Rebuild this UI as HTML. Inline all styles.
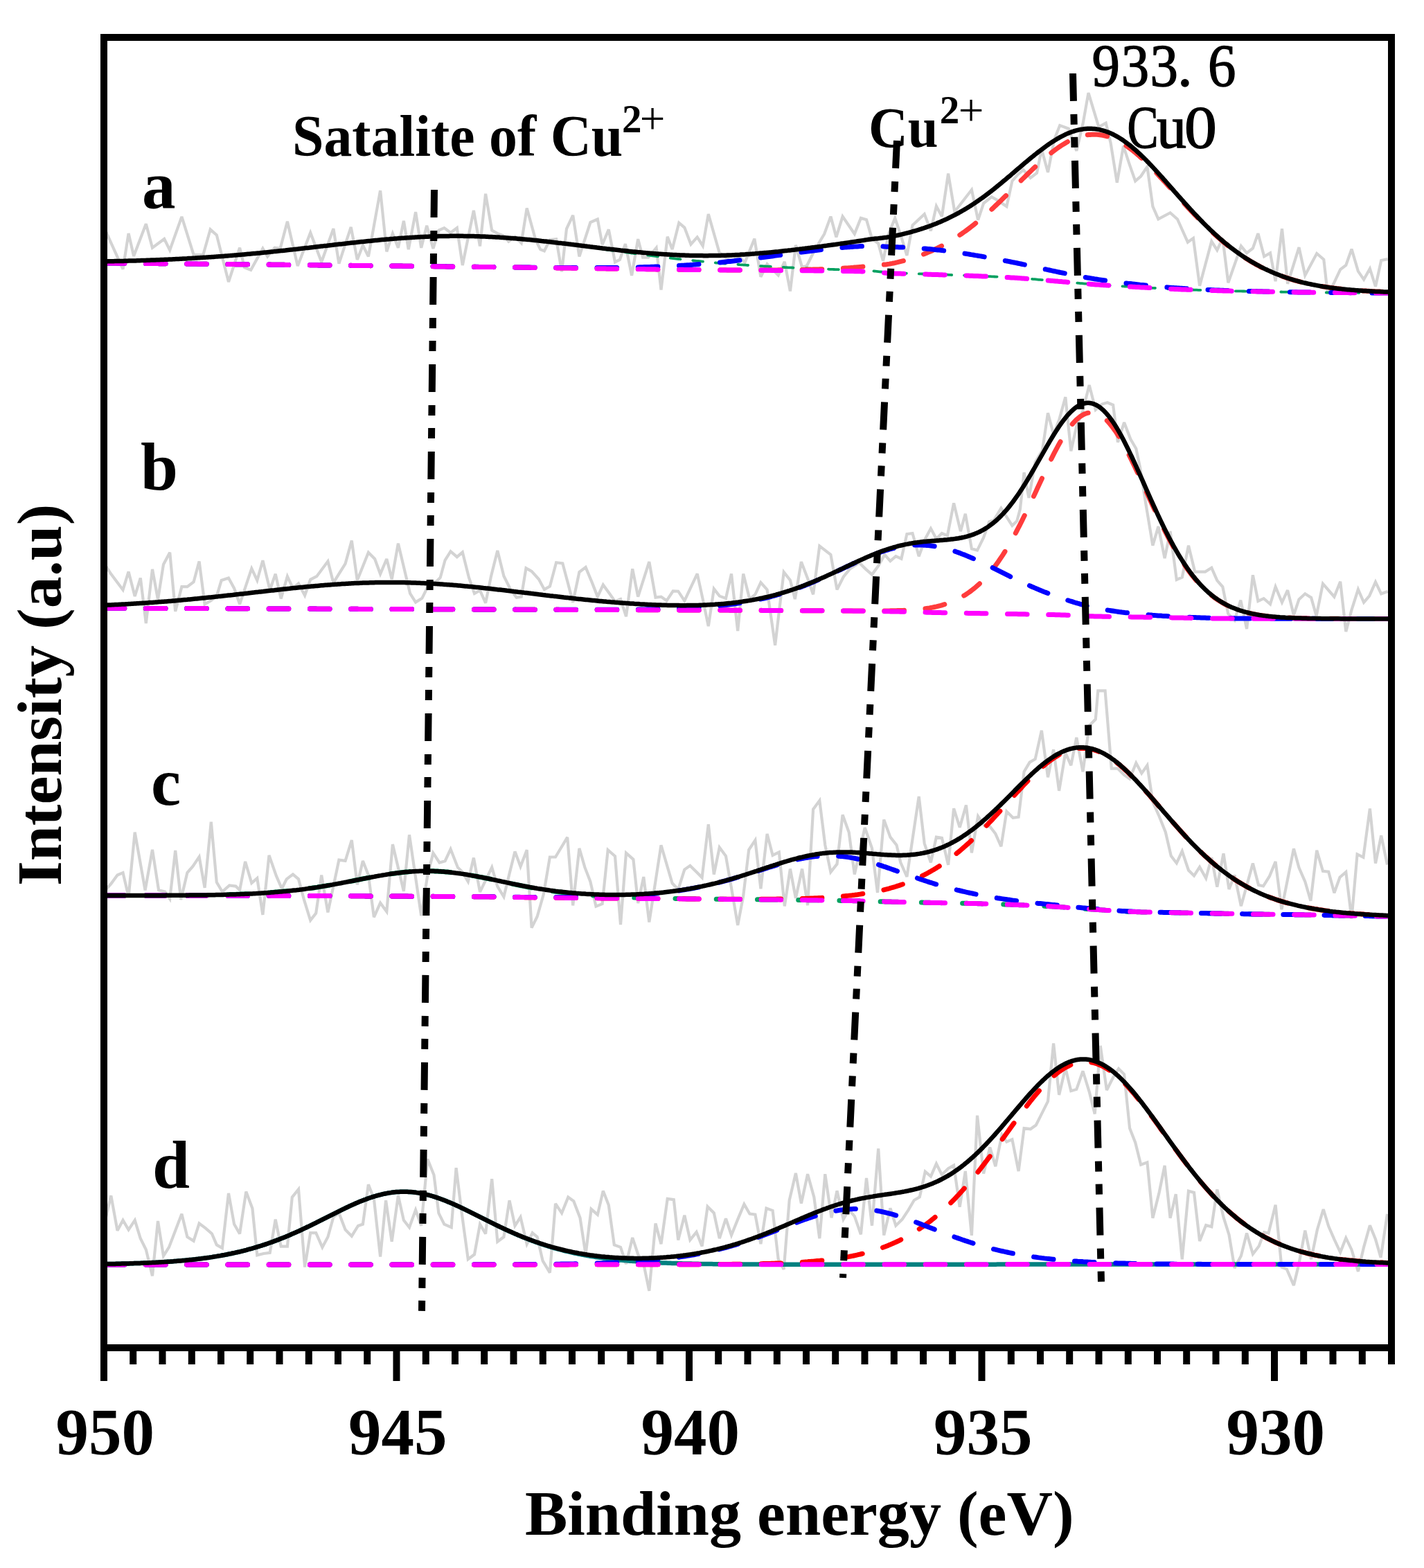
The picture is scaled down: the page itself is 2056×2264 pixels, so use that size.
<!DOCTYPE html>
<html><head><meta charset="utf-8"><style>
html,body{margin:0;padding:0;background:#fff;}
body{width:2056px;height:2264px;overflow:hidden;}
svg{display:block;}
.b{font-family:"Liberation Serif","Times New Roman",serif;font-weight:bold;fill:#000;}
.r{font-family:"Liberation Serif","Times New Roman",serif;font-weight:normal;fill:#000;}
</style></head><body>
<svg width="2056" height="2264" viewBox="0 0 2056 2264">
<rect width="2056" height="2264" fill="#fff"/>
<g clip-path="url(#c)">
<path d="M150.0,327.8 L177.5,388.6 L185.6,337.0 L193.1,369.8 L210.8,323.3 L220.0,357.7 L237.2,345.0 L245.2,361.1 L262.4,312.9 L279.6,368.0 L293.3,368.0 L303.7,331.3 L312.8,339.3 L330.0,407.0 L346.1,357.7 L353.0,386.3 L362.2,389.8 L379.4,358.8 L386.2,370.3 L396.6,357.7 L404.6,358.8 L414.9,319.8 L429.8,384.0 L448.2,335.9 L464.2,378.3 L481.4,330.1 L489.4,380.6 L506.7,327.8 L515.8,374.9 L523.9,354.2 L531.9,370.3 L549.1,275.1 L558.3,363.4 L566.9,337.2 L574.9,357.8 L582.9,318.8 L589.8,360.1 L600.1,306.2 L608.2,357.8 L616.2,325.7 L625.4,358.9 L633.4,332.6 L641.4,329.1 L650.6,336.0 L659.8,329.1 L667.8,383.0 L683.9,303.9 L693.0,355.5 L701.1,279.8 L710.2,332.6 L718.3,337.2 L727.4,340.6 L734.3,348.6 L743.5,341.7 L752.7,350.9 L760.7,300.5 L773.3,346.3 L780.2,360.1 L785.9,362.4 L793.9,346.3 L803.1,345.2 L811.1,392.2 L818.0,330.3 L827.2,310.8 L836.4,370.4 L852.4,321.1 L862.8,316.5 L869.6,353.2 L878.8,331.4 L888.0,378.4 L894.9,375.0 L902.9,352.1 L912.1,397.9 L921.2,345.2 L928.1,371.6 L936.1,371.6 L947.6,357.8 L954.5,418.6 L963.7,341.7 L970.6,360.1 L980.3,321.7 L988.3,328.6 L997.5,352.7 L1006.7,342.4 L1014.7,355.0 L1022.8,309.1 L1038.8,365.3 L1048.0,372.2 L1057.2,376.8 L1066.3,369.9 L1075.5,379.1 L1089.3,344.7 L1098.4,399.7 L1107.6,381.4 L1116.8,390.6 L1123.7,397.4 L1132.8,377.9 L1140.9,420.4 L1148.9,353.9 L1158.1,386.0 L1165.0,383.7 L1174.1,365.3 L1183.3,349.3 L1190.2,337.8 L1199.4,312.6 L1207.4,342.4 L1216.6,312.6 L1233.8,337.8 L1242.9,314.9 L1251.0,317.2 L1259.0,344.7 L1268.2,351.6 L1275.0,376.8 L1283.1,337.8 L1292.2,314.9 L1301.4,342.4 L1309.4,368.8 L1317.5,325.2 L1334.7,309.1 L1343.9,333.2 L1351.9,297.7 L1359.9,312.6 L1369.1,250.6 L1378.3,305.7 L1402.9,274.0 L1412.1,317.6 L1420.1,293.5 L1431.6,284.3 L1439.6,288.9 L1453.4,298.1 L1461.4,261.4 L1469.4,252.2 L1477.5,245.3 L1487.8,256.8 L1497.0,249.9 L1503.9,215.5 L1513.0,248.8 L1522.2,201.7 L1530.2,181.1 L1542.8,185.7 L1554.3,217.8 L1563.5,178.8 L1571.5,134.1 L1586.4,183.4 L1596.7,177.7 L1603.6,206.3 L1612.8,263.7 L1622.0,210.9 L1631.1,238.4 L1639.2,261.4 L1647.2,254.5 L1656.4,240.7 L1664.4,298.1 L1672.4,316.4 L1689.6,307.2 L1700.0,316.4 L1714.9,349.7 L1722.9,343.9 L1732.1,412.8 L1749.3,348.5 L1757.3,361.1 L1765.3,343.9 L1773.3,408.2 L1791.9,355.3 L1800.1,365.3 L1808.9,358.4 L1816.4,337.1 L1825.2,370.4 L1834.0,365.3 L1841.6,406.2 L1851.0,330.2 L1859.1,409.9 L1875.5,357.2 L1884.3,397.4 L1901.2,366.0 L1911.3,374.7 L1916.9,424.4 L1925.7,409.3 L1935.2,389.2 L1943.3,382.9 L1951.5,359.7 L1960.9,391.7 L1969.1,403.6 L1977.9,387.9 L1986.0,413.7 L1994.2,376.0 L2003.6,374.1" stroke="#d3d3d3" stroke-width="4.2" fill="none" stroke-linejoin="miter" stroke-miterlimit="3"/><path d="M150.0,812.8 L160.3,828.8 L177.5,851.7 L185.6,825.4 L194.7,860.9 L202.8,834.5 L210.8,899.9 L220.0,821.9 L228.0,865.5 L236.0,815.0 L245.2,797.8 L253.2,882.7 L262.4,847.2 L270.4,847.2 L279.6,840.3 L287.6,810.5 L295.6,872.4 L303.7,867.8 L312.8,860.9 L319.7,838.0 L330.0,834.5 L338.1,849.4 L346.1,872.4 L363.3,820.8 L371.3,838.0 L379.4,809.3 L389.7,851.7 L397.7,828.8 L405.7,864.4 L414.9,832.2 L422.9,849.4 L431.0,842.6 L440.1,859.8 L448.2,836.8 L457.3,832.2 L473.4,810.5 L481.4,841.4 L498.6,813.9 L507.8,780.6 L515.8,838.0 L531.9,797.8 L541.1,807.0 L549.1,828.8 L558.3,807.0 L565.7,836.3 L574.9,784.7 L592.1,857.0 L600.1,869.6 L609.3,863.9 L617.3,847.8 L626.5,843.2 L635.7,834.0 L642.6,808.8 L650.6,796.2 L659.8,804.2 L667.8,797.3 L677.0,834.0 L685.0,857.0 L693.0,852.4 L701.1,870.7 L709.1,831.7 L718.3,795.0 L727.4,831.7 L737.8,852.4 L745.8,862.7 L752.7,861.6 L759.5,820.3 L767.6,824.9 L777.9,836.3 L785.9,851.2 L793.9,846.7 L803.1,812.2 L812.3,813.4 L820.3,843.2 L827.2,869.6 L836.4,826.0 L845.6,819.1 L854.7,840.9 L862.8,861.6 L870.8,844.4 L880.0,857.0 L888.0,868.4 L896.0,865.0 L904.0,890.2 L913.2,821.4 L921.2,861.6 L937.3,811.1 L946.5,862.7 L954.5,861.6 L962.5,867.3 L971.7,853.5 L979.2,853.7 L988.3,867.4 L1006.7,828.4 L1014.7,865.1 L1022.8,904.1 L1030.8,850.2 L1038.8,860.6 L1048.0,864.0 L1056.0,828.4 L1065.2,911.0 L1073.2,828.4 L1082.4,865.1 L1090.4,858.3 L1098.4,841.1 L1107.6,851.4 L1119.1,931.7 L1131.7,826.1 L1140.9,837.6 L1147.8,865.1 L1156.9,811.2 L1166.1,835.3 L1174.1,858.3 L1183.3,788.3 L1199.4,800.9 L1208.5,851.4 L1217.7,833.0 L1226.9,821.6 L1240.6,812.4 L1249.8,821.6 L1259.0,829.6 L1268.2,817.0 L1277.3,800.9 L1285.4,810.1 L1293.4,803.2 L1301.4,806.7 L1309.4,771.1 L1317.5,770.0 L1326.7,803.2 L1335.8,778.0 L1343.9,763.1 L1351.9,778.0 L1359.9,770.0 L1367.9,773.4 L1377.1,726.4 L1386.9,767.1 L1393.8,741.8 L1402.9,792.3 L1411.0,794.6 L1420.1,776.2 L1428.2,753.3 L1435.0,751.0 L1445.4,733.8 L1453.4,746.4 L1461.4,759.0 L1468.3,752.2 L1472.9,735.0 L1478.6,682.2 L1485.5,718.9 L1494.7,667.3 L1505.0,650.1 L1513.0,596.2 L1521.1,627.2 L1529.1,606.5 L1538.3,573.3 L1546.3,651.2 L1554.3,615.7 L1563.5,592.8 L1572.7,556.1 L1581.8,591.6 L1591.0,583.6 L1599.0,581.3 L1607.1,584.7 L1613.9,638.6 L1623.1,610.0 L1632.3,634.0 L1640.3,647.8 L1646.1,675.3 L1654.1,725.8 L1664.4,787.7 L1672.4,760.2 L1681.6,806.1 L1689.6,767.1 L1698.8,837.0 L1706.8,833.6 L1716.0,787.7 L1725.2,825.6 L1740.1,825.6 L1749.3,819.8 L1757.3,838.2 L1765.3,847.3 L1773.3,886.3 L1782.5,895.5 L1791.3,866.7 L1800.1,908.1 L1808.9,830.3 L1816.4,867.9 L1824.6,864.2 L1834.0,872.3 L1841.6,847.2 L1851.0,869.8 L1859.1,852.2 L1867.9,888.0 L1875.5,865.4 L1884.3,857.3 L1893.1,862.9 L1900.6,889.3 L1910.0,842.8 L1926.4,861.7 L1935.2,839.7 L1943.3,911.9 L1951.5,880.5 L1960.9,851.0 L1969.1,869.8 L1977.2,860.4 L1986.0,840.3 L1994.2,857.3 L2003.6,854.1" stroke="#d3d3d3" stroke-width="4.2" fill="none" stroke-linejoin="miter" stroke-miterlimit="3"/><path d="M150.0,1287.6 L160.3,1276.1 L169.5,1263.5 L177.5,1260.1 L185.6,1294.5 L194.7,1201.6 L209.6,1285.3 L220.0,1226.8 L229.1,1285.3 L238.3,1287.6 L245.2,1297.9 L253.2,1228.0 L261.2,1299.1 L270.4,1260.1 L278.4,1250.9 L287.6,1237.2 L295.6,1281.9 L304.8,1186.7 L312.8,1273.9 L320.9,1287.6 L331.2,1278.4 L340.4,1279.6 L346.1,1285.3 L354.1,1244.0 L363.3,1275.0 L371.3,1268.1 L379.4,1320.9 L388.5,1234.9 L398.9,1264.7 L406.9,1283.0 L413.8,1269.3 L422.9,1262.4 L431.0,1269.3 L439.0,1299.1 L448.2,1328.9 L456.2,1318.6 L464.2,1263.5 L473.4,1317.4 L489.4,1241.7 L498.6,1242.9 L507.8,1213.1 L515.8,1277.3 L523.9,1242.9 L531.9,1263.5 L539.9,1324.3 L549.1,1303.7 L558.3,1316.3 L566.9,1219.1 L582.9,1286.8 L591.0,1205.4 L608.2,1322.3 L617.3,1263.9 L625.4,1231.7 L634.5,1245.5 L642.6,1243.2 L650.6,1226.0 L660.9,1252.4 L667.8,1259.3 L675.8,1273.0 L683.9,1238.6 L693.0,1287.9 L710.2,1252.4 L718.3,1279.9 L727.4,1294.8 L735.5,1261.6 L743.5,1229.4 L751.5,1251.2 L760.7,1227.2 L767.6,1339.5 L775.6,1323.5 L784.8,1291.4 L793.9,1237.5 L802.0,1237.5 L819.2,1208.8 L827.2,1307.4 L836.4,1224.9 L844.4,1252.4 L852.4,1273.0 L860.5,1308.6 L869.6,1305.1 L877.7,1227.2 L888.0,1236.3 L896.0,1335.0 L904.0,1231.7 L914.4,1240.9 L921.2,1304.0 L929.3,1266.1 L937.3,1331.5 L954.5,1220.3 L970.6,1275.3 L979.2,1284.3 L988.3,1255.6 L996.4,1249.9 L1005.6,1259.1 L1013.6,1267.1 L1022.8,1190.3 L1030.8,1262.5 L1038.8,1223.5 L1048.0,1236.1 L1056.0,1282.0 L1065.2,1335.9 L1073.2,1293.5 L1081.2,1227.0 L1090.4,1213.2 L1098.4,1283.2 L1107.6,1204.0 L1115.6,1235.0 L1124.8,1230.4 L1132.8,1308.4 L1140.9,1254.5 L1148.9,1296.9 L1158.1,1254.5 L1166.1,1307.2 L1174.1,1168.5 L1183.3,1155.9 L1191.3,1220.1 L1199.4,1259.1 L1208.5,1247.6 L1216.6,1176.5 L1225.7,1201.7 L1233.8,1262.5 L1248.7,1194.9 L1259.0,1224.7 L1267.0,1288.9 L1276.2,1183.4 L1285.4,1208.6 L1294.5,1220.1 L1300.3,1245.3 L1309.4,1266.0 L1326.7,1150.1 L1334.7,1217.8 L1343.9,1245.3 L1351.9,1208.6 L1359.9,1209.8 L1369.1,1248.8 L1377.1,1167.3 L1385.7,1194.6 L1394.9,1162.5 L1402.9,1231.3 L1412.1,1178.5 L1421.3,1192.3 L1429.3,1193.4 L1437.3,1203.8 L1445.4,1222.1 L1453.4,1171.7 L1462.6,1180.8 L1470.6,1179.7 L1478.6,1114.3 L1486.7,1100.6 L1494.7,1096.0 L1503.9,1054.7 L1513.0,1122.3 L1521.1,1082.2 L1529.1,1141.8 L1538.3,1086.8 L1546.3,1105.1 L1554.3,1065.0 L1563.5,1114.3 L1572.7,1047.8 L1581.8,1038.6 L1585.3,997.3 L1595.6,997.3 L1604.8,1109.7 L1613.9,1109.7 L1623.1,1118.9 L1631.1,1124.6 L1640.3,1101.7 L1648.3,1116.6 L1656.4,1105.1 L1664.4,1157.9 L1673.6,1178.5 L1682.8,1201.5 L1690.8,1235.9 L1698.8,1246.2 L1706.8,1229.0 L1716.0,1256.5 L1724.0,1264.5 L1732.1,1251.9 L1741.2,1268.0 L1749.3,1238.2 L1757.3,1280.6 L1766.5,1232.4 L1774.5,1284.0 L1782.5,1263.4 L1791.9,1308.2 L1808.9,1246.6 L1817.1,1278.0 L1824.0,1279.3 L1832.8,1265.5 L1841.6,1244.1 L1850.4,1313.2 L1867.9,1225.3 L1875.5,1252.9 L1884.3,1273.0 L1892.4,1300.7 L1901.2,1227.8 L1910.0,1257.9 L1918.2,1258.6 L1926.4,1289.3 L1934.5,1266.7 L1943.3,1259.2 L1951.5,1326.4 L1959.6,1233.4 L1968.4,1237.8 L1977.9,1167.5 L1986.0,1246.6 L1994.2,1206.4 L2003.0,1248.5" stroke="#d3d3d3" stroke-width="4.2" fill="none" stroke-linejoin="miter" stroke-miterlimit="3"/><path d="M150.0,1769.9 L160.3,1726.3 L169.5,1776.8 L177.5,1761.9 L185.6,1775.6 L194.7,1761.9 L202.8,1788.3 L210.8,1804.3 L220.0,1842.2 L228.0,1763.0 L236.0,1813.5 L244.0,1800.9 L262.4,1752.7 L270.4,1786.0 L279.6,1791.7 L287.6,1766.5 L296.8,1773.3 L306.0,1781.4 L312.8,1797.4 L320.9,1802.0 L330.0,1722.9 L338.1,1767.6 L346.1,1781.4 L355.3,1720.6 L364.4,1744.7 L371.3,1812.3 L380.5,1810.0 L389.7,1808.9 L397.7,1760.7 L405.7,1799.7 L414.9,1799.7 L421.8,1728.6 L431.0,1717.2 L440.1,1829.5 L448.2,1780.2 L456.2,1780.2 L465.4,1800.9 L473.4,1786.0 L481.4,1757.3 L489.4,1751.6 L498.6,1775.6 L507.8,1784.8 L517.0,1769.9 L523.9,1767.6 L531.9,1710.3 L539.9,1730.9 L549.1,1814.6 L557.1,1733.2 L565.7,1792.8 L574.9,1726.3 L582.9,1761.9 L591.0,1772.2 L600.1,1747.0 L608.2,1769.9 L617.3,1673.6 L626.5,1696.5 L633.4,1751.6 L641.4,1767.6 L651.7,1772.2 L658.6,1686.2 L666.7,1751.6 L675.8,1818.1 L685.0,1811.2 L693.0,1767.6 L701.1,1781.4 L710.2,1702.2 L718.3,1792.8 L727.4,1786.0 L735.5,1733.2 L743.5,1769.9 L751.5,1757.3 L760.7,1796.3 L768.7,1780.2 L775.6,1786.0 L783.6,1820.4 L793.9,1837.6 L802.0,1737.8 L811.1,1751.6 L820.3,1728.6 L828.3,1734.4 L837.5,1758.4 L845.6,1811.2 L853.6,1745.8 L862.8,1753.9 L870.8,1719.4 L878.8,1740.1 L886.8,1797.4 L896.0,1800.9 L904.0,1825.0 L913.2,1787.1 L921.2,1811.2 L929.3,1825.0 L937.3,1863.9 L946.5,1766.5 L954.5,1796.3 L963.7,1730.9 L972.8,1732.1 L979.2,1790.4 L988.3,1754.8 L996.4,1790.4 L1005.6,1778.9 L1013.6,1799.5 L1021.6,1742.2 L1030.8,1751.4 L1038.8,1788.1 L1048.0,1759.4 L1056.0,1783.5 L1065.2,1760.6 L1074.4,1738.8 L1082.4,1752.5 L1090.4,1753.7 L1098.4,1796.1 L1106.5,1744.5 L1115.6,1747.9 L1123.7,1817.9 L1131.7,1832.8 L1139.7,1733.0 L1148.9,1694.0 L1156.9,1737.6 L1166.1,1695.2 L1175.3,1728.4 L1183.3,1788.1 L1191.3,1695.2 L1200.5,1758.3 L1208.5,1719.3 L1217.7,1760.6 L1225.7,1746.8 L1233.8,1756.0 L1242.9,1782.3 L1251.0,1700.9 L1259.0,1769.7 L1268.2,1658.5 L1276.2,1783.5 L1285.4,1744.5 L1293.4,1769.7 L1302.6,1760.6 L1311.7,1746.8 L1319.8,1733.0 L1327.8,1728.4 L1335.8,1691.7 L1343.9,1698.6 L1351.9,1680.3 L1359.9,1696.3 L1369.1,1687.2 L1377.1,1682.6 L1385.7,1742.6 L1393.8,1691.0 L1402.9,1783.9 L1411.0,1610.7 L1420.1,1694.4 L1429.3,1656.6 L1437.3,1684.1 L1446.5,1638.3 L1453.4,1648.6 L1461.4,1645.1 L1470.6,1691.0 L1478.6,1629.1 L1487.8,1630.2 L1495.8,1624.5 L1503.9,1608.4 L1513.0,1590.1 L1521.1,1506.4 L1529.1,1580.9 L1538.3,1541.9 L1546.3,1575.2 L1554.3,1572.9 L1563.5,1546.5 L1572.7,1576.3 L1580.7,1608.4 L1588.7,1509.8 L1597.9,1574.0 L1607.1,1555.7 L1615.1,1543.1 L1623.1,1551.1 L1631.1,1629.1 L1639.2,1649.7 L1647.2,1681.8 L1656.4,1678.4 L1664.4,1758.7 L1673.6,1722.0 L1681.6,1683.0 L1689.6,1758.7 L1697.7,1724.3 L1706.8,1818.3 L1716.0,1719.7 L1724.0,1722.0 L1732.1,1791.9 L1741.2,1769.0 L1749.3,1771.3 L1757.3,1717.4 L1766.5,1757.5 L1774.5,1782.8 L1782.5,1830.9 L1791.9,1813.2 L1800.1,1780.5 L1808.9,1810.7 L1817.7,1799.3 L1825.2,1779.2 L1831.5,1780.5 L1841.6,1739.7 L1850.4,1829.5 L1857.9,1832.6 L1867.9,1855.9 L1875.5,1824.5 L1884.3,1776.7 L1893.1,1818.2 L1901.9,1775.5 L1910.7,1746.0 L1918.2,1770.5 L1926.4,1789.3 L1935.2,1808.1 L1943.3,1787.4 L1951.5,1804.4 L1960.9,1835.8 L1969.1,1800.6 L1977.9,1769.2 L1986.0,1789.3 L1993.6,1815.7 L2003.0,1752.9" stroke="#d3d3d3" stroke-width="4.2" fill="none" stroke-linejoin="miter" stroke-miterlimit="3"/>
<path d="M150.0,377.5 L152.0,377.4 L154.0,377.4 L156.0,377.3 L158.0,377.3 L160.0,377.3 L162.0,377.2 L164.0,377.2 L166.0,377.1 L168.0,377.1 L170.0,377.0 L172.0,377.0 L174.0,377.0 L176.0,376.9 L178.0,376.9 L180.0,376.8 L182.0,376.8 L184.0,376.7 L186.0,376.6 L188.0,376.6 L190.0,376.5 L192.0,376.5 L194.0,376.4 L196.0,376.4 L198.0,376.3 L200.0,376.2 L202.0,376.2 L204.0,376.1 L206.0,376.0 L208.0,376.0 L210.0,375.9 L212.0,375.8 L214.0,375.8 L216.0,375.7 L218.0,375.6 L220.0,375.6 L222.0,375.5 L224.0,375.4 L226.0,375.3 L228.0,375.3 L230.0,375.2 L232.0,375.1 L234.0,375.0 L236.0,374.9 L238.0,374.8 L240.0,374.7 L242.0,374.7 L244.0,374.6 L246.0,374.5 L248.0,374.4 L250.0,374.3 L252.0,374.2 L254.0,374.1 L256.0,374.0 L258.0,373.9 L260.0,373.8 L262.0,373.7 L264.0,373.6 L266.0,373.5 L268.0,373.4 L270.0,373.3 L272.0,373.1 L274.0,373.0 L276.0,372.9 L278.0,372.8 L280.0,372.7 L282.0,372.6 L284.0,372.4 L286.0,372.3 L288.0,372.2 L290.0,372.1 L292.0,372.0 L294.0,371.8 L296.0,371.7 L298.0,371.6 L300.0,371.4 L302.0,371.3 L304.0,371.2 L306.0,371.0 L308.0,370.9 L310.0,370.7 L312.0,370.6 L314.0,370.4 L316.0,370.3 L318.0,370.2 L320.0,370.0 L322.0,369.9 L324.0,369.7 L326.0,369.5 L328.0,369.4 L330.0,369.2 L332.0,369.1 L334.0,368.9 L336.0,368.7 L338.0,368.6 L340.0,368.4 L342.0,368.2 L344.0,368.1 L346.0,367.9 L348.0,367.7 L350.0,367.6 L352.0,367.4 L354.0,367.2 L356.0,367.0 L358.0,366.8 L360.0,366.7 L362.0,366.5 L364.0,366.3 L366.0,366.1 L368.0,365.9 L370.0,365.7 L372.0,365.5 L374.0,365.4 L376.0,365.2 L378.0,365.0 L380.0,364.8 L382.0,364.6 L384.0,364.4 L386.0,364.2 L388.0,364.0 L390.0,363.8 L392.0,363.6 L394.0,363.4 L396.0,363.1 L398.0,362.9 L400.0,362.7 L402.0,362.5 L404.0,362.3 L406.0,362.1 L408.0,361.9 L410.0,361.7 L412.0,361.5 L414.0,361.2 L416.0,361.0 L418.0,360.8 L420.0,360.6 L422.0,360.4 L424.0,360.1 L426.0,359.9 L428.0,359.7 L430.0,359.5 L432.0,359.2 L434.0,359.0 L436.0,358.8 L438.0,358.6 L440.0,358.3 L442.0,358.1 L444.0,357.9 L446.0,357.7 L448.0,357.4 L450.0,357.2 L452.0,357.0 L454.0,356.7 L456.0,356.5 L458.0,356.3 L460.0,356.1 L462.0,355.8 L464.0,355.6 L466.0,355.4 L468.0,355.1 L470.0,354.9 L472.0,354.7 L474.0,354.4 L476.0,354.2 L478.0,354.0 L480.0,353.8 L482.0,353.5 L484.0,353.3 L486.0,353.1 L488.0,352.8 L490.0,352.6 L492.0,352.4 L494.0,352.2 L496.0,351.9 L498.0,351.7 L500.0,351.5 L502.0,351.3 L504.0,351.1 L506.0,350.8 L508.0,350.6 L510.0,350.4 L512.0,350.2 L514.0,350.0 L516.0,349.7 L518.0,349.5 L520.0,349.3 L522.0,349.1 L524.0,348.9 L526.0,348.7 L528.0,348.5 L530.0,348.3 L532.0,348.1 L534.0,347.9 L536.0,347.7 L538.0,347.5 L540.0,347.3 L542.0,347.1 L544.0,346.9 L546.0,346.7 L548.0,346.5 L550.0,346.3 L552.0,346.2 L554.0,346.0 L556.0,345.8 L558.0,345.6 L560.0,345.4 L562.0,345.3 L564.0,345.1 L566.0,344.9 L568.0,344.8 L570.0,344.6 L572.0,344.5 L574.0,344.3 L576.0,344.1 L578.0,344.0 L580.0,343.8 L582.0,343.7 L584.0,343.6 L586.0,343.4 L588.0,343.3 L590.0,343.2 L592.0,343.0 L594.0,342.9 L596.0,342.8 L598.0,342.7 L600.0,342.5 L602.0,342.4 L604.0,342.3 L606.0,342.2 L608.0,342.1 L610.0,342.0 L612.0,341.9 L614.0,341.8 L616.0,341.8 L618.0,341.7 L620.0,341.6 L622.0,341.5 L624.0,341.4 L626.0,341.4 L628.0,341.3 L630.0,341.3 L632.0,341.2 L634.0,341.1 L636.0,341.1 L638.0,341.0 L640.0,341.0 L642.0,341.0 L644.0,340.9 L646.0,340.9 L648.0,340.9 L650.0,340.9 L652.0,340.8 L654.0,340.8 L656.0,340.8 L658.0,340.8 L660.0,340.8 L662.0,340.8 L664.0,340.8 L666.0,340.8 L668.0,340.9 L670.0,340.9 L672.0,340.9 L674.0,340.9 L676.0,341.0 L678.0,341.0 L680.0,341.0 L682.0,341.1 L684.0,341.1 L686.0,341.2 L688.0,341.2 L690.0,341.3 L692.0,341.4 L694.0,341.4 L696.0,341.5 L698.0,341.6 L700.0,341.7 L702.0,341.8 L704.0,341.9 L706.0,341.9 L708.0,342.0 L710.0,342.1 L712.0,342.2 L714.0,342.4 L716.0,342.5 L718.0,342.6 L720.0,342.7 L722.0,342.8 L724.0,343.0 L726.0,343.1 L728.0,343.2 L730.0,343.4 L732.0,343.5 L734.0,343.7 L736.0,343.8 L738.0,344.0 L740.0,344.1 L742.0,344.3 L744.0,344.5 L746.0,344.6 L748.0,344.8 L750.0,345.0 L752.0,345.2 L754.0,345.3 L756.0,345.5 L758.0,345.7 L760.0,345.9 L762.0,346.1 L764.0,346.3 L766.0,346.5 L768.0,346.7 L770.0,346.9 L772.0,347.1 L774.0,347.3 L776.0,347.5 L778.0,347.8 L780.0,348.0 L782.0,348.2 L784.0,348.4 L786.0,348.7 L788.0,348.9 L790.0,349.1 L792.0,349.4 L794.0,349.6 L796.0,349.8 L798.0,350.1 L800.0,350.3 L802.0,350.6 L804.0,350.8 L806.0,351.1 L808.0,351.3 L810.0,351.6 L812.0,351.8 L814.0,352.1 L816.0,352.3 L818.0,352.6 L820.0,352.8 L822.0,353.1 L824.0,353.4 L826.0,353.6 L828.0,353.9 L830.0,354.2 L832.0,354.4 L834.0,354.7 L836.0,355.0 L838.0,355.2 L840.0,355.5 L842.0,355.8 L844.0,356.1 L846.0,356.3 L848.0,356.6 L850.0,356.9 L852.0,357.2 L854.0,357.4 L856.0,357.7 L858.0,358.0 L860.0,358.3 L862.0,358.5 L864.0,358.8 L866.0,359.1 L868.0,359.4 L870.0,359.7 L872.0,359.9 L874.0,360.2 L876.0,360.5 L878.0,360.8 L880.0,361.1 L882.0,361.3 L884.0,361.6 L886.0,361.9 L888.0,362.2 L890.0,362.5 L892.0,362.7 L894.0,363.0 L896.0,363.3 L898.0,363.6 L900.0,363.8 L902.0,364.1 L904.0,364.4 L906.0,364.7 L908.0,364.9 L910.0,365.2 L912.0,365.5 L914.0,365.7 L916.0,366.0 L918.0,366.3 L920.0,366.6 L922.0,366.8 L924.0,367.1 L926.0,367.4 L928.0,367.6 L930.0,367.9 L932.0,368.1 L934.0,368.4 L936.0,368.7 L938.0,368.9 L940.0,369.2 L942.0,369.4 L944.0,369.7 L946.0,369.9 L948.0,370.2 L950.0,370.4 L952.0,370.7 L954.0,370.9 L956.0,371.2 L958.0,371.4 L960.0,371.7 L962.0,371.9 L964.0,372.2 L966.0,372.4 L968.0,372.6 L970.0,372.9 L972.0,373.1 L974.0,373.3 L976.0,373.6 L978.0,373.8 L980.0,374.0 L982.0,374.2 L984.0,374.5 L986.0,374.7 L988.0,374.9 L990.0,375.1 L992.0,375.3 L994.0,375.6 L996.0,375.8 L998.0,376.0 L1000.0,376.2 L1002.0,376.4 L1004.0,376.6 L1006.0,376.8 L1008.0,377.0 L1010.0,377.2 L1012.0,377.4 L1014.0,377.6 L1016.0,377.8 L1018.0,378.0 L1020.0,378.2 L1022.0,378.4 L1024.0,378.6 L1026.0,378.7 L1028.0,378.9 L1030.0,379.1 L1032.0,379.3 L1034.0,379.5 L1036.0,379.6 L1038.0,379.8 L1040.0,380.0 L1042.0,380.1 L1044.0,380.3 L1046.0,380.5 L1048.0,380.6 L1050.0,380.8 L1052.0,381.0 L1054.0,381.1 L1056.0,381.3 L1058.0,381.4 L1060.0,381.6 L1062.0,381.7 L1064.0,381.9 L1066.0,382.0 L1068.0,382.2 L1070.0,382.3 L1072.0,382.4 L1074.0,382.6 L1076.0,382.7 L1078.0,382.9 L1080.0,383.0 L1082.0,383.1 L1084.0,383.2 L1086.0,383.4 L1088.0,383.5 L1090.0,383.6 L1092.0,383.8 L1094.0,383.9 L1096.0,384.0 L1098.0,384.1 L1100.0,384.2 L1102.0,384.4 L1104.0,384.5 L1106.0,384.6 L1108.0,384.7 L1110.0,384.8 L1112.0,384.9 L1114.0,385.0 L1116.0,385.1 L1118.0,385.3 L1120.0,385.4 L1122.0,385.5 L1124.0,385.6 L1126.0,385.7 L1128.0,385.8 L1130.0,385.9 L1132.0,386.0 L1134.0,386.1 L1136.0,386.2 L1138.0,386.3 L1140.0,386.4 L1142.0,386.4 L1144.0,386.5 L1146.0,386.6 L1148.0,386.7 L1150.0,386.8 L1152.0,386.9 L1154.0,387.0 L1156.0,387.1 L1158.0,387.2 L1160.0,387.2 L1162.0,387.3 L1164.0,387.4 L1166.0,387.5 L1168.0,387.6 L1170.0,387.7 L1172.0,387.8 L1174.0,387.8 L1176.0,387.9 L1178.0,388.0 L1180.0,388.1 L1182.0,388.1 L1184.0,388.2 L1186.0,388.3 L1188.0,388.4 L1190.0,388.5 L1192.0,388.5 L1194.0,388.6 L1196.0,388.7 L1198.0,388.8 L1200.0,388.8 L1202.0,388.9 L1204.0,389.0 L1206.0,389.1 L1208.0,389.1 L1210.0,389.2 L1212.0,389.3 L1214.0,389.4 L1216.0,389.4 L1218.0,389.5 L1220.0,389.6 L1222.0,389.6 L1224.0,389.7 L1226.0,389.8 L1228.0,389.9 L1230.0,389.9 L1232.0,390.0 L1234.0,390.1 L1236.0,390.2 L1238.0,390.2 L1240.0,390.3 L1242.0,390.4 L1244.0,390.4 L1246.0,390.5 L1248.0,390.6 L1250.0,390.7 L1252.0,390.7 L1254.0,390.9 L1256.0,391.0 L1258.0,391.1 L1260.0,391.3 L1262.0,391.5 L1264.0,391.7 L1266.0,391.9 L1268.0,392.1 L1270.0,392.3 L1272.0,392.5 L1274.0,392.7 L1276.0,392.9 L1278.0,393.1 L1280.0,393.3 L1282.0,393.4 L1284.0,393.6 L1286.0,393.7 L1288.0,393.8 L1290.0,393.9 L1292.0,394.0 L1294.0,394.1 L1296.0,394.2 L1298.0,394.3 L1300.0,394.4 L1302.0,394.5 L1304.0,394.6 L1306.0,394.6 L1308.0,394.7 L1310.0,394.8 L1312.0,394.8 L1314.0,394.9 L1316.0,395.0 L1318.0,395.0 L1320.0,395.1 L1322.0,395.2 L1324.0,395.2 L1326.0,395.3 L1328.0,395.4 L1330.0,395.4 L1332.0,395.5 L1334.0,395.5 L1336.0,395.6 L1338.0,395.7 L1340.0,395.7 L1342.0,395.8 L1344.0,395.9 L1346.0,395.9 L1348.0,396.0 L1350.0,396.1 L1352.0,396.2 L1354.0,396.2 L1356.0,396.3 L1358.0,396.4 L1360.0,396.5 L1362.0,396.5 L1364.0,396.6 L1366.0,396.7 L1368.0,396.7 L1370.0,396.8 L1372.0,396.9 L1374.0,397.0 L1376.0,397.0 L1378.0,397.1 L1380.0,397.2 L1382.0,397.3 L1384.0,397.3 L1386.0,397.4 L1388.0,397.5 L1390.0,397.6 L1392.0,397.6 L1394.0,397.7 L1396.0,397.8 L1398.0,397.9 L1400.0,398.0 L1402.0,398.0 L1404.0,398.1 L1406.0,398.2 L1408.0,398.3 L1410.0,398.4 L1412.0,398.5 L1414.0,398.5 L1416.0,398.6 L1418.0,398.7 L1420.0,398.8 L1422.0,398.9 L1424.0,399.0 L1426.0,399.1 L1428.0,399.2 L1430.0,399.2 L1432.0,399.3 L1434.0,399.4 L1436.0,399.5 L1438.0,399.6 L1440.0,399.7 L1442.0,399.8 L1444.0,399.9 L1446.0,400.0 L1448.0,400.1 L1450.0,400.2 L1452.0,400.3 L1454.0,400.4 L1456.0,400.5 L1458.0,400.7 L1460.0,400.8 L1462.0,400.9 L1464.0,401.0 L1466.0,401.1 L1468.0,401.2 L1470.0,401.4 L1472.0,401.5 L1474.0,401.6 L1476.0,401.8 L1478.0,401.9 L1480.0,402.1 L1482.0,402.2 L1484.0,402.4 L1486.0,402.6 L1488.0,402.7 L1490.0,402.9 L1492.0,403.1 L1494.0,403.2 L1496.0,403.4 L1498.0,403.6 L1500.0,403.8 L1502.0,403.9 L1504.0,404.1 L1506.0,404.3 L1508.0,404.5 L1510.0,404.7 L1512.0,404.8 L1514.0,405.0 L1516.0,405.2 L1518.0,405.4 L1520.0,405.5 L1522.0,405.7 L1524.0,405.9 L1526.0,406.1 L1528.0,406.2 L1530.0,406.4 L1532.0,406.6 L1534.0,406.7 L1536.0,406.9 L1538.0,407.1 L1540.0,407.3 L1542.0,407.4 L1544.0,407.6 L1546.0,407.8 L1548.0,408.0 L1550.0,408.2 L1552.0,408.3 L1554.0,408.5 L1556.0,408.7 L1558.0,408.9 L1560.0,409.1 L1562.0,409.2 L1564.0,409.4 L1566.0,409.6 L1568.0,409.7 L1570.0,409.9 L1572.0,410.1 L1574.0,410.2 L1576.0,410.4 L1578.0,410.5 L1580.0,410.7 L1582.0,410.8 L1584.0,411.0 L1586.0,411.1 L1588.0,411.3 L1590.0,411.4 L1592.0,411.5 L1594.0,411.7 L1596.0,411.8 L1598.0,411.9 L1600.0,412.1 L1602.0,412.2 L1604.0,412.3 L1606.0,412.4 L1608.0,412.6 L1610.0,412.7 L1612.0,412.8 L1614.0,412.9 L1616.0,413.0 L1618.0,413.1 L1620.0,413.3 L1622.0,413.4 L1624.0,413.5 L1626.0,413.6 L1628.0,413.7 L1630.0,413.8 L1632.0,414.0 L1634.0,414.1 L1636.0,414.2 L1638.0,414.3 L1640.0,414.4 L1642.0,414.5 L1644.0,414.6 L1646.0,414.8 L1648.0,414.9 L1650.0,415.0 L1652.0,415.1 L1654.0,415.2 L1656.0,415.3 L1658.0,415.4 L1660.0,415.6 L1662.0,415.7 L1664.0,415.8 L1666.0,415.9 L1668.0,416.0 L1670.0,416.1 L1672.0,416.2 L1674.0,416.3 L1676.0,416.4 L1678.0,416.5 L1680.0,416.7 L1682.0,416.8 L1684.0,416.9 L1686.0,417.0 L1688.0,417.1 L1690.0,417.1 L1692.0,417.2 L1694.0,417.3 L1696.0,417.4 L1698.0,417.5 L1700.0,417.6 L1702.0,417.7 L1704.0,417.8 L1706.0,417.8 L1708.0,417.9 L1710.0,418.0 L1712.0,418.1 L1714.0,418.2 L1716.0,418.3 L1718.0,418.3 L1720.0,418.4 L1722.0,418.5 L1724.0,418.6 L1726.0,418.6 L1728.0,418.7 L1730.0,418.8 L1732.0,418.8 L1734.0,418.9 L1736.0,419.0 L1738.0,419.1 L1740.0,419.1 L1742.0,419.2 L1744.0,419.3 L1746.0,419.3 L1748.0,419.4 L1750.0,419.4 L1752.0,419.5 L1754.0,419.6 L1756.0,419.6 L1758.0,419.7 L1760.0,419.7 L1762.0,419.8 L1764.0,419.8 L1766.0,419.9 L1768.0,419.9 L1770.0,420.0 L1772.0,420.0 L1774.0,420.1 L1776.0,420.1 L1778.0,420.2 L1780.0,420.2 L1782.0,420.2 L1784.0,420.3 L1786.0,420.3 L1788.0,420.4 L1790.0,420.4 L1792.0,420.4 L1794.0,420.5 L1796.0,420.5 L1798.0,420.6 L1800.0,420.6 L1802.0,420.6 L1804.0,420.7 L1806.0,420.7 L1808.0,420.7 L1810.0,420.8 L1812.0,420.8 L1814.0,420.9 L1816.0,420.9 L1818.0,420.9 L1820.0,421.0 L1822.0,421.0 L1824.0,421.0 L1826.0,421.1 L1828.0,421.1 L1830.0,421.2 L1832.0,421.2 L1834.0,421.2 L1836.0,421.3 L1838.0,421.3 L1840.0,421.3 L1842.0,421.4 L1844.0,421.4 L1846.0,421.5 L1848.0,421.5 L1850.0,421.5 L1852.0,421.6 L1854.0,421.6 L1856.0,421.6 L1858.0,421.7 L1860.0,421.7 L1862.0,421.7 L1864.0,421.8 L1866.0,421.8 L1868.0,421.8 L1870.0,421.9 L1872.0,421.9 L1874.0,421.9 L1876.0,421.9 L1878.0,422.0 L1880.0,422.0 L1882.0,422.0 L1884.0,422.0 L1886.0,422.1 L1888.0,422.1 L1890.0,422.1 L1892.0,422.1 L1894.0,422.2 L1896.0,422.2 L1898.0,422.2 L1900.0,422.2 L1902.0,422.3 L1904.0,422.3 L1906.0,422.3 L1908.0,422.3 L1910.0,422.3 L1912.0,422.4 L1914.0,422.4 L1916.0,422.4 L1918.0,422.4 L1920.0,422.4 L1922.0,422.5 L1924.0,422.5 L1926.0,422.5 L1928.0,422.5 L1930.0,422.5 L1932.0,422.5 L1934.0,422.6 L1936.0,422.6 L1938.0,422.6 L1940.0,422.6 L1942.0,422.6 L1944.0,422.6 L1946.0,422.6 L1948.0,422.7 L1950.0,422.7 L1952.0,422.7 L1954.0,422.7 L1956.0,422.7 L1958.0,422.7 L1960.0,422.7 L1962.0,422.8 L1964.0,422.8 L1966.0,422.8 L1968.0,422.8 L1970.0,422.8 L1972.0,422.8 L1974.0,422.8 L1976.0,422.8 L1978.0,422.9 L1980.0,422.9 L1982.0,422.9 L1984.0,422.9 L1986.0,422.9 L1988.0,422.9 L1990.0,422.9 L1992.0,422.9 L1994.0,422.9 L1996.0,422.9 L1998.0,423.0 L2000.0,423.0 L2002.0,423.0 L2004.0,423.0 L2006.0,423.0 L2008.0,423.0" stroke="#00a060" stroke-width="3.8" fill="none" stroke-dasharray="14.8 17.92" stroke-dashoffset="29.35" stroke-linecap="round"/><path d="M150.0,380.0 L152.0,380.0 L154.0,380.0 L156.0,380.0 L158.0,380.1 L160.0,380.1 L162.0,380.1 L164.0,380.1 L166.0,380.1 L168.0,380.1 L170.0,380.2 L172.0,380.2 L174.0,380.2 L176.0,380.2 L178.0,380.2 L180.0,380.2 L182.0,380.3 L184.0,380.3 L186.0,380.3 L188.0,380.3 L190.0,380.3 L192.0,380.3 L194.0,380.4 L196.0,380.4 L198.0,380.4 L200.0,380.4 L202.0,380.4 L204.0,380.4 L206.0,380.5 L208.0,380.5 L210.0,380.5 L212.0,380.5 L214.0,380.5 L216.0,380.5 L218.0,380.6 L220.0,380.6 L222.0,380.6 L224.0,380.6 L226.0,380.6 L228.0,380.6 L230.0,380.7 L232.0,380.7 L234.0,380.7 L236.0,380.7 L238.0,380.7 L240.0,380.7 L242.0,380.8 L244.0,380.8 L246.0,380.8 L248.0,380.8 L250.0,380.8 L252.0,380.8 L254.0,380.9 L256.0,380.9 L258.0,380.9 L260.0,380.9 L262.0,380.9 L264.0,381.0 L266.0,381.0 L268.0,381.0 L270.0,381.0 L272.0,381.0 L274.0,381.0 L276.0,381.1 L278.0,381.1 L280.0,381.1 L282.0,381.1 L284.0,381.1 L286.0,381.2 L288.0,381.2 L290.0,381.2 L292.0,381.2 L294.0,381.2 L296.0,381.2 L298.0,381.3 L300.0,381.3 L302.0,381.3 L304.0,381.3 L306.0,381.3 L308.0,381.4 L310.0,381.4 L312.0,381.4 L314.0,381.4 L316.0,381.4 L318.0,381.4 L320.0,381.5 L322.0,381.5 L324.0,381.5 L326.0,381.5 L328.0,381.5 L330.0,381.6 L332.0,381.6 L334.0,381.6 L336.0,381.6 L338.0,381.6 L340.0,381.7 L342.0,381.7 L344.0,381.7 L346.0,381.7 L348.0,381.7 L350.0,381.8 L352.0,381.8 L354.0,381.8 L356.0,381.8 L358.0,381.8 L360.0,381.8 L362.0,381.9 L364.0,381.9 L366.0,381.9 L368.0,381.9 L370.0,381.9 L372.0,382.0 L374.0,382.0 L376.0,382.0 L378.0,382.0 L380.0,382.0 L382.0,382.1 L384.0,382.1 L386.0,382.1 L388.0,382.1 L390.0,382.1 L392.0,382.2 L394.0,382.2 L396.0,382.2 L398.0,382.2 L400.0,382.2 L402.0,382.3 L404.0,382.3 L406.0,382.3 L408.0,382.3 L410.0,382.3 L412.0,382.4 L414.0,382.4 L416.0,382.4 L418.0,382.4 L420.0,382.4 L422.0,382.5 L424.0,382.5 L426.0,382.5 L428.0,382.5 L430.0,382.5 L432.0,382.6 L434.0,382.6 L436.0,382.6 L438.0,382.6 L440.0,382.6 L442.0,382.7 L444.0,382.7 L446.0,382.7 L448.0,382.7 L450.0,382.7 L452.0,382.8 L454.0,382.8 L456.0,382.8 L458.0,382.8 L460.0,382.9 L462.0,382.9 L464.0,382.9 L466.0,382.9 L468.0,382.9 L470.0,383.0 L472.0,383.0 L474.0,383.0 L476.0,383.0 L478.0,383.0 L480.0,383.1 L482.0,383.1 L484.0,383.1 L486.0,383.1 L488.0,383.1 L490.0,383.2 L492.0,383.2 L494.0,383.2 L496.0,383.2 L498.0,383.3 L500.0,383.3 L502.0,383.3 L504.0,383.3 L506.0,383.3 L508.0,383.4 L510.0,383.4 L512.0,383.4 L514.0,383.4 L516.0,383.4 L518.0,383.5 L520.0,383.5 L522.0,383.5 L524.0,383.5 L526.0,383.5 L528.0,383.6 L530.0,383.6 L532.0,383.6 L534.0,383.6 L536.0,383.7 L538.0,383.7 L540.0,383.7 L542.0,383.7 L544.0,383.7 L546.0,383.8 L548.0,383.8 L550.0,383.8 L552.0,383.8 L554.0,383.9 L556.0,383.9 L558.0,383.9 L560.0,383.9 L562.0,383.9 L564.0,384.0 L566.0,384.0 L568.0,384.0 L570.0,384.0 L572.0,384.1 L574.0,384.1 L576.0,384.1 L578.0,384.1 L580.0,384.1 L582.0,384.2 L584.0,384.2 L586.0,384.2 L588.0,384.2 L590.0,384.3 L592.0,384.3 L594.0,384.3 L596.0,384.3 L598.0,384.3 L600.0,384.4 L602.0,384.4 L604.0,384.4 L606.0,384.4 L608.0,384.5 L610.0,384.5 L612.0,384.5 L614.0,384.5 L616.0,384.5 L618.0,384.6 L620.0,384.6 L622.0,384.6 L624.0,384.6 L626.0,384.7 L628.0,384.7 L630.0,384.7 L632.0,384.7 L634.0,384.7 L636.0,384.8 L638.0,384.8 L640.0,384.8 L642.0,384.8 L644.0,384.9 L646.0,384.9 L648.0,384.9 L650.0,384.9 L652.0,384.9 L654.0,385.0 L656.0,385.0 L658.0,385.0 L660.0,385.0 L662.0,385.1 L664.0,385.1 L666.0,385.1 L668.0,385.1 L670.0,385.2 L672.0,385.2 L674.0,385.2 L676.0,385.2 L678.0,385.2 L680.0,385.3 L682.0,385.3 L684.0,385.3 L686.0,385.3 L688.0,385.4 L690.0,385.4 L692.0,385.4 L694.0,385.4 L696.0,385.5 L698.0,385.5 L700.0,385.5 L702.0,385.5 L704.0,385.5 L706.0,385.6 L708.0,385.6 L710.0,385.6 L712.0,385.6 L714.0,385.7 L716.0,385.7 L718.0,385.7 L720.0,385.7 L722.0,385.8 L724.0,385.8 L726.0,385.8 L728.0,385.8 L730.0,385.9 L732.0,385.9 L734.0,385.9 L736.0,385.9 L738.0,386.0 L740.0,386.0 L742.0,386.0 L744.0,386.0 L746.0,386.1 L748.0,386.1 L750.0,386.1 L752.0,386.1 L754.0,386.2 L756.0,386.2 L758.0,386.2 L760.0,386.3 L762.0,386.3 L764.0,386.3 L766.0,386.3 L768.0,386.4 L770.0,386.4 L772.0,386.4 L774.0,386.4 L776.0,386.5 L778.0,386.5 L780.0,386.5 L782.0,386.5 L784.0,386.6 L786.0,386.6 L788.0,386.6 L790.0,386.7 L792.0,386.7 L794.0,386.7 L796.0,386.7 L798.0,386.8 L800.0,386.8 L802.0,386.8 L804.0,386.9 L806.0,386.9 L808.0,386.9 L810.0,386.9 L812.0,387.0 L814.0,387.0 L816.0,387.0 L818.0,387.1 L820.0,387.1 L822.0,387.1 L824.0,387.1 L826.0,387.2 L828.0,387.2 L830.0,387.2 L832.0,387.3 L834.0,387.3 L836.0,387.3 L838.0,387.3 L840.0,387.4 L842.0,387.4 L844.0,387.4 L846.0,387.5 L848.0,387.5 L850.0,387.5 L852.0,387.5 L854.0,387.6 L856.0,387.6 L858.0,387.6 L860.0,387.7 L862.0,387.7 L864.0,387.7 L866.0,387.7 L868.0,387.8 L870.0,387.8 L872.0,387.8 L874.0,387.8 L876.0,387.9 L878.0,387.9 L880.0,387.9 L882.0,388.0 L884.0,388.0 L886.0,388.0 L888.0,388.0 L890.0,388.1 L892.0,388.1 L894.0,388.1 L896.0,388.2 L898.0,388.2 L900.0,388.2 L902.0,388.2 L904.0,388.3 L906.0,388.3 L908.0,388.3 L910.0,388.4 L912.0,388.4 L914.0,388.4 L916.0,388.4 L918.0,388.5 L920.0,388.5 L922.0,388.5 L924.0,388.5 L926.0,388.6 L928.0,388.6 L930.0,388.6 L932.0,388.6 L934.0,388.7 L936.0,388.7 L938.0,388.7 L940.0,388.8 L942.0,388.8 L944.0,388.8 L946.0,388.8 L948.0,388.9 L950.0,388.9 L952.0,388.9 L954.0,388.9 L956.0,389.0 L958.0,389.0 L960.0,389.0 L962.0,389.0 L964.0,389.1 L966.0,389.1 L968.0,389.1 L970.0,389.1 L972.0,389.2 L974.0,389.2 L976.0,389.2 L978.0,389.2 L980.0,389.3 L982.0,389.3 L984.0,389.3 L986.0,389.3 L988.0,389.3 L990.0,389.4 L992.0,389.4 L994.0,389.4 L996.0,389.4 L998.0,389.5 L1000.0,389.5 L1002.0,389.5 L1004.0,389.5 L1006.0,389.5 L1008.0,389.6 L1010.0,389.6 L1012.0,389.6 L1014.0,389.6 L1016.0,389.6 L1018.0,389.6 L1020.0,389.7 L1022.0,389.7 L1024.0,389.7 L1026.0,389.7 L1028.0,389.7 L1030.0,389.7 L1032.0,389.8 L1034.0,389.8 L1036.0,389.8 L1038.0,389.8 L1040.0,389.8 L1042.0,389.8 L1044.0,389.8 L1046.0,389.8 L1048.0,389.8 L1050.0,389.9 L1052.0,389.9 L1054.0,389.9 L1056.0,389.9 L1058.0,389.9 L1060.0,389.9 L1062.0,389.9 L1064.0,389.9 L1066.0,389.9 L1068.0,389.9 L1070.0,389.9 L1072.0,389.9 L1074.0,389.9 L1076.0,389.9 L1078.0,389.9 L1080.0,389.9 L1082.0,389.9 L1084.0,389.9 L1086.0,389.9 L1088.0,390.0 L1090.0,390.0 L1092.0,389.9 L1094.0,389.9 L1096.0,389.9 L1098.0,389.9 L1100.0,389.9 L1102.0,389.9 L1104.0,389.9 L1106.0,389.9 L1108.0,389.9 L1110.0,389.9 L1112.0,389.9 L1114.0,389.9 L1116.0,389.9 L1118.0,389.9 L1120.0,389.9 L1122.0,389.9 L1124.0,389.8 L1126.0,389.8 L1128.0,389.8 L1130.0,389.8 L1132.0,389.8 L1134.0,389.8 L1136.0,389.8 L1138.0,389.7 L1140.0,389.7 L1142.0,389.7 L1144.0,389.7 L1146.0,389.6 L1148.0,389.6 L1150.0,389.6 L1152.0,389.6 L1154.0,389.5 L1156.0,389.5 L1158.0,389.5 L1160.0,389.4 L1162.0,389.4 L1164.0,389.3 L1166.0,389.3 L1168.0,389.3 L1170.0,389.2 L1172.0,389.2 L1174.0,389.1 L1176.0,389.1 L1178.0,389.0 L1180.0,389.0 L1182.0,388.9 L1184.0,388.8 L1186.0,388.8 L1188.0,388.7 L1190.0,388.6 L1192.0,388.6 L1194.0,388.5 L1196.0,388.4 L1198.0,388.3 L1200.0,388.2 L1202.0,388.1 L1204.0,388.0 L1206.0,387.9 L1208.0,387.8 L1210.0,387.7 L1212.0,387.6 L1214.0,387.5 L1216.0,387.4 L1218.0,387.3 L1220.0,387.1 L1222.0,387.0 L1224.0,386.9 L1226.0,386.7 L1228.0,386.6 L1230.0,386.4 L1232.0,386.3 L1234.0,386.1 L1236.0,385.9 L1238.0,385.7 L1240.0,385.6 L1242.0,385.4 L1244.0,385.2 L1246.0,385.0 L1248.0,384.7 L1250.0,384.5 L1252.0,384.3 L1254.0,384.1 L1256.0,383.9 L1258.0,383.7 L1260.0,383.6 L1262.0,383.4 L1264.0,383.2 L1266.0,383.1 L1268.0,382.9 L1270.0,382.7 L1272.0,382.6 L1274.0,382.4 L1276.0,382.1 L1278.0,381.9 L1280.0,381.7 L1282.0,381.4 L1284.0,381.1 L1286.0,380.7 L1288.0,380.4 L1290.0,380.0 L1292.0,379.6 L1294.0,379.1 L1296.0,378.7 L1298.0,378.2 L1300.0,377.7 L1302.0,377.2 L1304.0,376.7 L1306.0,376.2 L1308.0,375.7 L1310.0,375.1 L1312.0,374.5 L1314.0,373.9 L1316.0,373.3 L1318.0,372.6 L1320.0,372.0 L1322.0,371.3 L1324.0,370.6 L1326.0,369.9 L1328.0,369.2 L1330.0,368.4 L1332.0,367.6 L1334.0,366.9 L1336.0,366.1 L1338.0,365.2 L1340.0,364.4 L1342.0,363.5 L1344.0,362.7 L1346.0,361.8 L1348.0,360.8 L1350.0,359.9 L1352.0,358.9 L1354.0,358.0 L1356.0,357.0 L1358.0,355.9 L1360.0,354.9 L1362.0,353.8 L1364.0,352.7 L1366.0,351.6 L1368.0,350.5 L1370.0,349.3 L1372.0,348.1 L1374.0,346.9 L1376.0,345.7 L1378.0,344.4 L1380.0,343.1 L1382.0,341.8 L1384.0,340.5 L1386.0,339.2 L1388.0,337.8 L1390.0,336.4 L1392.0,335.0 L1394.0,333.6 L1396.0,332.1 L1398.0,330.6 L1400.0,329.1 L1402.0,327.6 L1404.0,326.0 L1406.0,324.4 L1408.0,322.8 L1410.0,321.2 L1412.0,319.6 L1414.0,317.9 L1416.0,316.2 L1418.0,314.5 L1420.0,312.8 L1422.0,311.1 L1424.0,309.3 L1426.0,307.5 L1428.0,305.7 L1430.0,303.9 L1432.0,302.1 L1434.0,300.2 L1436.0,298.3 L1438.0,296.4 L1440.0,294.5 L1442.0,292.6 L1444.0,290.7 L1446.0,288.8 L1448.0,286.8 L1450.0,284.8 L1452.0,282.9 L1454.0,280.9 L1456.0,278.9 L1458.0,276.9 L1460.0,274.9 L1462.0,272.9 L1464.0,270.9 L1466.0,268.9 L1468.0,266.9 L1470.0,264.9 L1472.0,262.9 L1474.0,260.9 L1476.0,258.9 L1478.0,256.9 L1480.0,255.0 L1482.0,253.0 L1484.0,251.0 L1486.0,249.1 L1488.0,247.2 L1490.0,245.3 L1492.0,243.4 L1494.0,241.5 L1496.0,239.6 L1498.0,237.8 L1500.0,235.9 L1502.0,234.1 L1504.0,232.3 L1506.0,230.6 L1508.0,228.8 L1510.0,227.1 L1512.0,225.4 L1514.0,223.8 L1516.0,222.2 L1518.0,220.6 L1520.0,219.0 L1522.0,217.5 L1524.0,216.0 L1526.0,214.5 L1528.0,213.1 L1530.0,211.7 L1532.0,210.4 L1534.0,209.1 L1536.0,207.9 L1538.0,206.7 L1540.0,205.5 L1542.0,204.4 L1544.0,203.4 L1546.0,202.4 L1548.0,201.5 L1550.0,200.6 L1552.0,199.7 L1554.0,199.0 L1556.0,198.2 L1558.0,197.6 L1560.0,197.0 L1562.0,196.4 L1564.0,195.9 L1566.0,195.5 L1568.0,195.1 L1570.0,194.8 L1572.0,194.6 L1574.0,194.4 L1576.0,194.2 L1578.0,194.2 L1580.0,194.2 L1582.0,194.2 L1584.0,194.3 L1586.0,194.5 L1588.0,194.7 L1590.0,195.0 L1592.0,195.4 L1594.0,195.8 L1596.0,196.2 L1598.0,196.8 L1600.0,197.4 L1602.0,198.0 L1604.0,198.8 L1606.0,199.5 L1608.0,200.4 L1610.0,201.3 L1612.0,202.2 L1614.0,203.2 L1616.0,204.3 L1618.0,205.4 L1620.0,206.6 L1622.0,207.8 L1624.0,209.1 L1626.0,210.4 L1628.0,211.8 L1630.0,213.3 L1632.0,214.7 L1634.0,216.3 L1636.0,217.8 L1638.0,219.4 L1640.0,221.1 L1642.0,222.8 L1644.0,224.5 L1646.0,226.3 L1648.0,228.1 L1650.0,230.0 L1652.0,231.8 L1654.0,233.8 L1656.0,235.7 L1658.0,237.7 L1660.0,239.7 L1662.0,241.7 L1664.0,243.8 L1666.0,245.8 L1668.0,247.9 L1670.0,250.0 L1672.0,252.2 L1674.0,254.3 L1676.0,256.5 L1678.0,258.6 L1680.0,260.8 L1682.0,263.0 L1684.0,265.2 L1686.0,267.4 L1688.0,269.6 L1690.0,271.9 L1692.0,274.1 L1694.0,276.3 L1696.0,278.5 L1698.0,280.7 L1700.0,282.9 L1702.0,285.2 L1704.0,287.4 L1706.0,289.6 L1708.0,291.8 L1710.0,294.0 L1712.0,296.1 L1714.0,298.3 L1716.0,300.5 L1718.0,302.6 L1720.0,304.8 L1722.0,306.9 L1724.0,309.0 L1726.0,311.1 L1728.0,313.2 L1730.0,315.3 L1732.0,317.3 L1734.0,319.3 L1736.0,321.4 L1738.0,323.4 L1740.0,325.3 L1742.0,327.3 L1744.0,329.2 L1746.0,331.1 L1748.0,333.0 L1750.0,334.9 L1752.0,336.7 L1754.0,338.6 L1756.0,340.4 L1758.0,342.2 L1760.0,343.9 L1762.0,345.6 L1764.0,347.3 L1766.0,349.0 L1768.0,350.7 L1770.0,352.3 L1772.0,353.9 L1774.0,355.5 L1776.0,357.1 L1778.0,358.6 L1780.0,360.1 L1782.0,361.6 L1784.0,363.1 L1786.0,364.5 L1788.0,365.9 L1790.0,367.3 L1792.0,368.7 L1794.0,370.0 L1796.0,371.3 L1798.0,372.6 L1800.0,373.9 L1802.0,375.1 L1804.0,376.3 L1806.0,377.5 L1808.0,378.7 L1810.0,379.8 L1812.0,381.0 L1814.0,382.1 L1816.0,383.2 L1818.0,384.2 L1820.0,385.3 L1822.0,386.3 L1824.0,387.3 L1826.0,388.3 L1828.0,389.2 L1830.0,390.1 L1832.0,391.1 L1834.0,392.0 L1836.0,392.8 L1838.0,393.7 L1840.0,394.5 L1842.0,395.3 L1844.0,396.1 L1846.0,396.9 L1848.0,397.7 L1850.0,398.4 L1852.0,399.2 L1854.0,399.9 L1856.0,400.6 L1858.0,401.2 L1860.0,401.9 L1862.0,402.5 L1864.0,403.2 L1866.0,403.8 L1868.0,404.4 L1870.0,405.0 L1872.0,405.5 L1874.0,406.1 L1876.0,406.6 L1878.0,407.1 L1880.0,407.6 L1882.0,408.1 L1884.0,408.6 L1886.0,409.0 L1888.0,409.5 L1890.0,409.9 L1892.0,410.4 L1894.0,410.8 L1896.0,411.2 L1898.0,411.6 L1900.0,412.0 L1902.0,412.3 L1904.0,412.7 L1906.0,413.0 L1908.0,413.4 L1910.0,413.7 L1912.0,414.0 L1914.0,414.3 L1916.0,414.6 L1918.0,414.9 L1920.0,415.2 L1922.0,415.5 L1924.0,415.7 L1926.0,416.0 L1928.0,416.2 L1930.0,416.5 L1932.0,416.7 L1934.0,416.9 L1936.0,417.2 L1938.0,417.4 L1940.0,417.6 L1942.0,417.8 L1944.0,418.0 L1946.0,418.2 L1948.0,418.3 L1950.0,418.5 L1952.0,418.7 L1954.0,418.9 L1956.0,419.0 L1958.0,419.2 L1960.0,419.3 L1962.0,419.5 L1964.0,419.6 L1966.0,419.7 L1968.0,419.9 L1970.0,420.0 L1972.0,420.1 L1974.0,420.2 L1976.0,420.3 L1978.0,420.5 L1980.0,420.6 L1982.0,420.7 L1984.0,420.8 L1986.0,420.9 L1988.0,421.0 L1990.0,421.0 L1992.0,421.1 L1994.0,421.2 L1996.0,421.3 L1998.0,421.4 L2000.0,421.4 L2002.0,421.5 L2004.0,421.6 L2006.0,421.6 L2008.0,421.7" stroke="#ff3c3c" stroke-width="7" fill="none" stroke-dasharray="28.6 30.65" stroke-dashoffset="58.05" stroke-linecap="round"/><path d="M150.0,380.0 L152.0,380.0 L154.0,380.0 L156.0,380.0 L158.0,380.1 L160.0,380.1 L162.0,380.1 L164.0,380.1 L166.0,380.1 L168.0,380.1 L170.0,380.2 L172.0,380.2 L174.0,380.2 L176.0,380.2 L178.0,380.2 L180.0,380.2 L182.0,380.3 L184.0,380.3 L186.0,380.3 L188.0,380.3 L190.0,380.3 L192.0,380.3 L194.0,380.4 L196.0,380.4 L198.0,380.4 L200.0,380.4 L202.0,380.4 L204.0,380.4 L206.0,380.5 L208.0,380.5 L210.0,380.5 L212.0,380.5 L214.0,380.5 L216.0,380.5 L218.0,380.6 L220.0,380.6 L222.0,380.6 L224.0,380.6 L226.0,380.6 L228.0,380.6 L230.0,380.7 L232.0,380.7 L234.0,380.7 L236.0,380.7 L238.0,380.7 L240.0,380.7 L242.0,380.8 L244.0,380.8 L246.0,380.8 L248.0,380.8 L250.0,380.8 L252.0,380.8 L254.0,380.9 L256.0,380.9 L258.0,380.9 L260.0,380.9 L262.0,380.9 L264.0,381.0 L266.0,381.0 L268.0,381.0 L270.0,381.0 L272.0,381.0 L274.0,381.0 L276.0,381.1 L278.0,381.1 L280.0,381.1 L282.0,381.1 L284.0,381.1 L286.0,381.2 L288.0,381.2 L290.0,381.2 L292.0,381.2 L294.0,381.2 L296.0,381.2 L298.0,381.3 L300.0,381.3 L302.0,381.3 L304.0,381.3 L306.0,381.3 L308.0,381.4 L310.0,381.4 L312.0,381.4 L314.0,381.4 L316.0,381.4 L318.0,381.4 L320.0,381.5 L322.0,381.5 L324.0,381.5 L326.0,381.5 L328.0,381.5 L330.0,381.6 L332.0,381.6 L334.0,381.6 L336.0,381.6 L338.0,381.6 L340.0,381.7 L342.0,381.7 L344.0,381.7 L346.0,381.7 L348.0,381.7 L350.0,381.8 L352.0,381.8 L354.0,381.8 L356.0,381.8 L358.0,381.8 L360.0,381.8 L362.0,381.9 L364.0,381.9 L366.0,381.9 L368.0,381.9 L370.0,381.9 L372.0,382.0 L374.0,382.0 L376.0,382.0 L378.0,382.0 L380.0,382.0 L382.0,382.1 L384.0,382.1 L386.0,382.1 L388.0,382.1 L390.0,382.1 L392.0,382.2 L394.0,382.2 L396.0,382.2 L398.0,382.2 L400.0,382.2 L402.0,382.3 L404.0,382.3 L406.0,382.3 L408.0,382.3 L410.0,382.3 L412.0,382.4 L414.0,382.4 L416.0,382.4 L418.0,382.4 L420.0,382.4 L422.0,382.5 L424.0,382.5 L426.0,382.5 L428.0,382.5 L430.0,382.5 L432.0,382.6 L434.0,382.6 L436.0,382.6 L438.0,382.6 L440.0,382.6 L442.0,382.7 L444.0,382.7 L446.0,382.7 L448.0,382.7 L450.0,382.7 L452.0,382.8 L454.0,382.8 L456.0,382.8 L458.0,382.8 L460.0,382.9 L462.0,382.9 L464.0,382.9 L466.0,382.9 L468.0,382.9 L470.0,383.0 L472.0,383.0 L474.0,383.0 L476.0,383.0 L478.0,383.0 L480.0,383.1 L482.0,383.1 L484.0,383.1 L486.0,383.1 L488.0,383.1 L490.0,383.2 L492.0,383.2 L494.0,383.2 L496.0,383.2 L498.0,383.2 L500.0,383.3 L502.0,383.3 L504.0,383.3 L506.0,383.3 L508.0,383.4 L510.0,383.4 L512.0,383.4 L514.0,383.4 L516.0,383.4 L518.0,383.5 L520.0,383.5 L522.0,383.5 L524.0,383.5 L526.0,383.5 L528.0,383.6 L530.0,383.6 L532.0,383.6 L534.0,383.6 L536.0,383.7 L538.0,383.7 L540.0,383.7 L542.0,383.7 L544.0,383.7 L546.0,383.8 L548.0,383.8 L550.0,383.8 L552.0,383.8 L554.0,383.9 L556.0,383.9 L558.0,383.9 L560.0,383.9 L562.0,383.9 L564.0,384.0 L566.0,384.0 L568.0,384.0 L570.0,384.0 L572.0,384.0 L574.0,384.1 L576.0,384.1 L578.0,384.1 L580.0,384.1 L582.0,384.2 L584.0,384.2 L586.0,384.2 L588.0,384.2 L590.0,384.2 L592.0,384.3 L594.0,384.3 L596.0,384.3 L598.0,384.3 L600.0,384.4 L602.0,384.4 L604.0,384.4 L606.0,384.4 L608.0,384.4 L610.0,384.5 L612.0,384.5 L614.0,384.5 L616.0,384.5 L618.0,384.6 L620.0,384.6 L622.0,384.6 L624.0,384.6 L626.0,384.6 L628.0,384.7 L630.0,384.7 L632.0,384.7 L634.0,384.7 L636.0,384.8 L638.0,384.8 L640.0,384.8 L642.0,384.8 L644.0,384.8 L646.0,384.9 L648.0,384.9 L650.0,384.9 L652.0,384.9 L654.0,385.0 L656.0,385.0 L658.0,385.0 L660.0,385.0 L662.0,385.0 L664.0,385.1 L666.0,385.1 L668.0,385.1 L670.0,385.1 L672.0,385.2 L674.0,385.2 L676.0,385.2 L678.0,385.2 L680.0,385.2 L682.0,385.3 L684.0,385.3 L686.0,385.3 L688.0,385.3 L690.0,385.3 L692.0,385.4 L694.0,385.4 L696.0,385.4 L698.0,385.4 L700.0,385.5 L702.0,385.5 L704.0,385.5 L706.0,385.5 L708.0,385.5 L710.0,385.6 L712.0,385.6 L714.0,385.6 L716.0,385.6 L718.0,385.6 L720.0,385.7 L722.0,385.7 L724.0,385.7 L726.0,385.7 L728.0,385.8 L730.0,385.8 L732.0,385.8 L734.0,385.8 L736.0,385.8 L738.0,385.9 L740.0,385.9 L742.0,385.9 L744.0,385.9 L746.0,385.9 L748.0,386.0 L750.0,386.0 L752.0,386.0 L754.0,386.0 L756.0,386.1 L758.0,386.1 L760.0,386.1 L762.0,386.1 L764.0,386.1 L766.0,386.2 L768.0,386.2 L770.0,386.2 L772.0,386.2 L774.0,386.2 L776.0,386.2 L778.0,386.3 L780.0,386.3 L782.0,386.3 L784.0,386.3 L786.0,386.3 L788.0,386.4 L790.0,386.4 L792.0,386.4 L794.0,386.4 L796.0,386.4 L798.0,386.4 L800.0,386.4 L802.0,386.5 L804.0,386.5 L806.0,386.5 L808.0,386.5 L810.0,386.5 L812.0,386.5 L814.0,386.5 L816.0,386.6 L818.0,386.6 L820.0,386.6 L822.0,386.6 L824.0,386.6 L826.0,386.6 L828.0,386.6 L830.0,386.6 L832.0,386.6 L834.0,386.6 L836.0,386.6 L838.0,386.6 L840.0,386.6 L842.0,386.6 L844.0,386.6 L846.0,386.6 L848.0,386.6 L850.0,386.6 L852.0,386.6 L854.0,386.6 L856.0,386.6 L858.0,386.6 L860.0,386.6 L862.0,386.6 L864.0,386.6 L866.0,386.6 L868.0,386.6 L870.0,386.6 L872.0,386.6 L874.0,386.6 L876.0,386.6 L878.0,386.5 L880.0,386.5 L882.0,386.5 L884.0,386.5 L886.0,386.5 L888.0,386.4 L890.0,386.4 L892.0,386.4 L894.0,386.4 L896.0,386.3 L898.0,386.3 L900.0,386.3 L902.0,386.3 L904.0,386.2 L906.0,386.2 L908.0,386.2 L910.0,386.1 L912.0,386.1 L914.0,386.0 L916.0,386.0 L918.0,385.9 L920.0,385.9 L922.0,385.9 L924.0,385.8 L926.0,385.8 L928.0,385.7 L930.0,385.6 L932.0,385.6 L934.0,385.5 L936.0,385.5 L938.0,385.4 L940.0,385.3 L942.0,385.3 L944.0,385.2 L946.0,385.1 L948.0,385.1 L950.0,385.0 L952.0,384.9 L954.0,384.8 L956.0,384.7 L958.0,384.6 L960.0,384.6 L962.0,384.5 L964.0,384.4 L966.0,384.3 L968.0,384.2 L970.0,384.1 L972.0,384.0 L974.0,383.9 L976.0,383.8 L978.0,383.7 L980.0,383.6 L982.0,383.4 L984.0,383.3 L986.0,383.2 L988.0,383.1 L990.0,382.9 L992.0,382.8 L994.0,382.7 L996.0,382.6 L998.0,382.4 L1000.0,382.3 L1002.0,382.1 L1004.0,382.0 L1006.0,381.8 L1008.0,381.7 L1010.0,381.5 L1012.0,381.4 L1014.0,381.2 L1016.0,381.1 L1018.0,380.9 L1020.0,380.7 L1022.0,380.6 L1024.0,380.4 L1026.0,380.2 L1028.0,380.0 L1030.0,379.8 L1032.0,379.7 L1034.0,379.5 L1036.0,379.3 L1038.0,379.1 L1040.0,378.9 L1042.0,378.7 L1044.0,378.5 L1046.0,378.3 L1048.0,378.1 L1050.0,377.8 L1052.0,377.6 L1054.0,377.4 L1056.0,377.2 L1058.0,377.0 L1060.0,376.8 L1062.0,376.5 L1064.0,376.3 L1066.0,376.1 L1068.0,375.8 L1070.0,375.6 L1072.0,375.4 L1074.0,375.1 L1076.0,374.9 L1078.0,374.6 L1080.0,374.4 L1082.0,374.1 L1084.0,373.9 L1086.0,373.6 L1088.0,373.4 L1090.0,373.1 L1092.0,372.9 L1094.0,372.6 L1096.0,372.3 L1098.0,372.1 L1100.0,371.8 L1102.0,371.6 L1104.0,371.3 L1106.0,371.0 L1108.0,370.8 L1110.0,370.5 L1112.0,370.2 L1114.0,370.0 L1116.0,369.7 L1118.0,369.4 L1120.0,369.1 L1122.0,368.9 L1124.0,368.6 L1126.0,368.3 L1128.0,368.1 L1130.0,367.8 L1132.0,367.5 L1134.0,367.2 L1136.0,367.0 L1138.0,366.7 L1140.0,366.4 L1142.0,366.2 L1144.0,365.9 L1146.0,365.6 L1148.0,365.3 L1150.0,365.1 L1152.0,364.8 L1154.0,364.5 L1156.0,364.3 L1158.0,364.0 L1160.0,363.8 L1162.0,363.5 L1164.0,363.2 L1166.0,363.0 L1168.0,362.7 L1170.0,362.5 L1172.0,362.2 L1174.0,362.0 L1176.0,361.7 L1178.0,361.5 L1180.0,361.2 L1182.0,361.0 L1184.0,360.8 L1186.0,360.5 L1188.0,360.3 L1190.0,360.1 L1192.0,359.9 L1194.0,359.6 L1196.0,359.4 L1198.0,359.2 L1200.0,359.0 L1202.0,358.8 L1204.0,358.6 L1206.0,358.4 L1208.0,358.2 L1210.0,358.0 L1212.0,357.8 L1214.0,357.7 L1216.0,357.5 L1218.0,357.3 L1220.0,357.1 L1222.0,357.0 L1224.0,356.8 L1226.0,356.7 L1228.0,356.5 L1230.0,356.4 L1232.0,356.2 L1234.0,356.1 L1236.0,356.0 L1238.0,355.9 L1240.0,355.7 L1242.0,355.6 L1244.0,355.5 L1246.0,355.4 L1248.0,355.3 L1250.0,355.3 L1252.0,355.2 L1254.0,355.1 L1256.0,355.1 L1258.0,355.1 L1260.0,355.2 L1262.0,355.2 L1264.0,355.3 L1266.0,355.4 L1268.0,355.5 L1270.0,355.6 L1272.0,355.7 L1274.0,355.8 L1276.0,355.9 L1278.0,356.1 L1280.0,356.2 L1282.0,356.3 L1284.0,356.4 L1286.0,356.5 L1288.0,356.5 L1290.0,356.6 L1292.0,356.7 L1294.0,356.7 L1296.0,356.8 L1298.0,356.9 L1300.0,357.0 L1302.0,357.0 L1304.0,357.1 L1306.0,357.2 L1308.0,357.3 L1310.0,357.4 L1312.0,357.5 L1314.0,357.6 L1316.0,357.7 L1318.0,357.8 L1320.0,358.0 L1322.0,358.1 L1324.0,358.2 L1326.0,358.3 L1328.0,358.5 L1330.0,358.6 L1332.0,358.8 L1334.0,358.9 L1336.0,359.1 L1338.0,359.3 L1340.0,359.5 L1342.0,359.6 L1344.0,359.8 L1346.0,360.0 L1348.0,360.2 L1350.0,360.5 L1352.0,360.7 L1354.0,360.9 L1356.0,361.1 L1358.0,361.3 L1360.0,361.6 L1362.0,361.8 L1364.0,362.1 L1366.0,362.3 L1368.0,362.6 L1370.0,362.8 L1372.0,363.1 L1374.0,363.4 L1376.0,363.6 L1378.0,363.9 L1380.0,364.2 L1382.0,364.5 L1384.0,364.8 L1386.0,365.1 L1388.0,365.4 L1390.0,365.7 L1392.0,366.0 L1394.0,366.3 L1396.0,366.6 L1398.0,366.9 L1400.0,367.2 L1402.0,367.6 L1404.0,367.9 L1406.0,368.2 L1408.0,368.6 L1410.0,368.9 L1412.0,369.3 L1414.0,369.6 L1416.0,369.9 L1418.0,370.3 L1420.0,370.6 L1422.0,371.0 L1424.0,371.4 L1426.0,371.7 L1428.0,372.1 L1430.0,372.4 L1432.0,372.8 L1434.0,373.2 L1436.0,373.6 L1438.0,373.9 L1440.0,374.3 L1442.0,374.7 L1444.0,375.1 L1446.0,375.4 L1448.0,375.8 L1450.0,376.2 L1452.0,376.6 L1454.0,377.0 L1456.0,377.4 L1458.0,377.8 L1460.0,378.2 L1462.0,378.6 L1464.0,379.0 L1466.0,379.4 L1468.0,379.8 L1470.0,380.2 L1472.0,380.6 L1474.0,381.0 L1476.0,381.5 L1478.0,381.9 L1480.0,382.3 L1482.0,382.8 L1484.0,383.2 L1486.0,383.6 L1488.0,384.1 L1490.0,384.5 L1492.0,385.0 L1494.0,385.4 L1496.0,385.9 L1498.0,386.3 L1500.0,386.7 L1502.0,387.2 L1504.0,387.6 L1506.0,388.1 L1508.0,388.5 L1510.0,388.9 L1512.0,389.4 L1514.0,389.8 L1516.0,390.2 L1518.0,390.7 L1520.0,391.1 L1522.0,391.5 L1524.0,391.9 L1526.0,392.3 L1528.0,392.8 L1530.0,393.2 L1532.0,393.6 L1534.0,394.0 L1536.0,394.4 L1538.0,394.8 L1540.0,395.2 L1542.0,395.6 L1544.0,396.0 L1546.0,396.4 L1548.0,396.8 L1550.0,397.2 L1552.0,397.6 L1554.0,398.0 L1556.0,398.4 L1558.0,398.7 L1560.0,399.1 L1562.0,399.5 L1564.0,399.9 L1566.0,400.2 L1568.0,400.6 L1570.0,401.0 L1572.0,401.3 L1574.0,401.6 L1576.0,402.0 L1578.0,402.3 L1580.0,402.7 L1582.0,403.0 L1584.0,403.3 L1586.0,403.6 L1588.0,403.9 L1590.0,404.2 L1592.0,404.5 L1594.0,404.8 L1596.0,405.1 L1598.0,405.4 L1600.0,405.6 L1602.0,405.9 L1604.0,406.2 L1606.0,406.5 L1608.0,406.7 L1610.0,407.0 L1612.0,407.2 L1614.0,407.5 L1616.0,407.7 L1618.0,408.0 L1620.0,408.2 L1622.0,408.5 L1624.0,408.7 L1626.0,408.9 L1628.0,409.2 L1630.0,409.4 L1632.0,409.6 L1634.0,409.8 L1636.0,410.1 L1638.0,410.3 L1640.0,410.5 L1642.0,410.7 L1644.0,410.9 L1646.0,411.2 L1648.0,411.4 L1650.0,411.6 L1652.0,411.8 L1654.0,412.0 L1656.0,412.2 L1658.0,412.4 L1660.0,412.6 L1662.0,412.8 L1664.0,413.0 L1666.0,413.2 L1668.0,413.4 L1670.0,413.5 L1672.0,413.7 L1674.0,413.9 L1676.0,414.1 L1678.0,414.2 L1680.0,414.4 L1682.0,414.6 L1684.0,414.8 L1686.0,414.9 L1688.0,415.1 L1690.0,415.2 L1692.0,415.4 L1694.0,415.5 L1696.0,415.7 L1698.0,415.8 L1700.0,416.0 L1702.0,416.1 L1704.0,416.2 L1706.0,416.3 L1708.0,416.5 L1710.0,416.6 L1712.0,416.7 L1714.0,416.9 L1716.0,417.0 L1718.0,417.1 L1720.0,417.2 L1722.0,417.3 L1724.0,417.4 L1726.0,417.5 L1728.0,417.7 L1730.0,417.8 L1732.0,417.9 L1734.0,418.0 L1736.0,418.1 L1738.0,418.2 L1740.0,418.3 L1742.0,418.4 L1744.0,418.4 L1746.0,418.5 L1748.0,418.6 L1750.0,418.7 L1752.0,418.8 L1754.0,418.9 L1756.0,419.0 L1758.0,419.0 L1760.0,419.1 L1762.0,419.2 L1764.0,419.3 L1766.0,419.3 L1768.0,419.4 L1770.0,419.5 L1772.0,419.5 L1774.0,419.6 L1776.0,419.7 L1778.0,419.7 L1780.0,419.8 L1782.0,419.8 L1784.0,419.9 L1786.0,419.9 L1788.0,420.0 L1790.0,420.1 L1792.0,420.1 L1794.0,420.2 L1796.0,420.2 L1798.0,420.3 L1800.0,420.3 L1802.0,420.4 L1804.0,420.4 L1806.0,420.4 L1808.0,420.5 L1810.0,420.5 L1812.0,420.6 L1814.0,420.6 L1816.0,420.7 L1818.0,420.7 L1820.0,420.8 L1822.0,420.8 L1824.0,420.9 L1826.0,420.9 L1828.0,420.9 L1830.0,421.0 L1832.0,421.0 L1834.0,421.1 L1836.0,421.1 L1838.0,421.2 L1840.0,421.2 L1842.0,421.3 L1844.0,421.3 L1846.0,421.3 L1848.0,421.4 L1850.0,421.4 L1852.0,421.5 L1854.0,421.5 L1856.0,421.5 L1858.0,421.6 L1860.0,421.6 L1862.0,421.7 L1864.0,421.7 L1866.0,421.7 L1868.0,421.8 L1870.0,421.8 L1872.0,421.8 L1874.0,421.9 L1876.0,421.9 L1878.0,421.9 L1880.0,421.9 L1882.0,422.0 L1884.0,422.0 L1886.0,422.0 L1888.0,422.1 L1890.0,422.1 L1892.0,422.1 L1894.0,422.1 L1896.0,422.2 L1898.0,422.2 L1900.0,422.2 L1902.0,422.2 L1904.0,422.2 L1906.0,422.3 L1908.0,422.3 L1910.0,422.3 L1912.0,422.3 L1914.0,422.4 L1916.0,422.4 L1918.0,422.4 L1920.0,422.4 L1922.0,422.4 L1924.0,422.5 L1926.0,422.5 L1928.0,422.5 L1930.0,422.5 L1932.0,422.5 L1934.0,422.5 L1936.0,422.6 L1938.0,422.6 L1940.0,422.6 L1942.0,422.6 L1944.0,422.6 L1946.0,422.6 L1948.0,422.6 L1950.0,422.7 L1952.0,422.7 L1954.0,422.7 L1956.0,422.7 L1958.0,422.7 L1960.0,422.7 L1962.0,422.7 L1964.0,422.8 L1966.0,422.8 L1968.0,422.8 L1970.0,422.8 L1972.0,422.8 L1974.0,422.8 L1976.0,422.8 L1978.0,422.8 L1980.0,422.9 L1982.0,422.9 L1984.0,422.9 L1986.0,422.9 L1988.0,422.9 L1990.0,422.9 L1992.0,422.9 L1994.0,422.9 L1996.0,422.9 L1998.0,423.0 L2000.0,423.0 L2002.0,423.0 L2004.0,423.0 L2006.0,423.0 L2008.0,423.0" stroke="#0000ff" stroke-width="7" fill="none" stroke-dasharray="28.6 30.65" stroke-dashoffset="58.05" stroke-linecap="round"/><path d="M150.0,380.0 L152.0,380.0 L154.0,380.0 L156.0,380.0 L158.0,380.1 L160.0,380.1 L162.0,380.1 L164.0,380.1 L166.0,380.1 L168.0,380.1 L170.0,380.2 L172.0,380.2 L174.0,380.2 L176.0,380.2 L178.0,380.2 L180.0,380.2 L182.0,380.3 L184.0,380.3 L186.0,380.3 L188.0,380.3 L190.0,380.3 L192.0,380.3 L194.0,380.4 L196.0,380.4 L198.0,380.4 L200.0,380.4 L202.0,380.4 L204.0,380.4 L206.0,380.5 L208.0,380.5 L210.0,380.5 L212.0,380.5 L214.0,380.5 L216.0,380.5 L218.0,380.6 L220.0,380.6 L222.0,380.6 L224.0,380.6 L226.0,380.6 L228.0,380.6 L230.0,380.7 L232.0,380.7 L234.0,380.7 L236.0,380.7 L238.0,380.7 L240.0,380.7 L242.0,380.8 L244.0,380.8 L246.0,380.8 L248.0,380.8 L250.0,380.8 L252.0,380.8 L254.0,380.9 L256.0,380.9 L258.0,380.9 L260.0,380.9 L262.0,380.9 L264.0,381.0 L266.0,381.0 L268.0,381.0 L270.0,381.0 L272.0,381.0 L274.0,381.0 L276.0,381.1 L278.0,381.1 L280.0,381.1 L282.0,381.1 L284.0,381.1 L286.0,381.2 L288.0,381.2 L290.0,381.2 L292.0,381.2 L294.0,381.2 L296.0,381.2 L298.0,381.3 L300.0,381.3 L302.0,381.3 L304.0,381.3 L306.0,381.3 L308.0,381.4 L310.0,381.4 L312.0,381.4 L314.0,381.4 L316.0,381.4 L318.0,381.4 L320.0,381.5 L322.0,381.5 L324.0,381.5 L326.0,381.5 L328.0,381.5 L330.0,381.6 L332.0,381.6 L334.0,381.6 L336.0,381.6 L338.0,381.6 L340.0,381.7 L342.0,381.7 L344.0,381.7 L346.0,381.7 L348.0,381.7 L350.0,381.8 L352.0,381.8 L354.0,381.8 L356.0,381.8 L358.0,381.8 L360.0,381.8 L362.0,381.9 L364.0,381.9 L366.0,381.9 L368.0,381.9 L370.0,381.9 L372.0,382.0 L374.0,382.0 L376.0,382.0 L378.0,382.0 L380.0,382.0 L382.0,382.1 L384.0,382.1 L386.0,382.1 L388.0,382.1 L390.0,382.1 L392.0,382.2 L394.0,382.2 L396.0,382.2 L398.0,382.2 L400.0,382.2 L402.0,382.3 L404.0,382.3 L406.0,382.3 L408.0,382.3 L410.0,382.3 L412.0,382.4 L414.0,382.4 L416.0,382.4 L418.0,382.4 L420.0,382.4 L422.0,382.5 L424.0,382.5 L426.0,382.5 L428.0,382.5 L430.0,382.5 L432.0,382.6 L434.0,382.6 L436.0,382.6 L438.0,382.6 L440.0,382.6 L442.0,382.7 L444.0,382.7 L446.0,382.7 L448.0,382.7 L450.0,382.7 L452.0,382.8 L454.0,382.8 L456.0,382.8 L458.0,382.8 L460.0,382.9 L462.0,382.9 L464.0,382.9 L466.0,382.9 L468.0,382.9 L470.0,383.0 L472.0,383.0 L474.0,383.0 L476.0,383.0 L478.0,383.0 L480.0,383.1 L482.0,383.1 L484.0,383.1 L486.0,383.1 L488.0,383.1 L490.0,383.2 L492.0,383.2 L494.0,383.2 L496.0,383.2 L498.0,383.3 L500.0,383.3 L502.0,383.3 L504.0,383.3 L506.0,383.3 L508.0,383.4 L510.0,383.4 L512.0,383.4 L514.0,383.4 L516.0,383.4 L518.0,383.5 L520.0,383.5 L522.0,383.5 L524.0,383.5 L526.0,383.5 L528.0,383.6 L530.0,383.6 L532.0,383.6 L534.0,383.6 L536.0,383.7 L538.0,383.7 L540.0,383.7 L542.0,383.7 L544.0,383.7 L546.0,383.8 L548.0,383.8 L550.0,383.8 L552.0,383.8 L554.0,383.9 L556.0,383.9 L558.0,383.9 L560.0,383.9 L562.0,383.9 L564.0,384.0 L566.0,384.0 L568.0,384.0 L570.0,384.0 L572.0,384.1 L574.0,384.1 L576.0,384.1 L578.0,384.1 L580.0,384.1 L582.0,384.2 L584.0,384.2 L586.0,384.2 L588.0,384.2 L590.0,384.3 L592.0,384.3 L594.0,384.3 L596.0,384.3 L598.0,384.3 L600.0,384.4 L602.0,384.4 L604.0,384.4 L606.0,384.4 L608.0,384.5 L610.0,384.5 L612.0,384.5 L614.0,384.5 L616.0,384.5 L618.0,384.6 L620.0,384.6 L622.0,384.6 L624.0,384.6 L626.0,384.7 L628.0,384.7 L630.0,384.7 L632.0,384.7 L634.0,384.7 L636.0,384.8 L638.0,384.8 L640.0,384.8 L642.0,384.8 L644.0,384.9 L646.0,384.9 L648.0,384.9 L650.0,384.9 L652.0,384.9 L654.0,385.0 L656.0,385.0 L658.0,385.0 L660.0,385.0 L662.0,385.1 L664.0,385.1 L666.0,385.1 L668.0,385.1 L670.0,385.2 L672.0,385.2 L674.0,385.2 L676.0,385.2 L678.0,385.2 L680.0,385.3 L682.0,385.3 L684.0,385.3 L686.0,385.3 L688.0,385.4 L690.0,385.4 L692.0,385.4 L694.0,385.4 L696.0,385.5 L698.0,385.5 L700.0,385.5 L702.0,385.5 L704.0,385.5 L706.0,385.6 L708.0,385.6 L710.0,385.6 L712.0,385.6 L714.0,385.7 L716.0,385.7 L718.0,385.7 L720.0,385.7 L722.0,385.8 L724.0,385.8 L726.0,385.8 L728.0,385.8 L730.0,385.9 L732.0,385.9 L734.0,385.9 L736.0,385.9 L738.0,386.0 L740.0,386.0 L742.0,386.0 L744.0,386.0 L746.0,386.1 L748.0,386.1 L750.0,386.1 L752.0,386.1 L754.0,386.2 L756.0,386.2 L758.0,386.2 L760.0,386.3 L762.0,386.3 L764.0,386.3 L766.0,386.3 L768.0,386.4 L770.0,386.4 L772.0,386.4 L774.0,386.4 L776.0,386.5 L778.0,386.5 L780.0,386.5 L782.0,386.5 L784.0,386.6 L786.0,386.6 L788.0,386.6 L790.0,386.7 L792.0,386.7 L794.0,386.7 L796.0,386.7 L798.0,386.8 L800.0,386.8 L802.0,386.8 L804.0,386.9 L806.0,386.9 L808.0,386.9 L810.0,386.9 L812.0,387.0 L814.0,387.0 L816.0,387.0 L818.0,387.1 L820.0,387.1 L822.0,387.1 L824.0,387.1 L826.0,387.2 L828.0,387.2 L830.0,387.2 L832.0,387.3 L834.0,387.3 L836.0,387.3 L838.0,387.3 L840.0,387.4 L842.0,387.4 L844.0,387.4 L846.0,387.5 L848.0,387.5 L850.0,387.5 L852.0,387.5 L854.0,387.6 L856.0,387.6 L858.0,387.6 L860.0,387.7 L862.0,387.7 L864.0,387.7 L866.0,387.7 L868.0,387.8 L870.0,387.8 L872.0,387.8 L874.0,387.8 L876.0,387.9 L878.0,387.9 L880.0,387.9 L882.0,388.0 L884.0,388.0 L886.0,388.0 L888.0,388.0 L890.0,388.1 L892.0,388.1 L894.0,388.1 L896.0,388.2 L898.0,388.2 L900.0,388.2 L902.0,388.2 L904.0,388.3 L906.0,388.3 L908.0,388.3 L910.0,388.4 L912.0,388.4 L914.0,388.4 L916.0,388.4 L918.0,388.5 L920.0,388.5 L922.0,388.5 L924.0,388.5 L926.0,388.6 L928.0,388.6 L930.0,388.6 L932.0,388.7 L934.0,388.7 L936.0,388.7 L938.0,388.7 L940.0,388.8 L942.0,388.8 L944.0,388.8 L946.0,388.8 L948.0,388.9 L950.0,388.9 L952.0,388.9 L954.0,388.9 L956.0,389.0 L958.0,389.0 L960.0,389.0 L962.0,389.0 L964.0,389.1 L966.0,389.1 L968.0,389.1 L970.0,389.1 L972.0,389.2 L974.0,389.2 L976.0,389.2 L978.0,389.2 L980.0,389.3 L982.0,389.3 L984.0,389.3 L986.0,389.3 L988.0,389.4 L990.0,389.4 L992.0,389.4 L994.0,389.4 L996.0,389.5 L998.0,389.5 L1000.0,389.5 L1002.0,389.5 L1004.0,389.5 L1006.0,389.6 L1008.0,389.6 L1010.0,389.6 L1012.0,389.6 L1014.0,389.6 L1016.0,389.7 L1018.0,389.7 L1020.0,389.7 L1022.0,389.7 L1024.0,389.7 L1026.0,389.8 L1028.0,389.8 L1030.0,389.8 L1032.0,389.8 L1034.0,389.8 L1036.0,389.8 L1038.0,389.9 L1040.0,389.9 L1042.0,389.9 L1044.0,389.9 L1046.0,389.9 L1048.0,389.9 L1050.0,390.0 L1052.0,390.0 L1054.0,390.0 L1056.0,390.0 L1058.0,390.0 L1060.0,390.0 L1062.0,390.0 L1064.0,390.0 L1066.0,390.1 L1068.0,390.1 L1070.0,390.1 L1072.0,390.1 L1074.0,390.1 L1076.0,390.1 L1078.0,390.1 L1080.0,390.2 L1082.0,390.2 L1084.0,390.2 L1086.0,390.2 L1088.0,390.2 L1090.0,390.2 L1092.0,390.2 L1094.0,390.2 L1096.0,390.2 L1098.0,390.3 L1100.0,390.3 L1102.0,390.3 L1104.0,390.3 L1106.0,390.3 L1108.0,390.3 L1110.0,390.3 L1112.0,390.3 L1114.0,390.4 L1116.0,390.4 L1118.0,390.4 L1120.0,390.4 L1122.0,390.4 L1124.0,390.4 L1126.0,390.4 L1128.0,390.5 L1130.0,390.5 L1132.0,390.5 L1134.0,390.5 L1136.0,390.5 L1138.0,390.5 L1140.0,390.5 L1142.0,390.6 L1144.0,390.6 L1146.0,390.6 L1148.0,390.6 L1150.0,390.6 L1152.0,390.6 L1154.0,390.7 L1156.0,390.7 L1158.0,390.7 L1160.0,390.7 L1162.0,390.7 L1164.0,390.7 L1166.0,390.8 L1168.0,390.8 L1170.0,390.8 L1172.0,390.8 L1174.0,390.8 L1176.0,390.9 L1178.0,390.9 L1180.0,390.9 L1182.0,390.9 L1184.0,390.9 L1186.0,391.0 L1188.0,391.0 L1190.0,391.0 L1192.0,391.0 L1194.0,391.1 L1196.0,391.1 L1198.0,391.1 L1200.0,391.1 L1202.0,391.2 L1204.0,391.2 L1206.0,391.2 L1208.0,391.3 L1210.0,391.3 L1212.0,391.3 L1214.0,391.3 L1216.0,391.4 L1218.0,391.4 L1220.0,391.4 L1222.0,391.5 L1224.0,391.5 L1226.0,391.5 L1228.0,391.6 L1230.0,391.6 L1232.0,391.6 L1234.0,391.7 L1236.0,391.7 L1238.0,391.8 L1240.0,391.8 L1242.0,391.8 L1244.0,391.9 L1246.0,391.9 L1248.0,392.0 L1250.0,392.0 L1252.0,392.1 L1254.0,392.1 L1256.0,392.2 L1258.0,392.4 L1260.0,392.5 L1262.0,392.6 L1264.0,392.8 L1266.0,393.0 L1268.0,393.2 L1270.0,393.3 L1272.0,393.5 L1274.0,393.7 L1276.0,393.9 L1278.0,394.0 L1280.0,394.2 L1282.0,394.4 L1284.0,394.5 L1286.0,394.6 L1288.0,394.7 L1290.0,394.8 L1292.0,394.9 L1294.0,394.9 L1296.0,395.0 L1298.0,395.1 L1300.0,395.1 L1302.0,395.2 L1304.0,395.3 L1306.0,395.3 L1308.0,395.4 L1310.0,395.4 L1312.0,395.5 L1314.0,395.5 L1316.0,395.6 L1318.0,395.6 L1320.0,395.7 L1322.0,395.7 L1324.0,395.8 L1326.0,395.8 L1328.0,395.9 L1330.0,395.9 L1332.0,396.0 L1334.0,396.0 L1336.0,396.1 L1338.0,396.1 L1340.0,396.2 L1342.0,396.3 L1344.0,396.3 L1346.0,396.4 L1348.0,396.4 L1350.0,396.5 L1352.0,396.6 L1354.0,396.6 L1356.0,396.7 L1358.0,396.7 L1360.0,396.8 L1362.0,396.9 L1364.0,396.9 L1366.0,397.0 L1368.0,397.1 L1370.0,397.1 L1372.0,397.2 L1374.0,397.3 L1376.0,397.3 L1378.0,397.4 L1380.0,397.5 L1382.0,397.5 L1384.0,397.6 L1386.0,397.7 L1388.0,397.7 L1390.0,397.8 L1392.0,397.9 L1394.0,397.9 L1396.0,398.0 L1398.0,398.1 L1400.0,398.2 L1402.0,398.2 L1404.0,398.3 L1406.0,398.4 L1408.0,398.5 L1410.0,398.6 L1412.0,398.6 L1414.0,398.7 L1416.0,398.8 L1418.0,398.9 L1420.0,399.0 L1422.0,399.0 L1424.0,399.1 L1426.0,399.2 L1428.0,399.3 L1430.0,399.4 L1432.0,399.5 L1434.0,399.6 L1436.0,399.6 L1438.0,399.7 L1440.0,399.8 L1442.0,399.9 L1444.0,400.0 L1446.0,400.1 L1448.0,400.2 L1450.0,400.3 L1452.0,400.4 L1454.0,400.5 L1456.0,400.6 L1458.0,400.7 L1460.0,400.9 L1462.0,401.0 L1464.0,401.1 L1466.0,401.2 L1468.0,401.3 L1470.0,401.4 L1472.0,401.6 L1474.0,401.7 L1476.0,401.9 L1478.0,402.0 L1480.0,402.2 L1482.0,402.3 L1484.0,402.5 L1486.0,402.6 L1488.0,402.8 L1490.0,403.0 L1492.0,403.1 L1494.0,403.3 L1496.0,403.5 L1498.0,403.6 L1500.0,403.8 L1502.0,404.0 L1504.0,404.2 L1506.0,404.3 L1508.0,404.5 L1510.0,404.7 L1512.0,404.9 L1514.0,405.1 L1516.0,405.2 L1518.0,405.4 L1520.0,405.6 L1522.0,405.7 L1524.0,405.9 L1526.0,406.1 L1528.0,406.3 L1530.0,406.4 L1532.0,406.6 L1534.0,406.8 L1536.0,406.9 L1538.0,407.1 L1540.0,407.3 L1542.0,407.5 L1544.0,407.7 L1546.0,407.8 L1548.0,408.0 L1550.0,408.2 L1552.0,408.4 L1554.0,408.5 L1556.0,408.7 L1558.0,408.9 L1560.0,409.1 L1562.0,409.2 L1564.0,409.4 L1566.0,409.6 L1568.0,409.8 L1570.0,409.9 L1572.0,410.1 L1574.0,410.2 L1576.0,410.4 L1578.0,410.6 L1580.0,410.7 L1582.0,410.9 L1584.0,411.0 L1586.0,411.1 L1588.0,411.3 L1590.0,411.4 L1592.0,411.5 L1594.0,411.7 L1596.0,411.8 L1598.0,411.9 L1600.0,412.1 L1602.0,412.2 L1604.0,412.3 L1606.0,412.4 L1608.0,412.6 L1610.0,412.7 L1612.0,412.8 L1614.0,412.9 L1616.0,413.0 L1618.0,413.2 L1620.0,413.3 L1622.0,413.4 L1624.0,413.5 L1626.0,413.6 L1628.0,413.7 L1630.0,413.8 L1632.0,414.0 L1634.0,414.1 L1636.0,414.2 L1638.0,414.3 L1640.0,414.4 L1642.0,414.5 L1644.0,414.6 L1646.0,414.8 L1648.0,414.9 L1650.0,415.0 L1652.0,415.1 L1654.0,415.2 L1656.0,415.3 L1658.0,415.4 L1660.0,415.6 L1662.0,415.7 L1664.0,415.8 L1666.0,415.9 L1668.0,416.0 L1670.0,416.1 L1672.0,416.2 L1674.0,416.3 L1676.0,416.4 L1678.0,416.5 L1680.0,416.7 L1682.0,416.8 L1684.0,416.9 L1686.0,417.0 L1688.0,417.1 L1690.0,417.2 L1692.0,417.2 L1694.0,417.3 L1696.0,417.4 L1698.0,417.5 L1700.0,417.6 L1702.0,417.7 L1704.0,417.8 L1706.0,417.9 L1708.0,417.9 L1710.0,418.0 L1712.0,418.1 L1714.0,418.2 L1716.0,418.3 L1718.0,418.3 L1720.0,418.4 L1722.0,418.5 L1724.0,418.6 L1726.0,418.6 L1728.0,418.7 L1730.0,418.8 L1732.0,418.8 L1734.0,418.9 L1736.0,419.0 L1738.0,419.1 L1740.0,419.1 L1742.0,419.2 L1744.0,419.3 L1746.0,419.3 L1748.0,419.4 L1750.0,419.4 L1752.0,419.5 L1754.0,419.6 L1756.0,419.6 L1758.0,419.7 L1760.0,419.7 L1762.0,419.8 L1764.0,419.8 L1766.0,419.9 L1768.0,419.9 L1770.0,420.0 L1772.0,420.0 L1774.0,420.1 L1776.0,420.1 L1778.0,420.2 L1780.0,420.2 L1782.0,420.2 L1784.0,420.3 L1786.0,420.3 L1788.0,420.4 L1790.0,420.4 L1792.0,420.4 L1794.0,420.5 L1796.0,420.5 L1798.0,420.6 L1800.0,420.6 L1802.0,420.6 L1804.0,420.7 L1806.0,420.7 L1808.0,420.7 L1810.0,420.8 L1812.0,420.8 L1814.0,420.9 L1816.0,420.9 L1818.0,420.9 L1820.0,421.0 L1822.0,421.0 L1824.0,421.0 L1826.0,421.1 L1828.0,421.1 L1830.0,421.2 L1832.0,421.2 L1834.0,421.2 L1836.0,421.3 L1838.0,421.3 L1840.0,421.3 L1842.0,421.4 L1844.0,421.4 L1846.0,421.5 L1848.0,421.5 L1850.0,421.5 L1852.0,421.6 L1854.0,421.6 L1856.0,421.6 L1858.0,421.7 L1860.0,421.7 L1862.0,421.7 L1864.0,421.8 L1866.0,421.8 L1868.0,421.8 L1870.0,421.9 L1872.0,421.9 L1874.0,421.9 L1876.0,421.9 L1878.0,422.0 L1880.0,422.0 L1882.0,422.0 L1884.0,422.0 L1886.0,422.1 L1888.0,422.1 L1890.0,422.1 L1892.0,422.1 L1894.0,422.2 L1896.0,422.2 L1898.0,422.2 L1900.0,422.2 L1902.0,422.3 L1904.0,422.3 L1906.0,422.3 L1908.0,422.3 L1910.0,422.3 L1912.0,422.4 L1914.0,422.4 L1916.0,422.4 L1918.0,422.4 L1920.0,422.4 L1922.0,422.5 L1924.0,422.5 L1926.0,422.5 L1928.0,422.5 L1930.0,422.5 L1932.0,422.5 L1934.0,422.6 L1936.0,422.6 L1938.0,422.6 L1940.0,422.6 L1942.0,422.6 L1944.0,422.6 L1946.0,422.6 L1948.0,422.7 L1950.0,422.7 L1952.0,422.7 L1954.0,422.7 L1956.0,422.7 L1958.0,422.7 L1960.0,422.7 L1962.0,422.8 L1964.0,422.8 L1966.0,422.8 L1968.0,422.8 L1970.0,422.8 L1972.0,422.8 L1974.0,422.8 L1976.0,422.8 L1978.0,422.9 L1980.0,422.9 L1982.0,422.9 L1984.0,422.9 L1986.0,422.9 L1988.0,422.9 L1990.0,422.9 L1992.0,422.9 L1994.0,422.9 L1996.0,422.9 L1998.0,423.0 L2000.0,423.0 L2002.0,423.0 L2004.0,423.0 L2006.0,423.0 L2008.0,423.0" stroke="#ff00ff" stroke-width="7" fill="none" stroke-dasharray="28.6 30.65" stroke-dashoffset="58.05" stroke-linecap="round"/><path d="M150.0,878.2 L152.0,878.2 L154.0,878.2 L156.0,878.2 L158.0,878.2 L160.0,878.2 L162.0,878.2 L164.0,878.2 L166.0,878.2 L168.0,878.3 L170.0,878.3 L172.0,878.3 L174.0,878.3 L176.0,878.3 L178.0,878.3 L180.0,878.3 L182.0,878.3 L184.0,878.3 L186.0,878.3 L188.0,878.3 L190.0,878.3 L192.0,878.3 L194.0,878.3 L196.0,878.3 L198.0,878.3 L200.0,878.3 L202.0,878.3 L204.0,878.4 L206.0,878.4 L208.0,878.4 L210.0,878.4 L212.0,878.4 L214.0,878.4 L216.0,878.4 L218.0,878.4 L220.0,878.4 L222.0,878.4 L224.0,878.4 L226.0,878.4 L228.0,878.4 L230.0,878.4 L232.0,878.4 L234.0,878.4 L236.0,878.4 L238.0,878.5 L240.0,878.5 L242.0,878.5 L244.0,878.5 L246.0,878.5 L248.0,878.5 L250.0,878.5 L252.0,878.5 L254.0,878.5 L256.0,878.5 L258.0,878.5 L260.0,878.5 L262.0,878.5 L264.0,878.5 L266.0,878.5 L268.0,878.5 L270.0,878.6 L272.0,878.6 L274.0,878.6 L276.0,878.6 L278.0,878.6 L280.0,878.6 L282.0,878.6 L284.0,878.6 L286.0,878.6 L288.0,878.6 L290.0,878.6 L292.0,878.6 L294.0,878.6 L296.0,878.6 L298.0,878.6 L300.0,878.6 L302.0,878.6 L304.0,878.7 L306.0,878.7 L308.0,878.7 L310.0,878.7 L312.0,878.7 L314.0,878.7 L316.0,878.7 L318.0,878.7 L320.0,878.7 L322.0,878.7 L324.0,878.7 L326.0,878.7 L328.0,878.7 L330.0,878.7 L332.0,878.7 L334.0,878.7 L336.0,878.8 L338.0,878.8 L340.0,878.8 L342.0,878.8 L344.0,878.8 L346.0,878.8 L348.0,878.8 L350.0,878.8 L352.0,878.8 L354.0,878.8 L356.0,878.8 L358.0,878.8 L360.0,878.8 L362.0,878.8 L364.0,878.8 L366.0,878.9 L368.0,878.9 L370.0,878.9 L372.0,878.9 L374.0,878.9 L376.0,878.9 L378.0,878.9 L380.0,878.9 L382.0,878.9 L384.0,878.9 L386.0,878.9 L388.0,878.9 L390.0,878.9 L392.0,878.9 L394.0,878.9 L396.0,878.9 L398.0,879.0 L400.0,879.0 L402.0,879.0 L404.0,879.0 L406.0,879.0 L408.0,879.0 L410.0,879.0 L412.0,879.0 L414.0,879.0 L416.0,879.0 L418.0,879.0 L420.0,879.0 L422.0,879.0 L424.0,879.0 L426.0,879.0 L428.0,879.1 L430.0,879.1 L432.0,879.1 L434.0,879.1 L436.0,879.1 L438.0,879.1 L440.0,879.1 L442.0,879.1 L444.0,879.1 L446.0,879.1 L448.0,879.1 L450.0,879.1 L452.0,879.1 L454.0,879.1 L456.0,879.1 L458.0,879.2 L460.0,879.2 L462.0,879.2 L464.0,879.2 L466.0,879.2 L468.0,879.2 L470.0,879.2 L472.0,879.2 L474.0,879.2 L476.0,879.2 L478.0,879.2 L480.0,879.2 L482.0,879.2 L484.0,879.2 L486.0,879.2 L488.0,879.3 L490.0,879.3 L492.0,879.3 L494.0,879.3 L496.0,879.3 L498.0,879.3 L500.0,879.3 L502.0,879.3 L504.0,879.3 L506.0,879.3 L508.0,879.3 L510.0,879.3 L512.0,879.3 L514.0,879.3 L516.0,879.3 L518.0,879.4 L520.0,879.4 L522.0,879.4 L524.0,879.4 L526.0,879.4 L528.0,879.4 L530.0,879.4 L532.0,879.4 L534.0,879.4 L536.0,879.4 L538.0,879.4 L540.0,879.4 L542.0,879.4 L544.0,879.4 L546.0,879.5 L548.0,879.5 L550.0,879.5 L552.0,879.5 L554.0,879.5 L556.0,879.5 L558.0,879.5 L560.0,879.5 L562.0,879.5 L564.0,879.5 L566.0,879.5 L568.0,879.5 L570.0,879.5 L572.0,879.5 L574.0,879.5 L576.0,879.6 L578.0,879.6 L580.0,879.6 L582.0,879.6 L584.0,879.6 L586.0,879.6 L588.0,879.6 L590.0,879.6 L592.0,879.6 L594.0,879.6 L596.0,879.6 L598.0,879.6 L600.0,879.6 L602.0,879.6 L604.0,879.7 L606.0,879.7 L608.0,879.7 L610.0,879.7 L612.0,879.7 L614.0,879.7 L616.0,879.7 L618.0,879.7 L620.0,879.7 L622.0,879.7 L624.0,879.7 L626.0,879.7 L628.0,879.7 L630.0,879.7 L632.0,879.8 L634.0,879.8 L636.0,879.8 L638.0,879.8 L640.0,879.8 L642.0,879.8 L644.0,879.8 L646.0,879.8 L648.0,879.8 L650.0,879.8 L652.0,879.8 L654.0,879.8 L656.0,879.8 L658.0,879.8 L660.0,879.9 L662.0,879.9 L664.0,879.9 L666.0,879.9 L668.0,879.9 L670.0,879.9 L672.0,879.9 L674.0,879.9 L676.0,879.9 L678.0,879.9 L680.0,879.9 L682.0,879.9 L684.0,879.9 L686.0,879.9 L688.0,880.0 L690.0,880.0 L692.0,880.0 L694.0,880.0 L696.0,880.0 L698.0,880.0 L700.0,880.0 L702.0,880.0 L704.0,880.0 L706.0,880.0 L708.0,880.0 L710.0,880.0 L712.0,880.0 L714.0,880.1 L716.0,880.1 L718.0,880.1 L720.0,880.1 L722.0,880.1 L724.0,880.1 L726.0,880.1 L728.0,880.1 L730.0,880.1 L732.0,880.1 L734.0,880.1 L736.0,880.1 L738.0,880.1 L740.0,880.1 L742.0,880.1 L744.0,880.2 L746.0,880.2 L748.0,880.2 L750.0,880.2 L752.0,880.2 L754.0,880.2 L756.0,880.2 L758.0,880.2 L760.0,880.2 L762.0,880.2 L764.0,880.2 L766.0,880.2 L768.0,880.2 L770.0,880.2 L772.0,880.2 L774.0,880.2 L776.0,880.3 L778.0,880.3 L780.0,880.3 L782.0,880.3 L784.0,880.3 L786.0,880.3 L788.0,880.3 L790.0,880.3 L792.0,880.3 L794.0,880.3 L796.0,880.3 L798.0,880.3 L800.0,880.3 L802.0,880.3 L804.0,880.3 L806.0,880.3 L808.0,880.4 L810.0,880.4 L812.0,880.4 L814.0,880.4 L816.0,880.4 L818.0,880.4 L820.0,880.4 L822.0,880.4 L824.0,880.4 L826.0,880.4 L828.0,880.4 L830.0,880.4 L832.0,880.4 L834.0,880.4 L836.0,880.4 L838.0,880.4 L840.0,880.4 L842.0,880.5 L844.0,880.5 L846.0,880.5 L848.0,880.5 L850.0,880.5 L852.0,880.5 L854.0,880.5 L856.0,880.5 L858.0,880.5 L860.0,880.5 L862.0,880.5 L864.0,880.5 L866.0,880.5 L868.0,880.5 L870.0,880.5 L872.0,880.5 L874.0,880.5 L876.0,880.6 L878.0,880.6 L880.0,880.6 L882.0,880.6 L884.0,880.6 L886.0,880.6 L888.0,880.6 L890.0,880.6 L892.0,880.6 L894.0,880.6 L896.0,880.6 L898.0,880.6 L900.0,880.6 L902.0,880.6 L904.0,880.6 L906.0,880.6 L908.0,880.6 L910.0,880.7 L912.0,880.7 L914.0,880.7 L916.0,880.7 L918.0,880.7 L920.0,880.7 L922.0,880.7 L924.0,880.7 L926.0,880.7 L928.0,880.7 L930.0,880.7 L932.0,880.7 L934.0,880.7 L936.0,880.7 L938.0,880.7 L940.0,880.7 L942.0,880.7 L944.0,880.8 L946.0,880.8 L948.0,880.8 L950.0,880.8 L952.0,880.8 L954.0,880.8 L956.0,880.8 L958.0,880.8 L960.0,880.8 L962.0,880.8 L964.0,880.8 L966.0,880.8 L968.0,880.8 L970.0,880.8 L972.0,880.8 L974.0,880.9 L976.0,880.9 L978.0,880.9 L980.0,880.9 L982.0,880.9 L984.0,880.9 L986.0,880.9 L988.0,880.9 L990.0,880.9 L992.0,880.9 L994.0,880.9 L996.0,880.9 L998.0,880.9 L1000.0,880.9 L1002.0,880.9 L1004.0,881.0 L1006.0,881.0 L1008.0,881.0 L1010.0,881.0 L1012.0,881.0 L1014.0,881.0 L1016.0,881.0 L1018.0,881.0 L1020.0,881.0 L1022.0,881.0 L1024.0,881.0 L1026.0,881.0 L1028.0,881.0 L1030.0,881.1 L1032.0,881.1 L1034.0,881.1 L1036.0,881.1 L1038.0,881.1 L1040.0,881.1 L1042.0,881.1 L1044.0,881.1 L1046.0,881.1 L1048.0,881.1 L1050.0,881.1 L1052.0,881.1 L1054.0,881.2 L1056.0,881.2 L1058.0,881.2 L1060.0,881.2 L1062.0,881.2 L1064.0,881.2 L1066.0,881.2 L1068.0,881.2 L1070.0,881.2 L1072.0,881.2 L1074.0,881.2 L1076.0,881.2 L1078.0,881.3 L1080.0,881.3 L1082.0,881.3 L1084.0,881.3 L1086.0,881.3 L1088.0,881.3 L1090.0,881.3 L1092.0,881.3 L1094.0,881.3 L1096.0,881.3 L1098.0,881.3 L1100.0,881.4 L1102.0,881.4 L1104.0,881.4 L1106.0,881.4 L1108.0,881.4 L1110.0,881.4 L1112.0,881.4 L1114.0,881.4 L1116.0,881.4 L1118.0,881.4 L1120.0,881.5 L1122.0,881.5 L1124.0,881.5 L1126.0,881.5 L1128.0,881.5 L1130.0,881.5 L1132.0,881.5 L1134.0,881.5 L1136.0,881.5 L1138.0,881.6 L1140.0,881.6 L1142.0,881.6 L1144.0,881.6 L1146.0,881.6 L1148.0,881.6 L1150.0,881.6 L1152.0,881.6 L1154.0,881.6 L1156.0,881.7 L1158.0,881.7 L1160.0,881.7 L1162.0,881.7 L1164.0,881.7 L1166.0,881.7 L1168.0,881.7 L1170.0,881.7 L1172.0,881.7 L1174.0,881.8 L1176.0,881.8 L1178.0,881.8 L1180.0,881.8 L1182.0,881.8 L1184.0,881.8 L1186.0,881.8 L1188.0,881.8 L1190.0,881.8 L1192.0,881.9 L1194.0,881.9 L1196.0,881.9 L1198.0,881.9 L1200.0,881.9 L1202.0,881.9 L1204.0,881.9 L1206.0,881.9 L1208.0,881.9 L1210.0,882.0 L1212.0,882.0 L1214.0,882.0 L1216.0,882.0 L1218.0,882.0 L1220.0,882.0 L1222.0,882.0 L1224.0,882.0 L1226.0,882.0 L1228.0,882.0 L1230.0,882.0 L1232.0,882.0 L1234.0,882.0 L1236.0,882.0 L1238.0,882.0 L1240.0,882.0 L1242.0,882.0 L1244.0,882.0 L1246.0,882.0 L1248.0,882.0 L1250.0,882.0 L1252.0,882.0 L1254.0,882.0 L1256.0,882.0 L1258.0,882.0 L1260.0,882.0 L1262.0,882.0 L1264.0,882.0 L1266.0,882.0 L1268.0,882.0 L1270.0,882.0 L1272.0,882.0 L1274.0,882.0 L1276.0,882.0 L1278.0,881.9 L1280.0,881.9 L1282.0,881.9 L1284.0,881.9 L1286.0,881.8 L1288.0,881.8 L1290.0,881.8 L1292.0,881.7 L1294.0,881.7 L1296.0,881.6 L1298.0,881.6 L1300.0,881.5 L1302.0,881.4 L1304.0,881.4 L1306.0,881.3 L1308.0,881.2 L1310.0,881.1 L1312.0,881.0 L1314.0,880.9 L1316.0,880.7 L1318.0,880.6 L1320.0,880.5 L1322.0,880.3 L1324.0,880.1 L1326.0,879.9 L1328.0,879.7 L1330.0,879.5 L1332.0,879.3 L1334.0,879.0 L1336.0,878.8 L1338.0,878.5 L1340.0,878.2 L1342.0,877.9 L1344.0,877.5 L1346.0,877.1 L1348.0,876.7 L1350.0,876.3 L1352.0,875.9 L1354.0,875.4 L1356.0,874.9 L1358.0,874.4 L1360.0,873.8 L1362.0,873.2 L1364.0,872.6 L1366.0,871.9 L1368.0,871.3 L1370.0,870.5 L1372.0,869.8 L1374.0,869.0 L1376.0,868.2 L1378.0,867.3 L1380.0,866.4 L1382.0,865.4 L1384.0,864.4 L1386.0,863.3 L1388.0,862.2 L1390.0,861.1 L1392.0,859.9 L1394.0,858.7 L1396.0,857.4 L1398.0,856.0 L1400.0,854.6 L1402.0,853.1 L1404.0,851.6 L1406.0,850.0 L1408.0,848.4 L1410.0,846.7 L1412.0,844.9 L1414.0,843.1 L1416.0,841.2 L1418.0,839.2 L1420.0,837.2 L1422.0,835.1 L1424.0,832.9 L1426.0,830.6 L1428.0,828.3 L1430.0,825.9 L1432.0,823.5 L1434.0,820.9 L1436.0,818.3 L1438.0,815.6 L1440.0,812.9 L1442.0,810.0 L1444.0,807.1 L1446.0,804.1 L1448.0,801.1 L1450.0,797.9 L1452.0,794.7 L1454.0,791.4 L1456.0,788.1 L1458.0,784.6 L1460.0,781.1 L1462.0,777.6 L1464.0,774.0 L1466.0,770.3 L1468.0,766.5 L1470.0,762.7 L1472.0,758.8 L1474.0,754.9 L1476.0,750.9 L1478.0,746.8 L1480.0,742.8 L1482.0,738.6 L1484.0,734.5 L1486.0,730.3 L1488.0,726.0 L1490.0,721.8 L1492.0,717.5 L1494.0,713.2 L1496.0,708.9 L1498.0,704.6 L1500.0,700.3 L1502.0,696.0 L1504.0,691.7 L1506.0,687.4 L1508.0,683.1 L1510.0,678.9 L1512.0,674.7 L1514.0,670.5 L1516.0,666.4 L1518.0,662.4 L1520.0,658.4 L1522.0,654.4 L1524.0,650.6 L1526.0,646.8 L1528.0,643.1 L1530.0,639.5 L1532.0,636.1 L1534.0,632.7 L1536.0,629.4 L1538.0,626.3 L1540.0,623.3 L1542.0,620.4 L1544.0,617.6 L1546.0,615.0 L1548.0,612.6 L1550.0,610.3 L1552.0,608.1 L1554.0,606.1 L1556.0,604.3 L1558.0,602.7 L1560.0,601.2 L1562.0,599.9 L1564.0,598.7 L1566.0,597.8 L1568.0,597.0 L1570.0,596.4 L1572.0,596.0 L1574.0,595.8 L1576.0,595.7 L1578.0,595.9 L1580.0,596.2 L1582.0,596.7 L1584.0,597.4 L1586.0,598.2 L1588.0,599.3 L1590.0,600.5 L1592.0,601.9 L1594.0,603.5 L1596.0,605.2 L1598.0,607.1 L1600.0,609.2 L1602.0,611.5 L1604.0,613.9 L1606.0,616.4 L1608.0,619.1 L1610.0,621.9 L1612.0,624.9 L1614.0,628.0 L1616.0,631.2 L1618.0,634.5 L1620.0,638.0 L1622.0,641.6 L1624.0,645.2 L1626.0,649.0 L1628.0,652.8 L1630.0,656.7 L1632.0,660.7 L1634.0,664.8 L1636.0,668.9 L1638.0,673.1 L1640.0,677.3 L1642.0,681.5 L1644.0,685.8 L1646.0,690.2 L1648.0,694.5 L1650.0,698.9 L1652.0,703.3 L1654.0,707.7 L1656.0,712.0 L1658.0,716.4 L1660.0,720.8 L1662.0,725.1 L1664.0,729.5 L1666.0,733.8 L1668.0,738.1 L1670.0,742.3 L1672.0,746.5 L1674.0,750.7 L1676.0,754.8 L1678.0,758.8 L1680.0,762.9 L1682.0,766.8 L1684.0,770.7 L1686.0,774.6 L1688.0,778.3 L1690.0,782.1 L1692.0,785.7 L1694.0,789.3 L1696.0,792.8 L1698.0,796.3 L1700.0,799.6 L1702.0,802.9 L1704.0,806.2 L1706.0,809.3 L1708.0,812.4 L1710.0,815.4 L1712.0,818.3 L1714.0,821.2 L1716.0,824.0 L1718.0,826.7 L1720.0,829.3 L1722.0,831.9 L1724.0,834.3 L1726.0,836.8 L1728.0,839.1 L1730.0,841.4 L1732.0,843.6 L1734.0,845.7 L1736.0,847.7 L1738.0,849.7 L1740.0,851.7 L1742.0,853.5 L1744.0,855.3 L1746.0,857.0 L1748.0,858.7 L1750.0,860.3 L1752.0,861.8 L1754.0,863.3 L1756.0,864.7 L1758.0,866.1 L1760.0,867.4 L1762.0,868.6 L1764.0,869.8 L1766.0,871.0 L1768.0,872.1 L1770.0,873.1 L1772.0,874.2 L1774.0,875.1 L1776.0,876.1 L1778.0,876.9 L1780.0,877.8 L1782.0,878.6 L1784.0,879.4 L1786.0,880.1 L1788.0,880.8 L1790.0,881.5 L1792.0,882.1 L1794.0,882.7 L1796.0,883.3 L1798.0,883.9 L1800.0,884.4 L1802.0,884.9 L1804.0,885.4 L1806.0,885.8 L1808.0,886.2 L1810.0,886.7 L1812.0,887.0 L1814.0,887.4 L1816.0,887.8 L1818.0,888.1 L1820.0,888.4 L1822.0,888.7 L1824.0,889.0 L1826.0,889.2 L1828.0,889.5 L1830.0,889.7 L1832.0,889.9 L1834.0,890.1 L1836.0,890.3 L1838.0,890.5 L1840.0,890.7 L1842.0,890.9 L1844.0,891.0 L1846.0,891.2 L1848.0,891.3 L1850.0,891.5 L1852.0,891.6 L1854.0,891.7 L1856.0,891.8 L1858.0,891.9 L1860.0,892.0 L1862.0,892.1 L1864.0,892.2 L1866.0,892.3 L1868.0,892.3 L1870.0,892.4 L1872.0,892.5 L1874.0,892.5 L1876.0,892.6 L1878.0,892.7 L1880.0,892.7 L1882.0,892.8 L1884.0,892.8 L1886.0,892.8 L1888.0,892.9 L1890.0,892.9 L1892.0,893.0 L1894.0,893.0 L1896.0,893.0 L1898.0,893.0 L1900.0,893.1 L1902.0,893.1 L1904.0,893.1 L1906.0,893.1 L1908.0,893.2 L1910.0,893.2 L1912.0,893.2 L1914.0,893.2 L1916.0,893.2 L1918.0,893.3 L1920.0,893.3 L1922.0,893.3 L1924.0,893.3 L1926.0,893.3 L1928.0,893.3 L1930.0,893.3 L1932.0,893.3 L1934.0,893.4 L1936.0,893.4 L1938.0,893.4 L1940.0,893.4 L1942.0,893.4 L1944.0,893.4 L1946.0,893.4 L1948.0,893.4 L1950.0,893.4 L1952.0,893.4 L1954.0,893.4 L1956.0,893.4 L1958.0,893.4 L1960.0,893.4 L1962.0,893.4 L1964.0,893.4 L1966.0,893.4 L1968.0,893.5 L1970.0,893.5 L1972.0,893.5 L1974.0,893.5 L1976.0,893.5 L1978.0,893.5 L1980.0,893.5 L1982.0,893.5 L1984.0,893.5 L1986.0,893.5 L1988.0,893.5 L1990.0,893.5 L1992.0,893.5 L1994.0,893.5 L1996.0,893.5 L1998.0,893.5 L2000.0,893.5 L2002.0,893.5 L2004.0,893.5 L2006.0,893.5 L2008.0,893.5" stroke="#ff3c3c" stroke-width="7" fill="none" stroke-dasharray="28.6 30.65" stroke-dashoffset="58.05" stroke-linecap="round"/><path d="M150.0,878.2 L152.0,878.2 L154.0,878.2 L156.0,878.2 L158.0,878.2 L160.0,878.2 L162.0,878.2 L164.0,878.2 L166.0,878.2 L168.0,878.3 L170.0,878.3 L172.0,878.3 L174.0,878.3 L176.0,878.3 L178.0,878.3 L180.0,878.3 L182.0,878.3 L184.0,878.3 L186.0,878.3 L188.0,878.3 L190.0,878.3 L192.0,878.3 L194.0,878.3 L196.0,878.3 L198.0,878.3 L200.0,878.3 L202.0,878.3 L204.0,878.4 L206.0,878.4 L208.0,878.4 L210.0,878.4 L212.0,878.4 L214.0,878.4 L216.0,878.4 L218.0,878.4 L220.0,878.4 L222.0,878.4 L224.0,878.4 L226.0,878.4 L228.0,878.4 L230.0,878.4 L232.0,878.4 L234.0,878.4 L236.0,878.4 L238.0,878.5 L240.0,878.5 L242.0,878.5 L244.0,878.5 L246.0,878.5 L248.0,878.5 L250.0,878.5 L252.0,878.5 L254.0,878.5 L256.0,878.5 L258.0,878.5 L260.0,878.5 L262.0,878.5 L264.0,878.5 L266.0,878.5 L268.0,878.5 L270.0,878.6 L272.0,878.6 L274.0,878.6 L276.0,878.6 L278.0,878.6 L280.0,878.6 L282.0,878.6 L284.0,878.6 L286.0,878.6 L288.0,878.6 L290.0,878.6 L292.0,878.6 L294.0,878.6 L296.0,878.6 L298.0,878.6 L300.0,878.6 L302.0,878.6 L304.0,878.7 L306.0,878.7 L308.0,878.7 L310.0,878.7 L312.0,878.7 L314.0,878.7 L316.0,878.7 L318.0,878.7 L320.0,878.7 L322.0,878.7 L324.0,878.7 L326.0,878.7 L328.0,878.7 L330.0,878.7 L332.0,878.7 L334.0,878.7 L336.0,878.8 L338.0,878.8 L340.0,878.8 L342.0,878.8 L344.0,878.8 L346.0,878.8 L348.0,878.8 L350.0,878.8 L352.0,878.8 L354.0,878.8 L356.0,878.8 L358.0,878.8 L360.0,878.8 L362.0,878.8 L364.0,878.8 L366.0,878.9 L368.0,878.9 L370.0,878.9 L372.0,878.9 L374.0,878.9 L376.0,878.9 L378.0,878.9 L380.0,878.9 L382.0,878.9 L384.0,878.9 L386.0,878.9 L388.0,878.9 L390.0,878.9 L392.0,878.9 L394.0,878.9 L396.0,878.9 L398.0,879.0 L400.0,879.0 L402.0,879.0 L404.0,879.0 L406.0,879.0 L408.0,879.0 L410.0,879.0 L412.0,879.0 L414.0,879.0 L416.0,879.0 L418.0,879.0 L420.0,879.0 L422.0,879.0 L424.0,879.0 L426.0,879.0 L428.0,879.1 L430.0,879.1 L432.0,879.1 L434.0,879.1 L436.0,879.1 L438.0,879.1 L440.0,879.1 L442.0,879.1 L444.0,879.1 L446.0,879.1 L448.0,879.1 L450.0,879.1 L452.0,879.1 L454.0,879.1 L456.0,879.1 L458.0,879.2 L460.0,879.2 L462.0,879.2 L464.0,879.2 L466.0,879.2 L468.0,879.2 L470.0,879.2 L472.0,879.2 L474.0,879.2 L476.0,879.2 L478.0,879.2 L480.0,879.2 L482.0,879.2 L484.0,879.2 L486.0,879.2 L488.0,879.3 L490.0,879.3 L492.0,879.3 L494.0,879.3 L496.0,879.3 L498.0,879.3 L500.0,879.3 L502.0,879.3 L504.0,879.3 L506.0,879.3 L508.0,879.3 L510.0,879.3 L512.0,879.3 L514.0,879.3 L516.0,879.3 L518.0,879.4 L520.0,879.4 L522.0,879.4 L524.0,879.4 L526.0,879.4 L528.0,879.4 L530.0,879.4 L532.0,879.4 L534.0,879.4 L536.0,879.4 L538.0,879.4 L540.0,879.4 L542.0,879.4 L544.0,879.4 L546.0,879.5 L548.0,879.5 L550.0,879.5 L552.0,879.5 L554.0,879.5 L556.0,879.5 L558.0,879.5 L560.0,879.5 L562.0,879.5 L564.0,879.5 L566.0,879.5 L568.0,879.5 L570.0,879.5 L572.0,879.5 L574.0,879.5 L576.0,879.6 L578.0,879.6 L580.0,879.6 L582.0,879.6 L584.0,879.6 L586.0,879.6 L588.0,879.6 L590.0,879.6 L592.0,879.6 L594.0,879.6 L596.0,879.6 L598.0,879.6 L600.0,879.6 L602.0,879.6 L604.0,879.7 L606.0,879.7 L608.0,879.7 L610.0,879.7 L612.0,879.7 L614.0,879.7 L616.0,879.7 L618.0,879.7 L620.0,879.7 L622.0,879.7 L624.0,879.7 L626.0,879.7 L628.0,879.7 L630.0,879.7 L632.0,879.8 L634.0,879.8 L636.0,879.8 L638.0,879.8 L640.0,879.8 L642.0,879.8 L644.0,879.8 L646.0,879.8 L648.0,879.8 L650.0,879.8 L652.0,879.8 L654.0,879.8 L656.0,879.8 L658.0,879.8 L660.0,879.9 L662.0,879.9 L664.0,879.9 L666.0,879.9 L668.0,879.9 L670.0,879.9 L672.0,879.9 L674.0,879.9 L676.0,879.9 L678.0,879.9 L680.0,879.9 L682.0,879.9 L684.0,879.9 L686.0,879.9 L688.0,880.0 L690.0,880.0 L692.0,880.0 L694.0,880.0 L696.0,880.0 L698.0,880.0 L700.0,880.0 L702.0,880.0 L704.0,880.0 L706.0,880.0 L708.0,880.0 L710.0,880.0 L712.0,880.0 L714.0,880.0 L716.0,880.1 L718.0,880.1 L720.0,880.1 L722.0,880.1 L724.0,880.1 L726.0,880.1 L728.0,880.1 L730.0,880.1 L732.0,880.1 L734.0,880.1 L736.0,880.1 L738.0,880.1 L740.0,880.1 L742.0,880.1 L744.0,880.1 L746.0,880.2 L748.0,880.2 L750.0,880.2 L752.0,880.2 L754.0,880.2 L756.0,880.2 L758.0,880.2 L760.0,880.2 L762.0,880.2 L764.0,880.2 L766.0,880.2 L768.0,880.2 L770.0,880.2 L772.0,880.2 L774.0,880.2 L776.0,880.2 L778.0,880.2 L780.0,880.2 L782.0,880.3 L784.0,880.3 L786.0,880.3 L788.0,880.3 L790.0,880.3 L792.0,880.3 L794.0,880.3 L796.0,880.3 L798.0,880.3 L800.0,880.3 L802.0,880.3 L804.0,880.3 L806.0,880.3 L808.0,880.3 L810.0,880.3 L812.0,880.3 L814.0,880.3 L816.0,880.3 L818.0,880.3 L820.0,880.3 L822.0,880.3 L824.0,880.3 L826.0,880.3 L828.0,880.3 L830.0,880.3 L832.0,880.3 L834.0,880.3 L836.0,880.3 L838.0,880.3 L840.0,880.3 L842.0,880.3 L844.0,880.3 L846.0,880.3 L848.0,880.3 L850.0,880.3 L852.0,880.3 L854.0,880.3 L856.0,880.3 L858.0,880.3 L860.0,880.3 L862.0,880.3 L864.0,880.3 L866.0,880.3 L868.0,880.3 L870.0,880.3 L872.0,880.3 L874.0,880.3 L876.0,880.3 L878.0,880.3 L880.0,880.3 L882.0,880.3 L884.0,880.3 L886.0,880.3 L888.0,880.3 L890.0,880.3 L892.0,880.2 L894.0,880.2 L896.0,880.2 L898.0,880.2 L900.0,880.2 L902.0,880.2 L904.0,880.2 L906.0,880.2 L908.0,880.1 L910.0,880.1 L912.0,880.1 L914.0,880.1 L916.0,880.1 L918.0,880.0 L920.0,880.0 L922.0,880.0 L924.0,880.0 L926.0,879.9 L928.0,879.9 L930.0,879.9 L932.0,879.9 L934.0,879.8 L936.0,879.8 L938.0,879.8 L940.0,879.7 L942.0,879.7 L944.0,879.7 L946.0,879.6 L948.0,879.6 L950.0,879.5 L952.0,879.5 L954.0,879.4 L956.0,879.4 L958.0,879.3 L960.0,879.3 L962.0,879.2 L964.0,879.2 L966.0,879.1 L968.0,879.1 L970.0,879.0 L972.0,878.9 L974.0,878.9 L976.0,878.8 L978.0,878.7 L980.0,878.6 L982.0,878.5 L984.0,878.5 L986.0,878.4 L988.0,878.3 L990.0,878.2 L992.0,878.1 L994.0,878.0 L996.0,877.9 L998.0,877.8 L1000.0,877.7 L1002.0,877.6 L1004.0,877.4 L1006.0,877.3 L1008.0,877.2 L1010.0,877.0 L1012.0,876.9 L1014.0,876.8 L1016.0,876.6 L1018.0,876.5 L1020.0,876.3 L1022.0,876.2 L1024.0,876.0 L1026.0,875.8 L1028.0,875.7 L1030.0,875.5 L1032.0,875.3 L1034.0,875.1 L1036.0,874.9 L1038.0,874.7 L1040.0,874.5 L1042.0,874.3 L1044.0,874.0 L1046.0,873.8 L1048.0,873.6 L1050.0,873.3 L1052.0,873.1 L1054.0,872.8 L1056.0,872.6 L1058.0,872.3 L1060.0,872.0 L1062.0,871.7 L1064.0,871.4 L1066.0,871.1 L1068.0,870.8 L1070.0,870.5 L1072.0,870.2 L1074.0,869.8 L1076.0,869.5 L1078.0,869.2 L1080.0,868.8 L1082.0,868.4 L1084.0,868.1 L1086.0,867.7 L1088.0,867.3 L1090.0,866.9 L1092.0,866.4 L1094.0,866.0 L1096.0,865.6 L1098.0,865.1 L1100.0,864.7 L1102.0,864.2 L1104.0,863.8 L1106.0,863.3 L1108.0,862.8 L1110.0,862.3 L1112.0,861.8 L1114.0,861.2 L1116.0,860.7 L1118.0,860.1 L1120.0,859.6 L1122.0,859.0 L1124.0,858.4 L1126.0,857.8 L1128.0,857.2 L1130.0,856.6 L1132.0,856.0 L1134.0,855.4 L1136.0,854.7 L1138.0,854.1 L1140.0,853.4 L1142.0,852.7 L1144.0,852.0 L1146.0,851.3 L1148.0,850.6 L1150.0,849.9 L1152.0,849.2 L1154.0,848.4 L1156.0,847.7 L1158.0,846.9 L1160.0,846.1 L1162.0,845.4 L1164.0,844.6 L1166.0,843.8 L1168.0,843.0 L1170.0,842.1 L1172.0,841.3 L1174.0,840.5 L1176.0,839.6 L1178.0,838.8 L1180.0,837.9 L1182.0,837.0 L1184.0,836.1 L1186.0,835.3 L1188.0,834.4 L1190.0,833.5 L1192.0,832.6 L1194.0,831.6 L1196.0,830.7 L1198.0,829.8 L1200.0,828.9 L1202.0,827.9 L1204.0,827.0 L1206.0,826.1 L1208.0,825.1 L1210.0,824.2 L1212.0,823.2 L1214.0,822.3 L1216.0,821.3 L1218.0,820.4 L1220.0,819.4 L1222.0,818.5 L1224.0,817.5 L1226.0,816.6 L1228.0,815.7 L1230.0,814.7 L1232.0,813.8 L1234.0,812.9 L1236.0,811.9 L1238.0,811.0 L1240.0,810.1 L1242.0,809.2 L1244.0,808.3 L1246.0,807.4 L1248.0,806.5 L1250.0,805.6 L1252.0,804.8 L1254.0,803.9 L1256.0,803.1 L1258.0,802.3 L1260.0,801.5 L1262.0,800.7 L1264.0,799.9 L1266.0,799.2 L1268.0,798.4 L1270.0,797.7 L1272.0,797.0 L1274.0,796.3 L1276.0,795.7 L1278.0,795.0 L1280.0,794.4 L1282.0,793.8 L1284.0,793.2 L1286.0,792.7 L1288.0,792.1 L1290.0,791.6 L1292.0,791.1 L1294.0,790.7 L1296.0,790.2 L1298.0,789.8 L1300.0,789.4 L1302.0,789.1 L1304.0,788.7 L1306.0,788.4 L1308.0,788.2 L1310.0,787.9 L1312.0,787.7 L1314.0,787.5 L1316.0,787.4 L1318.0,787.2 L1320.0,787.1 L1322.0,787.0 L1324.0,787.0 L1326.0,787.0 L1328.0,787.0 L1330.0,787.0 L1332.0,787.1 L1334.0,787.2 L1336.0,787.3 L1338.0,787.4 L1340.0,787.6 L1342.0,787.8 L1344.0,788.0 L1346.0,788.3 L1348.0,788.6 L1350.0,788.9 L1352.0,789.2 L1354.0,789.6 L1356.0,790.0 L1358.0,790.4 L1360.0,790.8 L1362.0,791.3 L1364.0,791.8 L1366.0,792.3 L1368.0,792.8 L1370.0,793.4 L1372.0,794.0 L1374.0,794.6 L1376.0,795.2 L1378.0,795.8 L1380.0,796.5 L1382.0,797.2 L1384.0,797.9 L1386.0,798.6 L1388.0,799.4 L1390.0,800.2 L1392.0,800.9 L1394.0,801.7 L1396.0,802.6 L1398.0,803.4 L1400.0,804.2 L1402.0,805.1 L1404.0,806.0 L1406.0,806.9 L1408.0,807.8 L1410.0,808.7 L1412.0,809.6 L1414.0,810.5 L1416.0,811.5 L1418.0,812.4 L1420.0,813.4 L1422.0,814.3 L1424.0,815.3 L1426.0,816.3 L1428.0,817.3 L1430.0,818.3 L1432.0,819.2 L1434.0,820.2 L1436.0,821.2 L1438.0,822.2 L1440.0,823.2 L1442.0,824.2 L1444.0,825.2 L1446.0,826.2 L1448.0,827.2 L1450.0,828.2 L1452.0,829.2 L1454.0,830.2 L1456.0,831.2 L1458.0,832.2 L1460.0,833.2 L1462.0,834.1 L1464.0,835.1 L1466.0,836.1 L1468.0,837.1 L1470.0,838.0 L1472.0,839.0 L1474.0,839.9 L1476.0,840.8 L1478.0,841.8 L1480.0,842.7 L1482.0,843.6 L1484.0,844.5 L1486.0,845.4 L1488.0,846.3 L1490.0,847.2 L1492.0,848.0 L1494.0,848.9 L1496.0,849.7 L1498.0,850.6 L1500.0,851.4 L1502.0,852.2 L1504.0,853.1 L1506.0,853.9 L1508.0,854.7 L1510.0,855.4 L1512.0,856.2 L1514.0,857.0 L1516.0,857.7 L1518.0,858.5 L1520.0,859.2 L1522.0,860.0 L1524.0,860.7 L1526.0,861.4 L1528.0,862.1 L1530.0,862.8 L1532.0,863.5 L1534.0,864.2 L1536.0,864.8 L1538.0,865.5 L1540.0,866.2 L1542.0,866.8 L1544.0,867.5 L1546.0,868.1 L1548.0,868.7 L1550.0,869.4 L1552.0,870.0 L1554.0,870.6 L1556.0,871.2 L1558.0,871.7 L1560.0,872.3 L1562.0,872.9 L1564.0,873.4 L1566.0,873.9 L1568.0,874.5 L1570.0,875.0 L1572.0,875.5 L1574.0,876.0 L1576.0,876.4 L1578.0,876.9 L1580.0,877.3 L1582.0,877.7 L1584.0,878.2 L1586.0,878.6 L1588.0,879.0 L1590.0,879.3 L1592.0,879.7 L1594.0,880.1 L1596.0,880.4 L1598.0,880.8 L1600.0,881.1 L1602.0,881.4 L1604.0,881.7 L1606.0,882.0 L1608.0,882.3 L1610.0,882.6 L1612.0,882.9 L1614.0,883.2 L1616.0,883.5 L1618.0,883.7 L1620.0,884.0 L1622.0,884.2 L1624.0,884.5 L1626.0,884.7 L1628.0,884.9 L1630.0,885.2 L1632.0,885.4 L1634.0,885.6 L1636.0,885.8 L1638.0,886.0 L1640.0,886.2 L1642.0,886.4 L1644.0,886.6 L1646.0,886.8 L1648.0,887.0 L1650.0,887.2 L1652.0,887.3 L1654.0,887.5 L1656.0,887.7 L1658.0,887.8 L1660.0,888.0 L1662.0,888.1 L1664.0,888.3 L1666.0,888.4 L1668.0,888.6 L1670.0,888.7 L1672.0,888.9 L1674.0,889.0 L1676.0,889.1 L1678.0,889.3 L1680.0,889.4 L1682.0,889.5 L1684.0,889.6 L1686.0,889.7 L1688.0,889.8 L1690.0,890.0 L1692.0,890.1 L1694.0,890.2 L1696.0,890.3 L1698.0,890.4 L1700.0,890.5 L1702.0,890.6 L1704.0,890.7 L1706.0,890.7 L1708.0,890.8 L1710.0,890.9 L1712.0,891.0 L1714.0,891.1 L1716.0,891.2 L1718.0,891.3 L1720.0,891.4 L1722.0,891.5 L1724.0,891.5 L1726.0,891.6 L1728.0,891.7 L1730.0,891.8 L1732.0,891.8 L1734.0,891.9 L1736.0,892.0 L1738.0,892.0 L1740.0,892.1 L1742.0,892.2 L1744.0,892.2 L1746.0,892.3 L1748.0,892.3 L1750.0,892.4 L1752.0,892.4 L1754.0,892.5 L1756.0,892.5 L1758.0,892.5 L1760.0,892.6 L1762.0,892.6 L1764.0,892.6 L1766.0,892.7 L1768.0,892.7 L1770.0,892.7 L1772.0,892.7 L1774.0,892.8 L1776.0,892.8 L1778.0,892.8 L1780.0,892.8 L1782.0,892.8 L1784.0,892.9 L1786.0,892.9 L1788.0,892.9 L1790.0,892.9 L1792.0,892.9 L1794.0,892.9 L1796.0,893.0 L1798.0,893.0 L1800.0,893.0 L1802.0,893.0 L1804.0,893.0 L1806.0,893.0 L1808.0,893.0 L1810.0,893.0 L1812.0,893.1 L1814.0,893.1 L1816.0,893.1 L1818.0,893.1 L1820.0,893.1 L1822.0,893.1 L1824.0,893.1 L1826.0,893.1 L1828.0,893.1 L1830.0,893.1 L1832.0,893.1 L1834.0,893.2 L1836.0,893.2 L1838.0,893.2 L1840.0,893.2 L1842.0,893.2 L1844.0,893.2 L1846.0,893.2 L1848.0,893.2 L1850.0,893.2 L1852.0,893.2 L1854.0,893.2 L1856.0,893.2 L1858.0,893.2 L1860.0,893.2 L1862.0,893.3 L1864.0,893.3 L1866.0,893.3 L1868.0,893.3 L1870.0,893.3 L1872.0,893.3 L1874.0,893.3 L1876.0,893.3 L1878.0,893.3 L1880.0,893.3 L1882.0,893.3 L1884.0,893.3 L1886.0,893.3 L1888.0,893.3 L1890.0,893.3 L1892.0,893.3 L1894.0,893.3 L1896.0,893.3 L1898.0,893.3 L1900.0,893.4 L1902.0,893.4 L1904.0,893.4 L1906.0,893.4 L1908.0,893.4 L1910.0,893.4 L1912.0,893.4 L1914.0,893.4 L1916.0,893.4 L1918.0,893.4 L1920.0,893.4 L1922.0,893.4 L1924.0,893.4 L1926.0,893.4 L1928.0,893.4 L1930.0,893.4 L1932.0,893.4 L1934.0,893.4 L1936.0,893.4 L1938.0,893.4 L1940.0,893.4 L1942.0,893.4 L1944.0,893.4 L1946.0,893.4 L1948.0,893.4 L1950.0,893.4 L1952.0,893.4 L1954.0,893.5 L1956.0,893.5 L1958.0,893.5 L1960.0,893.5 L1962.0,893.5 L1964.0,893.5 L1966.0,893.5 L1968.0,893.5 L1970.0,893.5 L1972.0,893.5 L1974.0,893.5 L1976.0,893.5 L1978.0,893.5 L1980.0,893.5 L1982.0,893.5 L1984.0,893.5 L1986.0,893.5 L1988.0,893.5 L1990.0,893.5 L1992.0,893.5 L1994.0,893.5 L1996.0,893.5 L1998.0,893.5 L2000.0,893.5 L2002.0,893.5 L2004.0,893.5 L2006.0,893.5 L2008.0,893.5" stroke="#0000ff" stroke-width="7" fill="none" stroke-dasharray="28.6 30.65" stroke-dashoffset="58.05" stroke-linecap="round"/><path d="M150.0,878.2 L152.0,878.2 L154.0,878.2 L156.0,878.2 L158.0,878.2 L160.0,878.2 L162.0,878.2 L164.0,878.2 L166.0,878.2 L168.0,878.3 L170.0,878.3 L172.0,878.3 L174.0,878.3 L176.0,878.3 L178.0,878.3 L180.0,878.3 L182.0,878.3 L184.0,878.3 L186.0,878.3 L188.0,878.3 L190.0,878.3 L192.0,878.3 L194.0,878.3 L196.0,878.3 L198.0,878.3 L200.0,878.3 L202.0,878.3 L204.0,878.4 L206.0,878.4 L208.0,878.4 L210.0,878.4 L212.0,878.4 L214.0,878.4 L216.0,878.4 L218.0,878.4 L220.0,878.4 L222.0,878.4 L224.0,878.4 L226.0,878.4 L228.0,878.4 L230.0,878.4 L232.0,878.4 L234.0,878.4 L236.0,878.4 L238.0,878.5 L240.0,878.5 L242.0,878.5 L244.0,878.5 L246.0,878.5 L248.0,878.5 L250.0,878.5 L252.0,878.5 L254.0,878.5 L256.0,878.5 L258.0,878.5 L260.0,878.5 L262.0,878.5 L264.0,878.5 L266.0,878.5 L268.0,878.5 L270.0,878.6 L272.0,878.6 L274.0,878.6 L276.0,878.6 L278.0,878.6 L280.0,878.6 L282.0,878.6 L284.0,878.6 L286.0,878.6 L288.0,878.6 L290.0,878.6 L292.0,878.6 L294.0,878.6 L296.0,878.6 L298.0,878.6 L300.0,878.6 L302.0,878.6 L304.0,878.7 L306.0,878.7 L308.0,878.7 L310.0,878.7 L312.0,878.7 L314.0,878.7 L316.0,878.7 L318.0,878.7 L320.0,878.7 L322.0,878.7 L324.0,878.7 L326.0,878.7 L328.0,878.7 L330.0,878.7 L332.0,878.7 L334.0,878.7 L336.0,878.8 L338.0,878.8 L340.0,878.8 L342.0,878.8 L344.0,878.8 L346.0,878.8 L348.0,878.8 L350.0,878.8 L352.0,878.8 L354.0,878.8 L356.0,878.8 L358.0,878.8 L360.0,878.8 L362.0,878.8 L364.0,878.8 L366.0,878.9 L368.0,878.9 L370.0,878.9 L372.0,878.9 L374.0,878.9 L376.0,878.9 L378.0,878.9 L380.0,878.9 L382.0,878.9 L384.0,878.9 L386.0,878.9 L388.0,878.9 L390.0,878.9 L392.0,878.9 L394.0,878.9 L396.0,878.9 L398.0,879.0 L400.0,879.0 L402.0,879.0 L404.0,879.0 L406.0,879.0 L408.0,879.0 L410.0,879.0 L412.0,879.0 L414.0,879.0 L416.0,879.0 L418.0,879.0 L420.0,879.0 L422.0,879.0 L424.0,879.0 L426.0,879.0 L428.0,879.1 L430.0,879.1 L432.0,879.1 L434.0,879.1 L436.0,879.1 L438.0,879.1 L440.0,879.1 L442.0,879.1 L444.0,879.1 L446.0,879.1 L448.0,879.1 L450.0,879.1 L452.0,879.1 L454.0,879.1 L456.0,879.1 L458.0,879.2 L460.0,879.2 L462.0,879.2 L464.0,879.2 L466.0,879.2 L468.0,879.2 L470.0,879.2 L472.0,879.2 L474.0,879.2 L476.0,879.2 L478.0,879.2 L480.0,879.2 L482.0,879.2 L484.0,879.2 L486.0,879.2 L488.0,879.3 L490.0,879.3 L492.0,879.3 L494.0,879.3 L496.0,879.3 L498.0,879.3 L500.0,879.3 L502.0,879.3 L504.0,879.3 L506.0,879.3 L508.0,879.3 L510.0,879.3 L512.0,879.3 L514.0,879.3 L516.0,879.3 L518.0,879.4 L520.0,879.4 L522.0,879.4 L524.0,879.4 L526.0,879.4 L528.0,879.4 L530.0,879.4 L532.0,879.4 L534.0,879.4 L536.0,879.4 L538.0,879.4 L540.0,879.4 L542.0,879.4 L544.0,879.4 L546.0,879.5 L548.0,879.5 L550.0,879.5 L552.0,879.5 L554.0,879.5 L556.0,879.5 L558.0,879.5 L560.0,879.5 L562.0,879.5 L564.0,879.5 L566.0,879.5 L568.0,879.5 L570.0,879.5 L572.0,879.5 L574.0,879.5 L576.0,879.6 L578.0,879.6 L580.0,879.6 L582.0,879.6 L584.0,879.6 L586.0,879.6 L588.0,879.6 L590.0,879.6 L592.0,879.6 L594.0,879.6 L596.0,879.6 L598.0,879.6 L600.0,879.6 L602.0,879.6 L604.0,879.7 L606.0,879.7 L608.0,879.7 L610.0,879.7 L612.0,879.7 L614.0,879.7 L616.0,879.7 L618.0,879.7 L620.0,879.7 L622.0,879.7 L624.0,879.7 L626.0,879.7 L628.0,879.7 L630.0,879.7 L632.0,879.8 L634.0,879.8 L636.0,879.8 L638.0,879.8 L640.0,879.8 L642.0,879.8 L644.0,879.8 L646.0,879.8 L648.0,879.8 L650.0,879.8 L652.0,879.8 L654.0,879.8 L656.0,879.8 L658.0,879.8 L660.0,879.9 L662.0,879.9 L664.0,879.9 L666.0,879.9 L668.0,879.9 L670.0,879.9 L672.0,879.9 L674.0,879.9 L676.0,879.9 L678.0,879.9 L680.0,879.9 L682.0,879.9 L684.0,879.9 L686.0,879.9 L688.0,880.0 L690.0,880.0 L692.0,880.0 L694.0,880.0 L696.0,880.0 L698.0,880.0 L700.0,880.0 L702.0,880.0 L704.0,880.0 L706.0,880.0 L708.0,880.0 L710.0,880.0 L712.0,880.0 L714.0,880.1 L716.0,880.1 L718.0,880.1 L720.0,880.1 L722.0,880.1 L724.0,880.1 L726.0,880.1 L728.0,880.1 L730.0,880.1 L732.0,880.1 L734.0,880.1 L736.0,880.1 L738.0,880.1 L740.0,880.1 L742.0,880.1 L744.0,880.2 L746.0,880.2 L748.0,880.2 L750.0,880.2 L752.0,880.2 L754.0,880.2 L756.0,880.2 L758.0,880.2 L760.0,880.2 L762.0,880.2 L764.0,880.2 L766.0,880.2 L768.0,880.2 L770.0,880.2 L772.0,880.2 L774.0,880.2 L776.0,880.3 L778.0,880.3 L780.0,880.3 L782.0,880.3 L784.0,880.3 L786.0,880.3 L788.0,880.3 L790.0,880.3 L792.0,880.3 L794.0,880.3 L796.0,880.3 L798.0,880.3 L800.0,880.3 L802.0,880.3 L804.0,880.3 L806.0,880.3 L808.0,880.4 L810.0,880.4 L812.0,880.4 L814.0,880.4 L816.0,880.4 L818.0,880.4 L820.0,880.4 L822.0,880.4 L824.0,880.4 L826.0,880.4 L828.0,880.4 L830.0,880.4 L832.0,880.4 L834.0,880.4 L836.0,880.4 L838.0,880.4 L840.0,880.4 L842.0,880.5 L844.0,880.5 L846.0,880.5 L848.0,880.5 L850.0,880.5 L852.0,880.5 L854.0,880.5 L856.0,880.5 L858.0,880.5 L860.0,880.5 L862.0,880.5 L864.0,880.5 L866.0,880.5 L868.0,880.5 L870.0,880.5 L872.0,880.5 L874.0,880.5 L876.0,880.6 L878.0,880.6 L880.0,880.6 L882.0,880.6 L884.0,880.6 L886.0,880.6 L888.0,880.6 L890.0,880.6 L892.0,880.6 L894.0,880.6 L896.0,880.6 L898.0,880.6 L900.0,880.6 L902.0,880.6 L904.0,880.6 L906.0,880.6 L908.0,880.6 L910.0,880.7 L912.0,880.7 L914.0,880.7 L916.0,880.7 L918.0,880.7 L920.0,880.7 L922.0,880.7 L924.0,880.7 L926.0,880.7 L928.0,880.7 L930.0,880.7 L932.0,880.7 L934.0,880.7 L936.0,880.7 L938.0,880.7 L940.0,880.7 L942.0,880.7 L944.0,880.8 L946.0,880.8 L948.0,880.8 L950.0,880.8 L952.0,880.8 L954.0,880.8 L956.0,880.8 L958.0,880.8 L960.0,880.8 L962.0,880.8 L964.0,880.8 L966.0,880.8 L968.0,880.8 L970.0,880.8 L972.0,880.8 L974.0,880.9 L976.0,880.9 L978.0,880.9 L980.0,880.9 L982.0,880.9 L984.0,880.9 L986.0,880.9 L988.0,880.9 L990.0,880.9 L992.0,880.9 L994.0,880.9 L996.0,880.9 L998.0,880.9 L1000.0,880.9 L1002.0,880.9 L1004.0,881.0 L1006.0,881.0 L1008.0,881.0 L1010.0,881.0 L1012.0,881.0 L1014.0,881.0 L1016.0,881.0 L1018.0,881.0 L1020.0,881.0 L1022.0,881.0 L1024.0,881.0 L1026.0,881.0 L1028.0,881.0 L1030.0,881.1 L1032.0,881.1 L1034.0,881.1 L1036.0,881.1 L1038.0,881.1 L1040.0,881.1 L1042.0,881.1 L1044.0,881.1 L1046.0,881.1 L1048.0,881.1 L1050.0,881.1 L1052.0,881.1 L1054.0,881.2 L1056.0,881.2 L1058.0,881.2 L1060.0,881.2 L1062.0,881.2 L1064.0,881.2 L1066.0,881.2 L1068.0,881.2 L1070.0,881.2 L1072.0,881.2 L1074.0,881.2 L1076.0,881.2 L1078.0,881.3 L1080.0,881.3 L1082.0,881.3 L1084.0,881.3 L1086.0,881.3 L1088.0,881.3 L1090.0,881.3 L1092.0,881.3 L1094.0,881.3 L1096.0,881.3 L1098.0,881.3 L1100.0,881.4 L1102.0,881.4 L1104.0,881.4 L1106.0,881.4 L1108.0,881.4 L1110.0,881.4 L1112.0,881.4 L1114.0,881.4 L1116.0,881.4 L1118.0,881.4 L1120.0,881.5 L1122.0,881.5 L1124.0,881.5 L1126.0,881.5 L1128.0,881.5 L1130.0,881.5 L1132.0,881.5 L1134.0,881.5 L1136.0,881.5 L1138.0,881.6 L1140.0,881.6 L1142.0,881.6 L1144.0,881.6 L1146.0,881.6 L1148.0,881.6 L1150.0,881.6 L1152.0,881.6 L1154.0,881.6 L1156.0,881.7 L1158.0,881.7 L1160.0,881.7 L1162.0,881.7 L1164.0,881.7 L1166.0,881.7 L1168.0,881.7 L1170.0,881.7 L1172.0,881.8 L1174.0,881.8 L1176.0,881.8 L1178.0,881.8 L1180.0,881.8 L1182.0,881.8 L1184.0,881.8 L1186.0,881.8 L1188.0,881.9 L1190.0,881.9 L1192.0,881.9 L1194.0,881.9 L1196.0,881.9 L1198.0,881.9 L1200.0,881.9 L1202.0,881.9 L1204.0,882.0 L1206.0,882.0 L1208.0,882.0 L1210.0,882.0 L1212.0,882.0 L1214.0,882.0 L1216.0,882.0 L1218.0,882.1 L1220.0,882.1 L1222.0,882.1 L1224.0,882.1 L1226.0,882.1 L1228.0,882.1 L1230.0,882.1 L1232.0,882.2 L1234.0,882.2 L1236.0,882.2 L1238.0,882.2 L1240.0,882.2 L1242.0,882.2 L1244.0,882.3 L1246.0,882.3 L1248.0,882.3 L1250.0,882.3 L1252.0,882.3 L1254.0,882.3 L1256.0,882.4 L1258.0,882.4 L1260.0,882.4 L1262.0,882.4 L1264.0,882.5 L1266.0,882.5 L1268.0,882.5 L1270.0,882.6 L1272.0,882.6 L1274.0,882.6 L1276.0,882.7 L1278.0,882.7 L1280.0,882.7 L1282.0,882.8 L1284.0,882.8 L1286.0,882.9 L1288.0,882.9 L1290.0,882.9 L1292.0,883.0 L1294.0,883.0 L1296.0,883.1 L1298.0,883.1 L1300.0,883.2 L1302.0,883.2 L1304.0,883.3 L1306.0,883.3 L1308.0,883.4 L1310.0,883.4 L1312.0,883.5 L1314.0,883.5 L1316.0,883.6 L1318.0,883.6 L1320.0,883.7 L1322.0,883.8 L1324.0,883.8 L1326.0,883.9 L1328.0,883.9 L1330.0,884.0 L1332.0,884.0 L1334.0,884.1 L1336.0,884.1 L1338.0,884.2 L1340.0,884.2 L1342.0,884.3 L1344.0,884.3 L1346.0,884.4 L1348.0,884.4 L1350.0,884.5 L1352.0,884.5 L1354.0,884.5 L1356.0,884.6 L1358.0,884.6 L1360.0,884.7 L1362.0,884.7 L1364.0,884.7 L1366.0,884.8 L1368.0,884.8 L1370.0,884.9 L1372.0,884.9 L1374.0,884.9 L1376.0,885.0 L1378.0,885.0 L1380.0,885.0 L1382.0,885.1 L1384.0,885.1 L1386.0,885.1 L1388.0,885.2 L1390.0,885.2 L1392.0,885.2 L1394.0,885.3 L1396.0,885.3 L1398.0,885.4 L1400.0,885.4 L1402.0,885.4 L1404.0,885.5 L1406.0,885.5 L1408.0,885.5 L1410.0,885.6 L1412.0,885.6 L1414.0,885.6 L1416.0,885.7 L1418.0,885.7 L1420.0,885.8 L1422.0,885.8 L1424.0,885.8 L1426.0,885.9 L1428.0,885.9 L1430.0,885.9 L1432.0,886.0 L1434.0,886.0 L1436.0,886.0 L1438.0,886.1 L1440.0,886.1 L1442.0,886.2 L1444.0,886.2 L1446.0,886.2 L1448.0,886.3 L1450.0,886.3 L1452.0,886.3 L1454.0,886.4 L1456.0,886.4 L1458.0,886.5 L1460.0,886.5 L1462.0,886.5 L1464.0,886.6 L1466.0,886.6 L1468.0,886.6 L1470.0,886.7 L1472.0,886.7 L1474.0,886.7 L1476.0,886.8 L1478.0,886.8 L1480.0,886.8 L1482.0,886.9 L1484.0,886.9 L1486.0,886.9 L1488.0,887.0 L1490.0,887.0 L1492.0,887.0 L1494.0,887.1 L1496.0,887.1 L1498.0,887.1 L1500.0,887.2 L1502.0,887.2 L1504.0,887.3 L1506.0,887.3 L1508.0,887.3 L1510.0,887.4 L1512.0,887.4 L1514.0,887.4 L1516.0,887.5 L1518.0,887.5 L1520.0,887.6 L1522.0,887.6 L1524.0,887.7 L1526.0,887.7 L1528.0,887.8 L1530.0,887.8 L1532.0,887.9 L1534.0,888.0 L1536.0,888.1 L1538.0,888.1 L1540.0,888.2 L1542.0,888.3 L1544.0,888.4 L1546.0,888.5 L1548.0,888.6 L1550.0,888.7 L1552.0,888.7 L1554.0,888.8 L1556.0,888.9 L1558.0,889.0 L1560.0,889.1 L1562.0,889.2 L1564.0,889.3 L1566.0,889.4 L1568.0,889.5 L1570.0,889.5 L1572.0,889.6 L1574.0,889.7 L1576.0,889.8 L1578.0,889.8 L1580.0,889.9 L1582.0,889.9 L1584.0,890.0 L1586.0,890.0 L1588.0,890.1 L1590.0,890.1 L1592.0,890.2 L1594.0,890.2 L1596.0,890.3 L1598.0,890.3 L1600.0,890.3 L1602.0,890.4 L1604.0,890.4 L1606.0,890.4 L1608.0,890.5 L1610.0,890.5 L1612.0,890.5 L1614.0,890.6 L1616.0,890.6 L1618.0,890.6 L1620.0,890.6 L1622.0,890.7 L1624.0,890.7 L1626.0,890.7 L1628.0,890.8 L1630.0,890.8 L1632.0,890.8 L1634.0,890.9 L1636.0,890.9 L1638.0,890.9 L1640.0,890.9 L1642.0,891.0 L1644.0,891.0 L1646.0,891.1 L1648.0,891.1 L1650.0,891.1 L1652.0,891.2 L1654.0,891.2 L1656.0,891.2 L1658.0,891.3 L1660.0,891.3 L1662.0,891.3 L1664.0,891.4 L1666.0,891.4 L1668.0,891.4 L1670.0,891.5 L1672.0,891.5 L1674.0,891.5 L1676.0,891.6 L1678.0,891.6 L1680.0,891.7 L1682.0,891.7 L1684.0,891.7 L1686.0,891.8 L1688.0,891.8 L1690.0,891.8 L1692.0,891.9 L1694.0,891.9 L1696.0,891.9 L1698.0,892.0 L1700.0,892.0 L1702.0,892.0 L1704.0,892.1 L1706.0,892.1 L1708.0,892.1 L1710.0,892.2 L1712.0,892.2 L1714.0,892.3 L1716.0,892.3 L1718.0,892.3 L1720.0,892.4 L1722.0,892.4 L1724.0,892.5 L1726.0,892.5 L1728.0,892.5 L1730.0,892.6 L1732.0,892.6 L1734.0,892.7 L1736.0,892.7 L1738.0,892.7 L1740.0,892.8 L1742.0,892.8 L1744.0,892.8 L1746.0,892.9 L1748.0,892.9 L1750.0,892.9 L1752.0,892.9 L1754.0,893.0 L1756.0,893.0 L1758.0,893.0 L1760.0,893.0 L1762.0,893.0 L1764.0,893.0 L1766.0,893.0 L1768.0,893.0 L1770.0,893.0 L1772.0,893.1 L1774.0,893.1 L1776.0,893.1 L1778.0,893.1 L1780.0,893.1 L1782.0,893.1 L1784.0,893.1 L1786.0,893.1 L1788.0,893.1 L1790.0,893.1 L1792.0,893.1 L1794.0,893.1 L1796.0,893.1 L1798.0,893.1 L1800.0,893.1 L1802.0,893.2 L1804.0,893.2 L1806.0,893.2 L1808.0,893.2 L1810.0,893.2 L1812.0,893.2 L1814.0,893.2 L1816.0,893.2 L1818.0,893.2 L1820.0,893.2 L1822.0,893.2 L1824.0,893.2 L1826.0,893.2 L1828.0,893.2 L1830.0,893.2 L1832.0,893.2 L1834.0,893.2 L1836.0,893.2 L1838.0,893.2 L1840.0,893.2 L1842.0,893.2 L1844.0,893.2 L1846.0,893.3 L1848.0,893.3 L1850.0,893.3 L1852.0,893.3 L1854.0,893.3 L1856.0,893.3 L1858.0,893.3 L1860.0,893.3 L1862.0,893.3 L1864.0,893.3 L1866.0,893.3 L1868.0,893.3 L1870.0,893.3 L1872.0,893.3 L1874.0,893.3 L1876.0,893.3 L1878.0,893.3 L1880.0,893.3 L1882.0,893.3 L1884.0,893.3 L1886.0,893.3 L1888.0,893.3 L1890.0,893.3 L1892.0,893.4 L1894.0,893.4 L1896.0,893.4 L1898.0,893.4 L1900.0,893.4 L1902.0,893.4 L1904.0,893.4 L1906.0,893.4 L1908.0,893.4 L1910.0,893.4 L1912.0,893.4 L1914.0,893.4 L1916.0,893.4 L1918.0,893.4 L1920.0,893.4 L1922.0,893.4 L1924.0,893.4 L1926.0,893.4 L1928.0,893.4 L1930.0,893.4 L1932.0,893.4 L1934.0,893.4 L1936.0,893.4 L1938.0,893.4 L1940.0,893.4 L1942.0,893.4 L1944.0,893.4 L1946.0,893.4 L1948.0,893.4 L1950.0,893.4 L1952.0,893.5 L1954.0,893.5 L1956.0,893.5 L1958.0,893.5 L1960.0,893.5 L1962.0,893.5 L1964.0,893.5 L1966.0,893.5 L1968.0,893.5 L1970.0,893.5 L1972.0,893.5 L1974.0,893.5 L1976.0,893.5 L1978.0,893.5 L1980.0,893.5 L1982.0,893.5 L1984.0,893.5 L1986.0,893.5 L1988.0,893.5 L1990.0,893.5 L1992.0,893.5 L1994.0,893.5 L1996.0,893.5 L1998.0,893.5 L2000.0,893.5 L2002.0,893.5 L2004.0,893.5 L2006.0,893.5 L2008.0,893.5" stroke="#ff00ff" stroke-width="7" fill="none" stroke-dasharray="28.6 30.65" stroke-dashoffset="58.05" stroke-linecap="round"/><path d="M150.0,1293.0 L152.0,1293.0 L154.0,1293.0 L156.0,1293.0 L158.0,1293.0 L160.0,1293.0 L162.0,1293.0 L164.0,1293.0 L166.0,1293.0 L168.0,1293.0 L170.0,1293.0 L172.0,1293.0 L174.0,1293.0 L176.0,1293.0 L178.0,1293.0 L180.0,1293.0 L182.0,1293.0 L184.0,1293.0 L186.0,1293.0 L188.0,1293.0 L190.0,1293.0 L192.0,1293.0 L194.0,1293.0 L196.0,1292.9 L198.0,1292.9 L200.0,1292.9 L202.0,1292.9 L204.0,1292.9 L206.0,1292.9 L208.0,1292.9 L210.0,1292.9 L212.0,1292.9 L214.0,1292.9 L216.0,1292.9 L218.0,1292.9 L220.0,1292.9 L222.0,1292.9 L224.0,1292.9 L226.0,1292.9 L228.0,1292.9 L230.0,1292.9 L232.0,1292.9 L234.0,1292.9 L236.0,1292.9 L238.0,1292.9 L240.0,1292.8 L242.0,1292.8 L244.0,1292.8 L246.0,1292.8 L248.0,1292.8 L250.0,1292.8 L252.0,1292.8 L254.0,1292.8 L256.0,1292.8 L258.0,1292.8 L260.0,1292.7 L262.0,1292.7 L264.0,1292.7 L266.0,1292.7 L268.0,1292.7 L270.0,1292.7 L272.0,1292.7 L274.0,1292.6 L276.0,1292.6 L278.0,1292.6 L280.0,1292.6 L282.0,1292.6 L284.0,1292.5 L286.0,1292.5 L288.0,1292.5 L290.0,1292.5 L292.0,1292.4 L294.0,1292.4 L296.0,1292.4 L298.0,1292.4 L300.0,1292.3 L302.0,1292.3 L304.0,1292.3 L306.0,1292.2 L308.0,1292.2 L310.0,1292.2 L312.0,1292.1 L314.0,1292.1 L316.0,1292.0 L318.0,1292.0 L320.0,1291.9 L322.0,1291.9 L324.0,1291.8 L326.0,1291.8 L328.0,1291.7 L330.0,1291.7 L332.0,1291.6 L334.0,1291.6 L336.0,1291.5 L338.0,1291.4 L340.0,1291.4 L342.0,1291.3 L344.0,1291.2 L346.0,1291.2 L348.0,1291.1 L350.0,1291.0 L352.0,1290.9 L354.0,1290.8 L356.0,1290.8 L358.0,1290.7 L360.0,1290.6 L362.0,1290.5 L364.0,1290.4 L366.0,1290.3 L368.0,1290.2 L370.0,1290.1 L372.0,1289.9 L374.0,1289.8 L376.0,1289.7 L378.0,1289.6 L380.0,1289.5 L382.0,1289.3 L384.0,1289.2 L386.0,1289.1 L388.0,1288.9 L390.0,1288.8 L392.0,1288.6 L394.0,1288.5 L396.0,1288.3 L398.0,1288.1 L400.0,1288.0 L402.0,1287.8 L404.0,1287.6 L406.0,1287.5 L408.0,1287.3 L410.0,1287.1 L412.0,1286.9 L414.0,1286.7 L416.0,1286.5 L418.0,1286.3 L420.0,1286.1 L422.0,1285.8 L424.0,1285.6 L426.0,1285.4 L428.0,1285.2 L430.0,1284.9 L432.0,1284.7 L434.0,1284.4 L436.0,1284.2 L438.0,1283.9 L440.0,1283.7 L442.0,1283.4 L444.0,1283.1 L446.0,1282.8 L448.0,1282.5 L450.0,1282.3 L452.0,1282.0 L454.0,1281.7 L456.0,1281.4 L458.0,1281.1 L460.0,1280.7 L462.0,1280.4 L464.0,1280.1 L466.0,1279.8 L468.0,1279.4 L470.0,1279.1 L472.0,1278.8 L474.0,1278.4 L476.0,1278.1 L478.0,1277.7 L480.0,1277.4 L482.0,1277.0 L484.0,1276.6 L486.0,1276.3 L488.0,1275.9 L490.0,1275.5 L492.0,1275.2 L494.0,1274.8 L496.0,1274.4 L498.0,1274.0 L500.0,1273.6 L502.0,1273.2 L504.0,1272.8 L506.0,1272.5 L508.0,1272.1 L510.0,1271.7 L512.0,1271.3 L514.0,1270.9 L516.0,1270.5 L518.0,1270.1 L520.0,1269.7 L522.0,1269.3 L524.0,1268.9 L526.0,1268.5 L528.0,1268.1 L530.0,1267.7 L532.0,1267.4 L534.0,1267.0 L536.0,1266.6 L538.0,1266.2 L540.0,1265.9 L542.0,1265.5 L544.0,1265.1 L546.0,1264.8 L548.0,1264.4 L550.0,1264.1 L552.0,1263.7 L554.0,1263.4 L556.0,1263.1 L558.0,1262.7 L560.0,1262.4 L562.0,1262.1 L564.0,1261.8 L566.0,1261.5 L568.0,1261.2 L570.0,1261.0 L572.0,1260.7 L574.0,1260.4 L576.0,1260.2 L578.0,1260.0 L580.0,1259.7 L582.0,1259.5 L584.0,1259.3 L586.0,1259.1 L588.0,1258.9 L590.0,1258.8 L592.0,1258.6 L594.0,1258.5 L596.0,1258.3 L598.0,1258.2 L600.0,1258.1 L602.0,1258.0 L604.0,1257.9 L606.0,1257.8 L608.0,1257.8 L610.0,1257.7 L612.0,1257.7 L614.0,1257.7 L616.0,1257.7 L618.0,1257.7 L620.0,1257.7 L622.0,1257.7 L624.0,1257.8 L626.0,1257.8 L628.0,1257.9 L630.0,1258.0 L632.0,1258.1 L634.0,1258.2 L636.0,1258.3 L638.0,1258.5 L640.0,1258.6 L642.0,1258.8 L644.0,1259.0 L646.0,1259.1 L648.0,1259.3 L650.0,1259.6 L652.0,1259.8 L654.0,1260.0 L656.0,1260.3 L658.0,1260.5 L660.0,1260.8 L662.0,1261.0 L664.0,1261.3 L666.0,1261.6 L668.0,1261.9 L670.0,1262.2 L672.0,1262.5 L674.0,1262.9 L676.0,1263.2 L678.0,1263.5 L680.0,1263.9 L682.0,1264.2 L684.0,1264.6 L686.0,1265.0 L688.0,1265.3 L690.0,1265.7 L692.0,1266.1 L694.0,1266.5 L696.0,1266.9 L698.0,1267.3 L700.0,1267.7 L702.0,1268.1 L704.0,1268.5 L706.0,1268.9 L708.0,1269.3 L710.0,1269.7 L712.0,1270.2 L714.0,1270.6 L716.0,1271.0 L718.0,1271.5 L720.0,1271.9 L722.0,1272.3 L724.0,1272.8 L726.0,1273.2 L728.0,1273.6 L730.0,1274.1 L732.0,1274.5 L734.0,1274.9 L736.0,1275.4 L738.0,1275.8 L740.0,1276.2 L742.0,1276.7 L744.0,1277.1 L746.0,1277.5 L748.0,1277.9 L750.0,1278.3 L752.0,1278.7 L754.0,1279.1 L756.0,1279.5 L758.0,1279.9 L760.0,1280.3 L762.0,1280.7 L764.0,1281.1 L766.0,1281.4 L768.0,1281.8 L770.0,1282.2 L772.0,1282.5 L774.0,1282.9 L776.0,1283.2 L778.0,1283.6 L780.0,1283.9 L782.0,1284.2 L784.0,1284.5 L786.0,1284.9 L788.0,1285.2 L790.0,1285.5 L792.0,1285.8 L794.0,1286.1 L796.0,1286.4 L798.0,1286.7 L800.0,1287.0 L802.0,1287.3 L804.0,1287.5 L806.0,1287.8 L808.0,1288.1 L810.0,1288.3 L812.0,1288.6 L814.0,1288.8 L816.0,1289.1 L818.0,1289.3 L820.0,1289.5 L822.0,1289.8 L824.0,1290.0 L826.0,1290.2 L828.0,1290.4 L830.0,1290.6 L832.0,1290.8 L834.0,1291.0 L836.0,1291.2 L838.0,1291.4 L840.0,1291.6 L842.0,1291.8 L844.0,1292.0 L846.0,1292.2 L848.0,1292.3 L850.0,1292.5 L852.0,1292.6 L854.0,1292.8 L856.0,1293.0 L858.0,1293.1 L860.0,1293.3 L862.0,1293.4 L864.0,1293.5 L866.0,1293.7 L868.0,1293.8 L870.0,1293.9 L872.0,1294.0 L874.0,1294.2 L876.0,1294.3 L878.0,1294.4 L880.0,1294.5 L882.0,1294.6 L884.0,1294.7 L886.0,1294.8 L888.0,1294.9 L890.0,1295.0 L892.0,1295.1 L894.0,1295.2 L896.0,1295.3 L898.0,1295.4 L900.0,1295.5 L902.0,1295.6 L904.0,1295.6 L906.0,1295.7 L908.0,1295.8 L910.0,1295.9 L912.0,1295.9 L914.0,1296.0 L916.0,1296.1 L918.0,1296.1 L920.0,1296.2 L922.0,1296.3 L924.0,1296.3 L926.0,1296.4 L928.0,1296.4 L930.0,1296.5 L932.0,1296.5 L934.0,1296.6 L936.0,1296.7 L938.0,1296.7 L940.0,1296.8 L942.0,1296.8 L944.0,1296.8 L946.0,1296.9 L948.0,1296.9 L950.0,1297.0 L952.0,1297.0 L954.0,1297.1 L956.0,1297.1 L958.0,1297.1 L960.0,1297.2 L962.0,1297.2 L964.0,1297.2 L966.0,1297.3 L968.0,1297.3 L970.0,1297.4 L972.0,1297.4 L974.0,1297.4 L976.0,1297.5 L978.0,1297.5 L980.0,1297.5 L982.0,1297.5 L984.0,1297.6 L986.0,1297.6 L988.0,1297.6 L990.0,1297.7 L992.0,1297.7 L994.0,1297.7 L996.0,1297.7 L998.0,1297.8 L1000.0,1297.8 L1002.0,1297.8 L1004.0,1297.8 L1006.0,1297.9 L1008.0,1297.9 L1010.0,1297.9 L1012.0,1297.9 L1014.0,1298.0 L1016.0,1298.0 L1018.0,1298.0 L1020.0,1298.0 L1022.0,1298.1 L1024.0,1298.1 L1026.0,1298.1 L1028.0,1298.1 L1030.0,1298.1 L1032.0,1298.2 L1034.0,1298.2 L1036.0,1298.2 L1038.0,1298.2 L1040.0,1298.2 L1042.0,1298.3 L1044.0,1298.3 L1046.0,1298.3 L1048.0,1298.3 L1050.0,1298.4 L1052.0,1298.4 L1054.0,1298.4 L1056.0,1298.4 L1058.0,1298.4 L1060.0,1298.5 L1062.0,1298.5 L1064.0,1298.5 L1066.0,1298.5 L1068.0,1298.5 L1070.0,1298.6 L1072.0,1298.6 L1074.0,1298.6 L1076.0,1298.6 L1078.0,1298.6 L1080.0,1298.7 L1082.0,1298.7 L1084.0,1298.7 L1086.0,1298.7 L1088.0,1298.7 L1090.0,1298.8 L1092.0,1298.8 L1094.0,1298.8 L1096.0,1298.8 L1098.0,1298.9 L1100.0,1298.9 L1102.0,1298.9 L1104.0,1298.9 L1106.0,1298.9 L1108.0,1299.0 L1110.0,1299.0 L1112.0,1299.0 L1114.0,1299.0 L1116.0,1299.0 L1118.0,1299.1 L1120.0,1299.1 L1122.0,1299.1 L1124.0,1299.1 L1126.0,1299.2 L1128.0,1299.2 L1130.0,1299.2 L1132.0,1299.2 L1134.0,1299.3 L1136.0,1299.3 L1138.0,1299.3 L1140.0,1299.3 L1142.0,1299.4 L1144.0,1299.4 L1146.0,1299.4 L1148.0,1299.4 L1150.0,1299.5 L1152.0,1299.5 L1154.0,1299.5 L1156.0,1299.5 L1158.0,1299.6 L1160.0,1299.6 L1162.0,1299.6 L1164.0,1299.6 L1166.0,1299.7 L1168.0,1299.7 L1170.0,1299.7 L1172.0,1299.7 L1174.0,1299.8 L1176.0,1299.8 L1178.0,1299.8 L1180.0,1299.8 L1182.0,1299.9 L1184.0,1299.9 L1186.0,1299.9 L1188.0,1300.0 L1190.0,1300.0 L1192.0,1300.0 L1194.0,1300.0 L1196.0,1300.1 L1198.0,1300.1 L1200.0,1300.1 L1202.0,1300.2 L1204.0,1300.2 L1206.0,1300.2 L1208.0,1300.3 L1210.0,1300.3 L1212.0,1300.3 L1214.0,1300.4 L1216.0,1300.4 L1218.0,1300.4 L1220.0,1300.5 L1222.0,1300.5 L1224.0,1300.5 L1226.0,1300.5 L1228.0,1300.6 L1230.0,1300.6 L1232.0,1300.7 L1234.0,1300.7 L1236.0,1300.7 L1238.0,1300.8 L1240.0,1300.8 L1242.0,1300.9 L1244.0,1300.9 L1246.0,1301.0 L1248.0,1301.0 L1250.0,1301.1 L1252.0,1301.1 L1254.0,1301.2 L1256.0,1301.2 L1258.0,1301.3 L1260.0,1301.4 L1262.0,1301.4 L1264.0,1301.5 L1266.0,1301.5 L1268.0,1301.6 L1270.0,1301.7 L1272.0,1301.7 L1274.0,1301.8 L1276.0,1301.8 L1278.0,1301.9 L1280.0,1301.9 L1282.0,1302.0 L1284.0,1302.0 L1286.0,1302.1 L1288.0,1302.2 L1290.0,1302.2 L1292.0,1302.2 L1294.0,1302.3 L1296.0,1302.3 L1298.0,1302.4 L1300.0,1302.4 L1302.0,1302.5 L1304.0,1302.5 L1306.0,1302.6 L1308.0,1302.6 L1310.0,1302.7 L1312.0,1302.7 L1314.0,1302.7 L1316.0,1302.8 L1318.0,1302.8 L1320.0,1302.9 L1322.0,1302.9 L1324.0,1303.0 L1326.0,1303.0 L1328.0,1303.0 L1330.0,1303.1 L1332.0,1303.1 L1334.0,1303.2 L1336.0,1303.2 L1338.0,1303.3 L1340.0,1303.3 L1342.0,1303.3 L1344.0,1303.4 L1346.0,1303.4 L1348.0,1303.5 L1350.0,1303.5 L1352.0,1303.5 L1354.0,1303.6 L1356.0,1303.6 L1358.0,1303.6 L1360.0,1303.7 L1362.0,1303.7 L1364.0,1303.7 L1366.0,1303.8 L1368.0,1303.8 L1370.0,1303.9 L1372.0,1303.9 L1374.0,1303.9 L1376.0,1304.0 L1378.0,1304.0 L1380.0,1304.0 L1382.0,1304.1 L1384.0,1304.1 L1386.0,1304.1 L1388.0,1304.2 L1390.0,1304.2 L1392.0,1304.2 L1394.0,1304.3 L1396.0,1304.3 L1398.0,1304.4 L1400.0,1304.4 L1402.0,1304.5 L1404.0,1304.5 L1406.0,1304.5 L1408.0,1304.6 L1410.0,1304.6 L1412.0,1304.7 L1414.0,1304.7 L1416.0,1304.8 L1418.0,1304.9 L1420.0,1304.9 L1422.0,1305.0 L1424.0,1305.0 L1426.0,1305.1 L1428.0,1305.1 L1430.0,1305.2 L1432.0,1305.3 L1434.0,1305.3 L1436.0,1305.4 L1438.0,1305.5 L1440.0,1305.5 L1442.0,1305.6 L1444.0,1305.7 L1446.0,1305.7 L1448.0,1305.8 L1450.0,1305.9 L1452.0,1305.9 L1454.0,1306.0 L1456.0,1306.1 L1458.0,1306.1 L1460.0,1306.2 L1462.0,1306.3 L1464.0,1306.4 L1466.0,1306.4 L1468.0,1306.5 L1470.0,1306.6 L1472.0,1306.7 L1474.0,1306.7 L1476.0,1306.8 L1478.0,1306.9 L1480.0,1307.0 L1482.0,1307.1 L1484.0,1307.2 L1486.0,1307.3 L1488.0,1307.3 L1490.0,1307.4 L1492.0,1307.5 L1494.0,1307.6 L1496.0,1307.7 L1498.0,1307.8 L1500.0,1307.9 L1502.0,1308.0 L1504.0,1308.1 L1506.0,1308.2 L1508.0,1308.3 L1510.0,1308.4 L1512.0,1308.5 L1514.0,1308.6 L1516.0,1308.7 L1518.0,1308.8 L1520.0,1308.9 L1522.0,1309.0 L1524.0,1309.2 L1526.0,1309.3 L1528.0,1309.4 L1530.0,1309.5 L1532.0,1309.7 L1534.0,1309.8 L1536.0,1309.9 L1538.0,1310.1 L1540.0,1310.2 L1542.0,1310.4 L1544.0,1310.5 L1546.0,1310.7 L1548.0,1310.8 L1550.0,1311.0 L1552.0,1311.1 L1554.0,1311.3 L1556.0,1311.4 L1558.0,1311.6 L1560.0,1311.7 L1562.0,1311.9 L1564.0,1312.0 L1566.0,1312.2 L1568.0,1312.3 L1570.0,1312.5 L1572.0,1312.6 L1574.0,1312.8 L1576.0,1312.9 L1578.0,1313.0 L1580.0,1313.2 L1582.0,1313.3 L1584.0,1313.4 L1586.0,1313.6 L1588.0,1313.7 L1590.0,1313.8 L1592.0,1314.0 L1594.0,1314.1 L1596.0,1314.2 L1598.0,1314.4 L1600.0,1314.5 L1602.0,1314.6 L1604.0,1314.7 L1606.0,1314.9 L1608.0,1315.0 L1610.0,1315.1 L1612.0,1315.3 L1614.0,1315.4 L1616.0,1315.5 L1618.0,1315.6 L1620.0,1315.7 L1622.0,1315.8 L1624.0,1316.0 L1626.0,1316.1 L1628.0,1316.2 L1630.0,1316.2 L1632.0,1316.3 L1634.0,1316.4 L1636.0,1316.5 L1638.0,1316.6 L1640.0,1316.6 L1642.0,1316.7 L1644.0,1316.8 L1646.0,1316.8 L1648.0,1316.9 L1650.0,1316.9 L1652.0,1317.0 L1654.0,1317.0 L1656.0,1317.0 L1658.0,1317.1 L1660.0,1317.1 L1662.0,1317.2 L1664.0,1317.2 L1666.0,1317.2 L1668.0,1317.3 L1670.0,1317.3 L1672.0,1317.3 L1674.0,1317.4 L1676.0,1317.4 L1678.0,1317.4 L1680.0,1317.5 L1682.0,1317.5 L1684.0,1317.5 L1686.0,1317.6 L1688.0,1317.6 L1690.0,1317.6 L1692.0,1317.7 L1694.0,1317.7 L1696.0,1317.7 L1698.0,1317.8 L1700.0,1317.8 L1702.0,1317.8 L1704.0,1317.9 L1706.0,1317.9 L1708.0,1318.0 L1710.0,1318.0 L1712.0,1318.0 L1714.0,1318.1 L1716.0,1318.1 L1718.0,1318.2 L1720.0,1318.2 L1722.0,1318.2 L1724.0,1318.3 L1726.0,1318.3 L1728.0,1318.4 L1730.0,1318.4 L1732.0,1318.4 L1734.0,1318.5 L1736.0,1318.5 L1738.0,1318.6 L1740.0,1318.6 L1742.0,1318.6 L1744.0,1318.7 L1746.0,1318.7 L1748.0,1318.8 L1750.0,1318.8 L1752.0,1318.8 L1754.0,1318.9 L1756.0,1318.9 L1758.0,1319.0 L1760.0,1319.0 L1762.0,1319.0 L1764.0,1319.1 L1766.0,1319.1 L1768.0,1319.2 L1770.0,1319.2 L1772.0,1319.2 L1774.0,1319.3 L1776.0,1319.3 L1778.0,1319.3 L1780.0,1319.4 L1782.0,1319.4 L1784.0,1319.5 L1786.0,1319.5 L1788.0,1319.5 L1790.0,1319.6 L1792.0,1319.6 L1794.0,1319.6 L1796.0,1319.7 L1798.0,1319.7 L1800.0,1319.7 L1802.0,1319.8 L1804.0,1319.8 L1806.0,1319.8 L1808.0,1319.9 L1810.0,1319.9 L1812.0,1319.9 L1814.0,1320.0 L1816.0,1320.0 L1818.0,1320.0 L1820.0,1320.1 L1822.0,1320.1 L1824.0,1320.1 L1826.0,1320.2 L1828.0,1320.2 L1830.0,1320.2 L1832.0,1320.2 L1834.0,1320.3 L1836.0,1320.3 L1838.0,1320.3 L1840.0,1320.3 L1842.0,1320.3 L1844.0,1320.4 L1846.0,1320.4 L1848.0,1320.4 L1850.0,1320.4 L1852.0,1320.5 L1854.0,1320.5 L1856.0,1320.5 L1858.0,1320.5 L1860.0,1320.5 L1862.0,1320.6 L1864.0,1320.6 L1866.0,1320.6 L1868.0,1320.6 L1870.0,1320.7 L1872.0,1320.7 L1874.0,1320.7 L1876.0,1320.7 L1878.0,1320.8 L1880.0,1320.8 L1882.0,1320.8 L1884.0,1320.9 L1886.0,1320.9 L1888.0,1320.9 L1890.0,1321.0 L1892.0,1321.0 L1894.0,1321.0 L1896.0,1321.1 L1898.0,1321.1 L1900.0,1321.2 L1902.0,1321.2 L1904.0,1321.2 L1906.0,1321.3 L1908.0,1321.3 L1910.0,1321.4 L1912.0,1321.4 L1914.0,1321.5 L1916.0,1321.5 L1918.0,1321.5 L1920.0,1321.6 L1922.0,1321.6 L1924.0,1321.7 L1926.0,1321.7 L1928.0,1321.8 L1930.0,1321.8 L1932.0,1321.8 L1934.0,1321.9 L1936.0,1321.9 L1938.0,1322.0 L1940.0,1322.0 L1942.0,1322.0 L1944.0,1322.1 L1946.0,1322.1 L1948.0,1322.1 L1950.0,1322.2 L1952.0,1322.2 L1954.0,1322.3 L1956.0,1322.3 L1958.0,1322.3 L1960.0,1322.4 L1962.0,1322.4 L1964.0,1322.4 L1966.0,1322.5 L1968.0,1322.5 L1970.0,1322.5 L1972.0,1322.6 L1974.0,1322.6 L1976.0,1322.6 L1978.0,1322.7 L1980.0,1322.7 L1982.0,1322.8 L1984.0,1322.8 L1986.0,1322.8 L1988.0,1322.9 L1990.0,1322.9 L1992.0,1322.9 L1994.0,1323.0 L1996.0,1323.0 L1998.0,1323.0 L2000.0,1323.1 L2002.0,1323.1 L2004.0,1323.1 L2006.0,1323.2 L2008.0,1323.2" stroke="#00a060" stroke-width="7" fill="none" stroke-dasharray="28.6 30.65" stroke-dashoffset="58.05" stroke-linecap="round"/><path d="M150.0,1293.0 L152.0,1293.0 L154.0,1293.0 L156.0,1293.0 L158.0,1293.0 L160.0,1293.0 L162.0,1293.0 L164.0,1293.0 L166.0,1293.0 L168.0,1293.0 L170.0,1293.0 L172.0,1293.0 L174.0,1293.0 L176.0,1293.0 L178.0,1293.0 L180.0,1293.0 L182.0,1293.0 L184.0,1293.0 L186.0,1293.0 L188.0,1293.0 L190.0,1293.0 L192.0,1293.0 L194.0,1293.0 L196.0,1293.0 L198.0,1293.0 L200.0,1293.0 L202.0,1293.0 L204.0,1293.0 L206.0,1293.0 L208.0,1293.0 L210.0,1293.0 L212.0,1293.0 L214.0,1293.0 L216.0,1293.0 L218.0,1293.0 L220.0,1293.0 L222.0,1293.0 L224.0,1293.0 L226.0,1293.0 L228.0,1293.0 L230.0,1293.0 L232.0,1293.0 L234.0,1293.0 L236.0,1293.0 L238.0,1293.0 L240.0,1293.0 L242.0,1293.1 L244.0,1293.1 L246.0,1293.1 L248.0,1293.1 L250.0,1293.1 L252.0,1293.1 L254.0,1293.1 L256.0,1293.1 L258.0,1293.1 L260.0,1293.1 L262.0,1293.1 L264.0,1293.1 L266.0,1293.1 L268.0,1293.1 L270.0,1293.1 L272.0,1293.1 L274.0,1293.1 L276.0,1293.1 L278.0,1293.1 L280.0,1293.1 L282.0,1293.1 L284.0,1293.1 L286.0,1293.1 L288.0,1293.1 L290.0,1293.1 L292.0,1293.1 L294.0,1293.1 L296.0,1293.1 L298.0,1293.1 L300.0,1293.1 L302.0,1293.1 L304.0,1293.1 L306.0,1293.1 L308.0,1293.2 L310.0,1293.2 L312.0,1293.2 L314.0,1293.2 L316.0,1293.2 L318.0,1293.2 L320.0,1293.2 L322.0,1293.2 L324.0,1293.2 L326.0,1293.2 L328.0,1293.2 L330.0,1293.2 L332.0,1293.2 L334.0,1293.2 L336.0,1293.2 L338.0,1293.2 L340.0,1293.2 L342.0,1293.2 L344.0,1293.2 L346.0,1293.2 L348.0,1293.2 L350.0,1293.2 L352.0,1293.2 L354.0,1293.3 L356.0,1293.3 L358.0,1293.3 L360.0,1293.3 L362.0,1293.3 L364.0,1293.3 L366.0,1293.3 L368.0,1293.3 L370.0,1293.3 L372.0,1293.3 L374.0,1293.3 L376.0,1293.3 L378.0,1293.3 L380.0,1293.3 L382.0,1293.3 L384.0,1293.3 L386.0,1293.3 L388.0,1293.3 L390.0,1293.3 L392.0,1293.4 L394.0,1293.4 L396.0,1293.4 L398.0,1293.4 L400.0,1293.4 L402.0,1293.4 L404.0,1293.4 L406.0,1293.4 L408.0,1293.4 L410.0,1293.4 L412.0,1293.4 L414.0,1293.4 L416.0,1293.4 L418.0,1293.4 L420.0,1293.4 L422.0,1293.4 L424.0,1293.5 L426.0,1293.5 L428.0,1293.5 L430.0,1293.5 L432.0,1293.5 L434.0,1293.5 L436.0,1293.5 L438.0,1293.5 L440.0,1293.5 L442.0,1293.5 L444.0,1293.5 L446.0,1293.5 L448.0,1293.5 L450.0,1293.5 L452.0,1293.5 L454.0,1293.6 L456.0,1293.6 L458.0,1293.6 L460.0,1293.6 L462.0,1293.6 L464.0,1293.6 L466.0,1293.6 L468.0,1293.6 L470.0,1293.6 L472.0,1293.6 L474.0,1293.6 L476.0,1293.6 L478.0,1293.6 L480.0,1293.7 L482.0,1293.7 L484.0,1293.7 L486.0,1293.7 L488.0,1293.7 L490.0,1293.7 L492.0,1293.7 L494.0,1293.7 L496.0,1293.7 L498.0,1293.7 L500.0,1293.7 L502.0,1293.7 L504.0,1293.8 L506.0,1293.8 L508.0,1293.8 L510.0,1293.8 L512.0,1293.8 L514.0,1293.8 L516.0,1293.8 L518.0,1293.8 L520.0,1293.8 L522.0,1293.8 L524.0,1293.8 L526.0,1293.8 L528.0,1293.9 L530.0,1293.9 L532.0,1293.9 L534.0,1293.9 L536.0,1293.9 L538.0,1293.9 L540.0,1293.9 L542.0,1293.9 L544.0,1293.9 L546.0,1293.9 L548.0,1293.9 L550.0,1294.0 L552.0,1294.0 L554.0,1294.0 L556.0,1294.0 L558.0,1294.0 L560.0,1294.0 L562.0,1294.0 L564.0,1294.0 L566.0,1294.0 L568.0,1294.0 L570.0,1294.1 L572.0,1294.1 L574.0,1294.1 L576.0,1294.1 L578.0,1294.1 L580.0,1294.1 L582.0,1294.1 L584.0,1294.1 L586.0,1294.1 L588.0,1294.1 L590.0,1294.2 L592.0,1294.2 L594.0,1294.2 L596.0,1294.2 L598.0,1294.2 L600.0,1294.2 L602.0,1294.2 L604.0,1294.2 L606.0,1294.2 L608.0,1294.3 L610.0,1294.3 L612.0,1294.3 L614.0,1294.3 L616.0,1294.3 L618.0,1294.3 L620.0,1294.3 L622.0,1294.3 L624.0,1294.3 L626.0,1294.4 L628.0,1294.4 L630.0,1294.4 L632.0,1294.4 L634.0,1294.4 L636.0,1294.4 L638.0,1294.4 L640.0,1294.4 L642.0,1294.4 L644.0,1294.5 L646.0,1294.5 L648.0,1294.5 L650.0,1294.5 L652.0,1294.5 L654.0,1294.5 L656.0,1294.5 L658.0,1294.5 L660.0,1294.5 L662.0,1294.6 L664.0,1294.6 L666.0,1294.6 L668.0,1294.6 L670.0,1294.6 L672.0,1294.6 L674.0,1294.6 L676.0,1294.6 L678.0,1294.7 L680.0,1294.7 L682.0,1294.7 L684.0,1294.7 L686.0,1294.7 L688.0,1294.7 L690.0,1294.7 L692.0,1294.7 L694.0,1294.8 L696.0,1294.8 L698.0,1294.8 L700.0,1294.8 L702.0,1294.8 L704.0,1294.8 L706.0,1294.8 L708.0,1294.9 L710.0,1294.9 L712.0,1294.9 L714.0,1294.9 L716.0,1295.0 L718.0,1295.0 L720.0,1295.0 L722.0,1295.1 L724.0,1295.1 L726.0,1295.1 L728.0,1295.2 L730.0,1295.2 L732.0,1295.2 L734.0,1295.3 L736.0,1295.3 L738.0,1295.3 L740.0,1295.4 L742.0,1295.4 L744.0,1295.5 L746.0,1295.5 L748.0,1295.5 L750.0,1295.6 L752.0,1295.6 L754.0,1295.6 L756.0,1295.6 L758.0,1295.7 L760.0,1295.7 L762.0,1295.7 L764.0,1295.8 L766.0,1295.8 L768.0,1295.8 L770.0,1295.8 L772.0,1295.9 L774.0,1295.9 L776.0,1295.9 L778.0,1295.9 L780.0,1295.9 L782.0,1296.0 L784.0,1296.0 L786.0,1296.0 L788.0,1296.0 L790.0,1296.1 L792.0,1296.1 L794.0,1296.1 L796.0,1296.1 L798.0,1296.2 L800.0,1296.2 L802.0,1296.2 L804.0,1296.2 L806.0,1296.2 L808.0,1296.3 L810.0,1296.3 L812.0,1296.3 L814.0,1296.3 L816.0,1296.4 L818.0,1296.4 L820.0,1296.4 L822.0,1296.4 L824.0,1296.4 L826.0,1296.5 L828.0,1296.5 L830.0,1296.5 L832.0,1296.5 L834.0,1296.5 L836.0,1296.6 L838.0,1296.6 L840.0,1296.6 L842.0,1296.6 L844.0,1296.6 L846.0,1296.7 L848.0,1296.7 L850.0,1296.7 L852.0,1296.7 L854.0,1296.7 L856.0,1296.8 L858.0,1296.8 L860.0,1296.8 L862.0,1296.8 L864.0,1296.8 L866.0,1296.8 L868.0,1296.9 L870.0,1296.9 L872.0,1296.9 L874.0,1296.9 L876.0,1296.9 L878.0,1297.0 L880.0,1297.0 L882.0,1297.0 L884.0,1297.0 L886.0,1297.0 L888.0,1297.0 L890.0,1297.1 L892.0,1297.1 L894.0,1297.1 L896.0,1297.1 L898.0,1297.1 L900.0,1297.1 L902.0,1297.2 L904.0,1297.2 L906.0,1297.2 L908.0,1297.2 L910.0,1297.2 L912.0,1297.2 L914.0,1297.3 L916.0,1297.3 L918.0,1297.3 L920.0,1297.3 L922.0,1297.3 L924.0,1297.3 L926.0,1297.4 L928.0,1297.4 L930.0,1297.4 L932.0,1297.4 L934.0,1297.4 L936.0,1297.4 L938.0,1297.5 L940.0,1297.5 L942.0,1297.5 L944.0,1297.5 L946.0,1297.5 L948.0,1297.5 L950.0,1297.5 L952.0,1297.6 L954.0,1297.6 L956.0,1297.6 L958.0,1297.6 L960.0,1297.6 L962.0,1297.6 L964.0,1297.7 L966.0,1297.7 L968.0,1297.7 L970.0,1297.7 L972.0,1297.7 L974.0,1297.7 L976.0,1297.7 L978.0,1297.8 L980.0,1297.8 L982.0,1297.8 L984.0,1297.8 L986.0,1297.8 L988.0,1297.8 L990.0,1297.8 L992.0,1297.9 L994.0,1297.9 L996.0,1297.9 L998.0,1297.9 L1000.0,1297.9 L1002.0,1297.9 L1004.0,1297.9 L1006.0,1298.0 L1008.0,1298.0 L1010.0,1298.0 L1012.0,1298.0 L1014.0,1298.0 L1016.0,1298.0 L1018.0,1298.0 L1020.0,1298.0 L1022.0,1298.1 L1024.0,1298.1 L1026.0,1298.1 L1028.0,1298.1 L1030.0,1298.1 L1032.0,1298.1 L1034.0,1298.1 L1036.0,1298.1 L1038.0,1298.1 L1040.0,1298.2 L1042.0,1298.2 L1044.0,1298.2 L1046.0,1298.2 L1048.0,1298.2 L1050.0,1298.2 L1052.0,1298.2 L1054.0,1298.2 L1056.0,1298.2 L1058.0,1298.2 L1060.0,1298.2 L1062.0,1298.2 L1064.0,1298.3 L1066.0,1298.3 L1068.0,1298.3 L1070.0,1298.3 L1072.0,1298.3 L1074.0,1298.3 L1076.0,1298.3 L1078.0,1298.3 L1080.0,1298.3 L1082.0,1298.3 L1084.0,1298.3 L1086.0,1298.3 L1088.0,1298.3 L1090.0,1298.3 L1092.0,1298.3 L1094.0,1298.3 L1096.0,1298.3 L1098.0,1298.3 L1100.0,1298.3 L1102.0,1298.3 L1104.0,1298.3 L1106.0,1298.2 L1108.0,1298.2 L1110.0,1298.2 L1112.0,1298.2 L1114.0,1298.2 L1116.0,1298.2 L1118.0,1298.2 L1120.0,1298.2 L1122.0,1298.1 L1124.0,1298.1 L1126.0,1298.1 L1128.0,1298.1 L1130.0,1298.0 L1132.0,1298.0 L1134.0,1298.0 L1136.0,1298.0 L1138.0,1297.9 L1140.0,1297.9 L1142.0,1297.9 L1144.0,1297.8 L1146.0,1297.8 L1148.0,1297.7 L1150.0,1297.7 L1152.0,1297.6 L1154.0,1297.6 L1156.0,1297.5 L1158.0,1297.5 L1160.0,1297.4 L1162.0,1297.4 L1164.0,1297.3 L1166.0,1297.2 L1168.0,1297.2 L1170.0,1297.1 L1172.0,1297.0 L1174.0,1296.9 L1176.0,1296.8 L1178.0,1296.8 L1180.0,1296.7 L1182.0,1296.6 L1184.0,1296.5 L1186.0,1296.4 L1188.0,1296.3 L1190.0,1296.1 L1192.0,1296.0 L1194.0,1295.9 L1196.0,1295.8 L1198.0,1295.6 L1200.0,1295.5 L1202.0,1295.4 L1204.0,1295.2 L1206.0,1295.1 L1208.0,1294.9 L1210.0,1294.7 L1212.0,1294.6 L1214.0,1294.4 L1216.0,1294.2 L1218.0,1294.0 L1220.0,1293.8 L1222.0,1293.6 L1224.0,1293.4 L1226.0,1293.1 L1228.0,1292.9 L1230.0,1292.7 L1232.0,1292.4 L1234.0,1292.2 L1236.0,1291.9 L1238.0,1291.7 L1240.0,1291.4 L1242.0,1291.1 L1244.0,1290.8 L1246.0,1290.5 L1248.0,1290.2 L1250.0,1289.9 L1252.0,1289.6 L1254.0,1289.3 L1256.0,1288.9 L1258.0,1288.6 L1260.0,1288.2 L1262.0,1287.8 L1264.0,1287.4 L1266.0,1287.0 L1268.0,1286.6 L1270.0,1286.2 L1272.0,1285.8 L1274.0,1285.3 L1276.0,1284.8 L1278.0,1284.3 L1280.0,1283.8 L1282.0,1283.3 L1284.0,1282.8 L1286.0,1282.2 L1288.0,1281.7 L1290.0,1281.1 L1292.0,1280.5 L1294.0,1279.9 L1296.0,1279.2 L1298.0,1278.6 L1300.0,1277.9 L1302.0,1277.2 L1304.0,1276.5 L1306.0,1275.8 L1308.0,1275.0 L1310.0,1274.3 L1312.0,1273.5 L1314.0,1272.7 L1316.0,1271.9 L1318.0,1271.0 L1320.0,1270.1 L1322.0,1269.3 L1324.0,1268.3 L1326.0,1267.4 L1328.0,1266.5 L1330.0,1265.5 L1332.0,1264.5 L1334.0,1263.5 L1336.0,1262.4 L1338.0,1261.4 L1340.0,1260.3 L1342.0,1259.1 L1344.0,1258.0 L1346.0,1256.8 L1348.0,1255.7 L1350.0,1254.4 L1352.0,1253.2 L1354.0,1251.9 L1356.0,1250.7 L1358.0,1249.3 L1360.0,1248.0 L1362.0,1246.6 L1364.0,1245.3 L1366.0,1243.8 L1368.0,1242.4 L1370.0,1240.9 L1372.0,1239.4 L1374.0,1237.9 L1376.0,1236.4 L1378.0,1234.8 L1380.0,1233.2 L1382.0,1231.6 L1384.0,1230.0 L1386.0,1228.3 L1388.0,1226.6 L1390.0,1224.9 L1392.0,1223.1 L1394.0,1221.4 L1396.0,1219.6 L1398.0,1217.8 L1400.0,1216.0 L1402.0,1214.1 L1404.0,1212.2 L1406.0,1210.3 L1408.0,1208.4 L1410.0,1206.5 L1412.0,1204.5 L1414.0,1202.5 L1416.0,1200.5 L1418.0,1198.5 L1420.0,1196.5 L1422.0,1194.4 L1424.0,1192.4 L1426.0,1190.3 L1428.0,1188.2 L1430.0,1186.1 L1432.0,1184.0 L1434.0,1181.8 L1436.0,1179.7 L1438.0,1177.5 L1440.0,1175.3 L1442.0,1173.2 L1444.0,1171.0 L1446.0,1168.8 L1448.0,1166.6 L1450.0,1164.4 L1452.0,1162.1 L1454.0,1159.9 L1456.0,1157.7 L1458.0,1155.5 L1460.0,1153.3 L1462.0,1151.1 L1464.0,1148.9 L1466.0,1146.7 L1468.0,1144.5 L1470.0,1142.3 L1472.0,1140.1 L1474.0,1138.0 L1476.0,1135.8 L1478.0,1133.7 L1480.0,1131.6 L1482.0,1129.5 L1484.0,1127.4 L1486.0,1125.4 L1488.0,1123.3 L1490.0,1121.3 L1492.0,1119.4 L1494.0,1117.4 L1496.0,1115.5 L1498.0,1113.6 L1500.0,1111.8 L1502.0,1110.0 L1504.0,1108.2 L1506.0,1106.5 L1508.0,1104.8 L1510.0,1103.1 L1512.0,1101.5 L1514.0,1100.0 L1516.0,1098.5 L1518.0,1097.0 L1520.0,1095.6 L1522.0,1094.2 L1524.0,1092.9 L1526.0,1091.7 L1528.0,1090.5 L1530.0,1089.4 L1532.0,1088.3 L1534.0,1087.3 L1536.0,1086.4 L1538.0,1085.5 L1540.0,1084.7 L1542.0,1084.0 L1544.0,1083.3 L1546.0,1082.7 L1548.0,1082.2 L1550.0,1081.7 L1552.0,1081.3 L1554.0,1081.0 L1556.0,1080.7 L1558.0,1080.5 L1560.0,1080.4 L1562.0,1080.4 L1564.0,1080.4 L1566.0,1080.5 L1568.0,1080.6 L1570.0,1080.9 L1572.0,1081.1 L1574.0,1081.5 L1576.0,1081.9 L1578.0,1082.4 L1580.0,1083.0 L1582.0,1083.6 L1584.0,1084.3 L1586.0,1085.1 L1588.0,1085.9 L1590.0,1086.8 L1592.0,1087.8 L1594.0,1088.8 L1596.0,1089.9 L1598.0,1091.0 L1600.0,1092.3 L1602.0,1093.5 L1604.0,1094.9 L1606.0,1096.3 L1608.0,1097.7 L1610.0,1099.2 L1612.0,1100.8 L1614.0,1102.4 L1616.0,1104.0 L1618.0,1105.7 L1620.0,1107.5 L1622.0,1109.2 L1624.0,1111.1 L1626.0,1112.9 L1628.0,1114.8 L1630.0,1116.8 L1632.0,1118.7 L1634.0,1120.7 L1636.0,1122.8 L1638.0,1124.8 L1640.0,1126.9 L1642.0,1129.0 L1644.0,1131.1 L1646.0,1133.3 L1648.0,1135.4 L1650.0,1137.6 L1652.0,1139.8 L1654.0,1142.1 L1656.0,1144.3 L1658.0,1146.5 L1660.0,1148.8 L1662.0,1151.1 L1664.0,1153.4 L1666.0,1155.7 L1668.0,1158.0 L1670.0,1160.3 L1672.0,1162.6 L1674.0,1164.9 L1676.0,1167.2 L1678.0,1169.6 L1680.0,1171.9 L1682.0,1174.2 L1684.0,1176.5 L1686.0,1178.8 L1688.0,1181.1 L1690.0,1183.4 L1692.0,1185.7 L1694.0,1188.0 L1696.0,1190.2 L1698.0,1192.5 L1700.0,1194.8 L1702.0,1197.0 L1704.0,1199.2 L1706.0,1201.4 L1708.0,1203.6 L1710.0,1205.8 L1712.0,1208.0 L1714.0,1210.1 L1716.0,1212.2 L1718.0,1214.3 L1720.0,1216.4 L1722.0,1218.5 L1724.0,1220.5 L1726.0,1222.6 L1728.0,1224.6 L1730.0,1226.5 L1732.0,1228.5 L1734.0,1230.4 L1736.0,1232.3 L1738.0,1234.2 L1740.0,1236.1 L1742.0,1237.9 L1744.0,1239.7 L1746.0,1241.5 L1748.0,1243.3 L1750.0,1245.0 L1752.0,1246.7 L1754.0,1248.4 L1756.0,1250.1 L1758.0,1251.7 L1760.0,1253.3 L1762.0,1254.9 L1764.0,1256.5 L1766.0,1258.0 L1768.0,1259.5 L1770.0,1261.0 L1772.0,1262.5 L1774.0,1263.9 L1776.0,1265.3 L1778.0,1266.7 L1780.0,1268.0 L1782.0,1269.4 L1784.0,1270.7 L1786.0,1272.0 L1788.0,1273.2 L1790.0,1274.4 L1792.0,1275.7 L1794.0,1276.8 L1796.0,1278.0 L1798.0,1279.1 L1800.0,1280.3 L1802.0,1281.4 L1804.0,1282.4 L1806.0,1283.5 L1808.0,1284.5 L1810.0,1285.5 L1812.0,1286.5 L1814.0,1287.4 L1816.0,1288.4 L1818.0,1289.3 L1820.0,1290.2 L1822.0,1291.1 L1824.0,1291.9 L1826.0,1292.7 L1828.0,1293.6 L1830.0,1294.4 L1832.0,1295.1 L1834.0,1295.9 L1836.0,1296.6 L1838.0,1297.3 L1840.0,1298.0 L1842.0,1298.7 L1844.0,1299.4 L1846.0,1300.1 L1848.0,1300.7 L1850.0,1301.3 L1852.0,1301.9 L1854.0,1302.5 L1856.0,1303.1 L1858.0,1303.6 L1860.0,1304.2 L1862.0,1304.7 L1864.0,1305.2 L1866.0,1305.7 L1868.0,1306.2 L1870.0,1306.7 L1872.0,1307.2 L1874.0,1307.7 L1876.0,1308.1 L1878.0,1308.5 L1880.0,1309.0 L1882.0,1309.4 L1884.0,1309.8 L1886.0,1310.2 L1888.0,1310.6 L1890.0,1311.0 L1892.0,1311.3 L1894.0,1311.7 L1896.0,1312.0 L1898.0,1312.4 L1900.0,1312.7 L1902.0,1313.0 L1904.0,1313.4 L1906.0,1313.7 L1908.0,1314.0 L1910.0,1314.3 L1912.0,1314.6 L1914.0,1314.9 L1916.0,1315.1 L1918.0,1315.4 L1920.0,1315.7 L1922.0,1315.9 L1924.0,1316.2 L1926.0,1316.4 L1928.0,1316.6 L1930.0,1316.9 L1932.0,1317.1 L1934.0,1317.3 L1936.0,1317.5 L1938.0,1317.7 L1940.0,1317.9 L1942.0,1318.1 L1944.0,1318.3 L1946.0,1318.4 L1948.0,1318.6 L1950.0,1318.8 L1952.0,1318.9 L1954.0,1319.1 L1956.0,1319.3 L1958.0,1319.4 L1960.0,1319.6 L1962.0,1319.7 L1964.0,1319.8 L1966.0,1320.0 L1968.0,1320.1 L1970.0,1320.2 L1972.0,1320.4 L1974.0,1320.5 L1976.0,1320.6 L1978.0,1320.7 L1980.0,1320.8 L1982.0,1320.9 L1984.0,1321.0 L1986.0,1321.1 L1988.0,1321.2 L1990.0,1321.3 L1992.0,1321.4 L1994.0,1321.5 L1996.0,1321.6 L1998.0,1321.7 L2000.0,1321.8 L2002.0,1321.9 L2004.0,1322.0 L2006.0,1322.0 L2008.0,1322.1" stroke="#ff0000" stroke-width="7" fill="none" stroke-dasharray="28.6 30.65" stroke-dashoffset="58.05" stroke-linecap="round"/><path d="M150.0,1293.0 L152.0,1293.0 L154.0,1293.0 L156.0,1293.0 L158.0,1293.0 L160.0,1293.0 L162.0,1293.0 L164.0,1293.0 L166.0,1293.0 L168.0,1293.0 L170.0,1293.0 L172.0,1293.0 L174.0,1293.0 L176.0,1293.0 L178.0,1293.0 L180.0,1293.0 L182.0,1293.0 L184.0,1293.0 L186.0,1293.0 L188.0,1293.0 L190.0,1293.0 L192.0,1293.0 L194.0,1293.0 L196.0,1293.0 L198.0,1293.0 L200.0,1293.0 L202.0,1293.0 L204.0,1293.0 L206.0,1293.0 L208.0,1293.0 L210.0,1293.0 L212.0,1293.0 L214.0,1293.0 L216.0,1293.0 L218.0,1293.0 L220.0,1293.0 L222.0,1293.0 L224.0,1293.0 L226.0,1293.0 L228.0,1293.0 L230.0,1293.0 L232.0,1293.0 L234.0,1293.0 L236.0,1293.0 L238.0,1293.0 L240.0,1293.0 L242.0,1293.1 L244.0,1293.1 L246.0,1293.1 L248.0,1293.1 L250.0,1293.1 L252.0,1293.1 L254.0,1293.1 L256.0,1293.1 L258.0,1293.1 L260.0,1293.1 L262.0,1293.1 L264.0,1293.1 L266.0,1293.1 L268.0,1293.1 L270.0,1293.1 L272.0,1293.1 L274.0,1293.1 L276.0,1293.1 L278.0,1293.1 L280.0,1293.1 L282.0,1293.1 L284.0,1293.1 L286.0,1293.1 L288.0,1293.1 L290.0,1293.1 L292.0,1293.1 L294.0,1293.1 L296.0,1293.1 L298.0,1293.1 L300.0,1293.1 L302.0,1293.1 L304.0,1293.1 L306.0,1293.1 L308.0,1293.2 L310.0,1293.2 L312.0,1293.2 L314.0,1293.2 L316.0,1293.2 L318.0,1293.2 L320.0,1293.2 L322.0,1293.2 L324.0,1293.2 L326.0,1293.2 L328.0,1293.2 L330.0,1293.2 L332.0,1293.2 L334.0,1293.2 L336.0,1293.2 L338.0,1293.2 L340.0,1293.2 L342.0,1293.2 L344.0,1293.2 L346.0,1293.2 L348.0,1293.2 L350.0,1293.2 L352.0,1293.2 L354.0,1293.3 L356.0,1293.3 L358.0,1293.3 L360.0,1293.3 L362.0,1293.3 L364.0,1293.3 L366.0,1293.3 L368.0,1293.3 L370.0,1293.3 L372.0,1293.3 L374.0,1293.3 L376.0,1293.3 L378.0,1293.3 L380.0,1293.3 L382.0,1293.3 L384.0,1293.3 L386.0,1293.3 L388.0,1293.3 L390.0,1293.3 L392.0,1293.4 L394.0,1293.4 L396.0,1293.4 L398.0,1293.4 L400.0,1293.4 L402.0,1293.4 L404.0,1293.4 L406.0,1293.4 L408.0,1293.4 L410.0,1293.4 L412.0,1293.4 L414.0,1293.4 L416.0,1293.4 L418.0,1293.4 L420.0,1293.4 L422.0,1293.4 L424.0,1293.5 L426.0,1293.5 L428.0,1293.5 L430.0,1293.5 L432.0,1293.5 L434.0,1293.5 L436.0,1293.5 L438.0,1293.5 L440.0,1293.5 L442.0,1293.5 L444.0,1293.5 L446.0,1293.5 L448.0,1293.5 L450.0,1293.5 L452.0,1293.5 L454.0,1293.6 L456.0,1293.6 L458.0,1293.6 L460.0,1293.6 L462.0,1293.6 L464.0,1293.6 L466.0,1293.6 L468.0,1293.6 L470.0,1293.6 L472.0,1293.6 L474.0,1293.6 L476.0,1293.6 L478.0,1293.6 L480.0,1293.7 L482.0,1293.7 L484.0,1293.7 L486.0,1293.7 L488.0,1293.7 L490.0,1293.7 L492.0,1293.7 L494.0,1293.7 L496.0,1293.7 L498.0,1293.7 L500.0,1293.7 L502.0,1293.7 L504.0,1293.7 L506.0,1293.8 L508.0,1293.8 L510.0,1293.8 L512.0,1293.8 L514.0,1293.8 L516.0,1293.8 L518.0,1293.8 L520.0,1293.8 L522.0,1293.8 L524.0,1293.8 L526.0,1293.8 L528.0,1293.9 L530.0,1293.9 L532.0,1293.9 L534.0,1293.9 L536.0,1293.9 L538.0,1293.9 L540.0,1293.9 L542.0,1293.9 L544.0,1293.9 L546.0,1293.9 L548.0,1293.9 L550.0,1294.0 L552.0,1294.0 L554.0,1294.0 L556.0,1294.0 L558.0,1294.0 L560.0,1294.0 L562.0,1294.0 L564.0,1294.0 L566.0,1294.0 L568.0,1294.0 L570.0,1294.1 L572.0,1294.1 L574.0,1294.1 L576.0,1294.1 L578.0,1294.1 L580.0,1294.1 L582.0,1294.1 L584.0,1294.1 L586.0,1294.1 L588.0,1294.1 L590.0,1294.2 L592.0,1294.2 L594.0,1294.2 L596.0,1294.2 L598.0,1294.2 L600.0,1294.2 L602.0,1294.2 L604.0,1294.2 L606.0,1294.2 L608.0,1294.2 L610.0,1294.3 L612.0,1294.3 L614.0,1294.3 L616.0,1294.3 L618.0,1294.3 L620.0,1294.3 L622.0,1294.3 L624.0,1294.3 L626.0,1294.3 L628.0,1294.4 L630.0,1294.4 L632.0,1294.4 L634.0,1294.4 L636.0,1294.4 L638.0,1294.4 L640.0,1294.4 L642.0,1294.4 L644.0,1294.4 L646.0,1294.4 L648.0,1294.5 L650.0,1294.5 L652.0,1294.5 L654.0,1294.5 L656.0,1294.5 L658.0,1294.5 L660.0,1294.5 L662.0,1294.5 L664.0,1294.5 L666.0,1294.6 L668.0,1294.6 L670.0,1294.6 L672.0,1294.6 L674.0,1294.6 L676.0,1294.6 L678.0,1294.6 L680.0,1294.6 L682.0,1294.6 L684.0,1294.7 L686.0,1294.7 L688.0,1294.7 L690.0,1294.7 L692.0,1294.7 L694.0,1294.7 L696.0,1294.7 L698.0,1294.7 L700.0,1294.7 L702.0,1294.7 L704.0,1294.8 L706.0,1294.8 L708.0,1294.8 L710.0,1294.8 L712.0,1294.8 L714.0,1294.9 L716.0,1294.9 L718.0,1294.9 L720.0,1294.9 L722.0,1295.0 L724.0,1295.0 L726.0,1295.0 L728.0,1295.0 L730.0,1295.1 L732.0,1295.1 L734.0,1295.1 L736.0,1295.2 L738.0,1295.2 L740.0,1295.2 L742.0,1295.2 L744.0,1295.3 L746.0,1295.3 L748.0,1295.3 L750.0,1295.3 L752.0,1295.4 L754.0,1295.4 L756.0,1295.4 L758.0,1295.4 L760.0,1295.4 L762.0,1295.5 L764.0,1295.5 L766.0,1295.5 L768.0,1295.5 L770.0,1295.5 L772.0,1295.5 L774.0,1295.5 L776.0,1295.5 L778.0,1295.6 L780.0,1295.6 L782.0,1295.6 L784.0,1295.6 L786.0,1295.6 L788.0,1295.6 L790.0,1295.6 L792.0,1295.6 L794.0,1295.6 L796.0,1295.6 L798.0,1295.6 L800.0,1295.6 L802.0,1295.6 L804.0,1295.6 L806.0,1295.6 L808.0,1295.6 L810.0,1295.6 L812.0,1295.6 L814.0,1295.6 L816.0,1295.6 L818.0,1295.6 L820.0,1295.5 L822.0,1295.5 L824.0,1295.5 L826.0,1295.5 L828.0,1295.5 L830.0,1295.5 L832.0,1295.4 L834.0,1295.4 L836.0,1295.4 L838.0,1295.4 L840.0,1295.4 L842.0,1295.3 L844.0,1295.3 L846.0,1295.3 L848.0,1295.2 L850.0,1295.2 L852.0,1295.2 L854.0,1295.1 L856.0,1295.1 L858.0,1295.0 L860.0,1295.0 L862.0,1295.0 L864.0,1294.9 L866.0,1294.9 L868.0,1294.8 L870.0,1294.7 L872.0,1294.7 L874.0,1294.6 L876.0,1294.6 L878.0,1294.5 L880.0,1294.4 L882.0,1294.4 L884.0,1294.3 L886.0,1294.2 L888.0,1294.1 L890.0,1294.1 L892.0,1294.0 L894.0,1293.9 L896.0,1293.8 L898.0,1293.7 L900.0,1293.6 L902.0,1293.5 L904.0,1293.4 L906.0,1293.3 L908.0,1293.2 L910.0,1293.1 L912.0,1292.9 L914.0,1292.8 L916.0,1292.7 L918.0,1292.6 L920.0,1292.4 L922.0,1292.3 L924.0,1292.1 L926.0,1292.0 L928.0,1291.8 L930.0,1291.7 L932.0,1291.5 L934.0,1291.4 L936.0,1291.2 L938.0,1291.0 L940.0,1290.8 L942.0,1290.6 L944.0,1290.4 L946.0,1290.3 L948.0,1290.1 L950.0,1289.8 L952.0,1289.6 L954.0,1289.4 L956.0,1289.2 L958.0,1289.0 L960.0,1288.7 L962.0,1288.5 L964.0,1288.2 L966.0,1288.0 L968.0,1287.7 L970.0,1287.5 L972.0,1287.2 L974.0,1286.9 L976.0,1286.6 L978.0,1286.3 L980.0,1286.0 L982.0,1285.7 L984.0,1285.4 L986.0,1285.1 L988.0,1284.8 L990.0,1284.4 L992.0,1284.1 L994.0,1283.8 L996.0,1283.4 L998.0,1283.0 L1000.0,1282.7 L1002.0,1282.3 L1004.0,1281.9 L1006.0,1281.5 L1008.0,1281.1 L1010.0,1280.7 L1012.0,1280.3 L1014.0,1279.9 L1016.0,1279.5 L1018.0,1279.0 L1020.0,1278.6 L1022.0,1278.1 L1024.0,1277.7 L1026.0,1277.2 L1028.0,1276.7 L1030.0,1276.2 L1032.0,1275.8 L1034.0,1275.3 L1036.0,1274.8 L1038.0,1274.3 L1040.0,1273.7 L1042.0,1273.2 L1044.0,1272.7 L1046.0,1272.1 L1048.0,1271.6 L1050.0,1271.0 L1052.0,1270.5 L1054.0,1269.9 L1056.0,1269.4 L1058.0,1268.8 L1060.0,1268.2 L1062.0,1267.6 L1064.0,1267.0 L1066.0,1266.4 L1068.0,1265.8 L1070.0,1265.2 L1072.0,1264.6 L1074.0,1264.0 L1076.0,1263.4 L1078.0,1262.7 L1080.0,1262.1 L1082.0,1261.5 L1084.0,1260.8 L1086.0,1260.2 L1088.0,1259.6 L1090.0,1258.9 L1092.0,1258.3 L1094.0,1257.6 L1096.0,1257.0 L1098.0,1256.4 L1100.0,1255.7 L1102.0,1255.1 L1104.0,1254.4 L1106.0,1253.8 L1108.0,1253.2 L1110.0,1252.5 L1112.0,1251.9 L1114.0,1251.3 L1116.0,1250.7 L1118.0,1250.1 L1120.0,1249.4 L1122.0,1248.8 L1124.0,1248.2 L1126.0,1247.7 L1128.0,1247.1 L1130.0,1246.5 L1132.0,1245.9 L1134.0,1245.4 L1136.0,1244.8 L1138.0,1244.3 L1140.0,1243.8 L1142.0,1243.2 L1144.0,1242.7 L1146.0,1242.3 L1148.0,1241.8 L1150.0,1241.3 L1152.0,1240.9 L1154.0,1240.4 L1156.0,1240.0 L1158.0,1239.6 L1160.0,1239.2 L1162.0,1238.9 L1164.0,1238.5 L1166.0,1238.2 L1168.0,1237.9 L1170.0,1237.6 L1172.0,1237.3 L1174.0,1237.1 L1176.0,1236.8 L1178.0,1236.6 L1180.0,1236.4 L1182.0,1236.2 L1184.0,1236.1 L1186.0,1235.9 L1188.0,1235.8 L1190.0,1235.7 L1192.0,1235.7 L1194.0,1235.6 L1196.0,1235.6 L1198.0,1235.6 L1200.0,1235.6 L1202.0,1235.7 L1204.0,1235.7 L1206.0,1235.8 L1208.0,1235.9 L1210.0,1236.1 L1212.0,1236.2 L1214.0,1236.4 L1216.0,1236.6 L1218.0,1236.8 L1220.0,1237.1 L1222.0,1237.3 L1224.0,1237.6 L1226.0,1237.9 L1228.0,1238.2 L1230.0,1238.6 L1232.0,1238.9 L1234.0,1239.3 L1236.0,1239.7 L1238.0,1240.1 L1240.0,1240.6 L1242.0,1241.0 L1244.0,1241.5 L1246.0,1242.0 L1248.0,1242.5 L1250.0,1243.1 L1252.0,1243.6 L1254.0,1244.2 L1256.0,1244.7 L1258.0,1245.3 L1260.0,1245.9 L1262.0,1246.5 L1264.0,1247.1 L1266.0,1247.8 L1268.0,1248.4 L1270.0,1249.1 L1272.0,1249.7 L1274.0,1250.4 L1276.0,1251.1 L1278.0,1251.7 L1280.0,1252.4 L1282.0,1253.1 L1284.0,1253.8 L1286.0,1254.5 L1288.0,1255.2 L1290.0,1255.9 L1292.0,1256.6 L1294.0,1257.3 L1296.0,1258.0 L1298.0,1258.7 L1300.0,1259.4 L1302.0,1260.1 L1304.0,1260.8 L1306.0,1261.5 L1308.0,1262.3 L1310.0,1263.0 L1312.0,1263.7 L1314.0,1264.4 L1316.0,1265.1 L1318.0,1265.8 L1320.0,1266.4 L1322.0,1267.1 L1324.0,1267.8 L1326.0,1268.5 L1328.0,1269.2 L1330.0,1269.9 L1332.0,1270.5 L1334.0,1271.2 L1336.0,1271.8 L1338.0,1272.5 L1340.0,1273.1 L1342.0,1273.8 L1344.0,1274.4 L1346.0,1275.0 L1348.0,1275.7 L1350.0,1276.3 L1352.0,1276.9 L1354.0,1277.5 L1356.0,1278.1 L1358.0,1278.6 L1360.0,1279.2 L1362.0,1279.8 L1364.0,1280.4 L1366.0,1280.9 L1368.0,1281.5 L1370.0,1282.0 L1372.0,1282.5 L1374.0,1283.0 L1376.0,1283.6 L1378.0,1284.1 L1380.0,1284.6 L1382.0,1285.1 L1384.0,1285.5 L1386.0,1286.0 L1388.0,1286.5 L1390.0,1287.0 L1392.0,1287.4 L1394.0,1287.9 L1396.0,1288.3 L1398.0,1288.8 L1400.0,1289.2 L1402.0,1289.6 L1404.0,1290.0 L1406.0,1290.5 L1408.0,1290.9 L1410.0,1291.3 L1412.0,1291.7 L1414.0,1292.1 L1416.0,1292.5 L1418.0,1292.8 L1420.0,1293.2 L1422.0,1293.6 L1424.0,1293.9 L1426.0,1294.3 L1428.0,1294.7 L1430.0,1295.0 L1432.0,1295.3 L1434.0,1295.7 L1436.0,1296.0 L1438.0,1296.3 L1440.0,1296.7 L1442.0,1297.0 L1444.0,1297.3 L1446.0,1297.6 L1448.0,1297.9 L1450.0,1298.2 L1452.0,1298.5 L1454.0,1298.8 L1456.0,1299.1 L1458.0,1299.3 L1460.0,1299.6 L1462.0,1299.9 L1464.0,1300.1 L1466.0,1300.4 L1468.0,1300.7 L1470.0,1300.9 L1472.0,1301.2 L1474.0,1301.4 L1476.0,1301.7 L1478.0,1301.9 L1480.0,1302.1 L1482.0,1302.4 L1484.0,1302.6 L1486.0,1302.8 L1488.0,1303.1 L1490.0,1303.3 L1492.0,1303.5 L1494.0,1303.7 L1496.0,1303.9 L1498.0,1304.2 L1500.0,1304.4 L1502.0,1304.6 L1504.0,1304.8 L1506.0,1305.0 L1508.0,1305.2 L1510.0,1305.4 L1512.0,1305.6 L1514.0,1305.8 L1516.0,1306.0 L1518.0,1306.2 L1520.0,1306.4 L1522.0,1306.6 L1524.0,1306.8 L1526.0,1307.0 L1528.0,1307.2 L1530.0,1307.4 L1532.0,1307.6 L1534.0,1307.8 L1536.0,1308.0 L1538.0,1308.2 L1540.0,1308.4 L1542.0,1308.6 L1544.0,1308.8 L1546.0,1309.1 L1548.0,1309.3 L1550.0,1309.5 L1552.0,1309.7 L1554.0,1309.9 L1556.0,1310.1 L1558.0,1310.3 L1560.0,1310.5 L1562.0,1310.7 L1564.0,1310.9 L1566.0,1311.1 L1568.0,1311.3 L1570.0,1311.5 L1572.0,1311.6 L1574.0,1311.8 L1576.0,1312.0 L1578.0,1312.2 L1580.0,1312.3 L1582.0,1312.5 L1584.0,1312.6 L1586.0,1312.8 L1588.0,1313.0 L1590.0,1313.1 L1592.0,1313.3 L1594.0,1313.4 L1596.0,1313.6 L1598.0,1313.8 L1600.0,1313.9 L1602.0,1314.1 L1604.0,1314.2 L1606.0,1314.4 L1608.0,1314.5 L1610.0,1314.7 L1612.0,1314.8 L1614.0,1314.9 L1616.0,1315.1 L1618.0,1315.2 L1620.0,1315.4 L1622.0,1315.5 L1624.0,1315.6 L1626.0,1315.7 L1628.0,1315.8 L1630.0,1315.9 L1632.0,1316.0 L1634.0,1316.1 L1636.0,1316.2 L1638.0,1316.3 L1640.0,1316.4 L1642.0,1316.5 L1644.0,1316.5 L1646.0,1316.6 L1648.0,1316.6 L1650.0,1316.7 L1652.0,1316.8 L1654.0,1316.8 L1656.0,1316.9 L1658.0,1316.9 L1660.0,1317.0 L1662.0,1317.0 L1664.0,1317.0 L1666.0,1317.1 L1668.0,1317.1 L1670.0,1317.2 L1672.0,1317.2 L1674.0,1317.2 L1676.0,1317.3 L1678.0,1317.3 L1680.0,1317.4 L1682.0,1317.4 L1684.0,1317.4 L1686.0,1317.5 L1688.0,1317.5 L1690.0,1317.5 L1692.0,1317.6 L1694.0,1317.6 L1696.0,1317.7 L1698.0,1317.7 L1700.0,1317.7 L1702.0,1317.8 L1704.0,1317.8 L1706.0,1317.9 L1708.0,1317.9 L1710.0,1317.9 L1712.0,1318.0 L1714.0,1318.0 L1716.0,1318.1 L1718.0,1318.1 L1720.0,1318.2 L1722.0,1318.2 L1724.0,1318.2 L1726.0,1318.3 L1728.0,1318.3 L1730.0,1318.4 L1732.0,1318.4 L1734.0,1318.5 L1736.0,1318.5 L1738.0,1318.5 L1740.0,1318.6 L1742.0,1318.6 L1744.0,1318.7 L1746.0,1318.7 L1748.0,1318.7 L1750.0,1318.8 L1752.0,1318.8 L1754.0,1318.9 L1756.0,1318.9 L1758.0,1318.9 L1760.0,1319.0 L1762.0,1319.0 L1764.0,1319.1 L1766.0,1319.1 L1768.0,1319.1 L1770.0,1319.2 L1772.0,1319.2 L1774.0,1319.3 L1776.0,1319.3 L1778.0,1319.3 L1780.0,1319.4 L1782.0,1319.4 L1784.0,1319.4 L1786.0,1319.5 L1788.0,1319.5 L1790.0,1319.6 L1792.0,1319.6 L1794.0,1319.6 L1796.0,1319.7 L1798.0,1319.7 L1800.0,1319.7 L1802.0,1319.8 L1804.0,1319.8 L1806.0,1319.8 L1808.0,1319.9 L1810.0,1319.9 L1812.0,1319.9 L1814.0,1320.0 L1816.0,1320.0 L1818.0,1320.0 L1820.0,1320.1 L1822.0,1320.1 L1824.0,1320.1 L1826.0,1320.2 L1828.0,1320.2 L1830.0,1320.2 L1832.0,1320.2 L1834.0,1320.3 L1836.0,1320.3 L1838.0,1320.3 L1840.0,1320.3 L1842.0,1320.3 L1844.0,1320.4 L1846.0,1320.4 L1848.0,1320.4 L1850.0,1320.4 L1852.0,1320.5 L1854.0,1320.5 L1856.0,1320.5 L1858.0,1320.5 L1860.0,1320.5 L1862.0,1320.6 L1864.0,1320.6 L1866.0,1320.6 L1868.0,1320.6 L1870.0,1320.7 L1872.0,1320.7 L1874.0,1320.7 L1876.0,1320.7 L1878.0,1320.8 L1880.0,1320.8 L1882.0,1320.8 L1884.0,1320.9 L1886.0,1320.9 L1888.0,1320.9 L1890.0,1321.0 L1892.0,1321.0 L1894.0,1321.0 L1896.0,1321.1 L1898.0,1321.1 L1900.0,1321.2 L1902.0,1321.2 L1904.0,1321.2 L1906.0,1321.3 L1908.0,1321.3 L1910.0,1321.4 L1912.0,1321.4 L1914.0,1321.5 L1916.0,1321.5 L1918.0,1321.5 L1920.0,1321.6 L1922.0,1321.6 L1924.0,1321.7 L1926.0,1321.7 L1928.0,1321.8 L1930.0,1321.8 L1932.0,1321.8 L1934.0,1321.9 L1936.0,1321.9 L1938.0,1322.0 L1940.0,1322.0 L1942.0,1322.0 L1944.0,1322.1 L1946.0,1322.1 L1948.0,1322.1 L1950.0,1322.2 L1952.0,1322.2 L1954.0,1322.3 L1956.0,1322.3 L1958.0,1322.3 L1960.0,1322.4 L1962.0,1322.4 L1964.0,1322.4 L1966.0,1322.5 L1968.0,1322.5 L1970.0,1322.5 L1972.0,1322.6 L1974.0,1322.6 L1976.0,1322.6 L1978.0,1322.7 L1980.0,1322.7 L1982.0,1322.8 L1984.0,1322.8 L1986.0,1322.8 L1988.0,1322.9 L1990.0,1322.9 L1992.0,1322.9 L1994.0,1323.0 L1996.0,1323.0 L1998.0,1323.0 L2000.0,1323.1 L2002.0,1323.1 L2004.0,1323.1 L2006.0,1323.2 L2008.0,1323.2" stroke="#0000ff" stroke-width="7" fill="none" stroke-dasharray="28.6 30.65" stroke-dashoffset="58.05" stroke-linecap="round"/><path d="M150.0,1293.0 L152.0,1293.0 L154.0,1293.0 L156.0,1293.0 L158.0,1293.0 L160.0,1293.0 L162.0,1293.0 L164.0,1293.0 L166.0,1293.0 L168.0,1293.0 L170.0,1293.0 L172.0,1293.0 L174.0,1293.0 L176.0,1293.0 L178.0,1293.0 L180.0,1293.0 L182.0,1293.0 L184.0,1293.0 L186.0,1293.0 L188.0,1293.0 L190.0,1293.0 L192.0,1293.0 L194.0,1293.0 L196.0,1293.0 L198.0,1293.0 L200.0,1293.0 L202.0,1293.0 L204.0,1293.0 L206.0,1293.0 L208.0,1293.0 L210.0,1293.0 L212.0,1293.0 L214.0,1293.0 L216.0,1293.0 L218.0,1293.0 L220.0,1293.0 L222.0,1293.0 L224.0,1293.0 L226.0,1293.0 L228.0,1293.0 L230.0,1293.0 L232.0,1293.0 L234.0,1293.0 L236.0,1293.0 L238.0,1293.0 L240.0,1293.0 L242.0,1293.1 L244.0,1293.1 L246.0,1293.1 L248.0,1293.1 L250.0,1293.1 L252.0,1293.1 L254.0,1293.1 L256.0,1293.1 L258.0,1293.1 L260.0,1293.1 L262.0,1293.1 L264.0,1293.1 L266.0,1293.1 L268.0,1293.1 L270.0,1293.1 L272.0,1293.1 L274.0,1293.1 L276.0,1293.1 L278.0,1293.1 L280.0,1293.1 L282.0,1293.1 L284.0,1293.1 L286.0,1293.1 L288.0,1293.1 L290.0,1293.1 L292.0,1293.1 L294.0,1293.1 L296.0,1293.1 L298.0,1293.1 L300.0,1293.1 L302.0,1293.1 L304.0,1293.1 L306.0,1293.1 L308.0,1293.2 L310.0,1293.2 L312.0,1293.2 L314.0,1293.2 L316.0,1293.2 L318.0,1293.2 L320.0,1293.2 L322.0,1293.2 L324.0,1293.2 L326.0,1293.2 L328.0,1293.2 L330.0,1293.2 L332.0,1293.2 L334.0,1293.2 L336.0,1293.2 L338.0,1293.2 L340.0,1293.2 L342.0,1293.2 L344.0,1293.2 L346.0,1293.2 L348.0,1293.2 L350.0,1293.2 L352.0,1293.2 L354.0,1293.3 L356.0,1293.3 L358.0,1293.3 L360.0,1293.3 L362.0,1293.3 L364.0,1293.3 L366.0,1293.3 L368.0,1293.3 L370.0,1293.3 L372.0,1293.3 L374.0,1293.3 L376.0,1293.3 L378.0,1293.3 L380.0,1293.3 L382.0,1293.3 L384.0,1293.3 L386.0,1293.3 L388.0,1293.3 L390.0,1293.3 L392.0,1293.4 L394.0,1293.4 L396.0,1293.4 L398.0,1293.4 L400.0,1293.4 L402.0,1293.4 L404.0,1293.4 L406.0,1293.4 L408.0,1293.4 L410.0,1293.4 L412.0,1293.4 L414.0,1293.4 L416.0,1293.4 L418.0,1293.4 L420.0,1293.4 L422.0,1293.4 L424.0,1293.5 L426.0,1293.5 L428.0,1293.5 L430.0,1293.5 L432.0,1293.5 L434.0,1293.5 L436.0,1293.5 L438.0,1293.5 L440.0,1293.5 L442.0,1293.5 L444.0,1293.5 L446.0,1293.5 L448.0,1293.5 L450.0,1293.5 L452.0,1293.5 L454.0,1293.6 L456.0,1293.6 L458.0,1293.6 L460.0,1293.6 L462.0,1293.6 L464.0,1293.6 L466.0,1293.6 L468.0,1293.6 L470.0,1293.6 L472.0,1293.6 L474.0,1293.6 L476.0,1293.6 L478.0,1293.6 L480.0,1293.7 L482.0,1293.7 L484.0,1293.7 L486.0,1293.7 L488.0,1293.7 L490.0,1293.7 L492.0,1293.7 L494.0,1293.7 L496.0,1293.7 L498.0,1293.7 L500.0,1293.7 L502.0,1293.7 L504.0,1293.8 L506.0,1293.8 L508.0,1293.8 L510.0,1293.8 L512.0,1293.8 L514.0,1293.8 L516.0,1293.8 L518.0,1293.8 L520.0,1293.8 L522.0,1293.8 L524.0,1293.8 L526.0,1293.8 L528.0,1293.9 L530.0,1293.9 L532.0,1293.9 L534.0,1293.9 L536.0,1293.9 L538.0,1293.9 L540.0,1293.9 L542.0,1293.9 L544.0,1293.9 L546.0,1293.9 L548.0,1293.9 L550.0,1294.0 L552.0,1294.0 L554.0,1294.0 L556.0,1294.0 L558.0,1294.0 L560.0,1294.0 L562.0,1294.0 L564.0,1294.0 L566.0,1294.0 L568.0,1294.0 L570.0,1294.1 L572.0,1294.1 L574.0,1294.1 L576.0,1294.1 L578.0,1294.1 L580.0,1294.1 L582.0,1294.1 L584.0,1294.1 L586.0,1294.1 L588.0,1294.1 L590.0,1294.2 L592.0,1294.2 L594.0,1294.2 L596.0,1294.2 L598.0,1294.2 L600.0,1294.2 L602.0,1294.2 L604.0,1294.2 L606.0,1294.2 L608.0,1294.3 L610.0,1294.3 L612.0,1294.3 L614.0,1294.3 L616.0,1294.3 L618.0,1294.3 L620.0,1294.3 L622.0,1294.3 L624.0,1294.3 L626.0,1294.4 L628.0,1294.4 L630.0,1294.4 L632.0,1294.4 L634.0,1294.4 L636.0,1294.4 L638.0,1294.4 L640.0,1294.4 L642.0,1294.4 L644.0,1294.5 L646.0,1294.5 L648.0,1294.5 L650.0,1294.5 L652.0,1294.5 L654.0,1294.5 L656.0,1294.5 L658.0,1294.5 L660.0,1294.5 L662.0,1294.6 L664.0,1294.6 L666.0,1294.6 L668.0,1294.6 L670.0,1294.6 L672.0,1294.6 L674.0,1294.6 L676.0,1294.6 L678.0,1294.7 L680.0,1294.7 L682.0,1294.7 L684.0,1294.7 L686.0,1294.7 L688.0,1294.7 L690.0,1294.7 L692.0,1294.7 L694.0,1294.8 L696.0,1294.8 L698.0,1294.8 L700.0,1294.8 L702.0,1294.8 L704.0,1294.8 L706.0,1294.8 L708.0,1294.9 L710.0,1294.9 L712.0,1294.9 L714.0,1294.9 L716.0,1295.0 L718.0,1295.0 L720.0,1295.0 L722.0,1295.1 L724.0,1295.1 L726.0,1295.1 L728.0,1295.2 L730.0,1295.2 L732.0,1295.2 L734.0,1295.3 L736.0,1295.3 L738.0,1295.3 L740.0,1295.4 L742.0,1295.4 L744.0,1295.5 L746.0,1295.5 L748.0,1295.5 L750.0,1295.6 L752.0,1295.6 L754.0,1295.6 L756.0,1295.6 L758.0,1295.7 L760.0,1295.7 L762.0,1295.7 L764.0,1295.8 L766.0,1295.8 L768.0,1295.8 L770.0,1295.8 L772.0,1295.9 L774.0,1295.9 L776.0,1295.9 L778.0,1295.9 L780.0,1295.9 L782.0,1296.0 L784.0,1296.0 L786.0,1296.0 L788.0,1296.0 L790.0,1296.1 L792.0,1296.1 L794.0,1296.1 L796.0,1296.1 L798.0,1296.2 L800.0,1296.2 L802.0,1296.2 L804.0,1296.2 L806.0,1296.2 L808.0,1296.3 L810.0,1296.3 L812.0,1296.3 L814.0,1296.3 L816.0,1296.4 L818.0,1296.4 L820.0,1296.4 L822.0,1296.4 L824.0,1296.4 L826.0,1296.5 L828.0,1296.5 L830.0,1296.5 L832.0,1296.5 L834.0,1296.5 L836.0,1296.6 L838.0,1296.6 L840.0,1296.6 L842.0,1296.6 L844.0,1296.6 L846.0,1296.7 L848.0,1296.7 L850.0,1296.7 L852.0,1296.7 L854.0,1296.7 L856.0,1296.8 L858.0,1296.8 L860.0,1296.8 L862.0,1296.8 L864.0,1296.8 L866.0,1296.8 L868.0,1296.9 L870.0,1296.9 L872.0,1296.9 L874.0,1296.9 L876.0,1296.9 L878.0,1297.0 L880.0,1297.0 L882.0,1297.0 L884.0,1297.0 L886.0,1297.0 L888.0,1297.0 L890.0,1297.1 L892.0,1297.1 L894.0,1297.1 L896.0,1297.1 L898.0,1297.1 L900.0,1297.1 L902.0,1297.2 L904.0,1297.2 L906.0,1297.2 L908.0,1297.2 L910.0,1297.2 L912.0,1297.2 L914.0,1297.3 L916.0,1297.3 L918.0,1297.3 L920.0,1297.3 L922.0,1297.3 L924.0,1297.3 L926.0,1297.4 L928.0,1297.4 L930.0,1297.4 L932.0,1297.4 L934.0,1297.4 L936.0,1297.4 L938.0,1297.5 L940.0,1297.5 L942.0,1297.5 L944.0,1297.5 L946.0,1297.5 L948.0,1297.5 L950.0,1297.6 L952.0,1297.6 L954.0,1297.6 L956.0,1297.6 L958.0,1297.6 L960.0,1297.6 L962.0,1297.7 L964.0,1297.7 L966.0,1297.7 L968.0,1297.7 L970.0,1297.7 L972.0,1297.7 L974.0,1297.8 L976.0,1297.8 L978.0,1297.8 L980.0,1297.8 L982.0,1297.8 L984.0,1297.8 L986.0,1297.9 L988.0,1297.9 L990.0,1297.9 L992.0,1297.9 L994.0,1297.9 L996.0,1297.9 L998.0,1298.0 L1000.0,1298.0 L1002.0,1298.0 L1004.0,1298.0 L1006.0,1298.0 L1008.0,1298.0 L1010.0,1298.1 L1012.0,1298.1 L1014.0,1298.1 L1016.0,1298.1 L1018.0,1298.1 L1020.0,1298.1 L1022.0,1298.2 L1024.0,1298.2 L1026.0,1298.2 L1028.0,1298.2 L1030.0,1298.2 L1032.0,1298.2 L1034.0,1298.3 L1036.0,1298.3 L1038.0,1298.3 L1040.0,1298.3 L1042.0,1298.3 L1044.0,1298.3 L1046.0,1298.4 L1048.0,1298.4 L1050.0,1298.4 L1052.0,1298.4 L1054.0,1298.4 L1056.0,1298.5 L1058.0,1298.5 L1060.0,1298.5 L1062.0,1298.5 L1064.0,1298.5 L1066.0,1298.5 L1068.0,1298.6 L1070.0,1298.6 L1072.0,1298.6 L1074.0,1298.6 L1076.0,1298.6 L1078.0,1298.7 L1080.0,1298.7 L1082.0,1298.7 L1084.0,1298.7 L1086.0,1298.7 L1088.0,1298.8 L1090.0,1298.8 L1092.0,1298.8 L1094.0,1298.8 L1096.0,1298.8 L1098.0,1298.9 L1100.0,1298.9 L1102.0,1298.9 L1104.0,1298.9 L1106.0,1298.9 L1108.0,1299.0 L1110.0,1299.0 L1112.0,1299.0 L1114.0,1299.0 L1116.0,1299.1 L1118.0,1299.1 L1120.0,1299.1 L1122.0,1299.1 L1124.0,1299.1 L1126.0,1299.2 L1128.0,1299.2 L1130.0,1299.2 L1132.0,1299.2 L1134.0,1299.3 L1136.0,1299.3 L1138.0,1299.3 L1140.0,1299.3 L1142.0,1299.4 L1144.0,1299.4 L1146.0,1299.4 L1148.0,1299.4 L1150.0,1299.5 L1152.0,1299.5 L1154.0,1299.5 L1156.0,1299.5 L1158.0,1299.6 L1160.0,1299.6 L1162.0,1299.6 L1164.0,1299.6 L1166.0,1299.7 L1168.0,1299.7 L1170.0,1299.7 L1172.0,1299.7 L1174.0,1299.8 L1176.0,1299.8 L1178.0,1299.8 L1180.0,1299.8 L1182.0,1299.9 L1184.0,1299.9 L1186.0,1299.9 L1188.0,1300.0 L1190.0,1300.0 L1192.0,1300.0 L1194.0,1300.0 L1196.0,1300.1 L1198.0,1300.1 L1200.0,1300.1 L1202.0,1300.2 L1204.0,1300.2 L1206.0,1300.2 L1208.0,1300.3 L1210.0,1300.3 L1212.0,1300.3 L1214.0,1300.4 L1216.0,1300.4 L1218.0,1300.4 L1220.0,1300.5 L1222.0,1300.5 L1224.0,1300.5 L1226.0,1300.5 L1228.0,1300.6 L1230.0,1300.6 L1232.0,1300.7 L1234.0,1300.7 L1236.0,1300.7 L1238.0,1300.8 L1240.0,1300.8 L1242.0,1300.9 L1244.0,1300.9 L1246.0,1301.0 L1248.0,1301.0 L1250.0,1301.1 L1252.0,1301.1 L1254.0,1301.2 L1256.0,1301.2 L1258.0,1301.3 L1260.0,1301.4 L1262.0,1301.4 L1264.0,1301.5 L1266.0,1301.5 L1268.0,1301.6 L1270.0,1301.7 L1272.0,1301.7 L1274.0,1301.8 L1276.0,1301.8 L1278.0,1301.9 L1280.0,1301.9 L1282.0,1302.0 L1284.0,1302.0 L1286.0,1302.1 L1288.0,1302.2 L1290.0,1302.2 L1292.0,1302.2 L1294.0,1302.3 L1296.0,1302.3 L1298.0,1302.4 L1300.0,1302.4 L1302.0,1302.5 L1304.0,1302.5 L1306.0,1302.6 L1308.0,1302.6 L1310.0,1302.7 L1312.0,1302.7 L1314.0,1302.7 L1316.0,1302.8 L1318.0,1302.8 L1320.0,1302.9 L1322.0,1302.9 L1324.0,1303.0 L1326.0,1303.0 L1328.0,1303.0 L1330.0,1303.1 L1332.0,1303.1 L1334.0,1303.2 L1336.0,1303.2 L1338.0,1303.3 L1340.0,1303.3 L1342.0,1303.3 L1344.0,1303.4 L1346.0,1303.4 L1348.0,1303.5 L1350.0,1303.5 L1352.0,1303.5 L1354.0,1303.6 L1356.0,1303.6 L1358.0,1303.6 L1360.0,1303.7 L1362.0,1303.7 L1364.0,1303.7 L1366.0,1303.8 L1368.0,1303.8 L1370.0,1303.9 L1372.0,1303.9 L1374.0,1303.9 L1376.0,1304.0 L1378.0,1304.0 L1380.0,1304.0 L1382.0,1304.1 L1384.0,1304.1 L1386.0,1304.1 L1388.0,1304.2 L1390.0,1304.2 L1392.0,1304.2 L1394.0,1304.3 L1396.0,1304.3 L1398.0,1304.4 L1400.0,1304.4 L1402.0,1304.5 L1404.0,1304.5 L1406.0,1304.5 L1408.0,1304.6 L1410.0,1304.6 L1412.0,1304.7 L1414.0,1304.7 L1416.0,1304.8 L1418.0,1304.9 L1420.0,1304.9 L1422.0,1305.0 L1424.0,1305.0 L1426.0,1305.1 L1428.0,1305.1 L1430.0,1305.2 L1432.0,1305.3 L1434.0,1305.3 L1436.0,1305.4 L1438.0,1305.5 L1440.0,1305.5 L1442.0,1305.6 L1444.0,1305.7 L1446.0,1305.7 L1448.0,1305.8 L1450.0,1305.9 L1452.0,1305.9 L1454.0,1306.0 L1456.0,1306.1 L1458.0,1306.1 L1460.0,1306.2 L1462.0,1306.3 L1464.0,1306.4 L1466.0,1306.4 L1468.0,1306.5 L1470.0,1306.6 L1472.0,1306.7 L1474.0,1306.7 L1476.0,1306.8 L1478.0,1306.9 L1480.0,1307.0 L1482.0,1307.1 L1484.0,1307.2 L1486.0,1307.3 L1488.0,1307.3 L1490.0,1307.4 L1492.0,1307.5 L1494.0,1307.6 L1496.0,1307.7 L1498.0,1307.8 L1500.0,1307.9 L1502.0,1308.0 L1504.0,1308.1 L1506.0,1308.2 L1508.0,1308.3 L1510.0,1308.4 L1512.0,1308.5 L1514.0,1308.6 L1516.0,1308.7 L1518.0,1308.8 L1520.0,1308.9 L1522.0,1309.0 L1524.0,1309.2 L1526.0,1309.3 L1528.0,1309.4 L1530.0,1309.5 L1532.0,1309.7 L1534.0,1309.8 L1536.0,1309.9 L1538.0,1310.1 L1540.0,1310.2 L1542.0,1310.4 L1544.0,1310.5 L1546.0,1310.7 L1548.0,1310.8 L1550.0,1311.0 L1552.0,1311.1 L1554.0,1311.3 L1556.0,1311.4 L1558.0,1311.6 L1560.0,1311.7 L1562.0,1311.9 L1564.0,1312.0 L1566.0,1312.2 L1568.0,1312.3 L1570.0,1312.5 L1572.0,1312.6 L1574.0,1312.8 L1576.0,1312.9 L1578.0,1313.0 L1580.0,1313.2 L1582.0,1313.3 L1584.0,1313.4 L1586.0,1313.6 L1588.0,1313.7 L1590.0,1313.8 L1592.0,1314.0 L1594.0,1314.1 L1596.0,1314.2 L1598.0,1314.4 L1600.0,1314.5 L1602.0,1314.6 L1604.0,1314.7 L1606.0,1314.9 L1608.0,1315.0 L1610.0,1315.1 L1612.0,1315.3 L1614.0,1315.4 L1616.0,1315.5 L1618.0,1315.6 L1620.0,1315.7 L1622.0,1315.8 L1624.0,1316.0 L1626.0,1316.1 L1628.0,1316.2 L1630.0,1316.2 L1632.0,1316.3 L1634.0,1316.4 L1636.0,1316.5 L1638.0,1316.6 L1640.0,1316.6 L1642.0,1316.7 L1644.0,1316.8 L1646.0,1316.8 L1648.0,1316.9 L1650.0,1316.9 L1652.0,1317.0 L1654.0,1317.0 L1656.0,1317.0 L1658.0,1317.1 L1660.0,1317.1 L1662.0,1317.2 L1664.0,1317.2 L1666.0,1317.2 L1668.0,1317.3 L1670.0,1317.3 L1672.0,1317.3 L1674.0,1317.4 L1676.0,1317.4 L1678.0,1317.4 L1680.0,1317.5 L1682.0,1317.5 L1684.0,1317.5 L1686.0,1317.6 L1688.0,1317.6 L1690.0,1317.6 L1692.0,1317.7 L1694.0,1317.7 L1696.0,1317.7 L1698.0,1317.8 L1700.0,1317.8 L1702.0,1317.8 L1704.0,1317.9 L1706.0,1317.9 L1708.0,1318.0 L1710.0,1318.0 L1712.0,1318.0 L1714.0,1318.1 L1716.0,1318.1 L1718.0,1318.2 L1720.0,1318.2 L1722.0,1318.2 L1724.0,1318.3 L1726.0,1318.3 L1728.0,1318.4 L1730.0,1318.4 L1732.0,1318.4 L1734.0,1318.5 L1736.0,1318.5 L1738.0,1318.6 L1740.0,1318.6 L1742.0,1318.6 L1744.0,1318.7 L1746.0,1318.7 L1748.0,1318.8 L1750.0,1318.8 L1752.0,1318.8 L1754.0,1318.9 L1756.0,1318.9 L1758.0,1319.0 L1760.0,1319.0 L1762.0,1319.0 L1764.0,1319.1 L1766.0,1319.1 L1768.0,1319.2 L1770.0,1319.2 L1772.0,1319.2 L1774.0,1319.3 L1776.0,1319.3 L1778.0,1319.3 L1780.0,1319.4 L1782.0,1319.4 L1784.0,1319.5 L1786.0,1319.5 L1788.0,1319.5 L1790.0,1319.6 L1792.0,1319.6 L1794.0,1319.6 L1796.0,1319.7 L1798.0,1319.7 L1800.0,1319.7 L1802.0,1319.8 L1804.0,1319.8 L1806.0,1319.8 L1808.0,1319.9 L1810.0,1319.9 L1812.0,1319.9 L1814.0,1320.0 L1816.0,1320.0 L1818.0,1320.0 L1820.0,1320.1 L1822.0,1320.1 L1824.0,1320.1 L1826.0,1320.2 L1828.0,1320.2 L1830.0,1320.2 L1832.0,1320.2 L1834.0,1320.3 L1836.0,1320.3 L1838.0,1320.3 L1840.0,1320.3 L1842.0,1320.3 L1844.0,1320.4 L1846.0,1320.4 L1848.0,1320.4 L1850.0,1320.4 L1852.0,1320.5 L1854.0,1320.5 L1856.0,1320.5 L1858.0,1320.5 L1860.0,1320.5 L1862.0,1320.6 L1864.0,1320.6 L1866.0,1320.6 L1868.0,1320.6 L1870.0,1320.7 L1872.0,1320.7 L1874.0,1320.7 L1876.0,1320.7 L1878.0,1320.8 L1880.0,1320.8 L1882.0,1320.8 L1884.0,1320.9 L1886.0,1320.9 L1888.0,1320.9 L1890.0,1321.0 L1892.0,1321.0 L1894.0,1321.0 L1896.0,1321.1 L1898.0,1321.1 L1900.0,1321.2 L1902.0,1321.2 L1904.0,1321.2 L1906.0,1321.3 L1908.0,1321.3 L1910.0,1321.4 L1912.0,1321.4 L1914.0,1321.5 L1916.0,1321.5 L1918.0,1321.5 L1920.0,1321.6 L1922.0,1321.6 L1924.0,1321.7 L1926.0,1321.7 L1928.0,1321.8 L1930.0,1321.8 L1932.0,1321.8 L1934.0,1321.9 L1936.0,1321.9 L1938.0,1322.0 L1940.0,1322.0 L1942.0,1322.0 L1944.0,1322.1 L1946.0,1322.1 L1948.0,1322.1 L1950.0,1322.2 L1952.0,1322.2 L1954.0,1322.3 L1956.0,1322.3 L1958.0,1322.3 L1960.0,1322.4 L1962.0,1322.4 L1964.0,1322.4 L1966.0,1322.5 L1968.0,1322.5 L1970.0,1322.5 L1972.0,1322.6 L1974.0,1322.6 L1976.0,1322.6 L1978.0,1322.7 L1980.0,1322.7 L1982.0,1322.8 L1984.0,1322.8 L1986.0,1322.8 L1988.0,1322.9 L1990.0,1322.9 L1992.0,1322.9 L1994.0,1323.0 L1996.0,1323.0 L1998.0,1323.0 L2000.0,1323.1 L2002.0,1323.1 L2004.0,1323.1 L2006.0,1323.2 L2008.0,1323.2" stroke="#ff00ff" stroke-width="7" fill="none" stroke-dasharray="28.6 30.65" stroke-dashoffset="58.05" stroke-linecap="round"/><path d="M150.0,1825.2 L152.0,1825.1 L154.0,1825.1 L156.0,1825.1 L158.0,1825.0 L160.0,1825.0 L162.0,1825.0 L164.0,1824.9 L166.0,1824.9 L168.0,1824.8 L170.0,1824.8 L172.0,1824.7 L174.0,1824.7 L176.0,1824.6 L178.0,1824.6 L180.0,1824.5 L182.0,1824.5 L184.0,1824.4 L186.0,1824.4 L188.0,1824.3 L190.0,1824.3 L192.0,1824.2 L194.0,1824.1 L196.0,1824.1 L198.0,1824.0 L200.0,1823.9 L202.0,1823.9 L204.0,1823.8 L206.0,1823.7 L208.0,1823.6 L210.0,1823.5 L212.0,1823.5 L214.0,1823.4 L216.0,1823.3 L218.0,1823.2 L220.0,1823.1 L222.0,1823.0 L224.0,1822.9 L226.0,1822.8 L228.0,1822.7 L230.0,1822.6 L232.0,1822.5 L234.0,1822.3 L236.0,1822.2 L238.0,1822.1 L240.0,1822.0 L242.0,1821.8 L244.0,1821.7 L246.0,1821.6 L248.0,1821.4 L250.0,1821.3 L252.0,1821.1 L254.0,1821.0 L256.0,1820.8 L258.0,1820.6 L260.0,1820.5 L262.0,1820.3 L264.0,1820.1 L266.0,1819.9 L268.0,1819.7 L270.0,1819.5 L272.0,1819.3 L274.0,1819.1 L276.0,1818.9 L278.0,1818.7 L280.0,1818.5 L282.0,1818.3 L284.0,1818.0 L286.0,1817.8 L288.0,1817.5 L290.0,1817.3 L292.0,1817.0 L294.0,1816.8 L296.0,1816.5 L298.0,1816.2 L300.0,1815.9 L302.0,1815.7 L304.0,1815.4 L306.0,1815.1 L308.0,1814.7 L310.0,1814.4 L312.0,1814.1 L314.0,1813.8 L316.0,1813.4 L318.0,1813.1 L320.0,1812.7 L322.0,1812.3 L324.0,1812.0 L326.0,1811.6 L328.0,1811.2 L330.0,1810.8 L332.0,1810.4 L334.0,1810.0 L336.0,1809.5 L338.0,1809.1 L340.0,1808.7 L342.0,1808.2 L344.0,1807.8 L346.0,1807.3 L348.0,1806.8 L350.0,1806.3 L352.0,1805.8 L354.0,1805.3 L356.0,1804.8 L358.0,1804.2 L360.0,1803.7 L362.0,1803.1 L364.0,1802.6 L366.0,1802.0 L368.0,1801.4 L370.0,1800.8 L372.0,1800.2 L374.0,1799.6 L376.0,1799.0 L378.0,1798.4 L380.0,1797.7 L382.0,1797.1 L384.0,1796.4 L386.0,1795.7 L388.0,1795.0 L390.0,1794.3 L392.0,1793.6 L394.0,1792.9 L396.0,1792.1 L398.0,1791.4 L400.0,1790.6 L402.0,1789.9 L404.0,1789.1 L406.0,1788.3 L408.0,1787.5 L410.0,1786.7 L412.0,1785.9 L414.0,1785.1 L416.0,1784.2 L418.0,1783.4 L420.0,1782.5 L422.0,1781.6 L424.0,1780.8 L426.0,1779.9 L428.0,1779.0 L430.0,1778.1 L432.0,1777.2 L434.0,1776.3 L436.0,1775.3 L438.0,1774.4 L440.0,1773.4 L442.0,1772.5 L444.0,1771.5 L446.0,1770.6 L448.0,1769.6 L450.0,1768.6 L452.0,1767.6 L454.0,1766.6 L456.0,1765.7 L458.0,1764.7 L460.0,1763.7 L462.0,1762.7 L464.0,1761.7 L466.0,1760.6 L468.0,1759.6 L470.0,1758.6 L472.0,1757.6 L474.0,1756.6 L476.0,1755.6 L478.0,1754.6 L480.0,1753.6 L482.0,1752.6 L484.0,1751.6 L486.0,1750.6 L488.0,1749.6 L490.0,1748.6 L492.0,1747.6 L494.0,1746.6 L496.0,1745.6 L498.0,1744.7 L500.0,1743.7 L502.0,1742.8 L504.0,1741.8 L506.0,1740.9 L508.0,1740.0 L510.0,1739.1 L512.0,1738.2 L514.0,1737.3 L516.0,1736.5 L518.0,1735.6 L520.0,1734.8 L522.0,1734.0 L524.0,1733.2 L526.0,1732.4 L528.0,1731.7 L530.0,1730.9 L532.0,1730.2 L534.0,1729.5 L536.0,1728.9 L538.0,1728.2 L540.0,1727.6 L542.0,1727.0 L544.0,1726.4 L546.0,1725.8 L548.0,1725.3 L550.0,1724.8 L552.0,1724.3 L554.0,1723.9 L556.0,1723.5 L558.0,1723.1 L560.0,1722.7 L562.0,1722.4 L564.0,1722.1 L566.0,1721.8 L568.0,1721.5 L570.0,1721.3 L572.0,1721.1 L574.0,1721.0 L576.0,1720.9 L578.0,1720.8 L580.0,1720.7 L582.0,1720.7 L584.0,1720.7 L586.0,1720.7 L588.0,1720.8 L590.0,1720.9 L592.0,1721.0 L594.0,1721.2 L596.0,1721.3 L598.0,1721.6 L600.0,1721.8 L602.0,1722.1 L604.0,1722.4 L606.0,1722.7 L608.0,1723.1 L610.0,1723.5 L612.0,1723.9 L614.0,1724.4 L616.0,1724.8 L618.0,1725.4 L620.0,1725.9 L622.0,1726.4 L624.0,1727.0 L626.0,1727.6 L628.0,1728.3 L630.0,1728.9 L632.0,1729.6 L634.0,1730.3 L636.0,1731.0 L638.0,1731.7 L640.0,1732.5 L642.0,1733.3 L644.0,1734.1 L646.0,1734.9 L648.0,1735.7 L650.0,1736.6 L652.0,1737.4 L654.0,1738.3 L656.0,1739.2 L658.0,1740.1 L660.0,1741.0 L662.0,1741.9 L664.0,1742.9 L666.0,1743.8 L668.0,1744.8 L670.0,1745.7 L672.0,1746.7 L674.0,1747.7 L676.0,1748.6 L678.0,1749.6 L680.0,1750.6 L682.0,1751.6 L684.0,1752.6 L686.0,1753.6 L688.0,1754.6 L690.0,1755.7 L692.0,1756.7 L694.0,1757.7 L696.0,1758.7 L698.0,1759.7 L700.0,1760.7 L702.0,1761.7 L704.0,1762.7 L706.0,1763.7 L708.0,1764.7 L710.0,1765.7 L712.0,1766.7 L714.0,1767.7 L716.0,1768.7 L718.0,1769.6 L720.0,1770.6 L722.0,1771.6 L724.0,1772.5 L726.0,1773.5 L728.0,1774.4 L730.0,1775.4 L732.0,1776.3 L734.0,1777.2 L736.0,1778.1 L738.0,1779.0 L740.0,1779.9 L742.0,1780.8 L744.0,1781.7 L746.0,1782.5 L748.0,1783.4 L750.0,1784.2 L752.0,1785.1 L754.0,1785.9 L756.0,1786.7 L758.0,1787.5 L760.0,1788.3 L762.0,1789.1 L764.0,1789.9 L766.0,1790.6 L768.0,1791.4 L770.0,1792.1 L772.0,1792.9 L774.0,1793.6 L776.0,1794.3 L778.0,1795.0 L780.0,1795.7 L782.0,1796.4 L784.0,1797.0 L786.0,1797.7 L788.0,1798.3 L790.0,1799.0 L792.0,1799.6 L794.0,1800.2 L796.0,1800.8 L798.0,1801.4 L800.0,1802.0 L802.0,1802.5 L804.0,1803.1 L806.0,1803.7 L808.0,1804.2 L810.0,1804.7 L812.0,1805.2 L814.0,1805.8 L816.0,1806.3 L818.0,1806.7 L820.0,1807.2 L822.0,1807.7 L824.0,1808.2 L826.0,1808.6 L828.0,1809.0 L830.0,1809.5 L832.0,1809.9 L834.0,1810.3 L836.0,1810.7 L838.0,1811.1 L840.0,1811.5 L842.0,1811.9 L844.0,1812.3 L846.0,1812.6 L848.0,1813.0 L850.0,1813.3 L852.0,1813.7 L854.0,1814.0 L856.0,1814.3 L858.0,1814.6 L860.0,1815.0 L862.0,1815.3 L864.0,1815.6 L866.0,1815.8 L868.0,1816.1 L870.0,1816.4 L872.0,1816.7 L874.0,1816.9 L876.0,1817.2 L878.0,1817.4 L880.0,1817.7 L882.0,1817.9 L884.0,1818.1 L886.0,1818.4 L888.0,1818.6 L890.0,1818.8 L892.0,1819.0 L894.0,1819.2 L896.0,1819.4 L898.0,1819.6 L900.0,1819.8 L902.0,1820.0 L904.0,1820.1 L906.0,1820.3 L908.0,1820.5 L910.0,1820.7 L912.0,1820.8 L914.0,1821.0 L916.0,1821.1 L918.0,1821.3 L920.0,1821.4 L922.0,1821.5 L924.0,1821.7 L926.0,1821.8 L928.0,1821.9 L930.0,1822.1 L932.0,1822.2 L934.0,1822.3 L936.0,1822.4 L938.0,1822.5 L940.0,1822.6 L942.0,1822.7 L944.0,1822.8 L946.0,1822.9 L948.0,1823.0 L950.0,1823.1 L952.0,1823.2 L954.0,1823.3 L956.0,1823.4 L958.0,1823.5 L960.0,1823.5 L962.0,1823.6 L964.0,1823.7 L966.0,1823.8 L968.0,1823.8 L970.0,1823.9 L972.0,1824.0 L974.0,1824.0 L976.0,1824.1 L978.0,1824.1 L980.0,1824.2 L982.0,1824.3 L984.0,1824.3 L986.0,1824.4 L988.0,1824.4 L990.0,1824.5 L992.0,1824.5 L994.0,1824.6 L996.0,1824.6 L998.0,1824.6 L1000.0,1824.7 L1002.0,1824.7 L1004.0,1824.8 L1006.0,1824.8 L1008.0,1824.8 L1010.0,1824.9 L1012.0,1824.9 L1014.0,1824.9 L1016.0,1825.0 L1018.0,1825.0 L1020.0,1825.0 L1022.0,1825.1 L1024.0,1825.1 L1026.0,1825.1 L1028.0,1825.1 L1030.0,1825.2 L1032.0,1825.2 L1034.0,1825.2 L1036.0,1825.2 L1038.0,1825.2 L1040.0,1825.3 L1042.0,1825.3 L1044.0,1825.3 L1046.0,1825.3 L1048.0,1825.3 L1050.0,1825.4 L1052.0,1825.4 L1054.0,1825.4 L1056.0,1825.4 L1058.0,1825.4 L1060.0,1825.4 L1062.0,1825.4 L1064.0,1825.5 L1066.0,1825.5 L1068.0,1825.5 L1070.0,1825.5 L1072.0,1825.5 L1074.0,1825.5 L1076.0,1825.5 L1078.0,1825.5 L1080.0,1825.5 L1082.0,1825.6 L1084.0,1825.6 L1086.0,1825.6 L1088.0,1825.6 L1090.0,1825.6 L1092.0,1825.6 L1094.0,1825.6 L1096.0,1825.6 L1098.0,1825.6 L1100.0,1825.6 L1102.0,1825.6 L1104.0,1825.6 L1106.0,1825.6 L1108.0,1825.6 L1110.0,1825.6 L1112.0,1825.6 L1114.0,1825.7 L1116.0,1825.7 L1118.0,1825.7 L1120.0,1825.7 L1122.0,1825.7 L1124.0,1825.7 L1126.0,1825.7 L1128.0,1825.7 L1130.0,1825.7 L1132.0,1825.7 L1134.0,1825.7 L1136.0,1825.7 L1138.0,1825.7 L1140.0,1825.7 L1142.0,1825.7 L1144.0,1825.7 L1146.0,1825.7 L1148.0,1825.7 L1150.0,1825.7 L1152.0,1825.7 L1154.0,1825.7 L1156.0,1825.7 L1158.0,1825.7 L1160.0,1825.7 L1162.0,1825.7 L1164.0,1825.7 L1166.0,1825.7 L1168.0,1825.7 L1170.0,1825.7 L1172.0,1825.7 L1174.0,1825.7 L1176.0,1825.7 L1178.0,1825.7 L1180.0,1825.7 L1182.0,1825.7 L1184.0,1825.7 L1186.0,1825.7 L1188.0,1825.7 L1190.0,1825.7 L1192.0,1825.7 L1194.0,1825.7 L1196.0,1825.7 L1198.0,1825.7 L1200.0,1825.7 L1202.0,1825.7 L1204.0,1825.7 L1206.0,1825.7 L1208.0,1825.7 L1210.0,1825.7 L1212.0,1825.7 L1214.0,1825.7 L1216.0,1825.7 L1218.0,1825.7 L1220.0,1825.7 L1222.0,1825.7 L1224.0,1825.7 L1226.0,1825.7 L1228.0,1825.7 L1230.0,1825.7 L1232.0,1825.7 L1234.0,1825.7 L1236.0,1825.7 L1238.0,1825.7 L1240.0,1825.7 L1242.0,1825.7 L1244.0,1825.7 L1246.0,1825.7 L1248.0,1825.7 L1250.0,1825.7 L1252.0,1825.7 L1254.0,1825.7 L1256.0,1825.7 L1258.0,1825.7 L1260.0,1825.7 L1262.0,1825.7 L1264.0,1825.7 L1266.0,1825.7 L1268.0,1825.7 L1270.0,1825.7 L1272.0,1825.7 L1274.0,1825.7 L1276.0,1825.7 L1278.0,1825.7 L1280.0,1825.7 L1282.0,1825.7 L1284.0,1825.7 L1286.0,1825.7 L1288.0,1825.7 L1290.0,1825.7 L1292.0,1825.7 L1294.0,1825.7 L1296.0,1825.7 L1298.0,1825.7 L1300.0,1825.7 L1302.0,1825.7 L1304.0,1825.7 L1306.0,1825.7 L1308.0,1825.7 L1310.0,1825.7 L1312.0,1825.7 L1314.0,1825.7 L1316.0,1825.7 L1318.0,1825.7 L1320.0,1825.7 L1322.0,1825.7 L1324.0,1825.7 L1326.0,1825.7 L1328.0,1825.7 L1330.0,1825.7 L1332.0,1825.7 L1334.0,1825.7 L1336.0,1825.7 L1338.0,1825.7 L1340.0,1825.7 L1342.0,1825.7 L1344.0,1825.7 L1346.0,1825.7 L1348.0,1825.7 L1350.0,1825.7 L1352.0,1825.7 L1354.0,1825.7 L1356.0,1825.7 L1358.0,1825.7 L1360.0,1825.7 L1362.0,1825.7 L1364.0,1825.7 L1366.0,1825.7 L1368.0,1825.7 L1370.0,1825.7 L1372.0,1825.7 L1374.0,1825.7 L1376.0,1825.7 L1378.0,1825.7 L1380.0,1825.7 L1382.0,1825.7 L1384.0,1825.7 L1386.0,1825.7 L1388.0,1825.7 L1390.0,1825.7 L1392.0,1825.7 L1394.0,1825.7 L1396.0,1825.7 L1398.0,1825.7 L1400.0,1825.7 L1402.0,1825.7 L1404.0,1825.7 L1406.0,1825.7 L1408.0,1825.7 L1410.0,1825.7 L1412.0,1825.7 L1414.0,1825.7 L1416.0,1825.7 L1418.0,1825.7 L1420.0,1825.7 L1422.0,1825.7 L1424.0,1825.7 L1426.0,1825.7 L1428.0,1825.7 L1430.0,1825.7 L1432.0,1825.7 L1434.0,1825.7 L1436.0,1825.7 L1438.0,1825.7 L1440.0,1825.6 L1442.0,1825.6 L1444.0,1825.6 L1446.0,1825.6 L1448.0,1825.6 L1450.0,1825.6 L1452.0,1825.6 L1454.0,1825.6 L1456.0,1825.6 L1458.0,1825.6 L1460.0,1825.6 L1462.0,1825.6 L1464.0,1825.6 L1466.0,1825.6 L1468.0,1825.6 L1470.0,1825.6 L1472.0,1825.6 L1474.0,1825.6 L1476.0,1825.6 L1478.0,1825.6 L1480.0,1825.6 L1482.0,1825.6 L1484.0,1825.6 L1486.0,1825.6 L1488.0,1825.6 L1490.0,1825.6 L1492.0,1825.6 L1494.0,1825.6 L1496.0,1825.6 L1498.0,1825.6 L1500.0,1825.6 L1502.0,1825.6 L1504.0,1825.6 L1506.0,1825.6 L1508.0,1825.6 L1510.0,1825.6 L1512.0,1825.6 L1514.0,1825.6 L1516.0,1825.6 L1518.0,1825.6 L1520.0,1825.6 L1522.0,1825.6 L1524.0,1825.6 L1526.0,1825.6 L1528.0,1825.6 L1530.0,1825.6 L1532.0,1825.6 L1534.0,1825.6 L1536.0,1825.6 L1538.0,1825.6 L1540.0,1825.6 L1542.0,1825.6 L1544.0,1825.6 L1546.0,1825.6 L1548.0,1825.6 L1550.0,1825.6 L1552.0,1825.6 L1554.0,1825.6 L1556.0,1825.6 L1558.0,1825.6 L1560.0,1825.6 L1562.0,1825.6 L1564.0,1825.6 L1566.0,1825.6 L1568.0,1825.6 L1570.0,1825.6 L1572.0,1825.6 L1574.0,1825.6 L1576.0,1825.6 L1578.0,1825.6 L1580.0,1825.6 L1582.0,1825.6 L1584.0,1825.6 L1586.0,1825.6 L1588.0,1825.6 L1590.0,1825.6 L1592.0,1825.6 L1594.0,1825.6 L1596.0,1825.6 L1598.0,1825.6 L1600.0,1825.6 L1602.0,1825.6 L1604.0,1825.6 L1606.0,1825.6 L1608.0,1825.6 L1610.0,1825.6 L1612.0,1825.6 L1614.0,1825.6 L1616.0,1825.6 L1618.0,1825.6 L1620.0,1825.6 L1622.0,1825.6 L1624.0,1825.6 L1626.0,1825.6 L1628.0,1825.6 L1630.0,1825.6 L1632.0,1825.6 L1634.0,1825.6 L1636.0,1825.6 L1638.0,1825.6 L1640.0,1825.6 L1642.0,1825.6 L1644.0,1825.6 L1646.0,1825.6 L1648.0,1825.6 L1650.0,1825.6 L1652.0,1825.6 L1654.0,1825.6 L1656.0,1825.6 L1658.0,1825.6 L1660.0,1825.6 L1662.0,1825.6 L1664.0,1825.6 L1666.0,1825.6 L1668.0,1825.6 L1670.0,1825.6 L1672.0,1825.6 L1674.0,1825.6 L1676.0,1825.6 L1678.0,1825.6 L1680.0,1825.6 L1682.0,1825.6 L1684.0,1825.5 L1686.0,1825.5 L1688.0,1825.5 L1690.0,1825.5 L1692.0,1825.5 L1694.0,1825.5 L1696.0,1825.5 L1698.0,1825.5 L1700.0,1825.5 L1702.0,1825.5 L1704.0,1825.5 L1706.0,1825.5 L1708.0,1825.5 L1710.0,1825.5 L1712.0,1825.5 L1714.0,1825.5 L1716.0,1825.5 L1718.0,1825.5 L1720.0,1825.5 L1722.0,1825.5 L1724.0,1825.5 L1726.0,1825.5 L1728.0,1825.5 L1730.0,1825.5 L1732.0,1825.5 L1734.0,1825.5 L1736.0,1825.5 L1738.0,1825.5 L1740.0,1825.5 L1742.0,1825.5 L1744.0,1825.5 L1746.0,1825.5 L1748.0,1825.5 L1750.0,1825.5 L1752.0,1825.5 L1754.0,1825.5 L1756.0,1825.5 L1758.0,1825.5 L1760.0,1825.5 L1762.0,1825.5 L1764.0,1825.5 L1766.0,1825.5 L1768.0,1825.5 L1770.0,1825.5 L1772.0,1825.5 L1774.0,1825.5 L1776.0,1825.5 L1778.0,1825.5 L1780.0,1825.5 L1782.0,1825.5 L1784.0,1825.5 L1786.0,1825.5 L1788.0,1825.5 L1790.0,1825.5 L1792.0,1825.5 L1794.0,1825.5 L1796.0,1825.5 L1798.0,1825.5 L1800.0,1825.5 L1802.0,1825.5 L1804.0,1825.5 L1806.0,1825.5 L1808.0,1825.5 L1810.0,1825.5 L1812.0,1825.5 L1814.0,1825.5 L1816.0,1825.5 L1818.0,1825.5 L1820.0,1825.5 L1822.0,1825.5 L1824.0,1825.5 L1826.0,1825.5 L1828.0,1825.5 L1830.0,1825.5 L1832.0,1825.5 L1834.0,1825.5 L1836.0,1825.5 L1838.0,1825.5 L1840.0,1825.5 L1842.0,1825.5 L1844.0,1825.5 L1846.0,1825.5 L1848.0,1825.5 L1850.0,1825.5 L1852.0,1825.5 L1854.0,1825.5 L1856.0,1825.5 L1858.0,1825.5 L1860.0,1825.5 L1862.0,1825.5 L1864.0,1825.5 L1866.0,1825.5 L1868.0,1825.5 L1870.0,1825.5 L1872.0,1825.5 L1874.0,1825.5 L1876.0,1825.5 L1878.0,1825.5 L1880.0,1825.5 L1882.0,1825.5 L1884.0,1825.5 L1886.0,1825.5 L1888.0,1825.5 L1890.0,1825.5 L1892.0,1825.5 L1894.0,1825.5 L1896.0,1825.5 L1898.0,1825.5 L1900.0,1825.5 L1902.0,1825.5 L1904.0,1825.5 L1906.0,1825.4 L1908.0,1825.4 L1910.0,1825.4 L1912.0,1825.4 L1914.0,1825.4 L1916.0,1825.4 L1918.0,1825.4 L1920.0,1825.4 L1922.0,1825.4 L1924.0,1825.4 L1926.0,1825.4 L1928.0,1825.4 L1930.0,1825.4 L1932.0,1825.4 L1934.0,1825.4 L1936.0,1825.4 L1938.0,1825.4 L1940.0,1825.4 L1942.0,1825.4 L1944.0,1825.4 L1946.0,1825.4 L1948.0,1825.4 L1950.0,1825.4 L1952.0,1825.4 L1954.0,1825.4 L1956.0,1825.4 L1958.0,1825.4 L1960.0,1825.4 L1962.0,1825.4 L1964.0,1825.4 L1966.0,1825.4 L1968.0,1825.4 L1970.0,1825.4 L1972.0,1825.4 L1974.0,1825.4 L1976.0,1825.4 L1978.0,1825.4 L1980.0,1825.4 L1982.0,1825.4 L1984.0,1825.4 L1986.0,1825.4 L1988.0,1825.4 L1990.0,1825.4 L1992.0,1825.4 L1994.0,1825.4 L1996.0,1825.4 L1998.0,1825.4 L2000.0,1825.4 L2002.0,1825.4 L2004.0,1825.4 L2006.0,1825.4 L2008.0,1825.4" stroke="#008080" stroke-width="6.5" fill="none"/><path d="M150.0,1826.0 L152.0,1826.0 L154.0,1826.0 L156.0,1826.0 L158.0,1826.0 L160.0,1826.0 L162.0,1826.0 L164.0,1826.0 L166.0,1826.0 L168.0,1826.0 L170.0,1826.0 L172.0,1826.0 L174.0,1826.0 L176.0,1826.0 L178.0,1826.0 L180.0,1826.0 L182.0,1826.0 L184.0,1826.0 L186.0,1826.0 L188.0,1826.0 L190.0,1826.0 L192.0,1826.0 L194.0,1826.0 L196.0,1826.0 L198.0,1826.0 L200.0,1826.0 L202.0,1826.0 L204.0,1826.0 L206.0,1826.0 L208.0,1826.0 L210.0,1826.0 L212.0,1826.0 L214.0,1826.0 L216.0,1826.0 L218.0,1826.0 L220.0,1826.0 L222.0,1826.0 L224.0,1826.0 L226.0,1826.0 L228.0,1826.0 L230.0,1826.0 L232.0,1826.0 L234.0,1826.0 L236.0,1826.0 L238.0,1826.0 L240.0,1826.0 L242.0,1826.0 L244.0,1826.0 L246.0,1826.0 L248.0,1826.0 L250.0,1826.0 L252.0,1826.0 L254.0,1826.0 L256.0,1826.0 L258.0,1826.0 L260.0,1826.0 L262.0,1826.0 L264.0,1826.0 L266.0,1826.0 L268.0,1826.0 L270.0,1826.0 L272.0,1826.0 L274.0,1826.0 L276.0,1826.0 L278.0,1826.0 L280.0,1826.0 L282.0,1826.0 L284.0,1826.0 L286.0,1826.0 L288.0,1826.0 L290.0,1826.0 L292.0,1826.0 L294.0,1826.0 L296.0,1826.0 L298.0,1826.0 L300.0,1826.0 L302.0,1826.0 L304.0,1826.0 L306.0,1826.0 L308.0,1826.0 L310.0,1826.0 L312.0,1826.0 L314.0,1826.0 L316.0,1826.0 L318.0,1826.0 L320.0,1826.0 L322.0,1826.0 L324.0,1826.0 L326.0,1826.0 L328.0,1826.0 L330.0,1826.0 L332.0,1826.0 L334.0,1826.0 L336.0,1826.0 L338.0,1826.0 L340.0,1826.0 L342.0,1826.0 L344.0,1826.0 L346.0,1826.0 L348.0,1826.0 L350.0,1826.0 L352.0,1826.0 L354.0,1826.0 L356.0,1826.0 L358.0,1826.0 L360.0,1826.0 L362.0,1826.0 L364.0,1826.0 L366.0,1826.0 L368.0,1826.0 L370.0,1826.0 L372.0,1826.0 L374.0,1826.0 L376.0,1826.0 L378.0,1826.0 L380.0,1826.0 L382.0,1826.0 L384.0,1826.0 L386.0,1826.0 L388.0,1826.0 L390.0,1826.0 L392.0,1826.0 L394.0,1826.0 L396.0,1826.0 L398.0,1826.0 L400.0,1826.0 L402.0,1826.0 L404.0,1826.0 L406.0,1826.0 L408.0,1826.0 L410.0,1826.0 L412.0,1826.0 L414.0,1826.0 L416.0,1825.9 L418.0,1825.9 L420.0,1825.9 L422.0,1825.9 L424.0,1825.9 L426.0,1825.9 L428.0,1825.9 L430.0,1825.9 L432.0,1825.9 L434.0,1825.9 L436.0,1825.9 L438.0,1825.9 L440.0,1825.9 L442.0,1825.9 L444.0,1825.9 L446.0,1825.9 L448.0,1825.9 L450.0,1825.9 L452.0,1825.9 L454.0,1825.9 L456.0,1825.9 L458.0,1825.9 L460.0,1825.9 L462.0,1825.9 L464.0,1825.9 L466.0,1825.9 L468.0,1825.9 L470.0,1825.9 L472.0,1825.9 L474.0,1825.9 L476.0,1825.9 L478.0,1825.9 L480.0,1825.9 L482.0,1825.9 L484.0,1825.9 L486.0,1825.9 L488.0,1825.9 L490.0,1825.9 L492.0,1825.9 L494.0,1825.9 L496.0,1825.9 L498.0,1825.9 L500.0,1825.9 L502.0,1825.9 L504.0,1825.9 L506.0,1825.9 L508.0,1825.9 L510.0,1825.9 L512.0,1825.9 L514.0,1825.9 L516.0,1825.9 L518.0,1825.9 L520.0,1825.9 L522.0,1825.9 L524.0,1825.9 L526.0,1825.9 L528.0,1825.9 L530.0,1825.9 L532.0,1825.9 L534.0,1825.9 L536.0,1825.9 L538.0,1825.9 L540.0,1825.9 L542.0,1825.9 L544.0,1825.9 L546.0,1825.9 L548.0,1825.9 L550.0,1825.9 L552.0,1825.9 L554.0,1825.9 L556.0,1825.9 L558.0,1825.9 L560.0,1825.9 L562.0,1825.9 L564.0,1825.9 L566.0,1825.9 L568.0,1825.9 L570.0,1825.9 L572.0,1825.9 L574.0,1825.9 L576.0,1825.9 L578.0,1825.9 L580.0,1825.9 L582.0,1825.9 L584.0,1825.9 L586.0,1825.9 L588.0,1825.9 L590.0,1825.9 L592.0,1825.9 L594.0,1825.9 L596.0,1825.9 L598.0,1825.9 L600.0,1825.9 L602.0,1825.9 L604.0,1825.9 L606.0,1825.9 L608.0,1825.9 L610.0,1825.9 L612.0,1825.9 L614.0,1825.9 L616.0,1825.9 L618.0,1825.9 L620.0,1825.9 L622.0,1825.9 L624.0,1825.9 L626.0,1825.9 L628.0,1825.9 L630.0,1825.9 L632.0,1825.9 L634.0,1825.9 L636.0,1825.9 L638.0,1825.9 L640.0,1825.9 L642.0,1825.9 L644.0,1825.9 L646.0,1825.9 L648.0,1825.9 L650.0,1825.9 L652.0,1825.9 L654.0,1825.9 L656.0,1825.9 L658.0,1825.9 L660.0,1825.9 L662.0,1825.9 L664.0,1825.9 L666.0,1825.9 L668.0,1825.9 L670.0,1825.9 L672.0,1825.9 L674.0,1825.9 L676.0,1825.9 L678.0,1825.9 L680.0,1825.9 L682.0,1825.9 L684.0,1825.9 L686.0,1825.9 L688.0,1825.9 L690.0,1825.9 L692.0,1825.9 L694.0,1825.9 L696.0,1825.9 L698.0,1825.9 L700.0,1825.9 L702.0,1825.9 L704.0,1825.9 L706.0,1825.9 L708.0,1825.9 L710.0,1825.9 L712.0,1825.9 L714.0,1825.9 L716.0,1825.9 L718.0,1825.9 L720.0,1825.9 L722.0,1825.9 L724.0,1825.9 L726.0,1825.9 L728.0,1825.9 L730.0,1825.9 L732.0,1825.9 L734.0,1825.9 L736.0,1825.9 L738.0,1825.9 L740.0,1825.9 L742.0,1825.9 L744.0,1825.9 L746.0,1825.9 L748.0,1825.9 L750.0,1825.9 L752.0,1825.9 L754.0,1825.9 L756.0,1825.9 L758.0,1825.9 L760.0,1825.9 L762.0,1825.9 L764.0,1825.9 L766.0,1825.9 L768.0,1825.9 L770.0,1825.9 L772.0,1825.9 L774.0,1825.9 L776.0,1825.9 L778.0,1825.9 L780.0,1825.9 L782.0,1825.9 L784.0,1825.9 L786.0,1825.9 L788.0,1825.9 L790.0,1825.9 L792.0,1825.9 L794.0,1825.9 L796.0,1825.9 L798.0,1825.9 L800.0,1825.9 L802.0,1825.9 L804.0,1825.9 L806.0,1825.9 L808.0,1825.9 L810.0,1825.9 L812.0,1825.9 L814.0,1825.9 L816.0,1825.9 L818.0,1825.9 L820.0,1825.9 L822.0,1825.8 L824.0,1825.8 L826.0,1825.8 L828.0,1825.8 L830.0,1825.8 L832.0,1825.8 L834.0,1825.8 L836.0,1825.8 L838.0,1825.8 L840.0,1825.8 L842.0,1825.8 L844.0,1825.8 L846.0,1825.8 L848.0,1825.8 L850.0,1825.8 L852.0,1825.8 L854.0,1825.8 L856.0,1825.8 L858.0,1825.8 L860.0,1825.8 L862.0,1825.8 L864.0,1825.8 L866.0,1825.8 L868.0,1825.8 L870.0,1825.8 L872.0,1825.8 L874.0,1825.8 L876.0,1825.8 L878.0,1825.8 L880.0,1825.8 L882.0,1825.8 L884.0,1825.8 L886.0,1825.8 L888.0,1825.8 L890.0,1825.8 L892.0,1825.8 L894.0,1825.8 L896.0,1825.8 L898.0,1825.8 L900.0,1825.8 L902.0,1825.8 L904.0,1825.8 L906.0,1825.8 L908.0,1825.8 L910.0,1825.8 L912.0,1825.8 L914.0,1825.8 L916.0,1825.8 L918.0,1825.8 L920.0,1825.8 L922.0,1825.8 L924.0,1825.8 L926.0,1825.8 L928.0,1825.8 L930.0,1825.8 L932.0,1825.8 L934.0,1825.8 L936.0,1825.8 L938.0,1825.8 L940.0,1825.8 L942.0,1825.8 L944.0,1825.8 L946.0,1825.8 L948.0,1825.8 L950.0,1825.8 L952.0,1825.8 L954.0,1825.8 L956.0,1825.8 L958.0,1825.8 L960.0,1825.8 L962.0,1825.8 L964.0,1825.8 L966.0,1825.8 L968.0,1825.8 L970.0,1825.8 L972.0,1825.8 L974.0,1825.7 L976.0,1825.7 L978.0,1825.7 L980.0,1825.7 L982.0,1825.7 L984.0,1825.7 L986.0,1825.7 L988.0,1825.7 L990.0,1825.7 L992.0,1825.7 L994.0,1825.7 L996.0,1825.7 L998.0,1825.7 L1000.0,1825.7 L1002.0,1825.7 L1004.0,1825.7 L1006.0,1825.7 L1008.0,1825.7 L1010.0,1825.7 L1012.0,1825.6 L1014.0,1825.6 L1016.0,1825.6 L1018.0,1825.6 L1020.0,1825.6 L1022.0,1825.6 L1024.0,1825.6 L1026.0,1825.6 L1028.0,1825.6 L1030.0,1825.6 L1032.0,1825.5 L1034.0,1825.5 L1036.0,1825.5 L1038.0,1825.5 L1040.0,1825.5 L1042.0,1825.5 L1044.0,1825.5 L1046.0,1825.5 L1048.0,1825.4 L1050.0,1825.4 L1052.0,1825.4 L1054.0,1825.4 L1056.0,1825.4 L1058.0,1825.3 L1060.0,1825.3 L1062.0,1825.3 L1064.0,1825.3 L1066.0,1825.3 L1068.0,1825.2 L1070.0,1825.2 L1072.0,1825.2 L1074.0,1825.2 L1076.0,1825.1 L1078.0,1825.1 L1080.0,1825.1 L1082.0,1825.0 L1084.0,1825.0 L1086.0,1825.0 L1088.0,1824.9 L1090.0,1824.9 L1092.0,1824.9 L1094.0,1824.8 L1096.0,1824.8 L1098.0,1824.7 L1100.0,1824.7 L1102.0,1824.6 L1104.0,1824.6 L1106.0,1824.6 L1108.0,1824.5 L1110.0,1824.4 L1112.0,1824.4 L1114.0,1824.3 L1116.0,1824.3 L1118.0,1824.2 L1120.0,1824.1 L1122.0,1824.1 L1124.0,1824.0 L1126.0,1823.9 L1128.0,1823.9 L1130.0,1823.8 L1132.0,1823.7 L1134.0,1823.6 L1136.0,1823.5 L1138.0,1823.4 L1140.0,1823.3 L1142.0,1823.3 L1144.0,1823.2 L1146.0,1823.1 L1148.0,1822.9 L1150.0,1822.8 L1152.0,1822.7 L1154.0,1822.6 L1156.0,1822.5 L1158.0,1822.4 L1160.0,1822.2 L1162.0,1822.1 L1164.0,1821.9 L1166.0,1821.8 L1168.0,1821.6 L1170.0,1821.5 L1172.0,1821.3 L1174.0,1821.2 L1176.0,1821.0 L1178.0,1820.8 L1180.0,1820.6 L1182.0,1820.4 L1184.0,1820.3 L1186.0,1820.0 L1188.0,1819.8 L1190.0,1819.6 L1192.0,1819.4 L1194.0,1819.2 L1196.0,1818.9 L1198.0,1818.7 L1200.0,1818.4 L1202.0,1818.2 L1204.0,1817.9 L1206.0,1817.6 L1208.0,1817.4 L1210.0,1817.1 L1212.0,1816.8 L1214.0,1816.4 L1216.0,1816.1 L1218.0,1815.8 L1220.0,1815.4 L1222.0,1815.1 L1224.0,1814.7 L1226.0,1814.4 L1228.0,1814.0 L1230.0,1813.6 L1232.0,1813.2 L1234.0,1812.8 L1236.0,1812.3 L1238.0,1811.9 L1240.0,1811.4 L1242.0,1811.0 L1244.0,1810.5 L1246.0,1810.0 L1248.0,1809.5 L1250.0,1809.0 L1252.0,1808.4 L1254.0,1807.9 L1256.0,1807.3 L1258.0,1806.7 L1260.0,1806.1 L1262.0,1805.5 L1264.0,1804.9 L1266.0,1804.2 L1268.0,1803.6 L1270.0,1802.9 L1272.0,1802.2 L1274.0,1801.5 L1276.0,1800.7 L1278.0,1800.0 L1280.0,1799.2 L1282.0,1798.4 L1284.0,1797.6 L1286.0,1796.8 L1288.0,1795.9 L1290.0,1795.0 L1292.0,1794.1 L1294.0,1793.2 L1296.0,1792.3 L1298.0,1791.3 L1300.0,1790.3 L1302.0,1789.3 L1304.0,1788.3 L1306.0,1787.3 L1308.0,1786.2 L1310.0,1785.1 L1312.0,1784.0 L1314.0,1782.8 L1316.0,1781.6 L1318.0,1780.4 L1320.0,1779.2 L1322.0,1778.0 L1324.0,1776.7 L1326.0,1775.4 L1328.0,1774.0 L1330.0,1772.7 L1332.0,1771.3 L1334.0,1769.9 L1336.0,1768.5 L1338.0,1767.0 L1340.0,1765.5 L1342.0,1764.0 L1344.0,1762.4 L1346.0,1760.8 L1348.0,1759.2 L1350.0,1757.6 L1352.0,1755.9 L1354.0,1754.2 L1356.0,1752.5 L1358.0,1750.7 L1360.0,1748.9 L1362.0,1747.1 L1364.0,1745.2 L1366.0,1743.4 L1368.0,1741.5 L1370.0,1739.5 L1372.0,1737.5 L1374.0,1735.5 L1376.0,1733.5 L1378.0,1731.5 L1380.0,1729.4 L1382.0,1727.2 L1384.0,1725.1 L1386.0,1722.9 L1388.0,1720.7 L1390.0,1718.5 L1392.0,1716.2 L1394.0,1713.9 L1396.0,1711.6 L1398.0,1709.3 L1400.0,1706.9 L1402.0,1704.5 L1404.0,1702.1 L1406.0,1699.6 L1408.0,1697.2 L1410.0,1694.7 L1412.0,1692.2 L1414.0,1689.6 L1416.0,1687.1 L1418.0,1684.5 L1420.0,1681.9 L1422.0,1679.2 L1424.0,1676.6 L1426.0,1673.9 L1428.0,1671.3 L1430.0,1668.6 L1432.0,1665.9 L1434.0,1663.2 L1436.0,1660.4 L1438.0,1657.7 L1440.0,1654.9 L1442.0,1652.2 L1444.0,1649.4 L1446.0,1646.6 L1448.0,1643.8 L1450.0,1641.1 L1452.0,1638.3 L1454.0,1635.5 L1456.0,1632.7 L1458.0,1629.9 L1460.0,1627.2 L1462.0,1624.4 L1464.0,1621.6 L1466.0,1618.9 L1468.0,1616.1 L1470.0,1613.4 L1472.0,1610.7 L1474.0,1608.0 L1476.0,1605.3 L1478.0,1602.7 L1480.0,1600.0 L1482.0,1597.4 L1484.0,1594.8 L1486.0,1592.3 L1488.0,1589.7 L1490.0,1587.2 L1492.0,1584.8 L1494.0,1582.3 L1496.0,1579.9 L1498.0,1577.6 L1500.0,1575.3 L1502.0,1573.0 L1504.0,1570.8 L1506.0,1568.6 L1508.0,1566.5 L1510.0,1564.4 L1512.0,1562.4 L1514.0,1560.4 L1516.0,1558.5 L1518.0,1556.7 L1520.0,1554.9 L1522.0,1553.1 L1524.0,1551.5 L1526.0,1549.8 L1528.0,1548.3 L1530.0,1546.8 L1532.0,1545.4 L1534.0,1544.1 L1536.0,1542.8 L1538.0,1541.6 L1540.0,1540.5 L1542.0,1539.5 L1544.0,1538.5 L1546.0,1537.6 L1548.0,1536.8 L1550.0,1536.1 L1552.0,1535.4 L1554.0,1534.9 L1556.0,1534.4 L1558.0,1534.0 L1560.0,1533.6 L1562.0,1533.4 L1564.0,1533.2 L1566.0,1533.2 L1568.0,1533.2 L1570.0,1533.2 L1572.0,1533.4 L1574.0,1533.7 L1576.0,1534.0 L1578.0,1534.4 L1580.0,1534.9 L1582.0,1535.5 L1584.0,1536.1 L1586.0,1536.9 L1588.0,1537.7 L1590.0,1538.6 L1592.0,1539.5 L1594.0,1540.6 L1596.0,1541.7 L1598.0,1542.9 L1600.0,1544.2 L1602.0,1545.5 L1604.0,1546.9 L1606.0,1548.4 L1608.0,1549.9 L1610.0,1551.5 L1612.0,1553.2 L1614.0,1555.0 L1616.0,1556.8 L1618.0,1558.6 L1620.0,1560.5 L1622.0,1562.5 L1624.0,1564.5 L1626.0,1566.6 L1628.0,1568.7 L1630.0,1570.9 L1632.0,1573.1 L1634.0,1575.4 L1636.0,1577.7 L1638.0,1580.1 L1640.0,1582.5 L1642.0,1584.9 L1644.0,1587.4 L1646.0,1589.9 L1648.0,1592.4 L1650.0,1594.9 L1652.0,1597.5 L1654.0,1600.1 L1656.0,1602.8 L1658.0,1605.4 L1660.0,1608.1 L1662.0,1610.8 L1664.0,1613.5 L1666.0,1616.3 L1668.0,1619.0 L1670.0,1621.8 L1672.0,1624.5 L1674.0,1627.3 L1676.0,1630.1 L1678.0,1632.8 L1680.0,1635.6 L1682.0,1638.4 L1684.0,1641.2 L1686.0,1644.0 L1688.0,1646.7 L1690.0,1649.5 L1692.0,1652.3 L1694.0,1655.0 L1696.0,1657.8 L1698.0,1660.5 L1700.0,1663.2 L1702.0,1666.0 L1704.0,1668.7 L1706.0,1671.4 L1708.0,1674.0 L1710.0,1676.7 L1712.0,1679.3 L1714.0,1681.9 L1716.0,1684.5 L1718.0,1687.1 L1720.0,1689.7 L1722.0,1692.2 L1724.0,1694.7 L1726.0,1697.2 L1728.0,1699.7 L1730.0,1702.1 L1732.0,1704.6 L1734.0,1707.0 L1736.0,1709.3 L1738.0,1711.7 L1740.0,1714.0 L1742.0,1716.3 L1744.0,1718.5 L1746.0,1720.7 L1748.0,1722.9 L1750.0,1725.1 L1752.0,1727.3 L1754.0,1729.4 L1756.0,1731.5 L1758.0,1733.5 L1760.0,1735.5 L1762.0,1737.5 L1764.0,1739.5 L1766.0,1741.4 L1768.0,1743.3 L1770.0,1745.2 L1772.0,1747.1 L1774.0,1748.9 L1776.0,1750.7 L1778.0,1752.4 L1780.0,1754.2 L1782.0,1755.8 L1784.0,1757.5 L1786.0,1759.2 L1788.0,1760.8 L1790.0,1762.3 L1792.0,1763.9 L1794.0,1765.4 L1796.0,1766.9 L1798.0,1768.4 L1800.0,1769.8 L1802.0,1771.2 L1804.0,1772.6 L1806.0,1774.0 L1808.0,1775.3 L1810.0,1776.6 L1812.0,1777.9 L1814.0,1779.1 L1816.0,1780.3 L1818.0,1781.5 L1820.0,1782.7 L1822.0,1783.8 L1824.0,1785.0 L1826.0,1786.1 L1828.0,1787.1 L1830.0,1788.2 L1832.0,1789.2 L1834.0,1790.2 L1836.0,1791.2 L1838.0,1792.1 L1840.0,1793.1 L1842.0,1794.0 L1844.0,1794.9 L1846.0,1795.7 L1848.0,1796.6 L1850.0,1797.4 L1852.0,1798.2 L1854.0,1799.0 L1856.0,1799.8 L1858.0,1800.5 L1860.0,1801.3 L1862.0,1802.0 L1864.0,1802.7 L1866.0,1803.4 L1868.0,1804.0 L1870.0,1804.7 L1872.0,1805.3 L1874.0,1805.9 L1876.0,1806.5 L1878.0,1807.1 L1880.0,1807.6 L1882.0,1808.2 L1884.0,1808.7 L1886.0,1809.3 L1888.0,1809.8 L1890.0,1810.3 L1892.0,1810.7 L1894.0,1811.2 L1896.0,1811.6 L1898.0,1812.1 L1900.0,1812.5 L1902.0,1812.9 L1904.0,1813.3 L1906.0,1813.7 L1908.0,1814.1 L1910.0,1814.5 L1912.0,1814.8 L1914.0,1815.2 L1916.0,1815.5 L1918.0,1815.9 L1920.0,1816.2 L1922.0,1816.5 L1924.0,1816.8 L1926.0,1817.1 L1928.0,1817.4 L1930.0,1817.6 L1932.0,1817.9 L1934.0,1818.2 L1936.0,1818.4 L1938.0,1818.7 L1940.0,1818.9 L1942.0,1819.1 L1944.0,1819.3 L1946.0,1819.5 L1948.0,1819.8 L1950.0,1820.0 L1952.0,1820.1 L1954.0,1820.3 L1956.0,1820.5 L1958.0,1820.7 L1960.0,1820.9 L1962.0,1821.0 L1964.0,1821.2 L1966.0,1821.3 L1968.0,1821.5 L1970.0,1821.6 L1972.0,1821.8 L1974.0,1821.9 L1976.0,1822.0 L1978.0,1822.2 L1980.0,1822.3 L1982.0,1822.4 L1984.0,1822.5 L1986.0,1822.6 L1988.0,1822.7 L1990.0,1822.8 L1992.0,1822.9 L1994.0,1823.0 L1996.0,1823.1 L1998.0,1823.2 L2000.0,1823.3 L2002.0,1823.4 L2004.0,1823.4 L2006.0,1823.5 L2008.0,1823.6" stroke="#ff0000" stroke-width="7" fill="none" stroke-dasharray="28.6 30.65" stroke-dashoffset="58.05" stroke-linecap="round"/><path d="M150.0,1826.0 L152.0,1826.0 L154.0,1826.0 L156.0,1826.0 L158.0,1826.0 L160.0,1826.0 L162.0,1826.0 L164.0,1826.0 L166.0,1826.0 L168.0,1826.0 L170.0,1826.0 L172.0,1826.0 L174.0,1826.0 L176.0,1826.0 L178.0,1826.0 L180.0,1826.0 L182.0,1826.0 L184.0,1826.0 L186.0,1826.0 L188.0,1826.0 L190.0,1826.0 L192.0,1826.0 L194.0,1826.0 L196.0,1826.0 L198.0,1826.0 L200.0,1826.0 L202.0,1826.0 L204.0,1826.0 L206.0,1826.0 L208.0,1826.0 L210.0,1826.0 L212.0,1826.0 L214.0,1826.0 L216.0,1826.0 L218.0,1826.0 L220.0,1826.0 L222.0,1826.0 L224.0,1826.0 L226.0,1826.0 L228.0,1826.0 L230.0,1826.0 L232.0,1826.0 L234.0,1826.0 L236.0,1826.0 L238.0,1826.0 L240.0,1826.0 L242.0,1826.0 L244.0,1826.0 L246.0,1826.0 L248.0,1826.0 L250.0,1826.0 L252.0,1826.0 L254.0,1826.0 L256.0,1826.0 L258.0,1826.0 L260.0,1826.0 L262.0,1826.0 L264.0,1826.0 L266.0,1826.0 L268.0,1826.0 L270.0,1826.0 L272.0,1826.0 L274.0,1826.0 L276.0,1826.0 L278.0,1826.0 L280.0,1826.0 L282.0,1826.0 L284.0,1826.0 L286.0,1826.0 L288.0,1826.0 L290.0,1826.0 L292.0,1826.0 L294.0,1826.0 L296.0,1826.0 L298.0,1826.0 L300.0,1826.0 L302.0,1826.0 L304.0,1826.0 L306.0,1826.0 L308.0,1826.0 L310.0,1826.0 L312.0,1826.0 L314.0,1826.0 L316.0,1826.0 L318.0,1826.0 L320.0,1826.0 L322.0,1826.0 L324.0,1826.0 L326.0,1826.0 L328.0,1826.0 L330.0,1826.0 L332.0,1826.0 L334.0,1826.0 L336.0,1826.0 L338.0,1826.0 L340.0,1826.0 L342.0,1826.0 L344.0,1826.0 L346.0,1826.0 L348.0,1826.0 L350.0,1826.0 L352.0,1826.0 L354.0,1826.0 L356.0,1826.0 L358.0,1826.0 L360.0,1826.0 L362.0,1826.0 L364.0,1826.0 L366.0,1826.0 L368.0,1826.0 L370.0,1826.0 L372.0,1826.0 L374.0,1826.0 L376.0,1826.0 L378.0,1826.0 L380.0,1826.0 L382.0,1826.0 L384.0,1826.0 L386.0,1826.0 L388.0,1826.0 L390.0,1826.0 L392.0,1826.0 L394.0,1826.0 L396.0,1826.0 L398.0,1826.0 L400.0,1826.0 L402.0,1826.0 L404.0,1826.0 L406.0,1826.0 L408.0,1826.0 L410.0,1826.0 L412.0,1826.0 L414.0,1826.0 L416.0,1825.9 L418.0,1825.9 L420.0,1825.9 L422.0,1825.9 L424.0,1825.9 L426.0,1825.9 L428.0,1825.9 L430.0,1825.9 L432.0,1825.9 L434.0,1825.9 L436.0,1825.9 L438.0,1825.9 L440.0,1825.9 L442.0,1825.9 L444.0,1825.9 L446.0,1825.9 L448.0,1825.9 L450.0,1825.9 L452.0,1825.9 L454.0,1825.9 L456.0,1825.9 L458.0,1825.9 L460.0,1825.9 L462.0,1825.9 L464.0,1825.9 L466.0,1825.9 L468.0,1825.9 L470.0,1825.9 L472.0,1825.9 L474.0,1825.9 L476.0,1825.9 L478.0,1825.9 L480.0,1825.9 L482.0,1825.9 L484.0,1825.9 L486.0,1825.9 L488.0,1825.9 L490.0,1825.9 L492.0,1825.9 L494.0,1825.9 L496.0,1825.9 L498.0,1825.9 L500.0,1825.9 L502.0,1825.9 L504.0,1825.9 L506.0,1825.9 L508.0,1825.9 L510.0,1825.9 L512.0,1825.9 L514.0,1825.9 L516.0,1825.9 L518.0,1825.9 L520.0,1825.9 L522.0,1825.9 L524.0,1825.9 L526.0,1825.9 L528.0,1825.9 L530.0,1825.9 L532.0,1825.9 L534.0,1825.9 L536.0,1825.9 L538.0,1825.9 L540.0,1825.9 L542.0,1825.9 L544.0,1825.9 L546.0,1825.9 L548.0,1825.9 L550.0,1825.9 L552.0,1825.9 L554.0,1825.9 L556.0,1825.9 L558.0,1825.9 L560.0,1825.9 L562.0,1825.9 L564.0,1825.9 L566.0,1825.9 L568.0,1825.9 L570.0,1825.9 L572.0,1825.9 L574.0,1825.9 L576.0,1825.9 L578.0,1825.9 L580.0,1825.9 L582.0,1825.9 L584.0,1825.9 L586.0,1825.9 L588.0,1825.9 L590.0,1825.9 L592.0,1825.9 L594.0,1825.9 L596.0,1825.9 L598.0,1825.9 L600.0,1825.9 L602.0,1825.9 L604.0,1825.9 L606.0,1825.9 L608.0,1825.9 L610.0,1825.9 L612.0,1825.9 L614.0,1825.9 L616.0,1825.9 L618.0,1825.9 L620.0,1825.9 L622.0,1825.9 L624.0,1825.9 L626.0,1825.9 L628.0,1825.9 L630.0,1825.9 L632.0,1825.9 L634.0,1825.9 L636.0,1825.9 L638.0,1825.9 L640.0,1825.9 L642.0,1825.9 L644.0,1825.9 L646.0,1825.9 L648.0,1825.9 L650.0,1825.9 L652.0,1825.9 L654.0,1825.9 L656.0,1825.9 L658.0,1825.9 L660.0,1825.9 L662.0,1825.9 L664.0,1825.9 L666.0,1825.9 L668.0,1825.9 L670.0,1825.8 L672.0,1825.8 L674.0,1825.8 L676.0,1825.8 L678.0,1825.8 L680.0,1825.8 L682.0,1825.8 L684.0,1825.8 L686.0,1825.8 L688.0,1825.8 L690.0,1825.8 L692.0,1825.8 L694.0,1825.8 L696.0,1825.8 L698.0,1825.8 L700.0,1825.8 L702.0,1825.8 L704.0,1825.8 L706.0,1825.8 L708.0,1825.8 L710.0,1825.8 L712.0,1825.8 L714.0,1825.8 L716.0,1825.8 L718.0,1825.8 L720.0,1825.8 L722.0,1825.8 L724.0,1825.7 L726.0,1825.7 L728.0,1825.7 L730.0,1825.7 L732.0,1825.7 L734.0,1825.7 L736.0,1825.7 L738.0,1825.7 L740.0,1825.7 L742.0,1825.7 L744.0,1825.7 L746.0,1825.7 L748.0,1825.7 L750.0,1825.6 L752.0,1825.6 L754.0,1825.6 L756.0,1825.6 L758.0,1825.6 L760.0,1825.6 L762.0,1825.6 L764.0,1825.6 L766.0,1825.6 L768.0,1825.5 L770.0,1825.5 L772.0,1825.5 L774.0,1825.5 L776.0,1825.5 L778.0,1825.5 L780.0,1825.5 L782.0,1825.4 L784.0,1825.4 L786.0,1825.4 L788.0,1825.4 L790.0,1825.4 L792.0,1825.3 L794.0,1825.3 L796.0,1825.3 L798.0,1825.3 L800.0,1825.3 L802.0,1825.2 L804.0,1825.2 L806.0,1825.2 L808.0,1825.2 L810.0,1825.1 L812.0,1825.1 L814.0,1825.1 L816.0,1825.1 L818.0,1825.0 L820.0,1825.0 L822.0,1825.0 L824.0,1824.9 L826.0,1824.9 L828.0,1824.9 L830.0,1824.8 L832.0,1824.8 L834.0,1824.7 L836.0,1824.7 L838.0,1824.7 L840.0,1824.6 L842.0,1824.6 L844.0,1824.5 L846.0,1824.5 L848.0,1824.4 L850.0,1824.4 L852.0,1824.3 L854.0,1824.3 L856.0,1824.2 L858.0,1824.2 L860.0,1824.1 L862.0,1824.1 L864.0,1824.0 L866.0,1823.9 L868.0,1823.9 L870.0,1823.8 L872.0,1823.7 L874.0,1823.7 L876.0,1823.6 L878.0,1823.5 L880.0,1823.4 L882.0,1823.4 L884.0,1823.3 L886.0,1823.2 L888.0,1823.1 L890.0,1823.0 L892.0,1822.9 L894.0,1822.8 L896.0,1822.7 L898.0,1822.6 L900.0,1822.5 L902.0,1822.4 L904.0,1822.3 L906.0,1822.2 L908.0,1822.1 L910.0,1822.0 L912.0,1821.8 L914.0,1821.7 L916.0,1821.6 L918.0,1821.5 L920.0,1821.3 L922.0,1821.2 L924.0,1821.0 L926.0,1820.9 L928.0,1820.7 L930.0,1820.6 L932.0,1820.4 L934.0,1820.3 L936.0,1820.1 L938.0,1819.9 L940.0,1819.8 L942.0,1819.6 L944.0,1819.4 L946.0,1819.2 L948.0,1819.0 L950.0,1818.8 L952.0,1818.6 L954.0,1818.4 L956.0,1818.2 L958.0,1818.0 L960.0,1817.7 L962.0,1817.5 L964.0,1817.3 L966.0,1817.0 L968.0,1816.8 L970.0,1816.5 L972.0,1816.3 L974.0,1816.0 L976.0,1815.7 L978.0,1815.5 L980.0,1815.2 L982.0,1814.9 L984.0,1814.6 L986.0,1814.3 L988.0,1814.0 L990.0,1813.7 L992.0,1813.4 L994.0,1813.0 L996.0,1812.7 L998.0,1812.4 L1000.0,1812.0 L1002.0,1811.7 L1004.0,1811.3 L1006.0,1810.9 L1008.0,1810.5 L1010.0,1810.2 L1012.0,1809.8 L1014.0,1809.4 L1016.0,1809.0 L1018.0,1808.5 L1020.0,1808.1 L1022.0,1807.7 L1024.0,1807.2 L1026.0,1806.8 L1028.0,1806.3 L1030.0,1805.9 L1032.0,1805.4 L1034.0,1804.9 L1036.0,1804.4 L1038.0,1803.9 L1040.0,1803.4 L1042.0,1802.9 L1044.0,1802.4 L1046.0,1801.9 L1048.0,1801.3 L1050.0,1800.8 L1052.0,1800.2 L1054.0,1799.6 L1056.0,1799.1 L1058.0,1798.5 L1060.0,1797.9 L1062.0,1797.3 L1064.0,1796.7 L1066.0,1796.1 L1068.0,1795.5 L1070.0,1794.8 L1072.0,1794.2 L1074.0,1793.5 L1076.0,1792.9 L1078.0,1792.2 L1080.0,1791.6 L1082.0,1790.9 L1084.0,1790.2 L1086.0,1789.5 L1088.0,1788.8 L1090.0,1788.1 L1092.0,1787.4 L1094.0,1786.7 L1096.0,1785.9 L1098.0,1785.2 L1100.0,1784.5 L1102.0,1783.7 L1104.0,1783.0 L1106.0,1782.2 L1108.0,1781.5 L1110.0,1780.7 L1112.0,1780.0 L1114.0,1779.2 L1116.0,1778.4 L1118.0,1777.7 L1120.0,1776.9 L1122.0,1776.1 L1124.0,1775.3 L1126.0,1774.5 L1128.0,1773.8 L1130.0,1773.0 L1132.0,1772.2 L1134.0,1771.4 L1136.0,1770.6 L1138.0,1769.9 L1140.0,1769.1 L1142.0,1768.3 L1144.0,1767.5 L1146.0,1766.8 L1148.0,1766.0 L1150.0,1765.2 L1152.0,1764.5 L1154.0,1763.7 L1156.0,1763.0 L1158.0,1762.3 L1160.0,1761.5 L1162.0,1760.8 L1164.0,1760.1 L1166.0,1759.4 L1168.0,1758.7 L1170.0,1758.1 L1172.0,1757.4 L1174.0,1756.7 L1176.0,1756.1 L1178.0,1755.5 L1180.0,1754.9 L1182.0,1754.3 L1184.0,1753.7 L1186.0,1753.1 L1188.0,1752.6 L1190.0,1752.0 L1192.0,1751.5 L1194.0,1751.0 L1196.0,1750.5 L1198.0,1750.1 L1200.0,1749.6 L1202.0,1749.2 L1204.0,1748.8 L1206.0,1748.4 L1208.0,1748.1 L1210.0,1747.7 L1212.0,1747.4 L1214.0,1747.1 L1216.0,1746.9 L1218.0,1746.6 L1220.0,1746.4 L1222.0,1746.2 L1224.0,1746.0 L1226.0,1745.9 L1228.0,1745.8 L1230.0,1745.7 L1232.0,1745.6 L1234.0,1745.5 L1236.0,1745.5 L1238.0,1745.5 L1240.0,1745.5 L1242.0,1745.6 L1244.0,1745.7 L1246.0,1745.8 L1248.0,1745.9 L1250.0,1746.1 L1252.0,1746.2 L1254.0,1746.4 L1256.0,1746.6 L1258.0,1746.9 L1260.0,1747.2 L1262.0,1747.5 L1264.0,1747.8 L1266.0,1748.1 L1268.0,1748.5 L1270.0,1748.9 L1272.0,1749.3 L1274.0,1749.7 L1276.0,1750.1 L1278.0,1750.6 L1280.0,1751.1 L1282.0,1751.6 L1284.0,1752.1 L1286.0,1752.6 L1288.0,1753.2 L1290.0,1753.7 L1292.0,1754.3 L1294.0,1754.9 L1296.0,1755.5 L1298.0,1756.2 L1300.0,1756.8 L1302.0,1757.5 L1304.0,1758.1 L1306.0,1758.8 L1308.0,1759.5 L1310.0,1760.2 L1312.0,1760.9 L1314.0,1761.6 L1316.0,1762.3 L1318.0,1763.1 L1320.0,1763.8 L1322.0,1764.6 L1324.0,1765.3 L1326.0,1766.1 L1328.0,1766.8 L1330.0,1767.6 L1332.0,1768.4 L1334.0,1769.2 L1336.0,1769.9 L1338.0,1770.7 L1340.0,1771.5 L1342.0,1772.3 L1344.0,1773.0 L1346.0,1773.8 L1348.0,1774.6 L1350.0,1775.4 L1352.0,1776.2 L1354.0,1776.9 L1356.0,1777.7 L1358.0,1778.5 L1360.0,1779.2 L1362.0,1780.0 L1364.0,1780.8 L1366.0,1781.5 L1368.0,1782.3 L1370.0,1783.0 L1372.0,1783.8 L1374.0,1784.5 L1376.0,1785.3 L1378.0,1786.0 L1380.0,1786.7 L1382.0,1787.4 L1384.0,1788.1 L1386.0,1788.8 L1388.0,1789.5 L1390.0,1790.2 L1392.0,1790.9 L1394.0,1791.6 L1396.0,1792.2 L1398.0,1792.9 L1400.0,1793.5 L1402.0,1794.2 L1404.0,1794.8 L1406.0,1795.5 L1408.0,1796.1 L1410.0,1796.7 L1412.0,1797.3 L1414.0,1797.9 L1416.0,1798.5 L1418.0,1799.1 L1420.0,1799.6 L1422.0,1800.2 L1424.0,1800.7 L1426.0,1801.3 L1428.0,1801.8 L1430.0,1802.4 L1432.0,1802.9 L1434.0,1803.4 L1436.0,1803.9 L1438.0,1804.4 L1440.0,1804.9 L1442.0,1805.3 L1444.0,1805.8 L1446.0,1806.3 L1448.0,1806.7 L1450.0,1807.2 L1452.0,1807.6 L1454.0,1808.0 L1456.0,1808.5 L1458.0,1808.9 L1460.0,1809.3 L1462.0,1809.7 L1464.0,1810.1 L1466.0,1810.5 L1468.0,1810.8 L1470.0,1811.2 L1472.0,1811.6 L1474.0,1811.9 L1476.0,1812.3 L1478.0,1812.6 L1480.0,1812.9 L1482.0,1813.3 L1484.0,1813.6 L1486.0,1813.9 L1488.0,1814.2 L1490.0,1814.5 L1492.0,1814.8 L1494.0,1815.1 L1496.0,1815.3 L1498.0,1815.6 L1500.0,1815.9 L1502.0,1816.1 L1504.0,1816.4 L1506.0,1816.6 L1508.0,1816.9 L1510.0,1817.1 L1512.0,1817.4 L1514.0,1817.6 L1516.0,1817.8 L1518.0,1818.0 L1520.0,1818.2 L1522.0,1818.4 L1524.0,1818.6 L1526.0,1818.8 L1528.0,1819.0 L1530.0,1819.2 L1532.0,1819.4 L1534.0,1819.6 L1536.0,1819.8 L1538.0,1819.9 L1540.0,1820.1 L1542.0,1820.2 L1544.0,1820.4 L1546.0,1820.6 L1548.0,1820.7 L1550.0,1820.8 L1552.0,1821.0 L1554.0,1821.1 L1556.0,1821.3 L1558.0,1821.4 L1560.0,1821.5 L1562.0,1821.6 L1564.0,1821.8 L1566.0,1821.9 L1568.0,1822.0 L1570.0,1822.1 L1572.0,1822.2 L1574.0,1822.3 L1576.0,1822.4 L1578.0,1822.5 L1580.0,1822.6 L1582.0,1822.7 L1584.0,1822.8 L1586.0,1822.9 L1588.0,1823.0 L1590.0,1823.0 L1592.0,1823.1 L1594.0,1823.2 L1596.0,1823.3 L1598.0,1823.4 L1600.0,1823.4 L1602.0,1823.5 L1604.0,1823.6 L1606.0,1823.6 L1608.0,1823.7 L1610.0,1823.8 L1612.0,1823.8 L1614.0,1823.9 L1616.0,1823.9 L1618.0,1824.0 L1620.0,1824.0 L1622.0,1824.1 L1624.0,1824.1 L1626.0,1824.2 L1628.0,1824.2 L1630.0,1824.3 L1632.0,1824.3 L1634.0,1824.4 L1636.0,1824.4 L1638.0,1824.4 L1640.0,1824.5 L1642.0,1824.5 L1644.0,1824.6 L1646.0,1824.6 L1648.0,1824.6 L1650.0,1824.7 L1652.0,1824.7 L1654.0,1824.7 L1656.0,1824.7 L1658.0,1824.8 L1660.0,1824.8 L1662.0,1824.8 L1664.0,1824.8 L1666.0,1824.9 L1668.0,1824.9 L1670.0,1824.9 L1672.0,1824.9 L1674.0,1825.0 L1676.0,1825.0 L1678.0,1825.0 L1680.0,1825.0 L1682.0,1825.0 L1684.0,1825.1 L1686.0,1825.1 L1688.0,1825.1 L1690.0,1825.1 L1692.0,1825.1 L1694.0,1825.1 L1696.0,1825.2 L1698.0,1825.2 L1700.0,1825.2 L1702.0,1825.2 L1704.0,1825.2 L1706.0,1825.2 L1708.0,1825.2 L1710.0,1825.2 L1712.0,1825.3 L1714.0,1825.3 L1716.0,1825.3 L1718.0,1825.3 L1720.0,1825.3 L1722.0,1825.3 L1724.0,1825.3 L1726.0,1825.3 L1728.0,1825.3 L1730.0,1825.3 L1732.0,1825.3 L1734.0,1825.3 L1736.0,1825.4 L1738.0,1825.4 L1740.0,1825.4 L1742.0,1825.4 L1744.0,1825.4 L1746.0,1825.4 L1748.0,1825.4 L1750.0,1825.4 L1752.0,1825.4 L1754.0,1825.4 L1756.0,1825.4 L1758.0,1825.4 L1760.0,1825.4 L1762.0,1825.4 L1764.0,1825.4 L1766.0,1825.4 L1768.0,1825.4 L1770.0,1825.4 L1772.0,1825.4 L1774.0,1825.4 L1776.0,1825.4 L1778.0,1825.4 L1780.0,1825.4 L1782.0,1825.4 L1784.0,1825.4 L1786.0,1825.4 L1788.0,1825.4 L1790.0,1825.4 L1792.0,1825.4 L1794.0,1825.4 L1796.0,1825.5 L1798.0,1825.5 L1800.0,1825.5 L1802.0,1825.5 L1804.0,1825.5 L1806.0,1825.5 L1808.0,1825.5 L1810.0,1825.5 L1812.0,1825.5 L1814.0,1825.5 L1816.0,1825.5 L1818.0,1825.5 L1820.0,1825.5 L1822.0,1825.5 L1824.0,1825.5 L1826.0,1825.5 L1828.0,1825.5 L1830.0,1825.5 L1832.0,1825.5 L1834.0,1825.5 L1836.0,1825.5 L1838.0,1825.5 L1840.0,1825.5 L1842.0,1825.5 L1844.0,1825.5 L1846.0,1825.5 L1848.0,1825.5 L1850.0,1825.5 L1852.0,1825.5 L1854.0,1825.5 L1856.0,1825.5 L1858.0,1825.5 L1860.0,1825.5 L1862.0,1825.5 L1864.0,1825.5 L1866.0,1825.5 L1868.0,1825.5 L1870.0,1825.5 L1872.0,1825.5 L1874.0,1825.5 L1876.0,1825.5 L1878.0,1825.5 L1880.0,1825.5 L1882.0,1825.5 L1884.0,1825.5 L1886.0,1825.5 L1888.0,1825.5 L1890.0,1825.5 L1892.0,1825.5 L1894.0,1825.4 L1896.0,1825.4 L1898.0,1825.4 L1900.0,1825.4 L1902.0,1825.4 L1904.0,1825.4 L1906.0,1825.4 L1908.0,1825.4 L1910.0,1825.4 L1912.0,1825.4 L1914.0,1825.4 L1916.0,1825.4 L1918.0,1825.4 L1920.0,1825.4 L1922.0,1825.4 L1924.0,1825.4 L1926.0,1825.4 L1928.0,1825.4 L1930.0,1825.4 L1932.0,1825.4 L1934.0,1825.4 L1936.0,1825.4 L1938.0,1825.4 L1940.0,1825.4 L1942.0,1825.4 L1944.0,1825.4 L1946.0,1825.4 L1948.0,1825.4 L1950.0,1825.4 L1952.0,1825.4 L1954.0,1825.4 L1956.0,1825.4 L1958.0,1825.4 L1960.0,1825.4 L1962.0,1825.4 L1964.0,1825.4 L1966.0,1825.4 L1968.0,1825.4 L1970.0,1825.4 L1972.0,1825.4 L1974.0,1825.4 L1976.0,1825.4 L1978.0,1825.4 L1980.0,1825.4 L1982.0,1825.4 L1984.0,1825.4 L1986.0,1825.4 L1988.0,1825.4 L1990.0,1825.4 L1992.0,1825.4 L1994.0,1825.4 L1996.0,1825.4 L1998.0,1825.4 L2000.0,1825.4 L2002.0,1825.4 L2004.0,1825.4 L2006.0,1825.4 L2008.0,1825.4" stroke="#0000ff" stroke-width="7" fill="none" stroke-dasharray="28.6 30.65" stroke-dashoffset="58.05" stroke-linecap="round"/><path d="M150.0,1826.0 L152.0,1826.0 L154.0,1826.0 L156.0,1826.0 L158.0,1826.0 L160.0,1826.0 L162.0,1826.0 L164.0,1826.0 L166.0,1826.0 L168.0,1826.0 L170.0,1826.0 L172.0,1826.0 L174.0,1826.0 L176.0,1826.0 L178.0,1826.0 L180.0,1826.0 L182.0,1826.0 L184.0,1826.0 L186.0,1826.0 L188.0,1826.0 L190.0,1826.0 L192.0,1826.0 L194.0,1826.0 L196.0,1826.0 L198.0,1826.0 L200.0,1826.0 L202.0,1826.0 L204.0,1826.0 L206.0,1826.0 L208.0,1826.0 L210.0,1826.0 L212.0,1826.0 L214.0,1826.0 L216.0,1826.0 L218.0,1826.0 L220.0,1826.0 L222.0,1826.0 L224.0,1826.0 L226.0,1826.0 L228.0,1826.0 L230.0,1826.0 L232.0,1826.0 L234.0,1826.0 L236.0,1826.0 L238.0,1826.0 L240.0,1826.0 L242.0,1826.0 L244.0,1826.0 L246.0,1826.0 L248.0,1826.0 L250.0,1826.0 L252.0,1826.0 L254.0,1826.0 L256.0,1826.0 L258.0,1826.0 L260.0,1826.0 L262.0,1826.0 L264.0,1826.0 L266.0,1826.0 L268.0,1826.0 L270.0,1826.0 L272.0,1826.0 L274.0,1826.0 L276.0,1826.0 L278.0,1826.0 L280.0,1826.0 L282.0,1826.0 L284.0,1826.0 L286.0,1826.0 L288.0,1826.0 L290.0,1826.0 L292.0,1826.0 L294.0,1826.0 L296.0,1826.0 L298.0,1826.0 L300.0,1826.0 L302.0,1826.0 L304.0,1826.0 L306.0,1826.0 L308.0,1826.0 L310.0,1826.0 L312.0,1826.0 L314.0,1826.0 L316.0,1826.0 L318.0,1826.0 L320.0,1826.0 L322.0,1826.0 L324.0,1826.0 L326.0,1826.0 L328.0,1826.0 L330.0,1826.0 L332.0,1826.0 L334.0,1826.0 L336.0,1826.0 L338.0,1826.0 L340.0,1826.0 L342.0,1826.0 L344.0,1826.0 L346.0,1826.0 L348.0,1826.0 L350.0,1826.0 L352.0,1826.0 L354.0,1826.0 L356.0,1826.0 L358.0,1826.0 L360.0,1826.0 L362.0,1826.0 L364.0,1826.0 L366.0,1826.0 L368.0,1826.0 L370.0,1826.0 L372.0,1826.0 L374.0,1826.0 L376.0,1826.0 L378.0,1826.0 L380.0,1826.0 L382.0,1826.0 L384.0,1826.0 L386.0,1826.0 L388.0,1826.0 L390.0,1826.0 L392.0,1826.0 L394.0,1826.0 L396.0,1826.0 L398.0,1826.0 L400.0,1826.0 L402.0,1826.0 L404.0,1826.0 L406.0,1826.0 L408.0,1826.0 L410.0,1826.0 L412.0,1826.0 L414.0,1826.0 L416.0,1825.9 L418.0,1825.9 L420.0,1825.9 L422.0,1825.9 L424.0,1825.9 L426.0,1825.9 L428.0,1825.9 L430.0,1825.9 L432.0,1825.9 L434.0,1825.9 L436.0,1825.9 L438.0,1825.9 L440.0,1825.9 L442.0,1825.9 L444.0,1825.9 L446.0,1825.9 L448.0,1825.9 L450.0,1825.9 L452.0,1825.9 L454.0,1825.9 L456.0,1825.9 L458.0,1825.9 L460.0,1825.9 L462.0,1825.9 L464.0,1825.9 L466.0,1825.9 L468.0,1825.9 L470.0,1825.9 L472.0,1825.9 L474.0,1825.9 L476.0,1825.9 L478.0,1825.9 L480.0,1825.9 L482.0,1825.9 L484.0,1825.9 L486.0,1825.9 L488.0,1825.9 L490.0,1825.9 L492.0,1825.9 L494.0,1825.9 L496.0,1825.9 L498.0,1825.9 L500.0,1825.9 L502.0,1825.9 L504.0,1825.9 L506.0,1825.9 L508.0,1825.9 L510.0,1825.9 L512.0,1825.9 L514.0,1825.9 L516.0,1825.9 L518.0,1825.9 L520.0,1825.9 L522.0,1825.9 L524.0,1825.9 L526.0,1825.9 L528.0,1825.9 L530.0,1825.9 L532.0,1825.9 L534.0,1825.9 L536.0,1825.9 L538.0,1825.9 L540.0,1825.9 L542.0,1825.9 L544.0,1825.9 L546.0,1825.9 L548.0,1825.9 L550.0,1825.9 L552.0,1825.9 L554.0,1825.9 L556.0,1825.9 L558.0,1825.9 L560.0,1825.9 L562.0,1825.9 L564.0,1825.9 L566.0,1825.9 L568.0,1825.9 L570.0,1825.9 L572.0,1825.9 L574.0,1825.9 L576.0,1825.9 L578.0,1825.9 L580.0,1825.9 L582.0,1825.9 L584.0,1825.9 L586.0,1825.9 L588.0,1825.9 L590.0,1825.9 L592.0,1825.9 L594.0,1825.9 L596.0,1825.9 L598.0,1825.9 L600.0,1825.9 L602.0,1825.9 L604.0,1825.9 L606.0,1825.9 L608.0,1825.9 L610.0,1825.9 L612.0,1825.9 L614.0,1825.9 L616.0,1825.9 L618.0,1825.9 L620.0,1825.9 L622.0,1825.9 L624.0,1825.9 L626.0,1825.9 L628.0,1825.9 L630.0,1825.9 L632.0,1825.9 L634.0,1825.9 L636.0,1825.9 L638.0,1825.9 L640.0,1825.9 L642.0,1825.9 L644.0,1825.9 L646.0,1825.9 L648.0,1825.9 L650.0,1825.9 L652.0,1825.9 L654.0,1825.9 L656.0,1825.9 L658.0,1825.9 L660.0,1825.9 L662.0,1825.9 L664.0,1825.9 L666.0,1825.9 L668.0,1825.9 L670.0,1825.9 L672.0,1825.9 L674.0,1825.9 L676.0,1825.9 L678.0,1825.9 L680.0,1825.9 L682.0,1825.9 L684.0,1825.9 L686.0,1825.9 L688.0,1825.9 L690.0,1825.9 L692.0,1825.9 L694.0,1825.9 L696.0,1825.9 L698.0,1825.9 L700.0,1825.9 L702.0,1825.9 L704.0,1825.9 L706.0,1825.9 L708.0,1825.9 L710.0,1825.9 L712.0,1825.9 L714.0,1825.9 L716.0,1825.9 L718.0,1825.9 L720.0,1825.9 L722.0,1825.9 L724.0,1825.9 L726.0,1825.9 L728.0,1825.9 L730.0,1825.9 L732.0,1825.9 L734.0,1825.9 L736.0,1825.9 L738.0,1825.9 L740.0,1825.9 L742.0,1825.9 L744.0,1825.9 L746.0,1825.9 L748.0,1825.9 L750.0,1825.9 L752.0,1825.9 L754.0,1825.9 L756.0,1825.9 L758.0,1825.9 L760.0,1825.9 L762.0,1825.9 L764.0,1825.9 L766.0,1825.9 L768.0,1825.9 L770.0,1825.9 L772.0,1825.9 L774.0,1825.9 L776.0,1825.9 L778.0,1825.9 L780.0,1825.9 L782.0,1825.9 L784.0,1825.9 L786.0,1825.9 L788.0,1825.9 L790.0,1825.9 L792.0,1825.9 L794.0,1825.9 L796.0,1825.9 L798.0,1825.9 L800.0,1825.9 L802.0,1825.9 L804.0,1825.9 L806.0,1825.9 L808.0,1825.9 L810.0,1825.9 L812.0,1825.9 L814.0,1825.9 L816.0,1825.9 L818.0,1825.9 L820.0,1825.9 L822.0,1825.9 L824.0,1825.8 L826.0,1825.8 L828.0,1825.8 L830.0,1825.8 L832.0,1825.8 L834.0,1825.8 L836.0,1825.8 L838.0,1825.8 L840.0,1825.8 L842.0,1825.8 L844.0,1825.8 L846.0,1825.8 L848.0,1825.8 L850.0,1825.8 L852.0,1825.8 L854.0,1825.8 L856.0,1825.8 L858.0,1825.8 L860.0,1825.8 L862.0,1825.8 L864.0,1825.8 L866.0,1825.8 L868.0,1825.8 L870.0,1825.8 L872.0,1825.8 L874.0,1825.8 L876.0,1825.8 L878.0,1825.8 L880.0,1825.8 L882.0,1825.8 L884.0,1825.8 L886.0,1825.8 L888.0,1825.8 L890.0,1825.8 L892.0,1825.8 L894.0,1825.8 L896.0,1825.8 L898.0,1825.8 L900.0,1825.8 L902.0,1825.8 L904.0,1825.8 L906.0,1825.8 L908.0,1825.8 L910.0,1825.8 L912.0,1825.8 L914.0,1825.8 L916.0,1825.8 L918.0,1825.8 L920.0,1825.8 L922.0,1825.8 L924.0,1825.8 L926.0,1825.8 L928.0,1825.8 L930.0,1825.8 L932.0,1825.8 L934.0,1825.8 L936.0,1825.8 L938.0,1825.8 L940.0,1825.8 L942.0,1825.8 L944.0,1825.8 L946.0,1825.8 L948.0,1825.8 L950.0,1825.8 L952.0,1825.8 L954.0,1825.8 L956.0,1825.8 L958.0,1825.8 L960.0,1825.8 L962.0,1825.8 L964.0,1825.8 L966.0,1825.8 L968.0,1825.8 L970.0,1825.8 L972.0,1825.8 L974.0,1825.8 L976.0,1825.8 L978.0,1825.8 L980.0,1825.8 L982.0,1825.8 L984.0,1825.8 L986.0,1825.8 L988.0,1825.8 L990.0,1825.8 L992.0,1825.8 L994.0,1825.8 L996.0,1825.8 L998.0,1825.8 L1000.0,1825.8 L1002.0,1825.8 L1004.0,1825.8 L1006.0,1825.8 L1008.0,1825.8 L1010.0,1825.8 L1012.0,1825.8 L1014.0,1825.8 L1016.0,1825.8 L1018.0,1825.8 L1020.0,1825.8 L1022.0,1825.8 L1024.0,1825.8 L1026.0,1825.8 L1028.0,1825.8 L1030.0,1825.8 L1032.0,1825.8 L1034.0,1825.8 L1036.0,1825.8 L1038.0,1825.8 L1040.0,1825.8 L1042.0,1825.8 L1044.0,1825.8 L1046.0,1825.8 L1048.0,1825.8 L1050.0,1825.8 L1052.0,1825.8 L1054.0,1825.8 L1056.0,1825.8 L1058.0,1825.8 L1060.0,1825.8 L1062.0,1825.8 L1064.0,1825.8 L1066.0,1825.8 L1068.0,1825.8 L1070.0,1825.8 L1072.0,1825.8 L1074.0,1825.8 L1076.0,1825.8 L1078.0,1825.8 L1080.0,1825.8 L1082.0,1825.8 L1084.0,1825.8 L1086.0,1825.8 L1088.0,1825.8 L1090.0,1825.8 L1092.0,1825.8 L1094.0,1825.8 L1096.0,1825.8 L1098.0,1825.8 L1100.0,1825.8 L1102.0,1825.8 L1104.0,1825.8 L1106.0,1825.8 L1108.0,1825.8 L1110.0,1825.8 L1112.0,1825.8 L1114.0,1825.8 L1116.0,1825.8 L1118.0,1825.8 L1120.0,1825.8 L1122.0,1825.8 L1124.0,1825.8 L1126.0,1825.8 L1128.0,1825.8 L1130.0,1825.8 L1132.0,1825.8 L1134.0,1825.8 L1136.0,1825.8 L1138.0,1825.8 L1140.0,1825.8 L1142.0,1825.8 L1144.0,1825.8 L1146.0,1825.8 L1148.0,1825.8 L1150.0,1825.8 L1152.0,1825.8 L1154.0,1825.8 L1156.0,1825.8 L1158.0,1825.8 L1160.0,1825.8 L1162.0,1825.7 L1164.0,1825.7 L1166.0,1825.7 L1168.0,1825.7 L1170.0,1825.7 L1172.0,1825.7 L1174.0,1825.7 L1176.0,1825.7 L1178.0,1825.7 L1180.0,1825.7 L1182.0,1825.7 L1184.0,1825.7 L1186.0,1825.7 L1188.0,1825.7 L1190.0,1825.7 L1192.0,1825.7 L1194.0,1825.7 L1196.0,1825.7 L1198.0,1825.7 L1200.0,1825.7 L1202.0,1825.7 L1204.0,1825.7 L1206.0,1825.7 L1208.0,1825.7 L1210.0,1825.7 L1212.0,1825.7 L1214.0,1825.7 L1216.0,1825.7 L1218.0,1825.7 L1220.0,1825.7 L1222.0,1825.7 L1224.0,1825.7 L1226.0,1825.7 L1228.0,1825.7 L1230.0,1825.7 L1232.0,1825.7 L1234.0,1825.7 L1236.0,1825.7 L1238.0,1825.7 L1240.0,1825.7 L1242.0,1825.7 L1244.0,1825.7 L1246.0,1825.7 L1248.0,1825.7 L1250.0,1825.7 L1252.0,1825.7 L1254.0,1825.7 L1256.0,1825.7 L1258.0,1825.7 L1260.0,1825.7 L1262.0,1825.7 L1264.0,1825.7 L1266.0,1825.7 L1268.0,1825.7 L1270.0,1825.7 L1272.0,1825.7 L1274.0,1825.7 L1276.0,1825.7 L1278.0,1825.7 L1280.0,1825.7 L1282.0,1825.7 L1284.0,1825.7 L1286.0,1825.7 L1288.0,1825.7 L1290.0,1825.7 L1292.0,1825.7 L1294.0,1825.7 L1296.0,1825.7 L1298.0,1825.7 L1300.0,1825.7 L1302.0,1825.7 L1304.0,1825.7 L1306.0,1825.7 L1308.0,1825.7 L1310.0,1825.7 L1312.0,1825.7 L1314.0,1825.7 L1316.0,1825.7 L1318.0,1825.7 L1320.0,1825.7 L1322.0,1825.7 L1324.0,1825.7 L1326.0,1825.7 L1328.0,1825.7 L1330.0,1825.7 L1332.0,1825.7 L1334.0,1825.7 L1336.0,1825.7 L1338.0,1825.7 L1340.0,1825.7 L1342.0,1825.7 L1344.0,1825.7 L1346.0,1825.7 L1348.0,1825.7 L1350.0,1825.7 L1352.0,1825.7 L1354.0,1825.7 L1356.0,1825.7 L1358.0,1825.7 L1360.0,1825.7 L1362.0,1825.7 L1364.0,1825.7 L1366.0,1825.7 L1368.0,1825.7 L1370.0,1825.7 L1372.0,1825.7 L1374.0,1825.7 L1376.0,1825.7 L1378.0,1825.7 L1380.0,1825.7 L1382.0,1825.7 L1384.0,1825.7 L1386.0,1825.7 L1388.0,1825.7 L1390.0,1825.7 L1392.0,1825.7 L1394.0,1825.7 L1396.0,1825.7 L1398.0,1825.7 L1400.0,1825.7 L1402.0,1825.7 L1404.0,1825.7 L1406.0,1825.7 L1408.0,1825.7 L1410.0,1825.7 L1412.0,1825.7 L1414.0,1825.7 L1416.0,1825.7 L1418.0,1825.7 L1420.0,1825.7 L1422.0,1825.7 L1424.0,1825.7 L1426.0,1825.7 L1428.0,1825.7 L1430.0,1825.7 L1432.0,1825.7 L1434.0,1825.7 L1436.0,1825.7 L1438.0,1825.7 L1440.0,1825.6 L1442.0,1825.6 L1444.0,1825.6 L1446.0,1825.6 L1448.0,1825.6 L1450.0,1825.6 L1452.0,1825.6 L1454.0,1825.6 L1456.0,1825.6 L1458.0,1825.6 L1460.0,1825.6 L1462.0,1825.6 L1464.0,1825.6 L1466.0,1825.6 L1468.0,1825.6 L1470.0,1825.6 L1472.0,1825.6 L1474.0,1825.6 L1476.0,1825.6 L1478.0,1825.6 L1480.0,1825.6 L1482.0,1825.6 L1484.0,1825.6 L1486.0,1825.6 L1488.0,1825.6 L1490.0,1825.6 L1492.0,1825.6 L1494.0,1825.6 L1496.0,1825.6 L1498.0,1825.6 L1500.0,1825.6 L1502.0,1825.6 L1504.0,1825.6 L1506.0,1825.6 L1508.0,1825.6 L1510.0,1825.6 L1512.0,1825.6 L1514.0,1825.6 L1516.0,1825.6 L1518.0,1825.6 L1520.0,1825.6 L1522.0,1825.6 L1524.0,1825.6 L1526.0,1825.6 L1528.0,1825.6 L1530.0,1825.6 L1532.0,1825.6 L1534.0,1825.6 L1536.0,1825.6 L1538.0,1825.6 L1540.0,1825.6 L1542.0,1825.6 L1544.0,1825.6 L1546.0,1825.6 L1548.0,1825.6 L1550.0,1825.6 L1552.0,1825.6 L1554.0,1825.6 L1556.0,1825.6 L1558.0,1825.6 L1560.0,1825.6 L1562.0,1825.6 L1564.0,1825.6 L1566.0,1825.6 L1568.0,1825.6 L1570.0,1825.6 L1572.0,1825.6 L1574.0,1825.6 L1576.0,1825.6 L1578.0,1825.6 L1580.0,1825.6 L1582.0,1825.6 L1584.0,1825.6 L1586.0,1825.6 L1588.0,1825.6 L1590.0,1825.6 L1592.0,1825.6 L1594.0,1825.6 L1596.0,1825.6 L1598.0,1825.6 L1600.0,1825.6 L1602.0,1825.6 L1604.0,1825.6 L1606.0,1825.6 L1608.0,1825.6 L1610.0,1825.6 L1612.0,1825.6 L1614.0,1825.6 L1616.0,1825.6 L1618.0,1825.6 L1620.0,1825.6 L1622.0,1825.6 L1624.0,1825.6 L1626.0,1825.6 L1628.0,1825.6 L1630.0,1825.6 L1632.0,1825.6 L1634.0,1825.6 L1636.0,1825.6 L1638.0,1825.6 L1640.0,1825.6 L1642.0,1825.6 L1644.0,1825.6 L1646.0,1825.6 L1648.0,1825.6 L1650.0,1825.6 L1652.0,1825.6 L1654.0,1825.6 L1656.0,1825.6 L1658.0,1825.6 L1660.0,1825.6 L1662.0,1825.6 L1664.0,1825.6 L1666.0,1825.6 L1668.0,1825.6 L1670.0,1825.6 L1672.0,1825.6 L1674.0,1825.6 L1676.0,1825.6 L1678.0,1825.6 L1680.0,1825.6 L1682.0,1825.6 L1684.0,1825.5 L1686.0,1825.5 L1688.0,1825.5 L1690.0,1825.5 L1692.0,1825.5 L1694.0,1825.5 L1696.0,1825.5 L1698.0,1825.5 L1700.0,1825.5 L1702.0,1825.5 L1704.0,1825.5 L1706.0,1825.5 L1708.0,1825.5 L1710.0,1825.5 L1712.0,1825.5 L1714.0,1825.5 L1716.0,1825.5 L1718.0,1825.5 L1720.0,1825.5 L1722.0,1825.5 L1724.0,1825.5 L1726.0,1825.5 L1728.0,1825.5 L1730.0,1825.5 L1732.0,1825.5 L1734.0,1825.5 L1736.0,1825.5 L1738.0,1825.5 L1740.0,1825.5 L1742.0,1825.5 L1744.0,1825.5 L1746.0,1825.5 L1748.0,1825.5 L1750.0,1825.5 L1752.0,1825.5 L1754.0,1825.5 L1756.0,1825.5 L1758.0,1825.5 L1760.0,1825.5 L1762.0,1825.5 L1764.0,1825.5 L1766.0,1825.5 L1768.0,1825.5 L1770.0,1825.5 L1772.0,1825.5 L1774.0,1825.5 L1776.0,1825.5 L1778.0,1825.5 L1780.0,1825.5 L1782.0,1825.5 L1784.0,1825.5 L1786.0,1825.5 L1788.0,1825.5 L1790.0,1825.5 L1792.0,1825.5 L1794.0,1825.5 L1796.0,1825.5 L1798.0,1825.5 L1800.0,1825.5 L1802.0,1825.5 L1804.0,1825.5 L1806.0,1825.5 L1808.0,1825.5 L1810.0,1825.5 L1812.0,1825.5 L1814.0,1825.5 L1816.0,1825.5 L1818.0,1825.5 L1820.0,1825.5 L1822.0,1825.5 L1824.0,1825.5 L1826.0,1825.5 L1828.0,1825.5 L1830.0,1825.5 L1832.0,1825.5 L1834.0,1825.5 L1836.0,1825.5 L1838.0,1825.5 L1840.0,1825.5 L1842.0,1825.5 L1844.0,1825.5 L1846.0,1825.5 L1848.0,1825.5 L1850.0,1825.5 L1852.0,1825.5 L1854.0,1825.5 L1856.0,1825.5 L1858.0,1825.5 L1860.0,1825.5 L1862.0,1825.5 L1864.0,1825.5 L1866.0,1825.5 L1868.0,1825.5 L1870.0,1825.5 L1872.0,1825.5 L1874.0,1825.5 L1876.0,1825.5 L1878.0,1825.5 L1880.0,1825.5 L1882.0,1825.5 L1884.0,1825.5 L1886.0,1825.5 L1888.0,1825.5 L1890.0,1825.5 L1892.0,1825.5 L1894.0,1825.5 L1896.0,1825.5 L1898.0,1825.5 L1900.0,1825.5 L1902.0,1825.5 L1904.0,1825.5 L1906.0,1825.4 L1908.0,1825.4 L1910.0,1825.4 L1912.0,1825.4 L1914.0,1825.4 L1916.0,1825.4 L1918.0,1825.4 L1920.0,1825.4 L1922.0,1825.4 L1924.0,1825.4 L1926.0,1825.4 L1928.0,1825.4 L1930.0,1825.4 L1932.0,1825.4 L1934.0,1825.4 L1936.0,1825.4 L1938.0,1825.4 L1940.0,1825.4 L1942.0,1825.4 L1944.0,1825.4 L1946.0,1825.4 L1948.0,1825.4 L1950.0,1825.4 L1952.0,1825.4 L1954.0,1825.4 L1956.0,1825.4 L1958.0,1825.4 L1960.0,1825.4 L1962.0,1825.4 L1964.0,1825.4 L1966.0,1825.4 L1968.0,1825.4 L1970.0,1825.4 L1972.0,1825.4 L1974.0,1825.4 L1976.0,1825.4 L1978.0,1825.4 L1980.0,1825.4 L1982.0,1825.4 L1984.0,1825.4 L1986.0,1825.4 L1988.0,1825.4 L1990.0,1825.4 L1992.0,1825.4 L1994.0,1825.4 L1996.0,1825.4 L1998.0,1825.4 L2000.0,1825.4 L2002.0,1825.4 L2004.0,1825.4 L2006.0,1825.4 L2008.0,1825.4" stroke="#ff00ff" stroke-width="7" fill="none" stroke-dasharray="28.6 30.65" stroke-dashoffset="58.05" stroke-linecap="round"/>
<path d="M150.0,377.5 L152.0,377.4 L154.0,377.4 L156.0,377.3 L158.0,377.3 L160.0,377.3 L162.0,377.2 L164.0,377.2 L166.0,377.1 L168.0,377.1 L170.0,377.0 L172.0,377.0 L174.0,377.0 L176.0,376.9 L178.0,376.9 L180.0,376.8 L182.0,376.8 L184.0,376.7 L186.0,376.6 L188.0,376.6 L190.0,376.5 L192.0,376.5 L194.0,376.4 L196.0,376.4 L198.0,376.3 L200.0,376.2 L202.0,376.2 L204.0,376.1 L206.0,376.0 L208.0,376.0 L210.0,375.9 L212.0,375.8 L214.0,375.8 L216.0,375.7 L218.0,375.6 L220.0,375.6 L222.0,375.5 L224.0,375.4 L226.0,375.3 L228.0,375.3 L230.0,375.2 L232.0,375.1 L234.0,375.0 L236.0,374.9 L238.0,374.8 L240.0,374.7 L242.0,374.7 L244.0,374.6 L246.0,374.5 L248.0,374.4 L250.0,374.3 L252.0,374.2 L254.0,374.1 L256.0,374.0 L258.0,373.9 L260.0,373.8 L262.0,373.7 L264.0,373.6 L266.0,373.5 L268.0,373.4 L270.0,373.3 L272.0,373.1 L274.0,373.0 L276.0,372.9 L278.0,372.8 L280.0,372.7 L282.0,372.6 L284.0,372.4 L286.0,372.3 L288.0,372.2 L290.0,372.1 L292.0,372.0 L294.0,371.8 L296.0,371.7 L298.0,371.6 L300.0,371.4 L302.0,371.3 L304.0,371.2 L306.0,371.0 L308.0,370.9 L310.0,370.7 L312.0,370.6 L314.0,370.4 L316.0,370.3 L318.0,370.2 L320.0,370.0 L322.0,369.9 L324.0,369.7 L326.0,369.5 L328.0,369.4 L330.0,369.2 L332.0,369.1 L334.0,368.9 L336.0,368.7 L338.0,368.6 L340.0,368.4 L342.0,368.2 L344.0,368.1 L346.0,367.9 L348.0,367.7 L350.0,367.6 L352.0,367.4 L354.0,367.2 L356.0,367.0 L358.0,366.8 L360.0,366.7 L362.0,366.5 L364.0,366.3 L366.0,366.1 L368.0,365.9 L370.0,365.7 L372.0,365.5 L374.0,365.4 L376.0,365.2 L378.0,365.0 L380.0,364.8 L382.0,364.6 L384.0,364.4 L386.0,364.2 L388.0,364.0 L390.0,363.8 L392.0,363.6 L394.0,363.4 L396.0,363.1 L398.0,362.9 L400.0,362.7 L402.0,362.5 L404.0,362.3 L406.0,362.1 L408.0,361.9 L410.0,361.7 L412.0,361.5 L414.0,361.2 L416.0,361.0 L418.0,360.8 L420.0,360.6 L422.0,360.4 L424.0,360.1 L426.0,359.9 L428.0,359.7 L430.0,359.5 L432.0,359.2 L434.0,359.0 L436.0,358.8 L438.0,358.6 L440.0,358.3 L442.0,358.1 L444.0,357.9 L446.0,357.7 L448.0,357.4 L450.0,357.2 L452.0,357.0 L454.0,356.7 L456.0,356.5 L458.0,356.3 L460.0,356.1 L462.0,355.8 L464.0,355.6 L466.0,355.4 L468.0,355.1 L470.0,354.9 L472.0,354.7 L474.0,354.4 L476.0,354.2 L478.0,354.0 L480.0,353.8 L482.0,353.5 L484.0,353.3 L486.0,353.1 L488.0,352.8 L490.0,352.6 L492.0,352.4 L494.0,352.2 L496.0,351.9 L498.0,351.7 L500.0,351.5 L502.0,351.3 L504.0,351.1 L506.0,350.8 L508.0,350.6 L510.0,350.4 L512.0,350.2 L514.0,350.0 L516.0,349.7 L518.0,349.5 L520.0,349.3 L522.0,349.1 L524.0,348.9 L526.0,348.7 L528.0,348.5 L530.0,348.3 L532.0,348.1 L534.0,347.9 L536.0,347.7 L538.0,347.5 L540.0,347.3 L542.0,347.1 L544.0,346.9 L546.0,346.7 L548.0,346.5 L550.0,346.3 L552.0,346.1 L554.0,346.0 L556.0,345.8 L558.0,345.6 L560.0,345.4 L562.0,345.3 L564.0,345.1 L566.0,344.9 L568.0,344.8 L570.0,344.6 L572.0,344.4 L574.0,344.3 L576.0,344.1 L578.0,344.0 L580.0,343.8 L582.0,343.7 L584.0,343.6 L586.0,343.4 L588.0,343.3 L590.0,343.2 L592.0,343.0 L594.0,342.9 L596.0,342.8 L598.0,342.7 L600.0,342.5 L602.0,342.4 L604.0,342.3 L606.0,342.2 L608.0,342.1 L610.0,342.0 L612.0,341.9 L614.0,341.8 L616.0,341.7 L618.0,341.7 L620.0,341.6 L622.0,341.5 L624.0,341.4 L626.0,341.4 L628.0,341.3 L630.0,341.2 L632.0,341.2 L634.0,341.1 L636.0,341.1 L638.0,341.0 L640.0,341.0 L642.0,341.0 L644.0,340.9 L646.0,340.9 L648.0,340.9 L650.0,340.8 L652.0,340.8 L654.0,340.8 L656.0,340.8 L658.0,340.8 L660.0,340.8 L662.0,340.8 L664.0,340.8 L666.0,340.8 L668.0,340.8 L670.0,340.9 L672.0,340.9 L674.0,340.9 L676.0,340.9 L678.0,341.0 L680.0,341.0 L682.0,341.1 L684.0,341.1 L686.0,341.2 L688.0,341.2 L690.0,341.3 L692.0,341.3 L694.0,341.4 L696.0,341.5 L698.0,341.6 L700.0,341.6 L702.0,341.7 L704.0,341.8 L706.0,341.9 L708.0,342.0 L710.0,342.1 L712.0,342.2 L714.0,342.3 L716.0,342.4 L718.0,342.5 L720.0,342.6 L722.0,342.8 L724.0,342.9 L726.0,343.0 L728.0,343.2 L730.0,343.3 L732.0,343.4 L734.0,343.6 L736.0,343.7 L738.0,343.9 L740.0,344.0 L742.0,344.2 L744.0,344.3 L746.0,344.5 L748.0,344.7 L750.0,344.8 L752.0,345.0 L754.0,345.2 L756.0,345.4 L758.0,345.6 L760.0,345.7 L762.0,345.9 L764.0,346.1 L766.0,346.3 L768.0,346.5 L770.0,346.7 L772.0,346.9 L774.0,347.1 L776.0,347.3 L778.0,347.5 L780.0,347.7 L782.0,348.0 L784.0,348.2 L786.0,348.4 L788.0,348.6 L790.0,348.8 L792.0,349.1 L794.0,349.3 L796.0,349.5 L798.0,349.7 L800.0,350.0 L802.0,350.2 L804.0,350.4 L806.0,350.7 L808.0,350.9 L810.0,351.1 L812.0,351.4 L814.0,351.6 L816.0,351.8 L818.0,352.1 L820.0,352.3 L822.0,352.6 L824.0,352.8 L826.0,353.1 L828.0,353.3 L830.0,353.6 L832.0,353.8 L834.0,354.0 L836.0,354.3 L838.0,354.5 L840.0,354.8 L842.0,355.0 L844.0,355.3 L846.0,355.5 L848.0,355.8 L850.0,356.0 L852.0,356.3 L854.0,356.5 L856.0,356.8 L858.0,357.0 L860.0,357.2 L862.0,357.5 L864.0,357.7 L866.0,358.0 L868.0,358.2 L870.0,358.5 L872.0,358.7 L874.0,358.9 L876.0,359.2 L878.0,359.4 L880.0,359.6 L882.0,359.9 L884.0,360.1 L886.0,360.3 L888.0,360.6 L890.0,360.8 L892.0,361.0 L894.0,361.2 L896.0,361.5 L898.0,361.7 L900.0,361.9 L902.0,362.1 L904.0,362.3 L906.0,362.5 L908.0,362.8 L910.0,363.0 L912.0,363.2 L914.0,363.4 L916.0,363.6 L918.0,363.8 L920.0,364.0 L922.0,364.2 L924.0,364.3 L926.0,364.5 L928.0,364.7 L930.0,364.9 L932.0,365.1 L934.0,365.2 L936.0,365.4 L938.0,365.6 L940.0,365.7 L942.0,365.9 L944.0,366.1 L946.0,366.2 L948.0,366.4 L950.0,366.5 L952.0,366.7 L954.0,366.8 L956.0,366.9 L958.0,367.1 L960.0,367.2 L962.0,367.3 L964.0,367.5 L966.0,367.6 L968.0,367.7 L970.0,367.8 L972.0,367.9 L974.0,368.0 L976.0,368.1 L978.0,368.2 L980.0,368.3 L982.0,368.4 L984.0,368.5 L986.0,368.5 L988.0,368.6 L990.0,368.7 L992.0,368.7 L994.0,368.8 L996.0,368.9 L998.0,368.9 L1000.0,369.0 L1002.0,369.0 L1004.0,369.0 L1006.0,369.1 L1008.0,369.1 L1010.0,369.1 L1012.0,369.1 L1014.0,369.1 L1016.0,369.2 L1018.0,369.2 L1020.0,369.2 L1022.0,369.2 L1024.0,369.1 L1026.0,369.1 L1028.0,369.1 L1030.0,369.1 L1032.0,369.1 L1034.0,369.0 L1036.0,369.0 L1038.0,368.9 L1040.0,368.9 L1042.0,368.8 L1044.0,368.8 L1046.0,368.7 L1048.0,368.7 L1050.0,368.6 L1052.0,368.5 L1054.0,368.4 L1056.0,368.4 L1058.0,368.3 L1060.0,368.2 L1062.0,368.1 L1064.0,368.0 L1066.0,367.9 L1068.0,367.8 L1070.0,367.6 L1072.0,367.5 L1074.0,367.4 L1076.0,367.3 L1078.0,367.1 L1080.0,367.0 L1082.0,366.9 L1084.0,366.7 L1086.0,366.6 L1088.0,366.4 L1090.0,366.3 L1092.0,366.1 L1094.0,366.0 L1096.0,365.8 L1098.0,365.6 L1100.0,365.5 L1102.0,365.3 L1104.0,365.1 L1106.0,364.9 L1108.0,364.7 L1110.0,364.6 L1112.0,364.4 L1114.0,364.2 L1116.0,364.0 L1118.0,363.8 L1120.0,363.6 L1122.0,363.4 L1124.0,363.2 L1126.0,362.9 L1128.0,362.7 L1130.0,362.5 L1132.0,362.3 L1134.0,362.1 L1136.0,361.9 L1138.0,361.6 L1140.0,361.4 L1142.0,361.2 L1144.0,360.9 L1146.0,360.7 L1148.0,360.5 L1150.0,360.2 L1152.0,360.0 L1154.0,359.8 L1156.0,359.5 L1158.0,359.3 L1160.0,359.0 L1162.0,358.8 L1164.0,358.5 L1166.0,358.3 L1168.0,358.0 L1170.0,357.8 L1172.0,357.5 L1174.0,357.2 L1176.0,357.0 L1178.0,356.7 L1180.0,356.5 L1182.0,356.2 L1184.0,355.9 L1186.0,355.7 L1188.0,355.4 L1190.0,355.1 L1192.0,354.9 L1194.0,354.6 L1196.0,354.3 L1198.0,354.1 L1200.0,353.8 L1202.0,353.5 L1204.0,353.2 L1206.0,353.0 L1208.0,352.7 L1210.0,352.4 L1212.0,352.1 L1214.0,351.8 L1216.0,351.5 L1218.0,351.3 L1220.0,351.0 L1222.0,350.7 L1224.0,350.4 L1226.0,350.1 L1228.0,349.8 L1230.0,349.5 L1232.0,349.2 L1234.0,348.9 L1236.0,348.6 L1238.0,348.3 L1240.0,348.0 L1242.0,347.7 L1244.0,347.4 L1246.0,347.1 L1248.0,346.8 L1250.0,346.4 L1252.0,346.1 L1254.0,345.8 L1256.0,345.6 L1258.0,345.3 L1260.0,345.1 L1262.0,344.8 L1264.0,344.6 L1266.0,344.4 L1268.0,344.2 L1270.0,343.9 L1272.0,343.7 L1274.0,343.5 L1276.0,343.2 L1278.0,342.9 L1280.0,342.7 L1282.0,342.4 L1284.0,342.1 L1286.0,341.7 L1288.0,341.3 L1290.0,340.9 L1292.0,340.5 L1294.0,340.1 L1296.0,339.7 L1298.0,339.3 L1300.0,338.8 L1302.0,338.4 L1304.0,337.9 L1306.0,337.4 L1308.0,336.9 L1310.0,336.4 L1312.0,335.9 L1314.0,335.3 L1316.0,334.8 L1318.0,334.2 L1320.0,333.6 L1322.0,333.1 L1324.0,332.5 L1326.0,331.9 L1328.0,331.2 L1330.0,330.6 L1332.0,329.9 L1334.0,329.3 L1336.0,328.6 L1338.0,327.9 L1340.0,327.2 L1342.0,326.5 L1344.0,325.7 L1346.0,325.0 L1348.0,324.2 L1350.0,323.5 L1352.0,322.7 L1354.0,321.8 L1356.0,321.0 L1358.0,320.2 L1360.0,319.3 L1362.0,318.4 L1364.0,317.5 L1366.0,316.6 L1368.0,315.7 L1370.0,314.7 L1372.0,313.7 L1374.0,312.7 L1376.0,311.7 L1378.0,310.7 L1380.0,309.6 L1382.0,308.5 L1384.0,307.5 L1386.0,306.3 L1388.0,305.2 L1390.0,304.0 L1392.0,302.9 L1394.0,301.7 L1396.0,300.5 L1398.0,299.2 L1400.0,298.0 L1402.0,296.7 L1404.0,295.4 L1406.0,294.1 L1408.0,292.8 L1410.0,291.4 L1412.0,290.0 L1414.0,288.6 L1416.0,287.2 L1418.0,285.8 L1420.0,284.3 L1422.0,282.9 L1424.0,281.4 L1426.0,279.9 L1428.0,278.4 L1430.0,276.8 L1432.0,275.3 L1434.0,273.7 L1436.0,272.1 L1438.0,270.5 L1440.0,268.9 L1442.0,267.3 L1444.0,265.6 L1446.0,264.0 L1448.0,262.3 L1450.0,260.6 L1452.0,259.0 L1454.0,257.3 L1456.0,255.6 L1458.0,253.9 L1460.0,252.2 L1462.0,250.4 L1464.0,248.7 L1466.0,247.0 L1468.0,245.3 L1470.0,243.6 L1472.0,241.9 L1474.0,240.2 L1476.0,238.5 L1478.0,236.8 L1480.0,235.1 L1482.0,233.4 L1484.0,231.7 L1486.0,230.1 L1488.0,228.4 L1490.0,226.8 L1492.0,225.2 L1494.0,223.5 L1496.0,222.0 L1498.0,220.4 L1500.0,218.8 L1502.0,217.3 L1504.0,215.8 L1506.0,214.3 L1508.0,212.8 L1510.0,211.3 L1512.0,209.9 L1514.0,208.5 L1516.0,207.1 L1518.0,205.8 L1520.0,204.5 L1522.0,203.2 L1524.0,202.0 L1526.0,200.7 L1528.0,199.6 L1530.0,198.4 L1532.0,197.3 L1534.0,196.3 L1536.0,195.3 L1538.0,194.3 L1540.0,193.4 L1542.0,192.5 L1544.0,191.7 L1546.0,190.9 L1548.0,190.2 L1550.0,189.6 L1552.0,188.9 L1554.0,188.4 L1556.0,187.9 L1558.0,187.4 L1560.0,187.0 L1562.0,186.7 L1564.0,186.4 L1566.0,186.1 L1568.0,186.0 L1570.0,185.8 L1572.0,185.8 L1574.0,185.8 L1576.0,185.8 L1578.0,185.9 L1580.0,186.1 L1582.0,186.3 L1584.0,186.6 L1586.0,186.9 L1588.0,187.3 L1590.0,187.8 L1592.0,188.3 L1594.0,188.9 L1596.0,189.5 L1598.0,190.2 L1600.0,190.9 L1602.0,191.8 L1604.0,192.6 L1606.0,193.5 L1608.0,194.5 L1610.0,195.6 L1612.0,196.7 L1614.0,197.8 L1616.0,199.0 L1618.0,200.2 L1620.0,201.5 L1622.0,202.9 L1624.0,204.3 L1626.0,205.8 L1628.0,207.3 L1630.0,208.8 L1632.0,210.4 L1634.0,212.0 L1636.0,213.7 L1638.0,215.4 L1640.0,217.2 L1642.0,219.0 L1644.0,220.8 L1646.0,222.7 L1648.0,224.6 L1650.0,226.5 L1652.0,228.5 L1654.0,230.5 L1656.0,232.6 L1658.0,234.6 L1660.0,236.7 L1662.0,238.8 L1664.0,240.9 L1666.0,243.1 L1668.0,245.3 L1670.0,247.4 L1672.0,249.6 L1674.0,251.9 L1676.0,254.1 L1678.0,256.3 L1680.0,258.6 L1682.0,260.8 L1684.0,263.1 L1686.0,265.4 L1688.0,267.7 L1690.0,269.9 L1692.0,272.2 L1694.0,274.5 L1696.0,276.8 L1698.0,279.0 L1700.0,281.3 L1702.0,283.6 L1704.0,285.8 L1706.0,288.1 L1708.0,290.3 L1710.0,292.6 L1712.0,294.8 L1714.0,297.0 L1716.0,299.2 L1718.0,301.4 L1720.0,303.6 L1722.0,305.7 L1724.0,307.9 L1726.0,310.0 L1728.0,312.1 L1730.0,314.2 L1732.0,316.3 L1734.0,318.4 L1736.0,320.4 L1738.0,322.5 L1740.0,324.5 L1742.0,326.5 L1744.0,328.4 L1746.0,330.4 L1748.0,332.3 L1750.0,334.2 L1752.0,336.0 L1754.0,337.9 L1756.0,339.7 L1758.0,341.5 L1760.0,343.3 L1762.0,345.1 L1764.0,346.8 L1766.0,348.5 L1768.0,350.2 L1770.0,351.8 L1772.0,353.4 L1774.0,355.0 L1776.0,356.6 L1778.0,358.2 L1780.0,359.7 L1782.0,361.2 L1784.0,362.7 L1786.0,364.1 L1788.0,365.5 L1790.0,366.9 L1792.0,368.3 L1794.0,369.7 L1796.0,371.0 L1798.0,372.3 L1800.0,373.6 L1802.0,374.8 L1804.0,376.1 L1806.0,377.3 L1808.0,378.4 L1810.0,379.6 L1812.0,380.7 L1814.0,381.9 L1816.0,382.9 L1818.0,384.0 L1820.0,385.1 L1822.0,386.1 L1824.0,387.1 L1826.0,388.1 L1828.0,389.0 L1830.0,390.0 L1832.0,390.9 L1834.0,391.8 L1836.0,392.7 L1838.0,393.6 L1840.0,394.4 L1842.0,395.2 L1844.0,396.0 L1846.0,396.8 L1848.0,397.6 L1850.0,398.3 L1852.0,399.1 L1854.0,399.8 L1856.0,400.5 L1858.0,401.2 L1860.0,401.8 L1862.0,402.5 L1864.0,403.1 L1866.0,403.7 L1868.0,404.3 L1870.0,404.9 L1872.0,405.4 L1874.0,406.0 L1876.0,406.5 L1878.0,407.1 L1880.0,407.6 L1882.0,408.1 L1884.0,408.5 L1886.0,409.0 L1888.0,409.5 L1890.0,409.9 L1892.0,410.3 L1894.0,410.7 L1896.0,411.1 L1898.0,411.5 L1900.0,411.9 L1902.0,412.3 L1904.0,412.6 L1906.0,413.0 L1908.0,413.3 L1910.0,413.7 L1912.0,414.0 L1914.0,414.3 L1916.0,414.6 L1918.0,414.9 L1920.0,415.2 L1922.0,415.4 L1924.0,415.7 L1926.0,416.0 L1928.0,416.2 L1930.0,416.5 L1932.0,416.7 L1934.0,416.9 L1936.0,417.1 L1938.0,417.4 L1940.0,417.6 L1942.0,417.8 L1944.0,418.0 L1946.0,418.2 L1948.0,418.3 L1950.0,418.5 L1952.0,418.7 L1954.0,418.8 L1956.0,419.0 L1958.0,419.2 L1960.0,419.3 L1962.0,419.5 L1964.0,419.6 L1966.0,419.7 L1968.0,419.9 L1970.0,420.0 L1972.0,420.1 L1974.0,420.2 L1976.0,420.3 L1978.0,420.5 L1980.0,420.6 L1982.0,420.7 L1984.0,420.8 L1986.0,420.9 L1988.0,420.9 L1990.0,421.0 L1992.0,421.1 L1994.0,421.2 L1996.0,421.3 L1998.0,421.4 L2000.0,421.4 L2002.0,421.5 L2004.0,421.6 L2006.0,421.6 L2008.0,421.7" stroke="#000" stroke-width="6.5" fill="none" stroke-linejoin="round"/><path d="M150.0,873.8 L152.0,873.8 L154.0,873.7 L156.0,873.6 L158.0,873.5 L160.0,873.4 L162.0,873.3 L164.0,873.2 L166.0,873.1 L168.0,873.0 L170.0,872.9 L172.0,872.8 L174.0,872.7 L176.0,872.6 L178.0,872.5 L180.0,872.4 L182.0,872.3 L184.0,872.2 L186.0,872.0 L188.0,871.9 L190.0,871.8 L192.0,871.7 L194.0,871.6 L196.0,871.5 L198.0,871.3 L200.0,871.2 L202.0,871.1 L204.0,871.0 L206.0,870.8 L208.0,870.7 L210.0,870.6 L212.0,870.4 L214.0,870.3 L216.0,870.1 L218.0,870.0 L220.0,869.9 L222.0,869.7 L224.0,869.6 L226.0,869.4 L228.0,869.3 L230.0,869.1 L232.0,869.0 L234.0,868.8 L236.0,868.7 L238.0,868.5 L240.0,868.4 L242.0,868.2 L244.0,868.0 L246.0,867.9 L248.0,867.7 L250.0,867.5 L252.0,867.4 L254.0,867.2 L256.0,867.0 L258.0,866.8 L260.0,866.7 L262.0,866.5 L264.0,866.3 L266.0,866.1 L268.0,865.9 L270.0,865.8 L272.0,865.6 L274.0,865.4 L276.0,865.2 L278.0,865.0 L280.0,864.8 L282.0,864.6 L284.0,864.4 L286.0,864.2 L288.0,864.0 L290.0,863.8 L292.0,863.6 L294.0,863.4 L296.0,863.2 L298.0,863.0 L300.0,862.8 L302.0,862.6 L304.0,862.4 L306.0,862.2 L308.0,862.0 L310.0,861.8 L312.0,861.6 L314.0,861.4 L316.0,861.1 L318.0,860.9 L320.0,860.7 L322.0,860.5 L324.0,860.3 L326.0,860.1 L328.0,859.8 L330.0,859.6 L332.0,859.4 L334.0,859.2 L336.0,859.0 L338.0,858.7 L340.0,858.5 L342.0,858.3 L344.0,858.1 L346.0,857.8 L348.0,857.6 L350.0,857.4 L352.0,857.2 L354.0,856.9 L356.0,856.7 L358.0,856.5 L360.0,856.2 L362.0,856.0 L364.0,855.8 L366.0,855.6 L368.0,855.3 L370.0,855.1 L372.0,854.9 L374.0,854.6 L376.0,854.4 L378.0,854.2 L380.0,854.0 L382.0,853.7 L384.0,853.5 L386.0,853.3 L388.0,853.1 L390.0,852.8 L392.0,852.6 L394.0,852.4 L396.0,852.2 L398.0,851.9 L400.0,851.7 L402.0,851.5 L404.0,851.3 L406.0,851.0 L408.0,850.8 L410.0,850.6 L412.0,850.4 L414.0,850.2 L416.0,850.0 L418.0,849.8 L420.0,849.5 L422.0,849.3 L424.0,849.1 L426.0,848.9 L428.0,848.7 L430.0,848.5 L432.0,848.3 L434.0,848.1 L436.0,847.9 L438.0,847.7 L440.0,847.5 L442.0,847.3 L444.0,847.1 L446.0,846.9 L448.0,846.8 L450.0,846.6 L452.0,846.4 L454.0,846.2 L456.0,846.0 L458.0,845.9 L460.0,845.7 L462.0,845.5 L464.0,845.3 L466.0,845.2 L468.0,845.0 L470.0,844.8 L472.0,844.7 L474.0,844.5 L476.0,844.4 L478.0,844.2 L480.0,844.1 L482.0,843.9 L484.0,843.8 L486.0,843.7 L488.0,843.5 L490.0,843.4 L492.0,843.3 L494.0,843.1 L496.0,843.0 L498.0,842.9 L500.0,842.8 L502.0,842.7 L504.0,842.5 L506.0,842.4 L508.0,842.3 L510.0,842.2 L512.0,842.1 L514.0,842.0 L516.0,842.0 L518.0,841.9 L520.0,841.8 L522.0,841.7 L524.0,841.6 L526.0,841.6 L528.0,841.5 L530.0,841.4 L532.0,841.4 L534.0,841.3 L536.0,841.3 L538.0,841.2 L540.0,841.2 L542.0,841.1 L544.0,841.1 L546.0,841.1 L548.0,841.0 L550.0,841.0 L552.0,841.0 L554.0,841.0 L556.0,840.9 L558.0,840.9 L560.0,840.9 L562.0,840.9 L564.0,840.9 L566.0,840.9 L568.0,840.9 L570.0,840.9 L572.0,841.0 L574.0,841.0 L576.0,841.0 L578.0,841.0 L580.0,841.1 L582.0,841.1 L584.0,841.1 L586.0,841.2 L588.0,841.2 L590.0,841.3 L592.0,841.3 L594.0,841.4 L596.0,841.4 L598.0,841.5 L600.0,841.6 L602.0,841.7 L604.0,841.7 L606.0,841.8 L608.0,841.9 L610.0,842.0 L612.0,842.1 L614.0,842.2 L616.0,842.3 L618.0,842.4 L620.0,842.5 L622.0,842.6 L624.0,842.7 L626.0,842.8 L628.0,842.9 L630.0,843.1 L632.0,843.2 L634.0,843.3 L636.0,843.5 L638.0,843.6 L640.0,843.7 L642.0,843.9 L644.0,844.0 L646.0,844.2 L648.0,844.3 L650.0,844.5 L652.0,844.6 L654.0,844.8 L656.0,845.0 L658.0,845.1 L660.0,845.3 L662.0,845.5 L664.0,845.6 L666.0,845.8 L668.0,846.0 L670.0,846.2 L672.0,846.4 L674.0,846.5 L676.0,846.7 L678.0,846.9 L680.0,847.1 L682.0,847.3 L684.0,847.5 L686.0,847.7 L688.0,847.9 L690.0,848.1 L692.0,848.3 L694.0,848.5 L696.0,848.7 L698.0,849.0 L700.0,849.2 L702.0,849.4 L704.0,849.6 L706.0,849.8 L708.0,850.0 L710.0,850.3 L712.0,850.5 L714.0,850.7 L716.0,850.9 L718.0,851.2 L720.0,851.4 L722.0,851.6 L724.0,851.8 L726.0,852.1 L728.0,852.3 L730.0,852.5 L732.0,852.8 L734.0,853.0 L736.0,853.2 L738.0,853.5 L740.0,853.7 L742.0,854.0 L744.0,854.2 L746.0,854.4 L748.0,854.7 L750.0,854.9 L752.0,855.1 L754.0,855.4 L756.0,855.6 L758.0,855.9 L760.0,856.1 L762.0,856.3 L764.0,856.6 L766.0,856.8 L768.0,857.1 L770.0,857.3 L772.0,857.6 L774.0,857.8 L776.0,858.0 L778.0,858.3 L780.0,858.5 L782.0,858.7 L784.0,859.0 L786.0,859.2 L788.0,859.5 L790.0,859.7 L792.0,859.9 L794.0,860.2 L796.0,860.4 L798.0,860.6 L800.0,860.9 L802.0,861.1 L804.0,861.3 L806.0,861.6 L808.0,861.8 L810.0,862.0 L812.0,862.2 L814.0,862.5 L816.0,862.7 L818.0,862.9 L820.0,863.1 L822.0,863.4 L824.0,863.6 L826.0,863.8 L828.0,864.0 L830.0,864.2 L832.0,864.5 L834.0,864.7 L836.0,864.9 L838.0,865.1 L840.0,865.3 L842.0,865.5 L844.0,865.7 L846.0,865.9 L848.0,866.1 L850.0,866.3 L852.0,866.5 L854.0,866.7 L856.0,866.9 L858.0,867.1 L860.0,867.3 L862.0,867.5 L864.0,867.7 L866.0,867.9 L868.0,868.0 L870.0,868.2 L872.0,868.4 L874.0,868.6 L876.0,868.8 L878.0,868.9 L880.0,869.1 L882.0,869.3 L884.0,869.4 L886.0,869.6 L888.0,869.8 L890.0,869.9 L892.0,870.1 L894.0,870.2 L896.0,870.4 L898.0,870.5 L900.0,870.7 L902.0,870.8 L904.0,871.0 L906.0,871.1 L908.0,871.2 L910.0,871.4 L912.0,871.5 L914.0,871.6 L916.0,871.8 L918.0,871.9 L920.0,872.0 L922.0,872.1 L924.0,872.3 L926.0,872.4 L928.0,872.5 L930.0,872.6 L932.0,872.7 L934.0,872.8 L936.0,872.9 L938.0,873.0 L940.0,873.1 L942.0,873.2 L944.0,873.2 L946.0,873.3 L948.0,873.4 L950.0,873.5 L952.0,873.5 L954.0,873.6 L956.0,873.7 L958.0,873.7 L960.0,873.8 L962.0,873.8 L964.0,873.9 L966.0,873.9 L968.0,874.0 L970.0,874.0 L972.0,874.0 L974.0,874.1 L976.0,874.1 L978.0,874.1 L980.0,874.1 L982.0,874.2 L984.0,874.2 L986.0,874.2 L988.0,874.2 L990.0,874.2 L992.0,874.1 L994.0,874.1 L996.0,874.1 L998.0,874.1 L1000.0,874.0 L1002.0,874.0 L1004.0,874.0 L1006.0,873.9 L1008.0,873.9 L1010.0,873.8 L1012.0,873.7 L1014.0,873.7 L1016.0,873.6 L1018.0,873.5 L1020.0,873.4 L1022.0,873.3 L1024.0,873.2 L1026.0,873.1 L1028.0,873.0 L1030.0,872.9 L1032.0,872.8 L1034.0,872.6 L1036.0,872.5 L1038.0,872.3 L1040.0,872.2 L1042.0,872.0 L1044.0,871.9 L1046.0,871.7 L1048.0,871.5 L1050.0,871.3 L1052.0,871.1 L1054.0,870.9 L1056.0,870.7 L1058.0,870.4 L1060.0,870.2 L1062.0,870.0 L1064.0,869.7 L1066.0,869.5 L1068.0,869.2 L1070.0,868.9 L1072.0,868.6 L1074.0,868.3 L1076.0,868.0 L1078.0,867.7 L1080.0,867.4 L1082.0,867.1 L1084.0,866.7 L1086.0,866.4 L1088.0,866.0 L1090.0,865.6 L1092.0,865.3 L1094.0,864.9 L1096.0,864.5 L1098.0,864.0 L1100.0,863.6 L1102.0,863.2 L1104.0,862.7 L1106.0,862.3 L1108.0,861.8 L1110.0,861.3 L1112.0,860.8 L1114.0,860.3 L1116.0,859.8 L1118.0,859.3 L1120.0,858.8 L1122.0,858.2 L1124.0,857.7 L1126.0,857.1 L1128.0,856.5 L1130.0,855.9 L1132.0,855.3 L1134.0,854.7 L1136.0,854.1 L1138.0,853.4 L1140.0,852.8 L1142.0,852.1 L1144.0,851.5 L1146.0,850.8 L1148.0,850.1 L1150.0,849.4 L1152.0,848.7 L1154.0,847.9 L1156.0,847.2 L1158.0,846.4 L1160.0,845.7 L1162.0,844.9 L1164.0,844.1 L1166.0,843.3 L1168.0,842.5 L1170.0,841.7 L1172.0,840.9 L1174.0,840.1 L1176.0,839.2 L1178.0,838.4 L1180.0,837.5 L1182.0,836.7 L1184.0,835.8 L1186.0,834.9 L1188.0,834.0 L1190.0,833.2 L1192.0,832.3 L1194.0,831.3 L1196.0,830.4 L1198.0,829.5 L1200.0,828.6 L1202.0,827.7 L1204.0,826.7 L1206.0,825.8 L1208.0,824.9 L1210.0,823.9 L1212.0,823.0 L1214.0,822.0 L1216.0,821.1 L1218.0,820.1 L1220.0,819.2 L1222.0,818.2 L1224.0,817.3 L1226.0,816.3 L1228.0,815.4 L1230.0,814.5 L1232.0,813.5 L1234.0,812.6 L1236.0,811.6 L1238.0,810.7 L1240.0,809.8 L1242.0,808.9 L1244.0,808.0 L1246.0,807.1 L1248.0,806.2 L1250.0,805.3 L1252.0,804.4 L1254.0,803.5 L1256.0,802.7 L1258.0,801.8 L1260.0,801.0 L1262.0,800.2 L1264.0,799.4 L1266.0,798.6 L1268.0,797.8 L1270.0,797.1 L1272.0,796.3 L1274.0,795.6 L1276.0,794.9 L1278.0,794.2 L1280.0,793.5 L1282.0,792.9 L1284.0,792.2 L1286.0,791.6 L1288.0,791.0 L1290.0,790.4 L1292.0,789.8 L1294.0,789.3 L1296.0,788.7 L1298.0,788.2 L1300.0,787.7 L1302.0,787.3 L1304.0,786.8 L1306.0,786.4 L1308.0,785.9 L1310.0,785.6 L1312.0,785.2 L1314.0,784.8 L1316.0,784.5 L1318.0,784.1 L1320.0,783.8 L1322.0,783.5 L1324.0,783.3 L1326.0,783.0 L1328.0,782.8 L1330.0,782.5 L1332.0,782.3 L1334.0,782.1 L1336.0,781.9 L1338.0,781.7 L1340.0,781.5 L1342.0,781.4 L1344.0,781.2 L1346.0,781.0 L1348.0,780.9 L1350.0,780.7 L1352.0,780.6 L1354.0,780.4 L1356.0,780.3 L1358.0,780.1 L1360.0,779.9 L1362.0,779.8 L1364.0,779.6 L1366.0,779.4 L1368.0,779.3 L1370.0,779.1 L1372.0,778.8 L1374.0,778.6 L1376.0,778.4 L1378.0,778.1 L1380.0,777.8 L1382.0,777.5 L1384.0,777.2 L1386.0,776.8 L1388.0,776.5 L1390.0,776.0 L1392.0,775.6 L1394.0,775.1 L1396.0,774.6 L1398.0,774.0 L1400.0,773.4 L1402.0,772.8 L1404.0,772.1 L1406.0,771.4 L1408.0,770.6 L1410.0,769.8 L1412.0,768.9 L1414.0,768.0 L1416.0,767.0 L1418.0,765.9 L1420.0,764.8 L1422.0,763.6 L1424.0,762.4 L1426.0,761.1 L1428.0,759.7 L1430.0,758.2 L1432.0,756.7 L1434.0,755.1 L1436.0,753.5 L1438.0,751.8 L1440.0,750.0 L1442.0,748.1 L1444.0,746.1 L1446.0,744.1 L1448.0,742.0 L1450.0,739.8 L1452.0,737.6 L1454.0,735.3 L1456.0,732.9 L1458.0,730.4 L1460.0,727.8 L1462.0,725.2 L1464.0,722.5 L1466.0,719.7 L1468.0,716.9 L1470.0,714.0 L1472.0,711.1 L1474.0,708.0 L1476.0,704.9 L1478.0,701.8 L1480.0,698.6 L1482.0,695.4 L1484.0,692.1 L1486.0,688.7 L1488.0,685.4 L1490.0,681.9 L1492.0,678.5 L1494.0,675.0 L1496.0,671.5 L1498.0,668.0 L1500.0,664.5 L1502.0,661.0 L1504.0,657.5 L1506.0,654.0 L1508.0,650.5 L1510.0,647.0 L1512.0,643.5 L1514.0,640.1 L1516.0,636.7 L1518.0,633.3 L1520.0,630.0 L1522.0,626.8 L1524.0,623.6 L1526.0,620.5 L1528.0,617.4 L1530.0,614.5 L1532.0,611.6 L1534.0,608.9 L1536.0,606.2 L1538.0,603.7 L1540.0,601.2 L1542.0,598.9 L1544.0,596.7 L1546.0,594.7 L1548.0,592.8 L1550.0,591.0 L1552.0,589.4 L1554.0,587.9 L1556.0,586.5 L1558.0,585.4 L1560.0,584.4 L1562.0,583.5 L1564.0,582.8 L1566.0,582.3 L1568.0,582.0 L1570.0,581.8 L1572.0,581.8 L1574.0,582.0 L1576.0,582.4 L1578.0,582.9 L1580.0,583.6 L1582.0,584.5 L1584.0,585.5 L1586.0,586.7 L1588.0,588.1 L1590.0,589.7 L1592.0,591.4 L1594.0,593.3 L1596.0,595.4 L1598.0,597.6 L1600.0,600.0 L1602.0,602.5 L1604.0,605.2 L1606.0,608.0 L1608.0,611.0 L1610.0,614.1 L1612.0,617.3 L1614.0,620.6 L1616.0,624.1 L1618.0,627.6 L1620.0,631.3 L1622.0,635.1 L1624.0,639.0 L1626.0,642.9 L1628.0,647.0 L1630.0,651.1 L1632.0,655.3 L1634.0,659.5 L1636.0,663.8 L1638.0,668.2 L1640.0,672.5 L1642.0,677.0 L1644.0,681.4 L1646.0,685.9 L1648.0,690.4 L1650.0,694.9 L1652.0,699.4 L1654.0,704.0 L1656.0,708.5 L1658.0,713.0 L1660.0,717.5 L1662.0,722.0 L1664.0,726.4 L1666.0,730.8 L1668.0,735.2 L1670.0,739.5 L1672.0,743.8 L1674.0,748.1 L1676.0,752.3 L1678.0,756.5 L1680.0,760.6 L1682.0,764.6 L1684.0,768.6 L1686.0,772.5 L1688.0,776.4 L1690.0,780.2 L1692.0,783.9 L1694.0,787.6 L1696.0,791.1 L1698.0,794.7 L1700.0,798.1 L1702.0,801.5 L1704.0,804.7 L1706.0,807.9 L1708.0,811.1 L1710.0,814.1 L1712.0,817.1 L1714.0,820.0 L1716.0,822.9 L1718.0,825.6 L1720.0,828.3 L1722.0,830.9 L1724.0,833.4 L1726.0,835.9 L1728.0,838.2 L1730.0,840.5 L1732.0,842.8 L1734.0,844.9 L1736.0,847.0 L1738.0,849.0 L1740.0,851.0 L1742.0,852.9 L1744.0,854.7 L1746.0,856.4 L1748.0,858.1 L1750.0,859.7 L1752.0,861.3 L1754.0,862.8 L1756.0,864.2 L1758.0,865.6 L1760.0,866.9 L1762.0,868.2 L1764.0,869.4 L1766.0,870.6 L1768.0,871.7 L1770.0,872.8 L1772.0,873.8 L1774.0,874.8 L1776.0,875.8 L1778.0,876.7 L1780.0,877.5 L1782.0,878.3 L1784.0,879.1 L1786.0,879.9 L1788.0,880.6 L1790.0,881.3 L1792.0,881.9 L1794.0,882.5 L1796.0,883.1 L1798.0,883.7 L1800.0,884.2 L1802.0,884.7 L1804.0,885.2 L1806.0,885.7 L1808.0,886.1 L1810.0,886.5 L1812.0,886.9 L1814.0,887.3 L1816.0,887.6 L1818.0,888.0 L1820.0,888.3 L1822.0,888.6 L1824.0,888.9 L1826.0,889.1 L1828.0,889.4 L1830.0,889.6 L1832.0,889.9 L1834.0,890.1 L1836.0,890.3 L1838.0,890.5 L1840.0,890.6 L1842.0,890.8 L1844.0,891.0 L1846.0,891.1 L1848.0,891.3 L1850.0,891.4 L1852.0,891.5 L1854.0,891.6 L1856.0,891.8 L1858.0,891.9 L1860.0,892.0 L1862.0,892.1 L1864.0,892.1 L1866.0,892.2 L1868.0,892.3 L1870.0,892.4 L1872.0,892.4 L1874.0,892.5 L1876.0,892.6 L1878.0,892.6 L1880.0,892.7 L1882.0,892.7 L1884.0,892.8 L1886.0,892.8 L1888.0,892.9 L1890.0,892.9 L1892.0,892.9 L1894.0,893.0 L1896.0,893.0 L1898.0,893.0 L1900.0,893.1 L1902.0,893.1 L1904.0,893.1 L1906.0,893.1 L1908.0,893.2 L1910.0,893.2 L1912.0,893.2 L1914.0,893.2 L1916.0,893.2 L1918.0,893.2 L1920.0,893.3 L1922.0,893.3 L1924.0,893.3 L1926.0,893.3 L1928.0,893.3 L1930.0,893.3 L1932.0,893.3 L1934.0,893.3 L1936.0,893.4 L1938.0,893.4 L1940.0,893.4 L1942.0,893.4 L1944.0,893.4 L1946.0,893.4 L1948.0,893.4 L1950.0,893.4 L1952.0,893.4 L1954.0,893.4 L1956.0,893.4 L1958.0,893.4 L1960.0,893.4 L1962.0,893.4 L1964.0,893.4 L1966.0,893.4 L1968.0,893.5 L1970.0,893.5 L1972.0,893.5 L1974.0,893.5 L1976.0,893.5 L1978.0,893.5 L1980.0,893.5 L1982.0,893.5 L1984.0,893.5 L1986.0,893.5 L1988.0,893.5 L1990.0,893.5 L1992.0,893.5 L1994.0,893.5 L1996.0,893.5 L1998.0,893.5 L2000.0,893.5 L2002.0,893.5 L2004.0,893.5 L2006.0,893.5 L2008.0,893.5" stroke="#000" stroke-width="6.5" fill="none" stroke-linejoin="round"/><path d="M150.0,1293.0 L152.0,1293.0 L154.0,1293.0 L156.0,1293.0 L158.0,1293.0 L160.0,1293.0 L162.0,1293.0 L164.0,1293.0 L166.0,1293.0 L168.0,1293.0 L170.0,1293.0 L172.0,1293.0 L174.0,1293.0 L176.0,1293.0 L178.0,1293.0 L180.0,1293.0 L182.0,1293.0 L184.0,1293.0 L186.0,1293.0 L188.0,1293.0 L190.0,1293.0 L192.0,1293.0 L194.0,1293.0 L196.0,1292.9 L198.0,1292.9 L200.0,1292.9 L202.0,1292.9 L204.0,1292.9 L206.0,1292.9 L208.0,1292.9 L210.0,1292.9 L212.0,1292.9 L214.0,1292.9 L216.0,1292.9 L218.0,1292.9 L220.0,1292.9 L222.0,1292.9 L224.0,1292.9 L226.0,1292.9 L228.0,1292.9 L230.0,1292.9 L232.0,1292.9 L234.0,1292.9 L236.0,1292.9 L238.0,1292.9 L240.0,1292.8 L242.0,1292.8 L244.0,1292.8 L246.0,1292.8 L248.0,1292.8 L250.0,1292.8 L252.0,1292.8 L254.0,1292.8 L256.0,1292.8 L258.0,1292.8 L260.0,1292.7 L262.0,1292.7 L264.0,1292.7 L266.0,1292.7 L268.0,1292.7 L270.0,1292.7 L272.0,1292.7 L274.0,1292.6 L276.0,1292.6 L278.0,1292.6 L280.0,1292.6 L282.0,1292.6 L284.0,1292.5 L286.0,1292.5 L288.0,1292.5 L290.0,1292.5 L292.0,1292.4 L294.0,1292.4 L296.0,1292.4 L298.0,1292.4 L300.0,1292.3 L302.0,1292.3 L304.0,1292.3 L306.0,1292.2 L308.0,1292.2 L310.0,1292.2 L312.0,1292.1 L314.0,1292.1 L316.0,1292.0 L318.0,1292.0 L320.0,1291.9 L322.0,1291.9 L324.0,1291.8 L326.0,1291.8 L328.0,1291.7 L330.0,1291.7 L332.0,1291.6 L334.0,1291.6 L336.0,1291.5 L338.0,1291.4 L340.0,1291.4 L342.0,1291.3 L344.0,1291.2 L346.0,1291.2 L348.0,1291.1 L350.0,1291.0 L352.0,1290.9 L354.0,1290.8 L356.0,1290.8 L358.0,1290.7 L360.0,1290.6 L362.0,1290.5 L364.0,1290.4 L366.0,1290.3 L368.0,1290.2 L370.0,1290.1 L372.0,1289.9 L374.0,1289.8 L376.0,1289.7 L378.0,1289.6 L380.0,1289.5 L382.0,1289.3 L384.0,1289.2 L386.0,1289.1 L388.0,1288.9 L390.0,1288.8 L392.0,1288.6 L394.0,1288.5 L396.0,1288.3 L398.0,1288.1 L400.0,1288.0 L402.0,1287.8 L404.0,1287.6 L406.0,1287.5 L408.0,1287.3 L410.0,1287.1 L412.0,1286.9 L414.0,1286.7 L416.0,1286.5 L418.0,1286.3 L420.0,1286.1 L422.0,1285.8 L424.0,1285.6 L426.0,1285.4 L428.0,1285.2 L430.0,1284.9 L432.0,1284.7 L434.0,1284.4 L436.0,1284.2 L438.0,1283.9 L440.0,1283.7 L442.0,1283.4 L444.0,1283.1 L446.0,1282.8 L448.0,1282.5 L450.0,1282.3 L452.0,1282.0 L454.0,1281.7 L456.0,1281.4 L458.0,1281.1 L460.0,1280.7 L462.0,1280.4 L464.0,1280.1 L466.0,1279.8 L468.0,1279.4 L470.0,1279.1 L472.0,1278.8 L474.0,1278.4 L476.0,1278.1 L478.0,1277.7 L480.0,1277.4 L482.0,1277.0 L484.0,1276.6 L486.0,1276.3 L488.0,1275.9 L490.0,1275.5 L492.0,1275.2 L494.0,1274.8 L496.0,1274.4 L498.0,1274.0 L500.0,1273.6 L502.0,1273.2 L504.0,1272.8 L506.0,1272.5 L508.0,1272.1 L510.0,1271.7 L512.0,1271.3 L514.0,1270.9 L516.0,1270.5 L518.0,1270.1 L520.0,1269.7 L522.0,1269.3 L524.0,1268.9 L526.0,1268.5 L528.0,1268.1 L530.0,1267.7 L532.0,1267.4 L534.0,1267.0 L536.0,1266.6 L538.0,1266.2 L540.0,1265.9 L542.0,1265.5 L544.0,1265.1 L546.0,1264.8 L548.0,1264.4 L550.0,1264.1 L552.0,1263.7 L554.0,1263.4 L556.0,1263.1 L558.0,1262.7 L560.0,1262.4 L562.0,1262.1 L564.0,1261.8 L566.0,1261.5 L568.0,1261.2 L570.0,1261.0 L572.0,1260.7 L574.0,1260.4 L576.0,1260.2 L578.0,1259.9 L580.0,1259.7 L582.0,1259.5 L584.0,1259.3 L586.0,1259.1 L588.0,1258.9 L590.0,1258.8 L592.0,1258.6 L594.0,1258.4 L596.0,1258.3 L598.0,1258.2 L600.0,1258.1 L602.0,1258.0 L604.0,1257.9 L606.0,1257.8 L608.0,1257.8 L610.0,1257.7 L612.0,1257.7 L614.0,1257.7 L616.0,1257.7 L618.0,1257.7 L620.0,1257.7 L622.0,1257.7 L624.0,1257.8 L626.0,1257.8 L628.0,1257.9 L630.0,1258.0 L632.0,1258.1 L634.0,1258.2 L636.0,1258.3 L638.0,1258.5 L640.0,1258.6 L642.0,1258.8 L644.0,1258.9 L646.0,1259.1 L648.0,1259.3 L650.0,1259.5 L652.0,1259.8 L654.0,1260.0 L656.0,1260.2 L658.0,1260.5 L660.0,1260.7 L662.0,1261.0 L664.0,1261.3 L666.0,1261.6 L668.0,1261.9 L670.0,1262.2 L672.0,1262.5 L674.0,1262.8 L676.0,1263.2 L678.0,1263.5 L680.0,1263.9 L682.0,1264.2 L684.0,1264.6 L686.0,1264.9 L688.0,1265.3 L690.0,1265.7 L692.0,1266.1 L694.0,1266.4 L696.0,1266.8 L698.0,1267.2 L700.0,1267.6 L702.0,1268.0 L704.0,1268.4 L706.0,1268.8 L708.0,1269.2 L710.0,1269.7 L712.0,1270.1 L714.0,1270.5 L716.0,1270.9 L718.0,1271.4 L720.0,1271.8 L722.0,1272.2 L724.0,1272.7 L726.0,1273.1 L728.0,1273.5 L730.0,1273.9 L732.0,1274.4 L734.0,1274.8 L736.0,1275.2 L738.0,1275.6 L740.0,1276.1 L742.0,1276.5 L744.0,1276.9 L746.0,1277.3 L748.0,1277.7 L750.0,1278.1 L752.0,1278.5 L754.0,1278.9 L756.0,1279.3 L758.0,1279.7 L760.0,1280.0 L762.0,1280.4 L764.0,1280.8 L766.0,1281.1 L768.0,1281.5 L770.0,1281.8 L772.0,1282.2 L774.0,1282.5 L776.0,1282.9 L778.0,1283.2 L780.0,1283.5 L782.0,1283.8 L784.0,1284.1 L786.0,1284.4 L788.0,1284.7 L790.0,1285.0 L792.0,1285.3 L794.0,1285.6 L796.0,1285.9 L798.0,1286.1 L800.0,1286.4 L802.0,1286.7 L804.0,1286.9 L806.0,1287.2 L808.0,1287.4 L810.0,1287.6 L812.0,1287.8 L814.0,1288.1 L816.0,1288.3 L818.0,1288.5 L820.0,1288.7 L822.0,1288.9 L824.0,1289.1 L826.0,1289.3 L828.0,1289.4 L830.0,1289.6 L832.0,1289.8 L834.0,1289.9 L836.0,1290.1 L838.0,1290.2 L840.0,1290.4 L842.0,1290.5 L844.0,1290.6 L846.0,1290.8 L848.0,1290.9 L850.0,1291.0 L852.0,1291.1 L854.0,1291.2 L856.0,1291.3 L858.0,1291.4 L860.0,1291.5 L862.0,1291.5 L864.0,1291.6 L866.0,1291.7 L868.0,1291.7 L870.0,1291.8 L872.0,1291.8 L874.0,1291.9 L876.0,1291.9 L878.0,1291.9 L880.0,1292.0 L882.0,1292.0 L884.0,1292.0 L886.0,1292.0 L888.0,1292.0 L890.0,1292.0 L892.0,1292.0 L894.0,1292.0 L896.0,1292.0 L898.0,1291.9 L900.0,1291.9 L902.0,1291.9 L904.0,1291.8 L906.0,1291.8 L908.0,1291.7 L910.0,1291.7 L912.0,1291.6 L914.0,1291.5 L916.0,1291.5 L918.0,1291.4 L920.0,1291.3 L922.0,1291.2 L924.0,1291.1 L926.0,1291.0 L928.0,1290.9 L930.0,1290.8 L932.0,1290.6 L934.0,1290.5 L936.0,1290.4 L938.0,1290.2 L940.0,1290.1 L942.0,1289.9 L944.0,1289.8 L946.0,1289.6 L948.0,1289.4 L950.0,1289.2 L952.0,1289.1 L954.0,1288.9 L956.0,1288.7 L958.0,1288.5 L960.0,1288.2 L962.0,1288.0 L964.0,1287.8 L966.0,1287.6 L968.0,1287.3 L970.0,1287.1 L972.0,1286.8 L974.0,1286.5 L976.0,1286.3 L978.0,1286.0 L980.0,1285.7 L982.0,1285.4 L984.0,1285.1 L986.0,1284.8 L988.0,1284.5 L990.0,1284.2 L992.0,1283.8 L994.0,1283.5 L996.0,1283.2 L998.0,1282.8 L1000.0,1282.4 L1002.0,1282.1 L1004.0,1281.7 L1006.0,1281.3 L1008.0,1280.9 L1010.0,1280.5 L1012.0,1280.1 L1014.0,1279.7 L1016.0,1279.2 L1018.0,1278.8 L1020.0,1278.4 L1022.0,1277.9 L1024.0,1277.5 L1026.0,1277.0 L1028.0,1276.5 L1030.0,1276.0 L1032.0,1275.6 L1034.0,1275.1 L1036.0,1274.6 L1038.0,1274.0 L1040.0,1273.5 L1042.0,1273.0 L1044.0,1272.5 L1046.0,1271.9 L1048.0,1271.4 L1050.0,1270.8 L1052.0,1270.2 L1054.0,1269.7 L1056.0,1269.1 L1058.0,1268.5 L1060.0,1267.9 L1062.0,1267.3 L1064.0,1266.7 L1066.0,1266.1 L1068.0,1265.5 L1070.0,1264.9 L1072.0,1264.2 L1074.0,1263.6 L1076.0,1263.0 L1078.0,1262.3 L1080.0,1261.7 L1082.0,1261.0 L1084.0,1260.4 L1086.0,1259.7 L1088.0,1259.1 L1090.0,1258.4 L1092.0,1257.8 L1094.0,1257.1 L1096.0,1256.4 L1098.0,1255.8 L1100.0,1255.1 L1102.0,1254.4 L1104.0,1253.8 L1106.0,1253.1 L1108.0,1252.4 L1110.0,1251.8 L1112.0,1251.1 L1114.0,1250.4 L1116.0,1249.8 L1118.0,1249.1 L1120.0,1248.5 L1122.0,1247.8 L1124.0,1247.2 L1126.0,1246.6 L1128.0,1245.9 L1130.0,1245.3 L1132.0,1244.7 L1134.0,1244.1 L1136.0,1243.5 L1138.0,1242.9 L1140.0,1242.3 L1142.0,1241.7 L1144.0,1241.2 L1146.0,1240.6 L1148.0,1240.1 L1150.0,1239.6 L1152.0,1239.0 L1154.0,1238.5 L1156.0,1238.0 L1158.0,1237.6 L1160.0,1237.1 L1162.0,1236.6 L1164.0,1236.2 L1166.0,1235.8 L1168.0,1235.4 L1170.0,1235.0 L1172.0,1234.6 L1174.0,1234.2 L1176.0,1233.9 L1178.0,1233.5 L1180.0,1233.2 L1182.0,1232.9 L1184.0,1232.6 L1186.0,1232.4 L1188.0,1232.1 L1190.0,1231.9 L1192.0,1231.7 L1194.0,1231.5 L1196.0,1231.3 L1198.0,1231.1 L1200.0,1231.0 L1202.0,1230.9 L1204.0,1230.8 L1206.0,1230.7 L1208.0,1230.6 L1210.0,1230.5 L1212.0,1230.5 L1214.0,1230.4 L1216.0,1230.4 L1218.0,1230.4 L1220.0,1230.4 L1222.0,1230.4 L1224.0,1230.5 L1226.0,1230.5 L1228.0,1230.6 L1230.0,1230.6 L1232.0,1230.7 L1234.0,1230.8 L1236.0,1230.9 L1238.0,1231.0 L1240.0,1231.1 L1242.0,1231.3 L1244.0,1231.4 L1246.0,1231.6 L1248.0,1231.7 L1250.0,1231.9 L1252.0,1232.1 L1254.0,1232.2 L1256.0,1232.4 L1258.0,1232.6 L1260.0,1232.8 L1262.0,1232.9 L1264.0,1233.1 L1266.0,1233.3 L1268.0,1233.4 L1270.0,1233.6 L1272.0,1233.8 L1274.0,1233.9 L1276.0,1234.1 L1278.0,1234.2 L1280.0,1234.3 L1282.0,1234.4 L1284.0,1234.6 L1286.0,1234.6 L1288.0,1234.7 L1290.0,1234.8 L1292.0,1234.8 L1294.0,1234.9 L1296.0,1234.9 L1298.0,1234.9 L1300.0,1234.9 L1302.0,1234.9 L1304.0,1234.8 L1306.0,1234.8 L1308.0,1234.7 L1310.0,1234.6 L1312.0,1234.4 L1314.0,1234.3 L1316.0,1234.1 L1318.0,1233.9 L1320.0,1233.7 L1322.0,1233.5 L1324.0,1233.2 L1326.0,1232.9 L1328.0,1232.6 L1330.0,1232.2 L1332.0,1231.9 L1334.0,1231.5 L1336.0,1231.0 L1338.0,1230.6 L1340.0,1230.1 L1342.0,1229.6 L1344.0,1229.0 L1346.0,1228.5 L1348.0,1227.9 L1350.0,1227.2 L1352.0,1226.6 L1354.0,1225.9 L1356.0,1225.1 L1358.0,1224.4 L1360.0,1223.6 L1362.0,1222.7 L1364.0,1221.9 L1366.0,1221.0 L1368.0,1220.0 L1370.0,1219.1 L1372.0,1218.1 L1374.0,1217.0 L1376.0,1216.0 L1378.0,1214.9 L1380.0,1213.8 L1382.0,1212.6 L1384.0,1211.4 L1386.0,1210.2 L1388.0,1208.9 L1390.0,1207.6 L1392.0,1206.3 L1394.0,1205.0 L1396.0,1203.6 L1398.0,1202.2 L1400.0,1200.7 L1402.0,1199.3 L1404.0,1197.8 L1406.0,1196.3 L1408.0,1194.7 L1410.0,1193.1 L1412.0,1191.5 L1414.0,1189.9 L1416.0,1188.2 L1418.0,1186.5 L1420.0,1184.8 L1422.0,1183.1 L1424.0,1181.3 L1426.0,1179.5 L1428.0,1177.7 L1430.0,1175.9 L1432.0,1174.0 L1434.0,1172.2 L1436.0,1170.3 L1438.0,1168.4 L1440.0,1166.5 L1442.0,1164.5 L1444.0,1162.6 L1446.0,1160.6 L1448.0,1158.7 L1450.0,1156.7 L1452.0,1154.7 L1454.0,1152.7 L1456.0,1150.7 L1458.0,1148.7 L1460.0,1146.7 L1462.0,1144.7 L1464.0,1142.7 L1466.0,1140.6 L1468.0,1138.6 L1470.0,1136.6 L1472.0,1134.6 L1474.0,1132.6 L1476.0,1130.7 L1478.0,1128.7 L1480.0,1126.7 L1482.0,1124.8 L1484.0,1122.9 L1486.0,1121.0 L1488.0,1119.1 L1490.0,1117.2 L1492.0,1115.4 L1494.0,1113.5 L1496.0,1111.8 L1498.0,1110.0 L1500.0,1108.3 L1502.0,1106.6 L1504.0,1104.9 L1506.0,1103.3 L1508.0,1101.7 L1510.0,1100.2 L1512.0,1098.6 L1514.0,1097.2 L1516.0,1095.8 L1518.0,1094.4 L1520.0,1093.1 L1522.0,1091.8 L1524.0,1090.6 L1526.0,1089.4 L1528.0,1088.3 L1530.0,1087.3 L1532.0,1086.3 L1534.0,1085.4 L1536.0,1084.5 L1538.0,1083.7 L1540.0,1082.9 L1542.0,1082.3 L1544.0,1081.7 L1546.0,1081.1 L1548.0,1080.6 L1550.0,1080.2 L1552.0,1079.9 L1554.0,1079.6 L1556.0,1079.4 L1558.0,1079.3 L1560.0,1079.2 L1562.0,1079.2 L1564.0,1079.2 L1566.0,1079.4 L1568.0,1079.6 L1570.0,1079.8 L1572.0,1080.2 L1574.0,1080.6 L1576.0,1081.0 L1578.0,1081.5 L1580.0,1082.1 L1582.0,1082.8 L1584.0,1083.5 L1586.0,1084.3 L1588.0,1085.2 L1590.0,1086.1 L1592.0,1087.1 L1594.0,1088.1 L1596.0,1089.3 L1598.0,1090.4 L1600.0,1091.7 L1602.0,1093.0 L1604.0,1094.3 L1606.0,1095.8 L1608.0,1097.2 L1610.0,1098.7 L1612.0,1100.3 L1614.0,1101.9 L1616.0,1103.6 L1618.0,1105.3 L1620.0,1107.1 L1622.0,1108.9 L1624.0,1110.7 L1626.0,1112.6 L1628.0,1114.5 L1630.0,1116.4 L1632.0,1118.4 L1634.0,1120.4 L1636.0,1122.5 L1638.0,1124.5 L1640.0,1126.6 L1642.0,1128.7 L1644.0,1130.9 L1646.0,1133.0 L1648.0,1135.2 L1650.0,1137.4 L1652.0,1139.6 L1654.0,1141.9 L1656.0,1144.1 L1658.0,1146.4 L1660.0,1148.7 L1662.0,1150.9 L1664.0,1153.2 L1666.0,1155.5 L1668.0,1157.8 L1670.0,1160.2 L1672.0,1162.5 L1674.0,1164.8 L1676.0,1167.1 L1678.0,1169.4 L1680.0,1171.8 L1682.0,1174.1 L1684.0,1176.4 L1686.0,1178.7 L1688.0,1181.0 L1690.0,1183.3 L1692.0,1185.6 L1694.0,1187.9 L1696.0,1190.2 L1698.0,1192.4 L1700.0,1194.7 L1702.0,1196.9 L1704.0,1199.2 L1706.0,1201.4 L1708.0,1203.6 L1710.0,1205.8 L1712.0,1207.9 L1714.0,1210.1 L1716.0,1212.2 L1718.0,1214.3 L1720.0,1216.4 L1722.0,1218.5 L1724.0,1220.5 L1726.0,1222.5 L1728.0,1224.5 L1730.0,1226.5 L1732.0,1228.5 L1734.0,1230.4 L1736.0,1232.3 L1738.0,1234.2 L1740.0,1236.1 L1742.0,1237.9 L1744.0,1239.7 L1746.0,1241.5 L1748.0,1243.3 L1750.0,1245.0 L1752.0,1246.7 L1754.0,1248.4 L1756.0,1250.1 L1758.0,1251.7 L1760.0,1253.3 L1762.0,1254.9 L1764.0,1256.5 L1766.0,1258.0 L1768.0,1259.5 L1770.0,1261.0 L1772.0,1262.4 L1774.0,1263.9 L1776.0,1265.3 L1778.0,1266.7 L1780.0,1268.0 L1782.0,1269.4 L1784.0,1270.7 L1786.0,1271.9 L1788.0,1273.2 L1790.0,1274.4 L1792.0,1275.6 L1794.0,1276.8 L1796.0,1278.0 L1798.0,1279.1 L1800.0,1280.3 L1802.0,1281.3 L1804.0,1282.4 L1806.0,1283.5 L1808.0,1284.5 L1810.0,1285.5 L1812.0,1286.5 L1814.0,1287.4 L1816.0,1288.4 L1818.0,1289.3 L1820.0,1290.2 L1822.0,1291.1 L1824.0,1291.9 L1826.0,1292.7 L1828.0,1293.6 L1830.0,1294.4 L1832.0,1295.1 L1834.0,1295.9 L1836.0,1296.6 L1838.0,1297.3 L1840.0,1298.0 L1842.0,1298.7 L1844.0,1299.4 L1846.0,1300.1 L1848.0,1300.7 L1850.0,1301.3 L1852.0,1301.9 L1854.0,1302.5 L1856.0,1303.1 L1858.0,1303.6 L1860.0,1304.2 L1862.0,1304.7 L1864.0,1305.2 L1866.0,1305.7 L1868.0,1306.2 L1870.0,1306.7 L1872.0,1307.2 L1874.0,1307.7 L1876.0,1308.1 L1878.0,1308.5 L1880.0,1309.0 L1882.0,1309.4 L1884.0,1309.8 L1886.0,1310.2 L1888.0,1310.6 L1890.0,1311.0 L1892.0,1311.3 L1894.0,1311.7 L1896.0,1312.0 L1898.0,1312.4 L1900.0,1312.7 L1902.0,1313.0 L1904.0,1313.4 L1906.0,1313.7 L1908.0,1314.0 L1910.0,1314.3 L1912.0,1314.6 L1914.0,1314.9 L1916.0,1315.1 L1918.0,1315.4 L1920.0,1315.7 L1922.0,1315.9 L1924.0,1316.2 L1926.0,1316.4 L1928.0,1316.6 L1930.0,1316.9 L1932.0,1317.1 L1934.0,1317.3 L1936.0,1317.5 L1938.0,1317.7 L1940.0,1317.9 L1942.0,1318.1 L1944.0,1318.3 L1946.0,1318.4 L1948.0,1318.6 L1950.0,1318.8 L1952.0,1318.9 L1954.0,1319.1 L1956.0,1319.3 L1958.0,1319.4 L1960.0,1319.6 L1962.0,1319.7 L1964.0,1319.8 L1966.0,1320.0 L1968.0,1320.1 L1970.0,1320.2 L1972.0,1320.4 L1974.0,1320.5 L1976.0,1320.6 L1978.0,1320.7 L1980.0,1320.8 L1982.0,1320.9 L1984.0,1321.0 L1986.0,1321.1 L1988.0,1321.2 L1990.0,1321.3 L1992.0,1321.4 L1994.0,1321.5 L1996.0,1321.6 L1998.0,1321.7 L2000.0,1321.8 L2002.0,1321.9 L2004.0,1322.0 L2006.0,1322.0 L2008.0,1322.1" stroke="#000" stroke-width="6.5" fill="none" stroke-linejoin="round"/><path d="M150.0,1825.2 L152.0,1825.1 L154.0,1825.1 L156.0,1825.1 L158.0,1825.0 L160.0,1825.0 L162.0,1825.0 L164.0,1824.9 L166.0,1824.9 L168.0,1824.8 L170.0,1824.8 L172.0,1824.7 L174.0,1824.7 L176.0,1824.6 L178.0,1824.6 L180.0,1824.5 L182.0,1824.5 L184.0,1824.4 L186.0,1824.4 L188.0,1824.3 L190.0,1824.3 L192.0,1824.2 L194.0,1824.1 L196.0,1824.1 L198.0,1824.0 L200.0,1823.9 L202.0,1823.9 L204.0,1823.8 L206.0,1823.7 L208.0,1823.6 L210.0,1823.5 L212.0,1823.5 L214.0,1823.4 L216.0,1823.3 L218.0,1823.2 L220.0,1823.1 L222.0,1823.0 L224.0,1822.9 L226.0,1822.8 L228.0,1822.7 L230.0,1822.6 L232.0,1822.5 L234.0,1822.3 L236.0,1822.2 L238.0,1822.1 L240.0,1822.0 L242.0,1821.8 L244.0,1821.7 L246.0,1821.6 L248.0,1821.4 L250.0,1821.3 L252.0,1821.1 L254.0,1821.0 L256.0,1820.8 L258.0,1820.6 L260.0,1820.5 L262.0,1820.3 L264.0,1820.1 L266.0,1819.9 L268.0,1819.7 L270.0,1819.5 L272.0,1819.3 L274.0,1819.1 L276.0,1818.9 L278.0,1818.7 L280.0,1818.5 L282.0,1818.3 L284.0,1818.0 L286.0,1817.8 L288.0,1817.5 L290.0,1817.3 L292.0,1817.0 L294.0,1816.8 L296.0,1816.5 L298.0,1816.2 L300.0,1815.9 L302.0,1815.7 L304.0,1815.4 L306.0,1815.1 L308.0,1814.7 L310.0,1814.4 L312.0,1814.1 L314.0,1813.8 L316.0,1813.4 L318.0,1813.1 L320.0,1812.7 L322.0,1812.3 L324.0,1812.0 L326.0,1811.6 L328.0,1811.2 L330.0,1810.8 L332.0,1810.4 L334.0,1810.0 L336.0,1809.5 L338.0,1809.1 L340.0,1808.7 L342.0,1808.2 L344.0,1807.8 L346.0,1807.3 L348.0,1806.8 L350.0,1806.3 L352.0,1805.8 L354.0,1805.3 L356.0,1804.8 L358.0,1804.2 L360.0,1803.7 L362.0,1803.1 L364.0,1802.6 L366.0,1802.0 L368.0,1801.4 L370.0,1800.8 L372.0,1800.2 L374.0,1799.6 L376.0,1799.0 L378.0,1798.4 L380.0,1797.7 L382.0,1797.1 L384.0,1796.4 L386.0,1795.7 L388.0,1795.0 L390.0,1794.3 L392.0,1793.6 L394.0,1792.9 L396.0,1792.1 L398.0,1791.4 L400.0,1790.6 L402.0,1789.9 L404.0,1789.1 L406.0,1788.3 L408.0,1787.5 L410.0,1786.7 L412.0,1785.9 L414.0,1785.1 L416.0,1784.2 L418.0,1783.4 L420.0,1782.5 L422.0,1781.6 L424.0,1780.8 L426.0,1779.9 L428.0,1779.0 L430.0,1778.1 L432.0,1777.2 L434.0,1776.3 L436.0,1775.3 L438.0,1774.4 L440.0,1773.4 L442.0,1772.5 L444.0,1771.5 L446.0,1770.6 L448.0,1769.6 L450.0,1768.6 L452.0,1767.6 L454.0,1766.6 L456.0,1765.7 L458.0,1764.7 L460.0,1763.7 L462.0,1762.7 L464.0,1761.7 L466.0,1760.6 L468.0,1759.6 L470.0,1758.6 L472.0,1757.6 L474.0,1756.6 L476.0,1755.6 L478.0,1754.6 L480.0,1753.6 L482.0,1752.6 L484.0,1751.6 L486.0,1750.6 L488.0,1749.6 L490.0,1748.6 L492.0,1747.6 L494.0,1746.6 L496.0,1745.6 L498.0,1744.7 L500.0,1743.7 L502.0,1742.8 L504.0,1741.8 L506.0,1740.9 L508.0,1740.0 L510.0,1739.1 L512.0,1738.2 L514.0,1737.3 L516.0,1736.5 L518.0,1735.6 L520.0,1734.8 L522.0,1734.0 L524.0,1733.2 L526.0,1732.4 L528.0,1731.7 L530.0,1730.9 L532.0,1730.2 L534.0,1729.5 L536.0,1728.9 L538.0,1728.2 L540.0,1727.6 L542.0,1727.0 L544.0,1726.4 L546.0,1725.8 L548.0,1725.3 L550.0,1724.8 L552.0,1724.3 L554.0,1723.9 L556.0,1723.5 L558.0,1723.1 L560.0,1722.7 L562.0,1722.4 L564.0,1722.1 L566.0,1721.8 L568.0,1721.5 L570.0,1721.3 L572.0,1721.1 L574.0,1721.0 L576.0,1720.9 L578.0,1720.8 L580.0,1720.7 L582.0,1720.7 L584.0,1720.7 L586.0,1720.7 L588.0,1720.8 L590.0,1720.9 L592.0,1721.0 L594.0,1721.1 L596.0,1721.3 L598.0,1721.6 L600.0,1721.8 L602.0,1722.1 L604.0,1722.4 L606.0,1722.7 L608.0,1723.1 L610.0,1723.5 L612.0,1723.9 L614.0,1724.4 L616.0,1724.8 L618.0,1725.3 L620.0,1725.9 L622.0,1726.4 L624.0,1727.0 L626.0,1727.6 L628.0,1728.2 L630.0,1728.9 L632.0,1729.6 L634.0,1730.3 L636.0,1731.0 L638.0,1731.7 L640.0,1732.5 L642.0,1733.3 L644.0,1734.0 L646.0,1734.9 L648.0,1735.7 L650.0,1736.5 L652.0,1737.4 L654.0,1738.3 L656.0,1739.1 L658.0,1740.0 L660.0,1741.0 L662.0,1741.9 L664.0,1742.8 L666.0,1743.8 L668.0,1744.7 L670.0,1745.7 L672.0,1746.6 L674.0,1747.6 L676.0,1748.6 L678.0,1749.6 L680.0,1750.6 L682.0,1751.6 L684.0,1752.6 L686.0,1753.6 L688.0,1754.6 L690.0,1755.6 L692.0,1756.6 L694.0,1757.6 L696.0,1758.6 L698.0,1759.6 L700.0,1760.6 L702.0,1761.6 L704.0,1762.6 L706.0,1763.6 L708.0,1764.6 L710.0,1765.6 L712.0,1766.6 L714.0,1767.6 L716.0,1768.6 L718.0,1769.5 L720.0,1770.5 L722.0,1771.5 L724.0,1772.4 L726.0,1773.3 L728.0,1774.3 L730.0,1775.2 L732.0,1776.1 L734.0,1777.0 L736.0,1778.0 L738.0,1778.8 L740.0,1779.7 L742.0,1780.6 L744.0,1781.5 L746.0,1782.3 L748.0,1783.2 L750.0,1784.0 L752.0,1784.8 L754.0,1785.7 L756.0,1786.5 L758.0,1787.3 L760.0,1788.0 L762.0,1788.8 L764.0,1789.6 L766.0,1790.3 L768.0,1791.1 L770.0,1791.8 L772.0,1792.5 L774.0,1793.2 L776.0,1793.9 L778.0,1794.6 L780.0,1795.3 L782.0,1795.9 L784.0,1796.6 L786.0,1797.2 L788.0,1797.9 L790.0,1798.5 L792.0,1799.1 L794.0,1799.7 L796.0,1800.3 L798.0,1800.8 L800.0,1801.4 L802.0,1801.9 L804.0,1802.5 L806.0,1803.0 L808.0,1803.5 L810.0,1804.0 L812.0,1804.5 L814.0,1805.0 L816.0,1805.5 L818.0,1805.9 L820.0,1806.4 L822.0,1806.8 L824.0,1807.2 L826.0,1807.7 L828.0,1808.1 L830.0,1808.5 L832.0,1808.8 L834.0,1809.2 L836.0,1809.6 L838.0,1809.9 L840.0,1810.3 L842.0,1810.6 L844.0,1811.0 L846.0,1811.3 L848.0,1811.6 L850.0,1811.9 L852.0,1812.2 L854.0,1812.4 L856.0,1812.7 L858.0,1813.0 L860.0,1813.2 L862.0,1813.5 L864.0,1813.7 L866.0,1813.9 L868.0,1814.2 L870.0,1814.4 L872.0,1814.6 L874.0,1814.8 L876.0,1814.9 L878.0,1815.1 L880.0,1815.3 L882.0,1815.4 L884.0,1815.6 L886.0,1815.7 L888.0,1815.9 L890.0,1816.0 L892.0,1816.1 L894.0,1816.2 L896.0,1816.3 L898.0,1816.4 L900.0,1816.5 L902.0,1816.6 L904.0,1816.6 L906.0,1816.7 L908.0,1816.7 L910.0,1816.8 L912.0,1816.8 L914.0,1816.8 L916.0,1816.9 L918.0,1816.9 L920.0,1816.9 L922.0,1816.9 L924.0,1816.9 L926.0,1816.9 L928.0,1816.8 L930.0,1816.8 L932.0,1816.8 L934.0,1816.7 L936.0,1816.7 L938.0,1816.6 L940.0,1816.5 L942.0,1816.5 L944.0,1816.4 L946.0,1816.3 L948.0,1816.2 L950.0,1816.1 L952.0,1816.0 L954.0,1815.8 L956.0,1815.7 L958.0,1815.6 L960.0,1815.4 L962.0,1815.3 L964.0,1815.1 L966.0,1814.9 L968.0,1814.8 L970.0,1814.6 L972.0,1814.4 L974.0,1814.2 L976.0,1814.0 L978.0,1813.7 L980.0,1813.5 L982.0,1813.3 L984.0,1813.0 L986.0,1812.8 L988.0,1812.5 L990.0,1812.3 L992.0,1812.0 L994.0,1811.7 L996.0,1811.4 L998.0,1811.1 L1000.0,1810.8 L1002.0,1810.5 L1004.0,1810.1 L1006.0,1809.8 L1008.0,1809.4 L1010.0,1809.1 L1012.0,1808.7 L1014.0,1808.3 L1016.0,1808.0 L1018.0,1807.6 L1020.0,1807.2 L1022.0,1806.8 L1024.0,1806.3 L1026.0,1805.9 L1028.0,1805.5 L1030.0,1805.0 L1032.0,1804.5 L1034.0,1804.1 L1036.0,1803.6 L1038.0,1803.1 L1040.0,1802.6 L1042.0,1802.1 L1044.0,1801.6 L1046.0,1801.1 L1048.0,1800.5 L1050.0,1800.0 L1052.0,1799.4 L1054.0,1798.9 L1056.0,1798.3 L1058.0,1797.7 L1060.0,1797.1 L1062.0,1796.5 L1064.0,1795.9 L1066.0,1795.3 L1068.0,1794.6 L1070.0,1794.0 L1072.0,1793.3 L1074.0,1792.7 L1076.0,1792.0 L1078.0,1791.3 L1080.0,1790.6 L1082.0,1789.9 L1084.0,1789.2 L1086.0,1788.5 L1088.0,1787.8 L1090.0,1787.0 L1092.0,1786.3 L1094.0,1785.6 L1096.0,1784.8 L1098.0,1784.0 L1100.0,1783.3 L1102.0,1782.5 L1104.0,1781.7 L1106.0,1780.9 L1108.0,1780.1 L1110.0,1779.3 L1112.0,1778.5 L1114.0,1777.7 L1116.0,1776.8 L1118.0,1776.0 L1120.0,1775.2 L1122.0,1774.3 L1124.0,1773.5 L1126.0,1772.6 L1128.0,1771.8 L1130.0,1770.9 L1132.0,1770.1 L1134.0,1769.2 L1136.0,1768.3 L1138.0,1767.5 L1140.0,1766.6 L1142.0,1765.7 L1144.0,1764.9 L1146.0,1764.0 L1148.0,1763.1 L1150.0,1762.3 L1152.0,1761.4 L1154.0,1760.6 L1156.0,1759.7 L1158.0,1758.8 L1160.0,1758.0 L1162.0,1757.1 L1164.0,1756.3 L1166.0,1755.4 L1168.0,1754.6 L1170.0,1753.8 L1172.0,1753.0 L1174.0,1752.1 L1176.0,1751.3 L1178.0,1750.5 L1180.0,1749.7 L1182.0,1748.9 L1184.0,1748.2 L1186.0,1747.4 L1188.0,1746.6 L1190.0,1745.9 L1192.0,1745.2 L1194.0,1744.4 L1196.0,1743.7 L1198.0,1743.0 L1200.0,1742.3 L1202.0,1741.6 L1204.0,1741.0 L1206.0,1740.3 L1208.0,1739.7 L1210.0,1739.0 L1212.0,1738.4 L1214.0,1737.8 L1216.0,1737.2 L1218.0,1736.7 L1220.0,1736.1 L1222.0,1735.6 L1224.0,1735.0 L1226.0,1734.5 L1228.0,1734.0 L1230.0,1733.5 L1232.0,1733.0 L1234.0,1732.6 L1236.0,1732.1 L1238.0,1731.7 L1240.0,1731.2 L1242.0,1730.8 L1244.0,1730.4 L1246.0,1730.0 L1248.0,1729.7 L1250.0,1729.3 L1252.0,1728.9 L1254.0,1728.6 L1256.0,1728.2 L1258.0,1727.9 L1260.0,1727.6 L1262.0,1727.2 L1264.0,1726.9 L1266.0,1726.6 L1268.0,1726.3 L1270.0,1726.0 L1272.0,1725.7 L1274.0,1725.4 L1276.0,1725.1 L1278.0,1724.8 L1280.0,1724.6 L1282.0,1724.3 L1284.0,1724.0 L1286.0,1723.7 L1288.0,1723.4 L1290.0,1723.1 L1292.0,1722.8 L1294.0,1722.4 L1296.0,1722.1 L1298.0,1721.8 L1300.0,1721.5 L1302.0,1721.1 L1304.0,1720.7 L1306.0,1720.4 L1308.0,1720.0 L1310.0,1719.6 L1312.0,1719.2 L1314.0,1718.7 L1316.0,1718.3 L1318.0,1717.8 L1320.0,1717.3 L1322.0,1716.8 L1324.0,1716.3 L1326.0,1715.8 L1328.0,1715.2 L1330.0,1714.6 L1332.0,1714.0 L1334.0,1713.4 L1336.0,1712.7 L1338.0,1712.0 L1340.0,1711.3 L1342.0,1710.5 L1344.0,1709.8 L1346.0,1709.0 L1348.0,1708.1 L1350.0,1707.3 L1352.0,1706.4 L1354.0,1705.5 L1356.0,1704.5 L1358.0,1703.5 L1360.0,1702.5 L1362.0,1701.4 L1364.0,1700.3 L1366.0,1699.2 L1368.0,1698.1 L1370.0,1696.9 L1372.0,1695.7 L1374.0,1694.4 L1376.0,1693.1 L1378.0,1691.8 L1380.0,1690.4 L1382.0,1689.0 L1384.0,1687.6 L1386.0,1686.1 L1388.0,1684.6 L1390.0,1683.0 L1392.0,1681.5 L1394.0,1679.8 L1396.0,1678.2 L1398.0,1676.5 L1400.0,1674.8 L1402.0,1673.0 L1404.0,1671.3 L1406.0,1669.4 L1408.0,1667.6 L1410.0,1665.7 L1412.0,1663.8 L1414.0,1661.8 L1416.0,1659.9 L1418.0,1657.9 L1420.0,1655.8 L1422.0,1653.8 L1424.0,1651.7 L1426.0,1649.6 L1428.0,1647.4 L1430.0,1645.3 L1432.0,1643.1 L1434.0,1640.9 L1436.0,1638.7 L1438.0,1636.4 L1440.0,1634.1 L1442.0,1631.9 L1444.0,1629.6 L1446.0,1627.3 L1448.0,1624.9 L1450.0,1622.6 L1452.0,1620.2 L1454.0,1617.9 L1456.0,1615.5 L1458.0,1613.2 L1460.0,1610.8 L1462.0,1608.4 L1464.0,1606.1 L1466.0,1603.7 L1468.0,1601.3 L1470.0,1599.0 L1472.0,1596.6 L1474.0,1594.3 L1476.0,1591.9 L1478.0,1589.6 L1480.0,1587.3 L1482.0,1585.0 L1484.0,1582.8 L1486.0,1580.5 L1488.0,1578.3 L1490.0,1576.1 L1492.0,1573.9 L1494.0,1571.8 L1496.0,1569.7 L1498.0,1567.6 L1500.0,1565.5 L1502.0,1563.5 L1504.0,1561.6 L1506.0,1559.6 L1508.0,1557.8 L1510.0,1555.9 L1512.0,1554.1 L1514.0,1552.4 L1516.0,1550.7 L1518.0,1549.1 L1520.0,1547.5 L1522.0,1546.0 L1524.0,1544.5 L1526.0,1543.1 L1528.0,1541.7 L1530.0,1540.4 L1532.0,1539.2 L1534.0,1538.1 L1536.0,1537.0 L1538.0,1536.0 L1540.0,1535.0 L1542.0,1534.1 L1544.0,1533.3 L1546.0,1532.6 L1548.0,1531.9 L1550.0,1531.3 L1552.0,1530.8 L1554.0,1530.4 L1556.0,1530.0 L1558.0,1529.8 L1560.0,1529.6 L1562.0,1529.4 L1564.0,1529.4 L1566.0,1529.4 L1568.0,1529.5 L1570.0,1529.7 L1572.0,1530.0 L1574.0,1530.4 L1576.0,1530.8 L1578.0,1531.3 L1580.0,1531.9 L1582.0,1532.6 L1584.0,1533.3 L1586.0,1534.2 L1588.0,1535.1 L1590.0,1536.0 L1592.0,1537.1 L1594.0,1538.2 L1596.0,1539.4 L1598.0,1540.7 L1600.0,1542.0 L1602.0,1543.4 L1604.0,1544.9 L1606.0,1546.4 L1608.0,1548.0 L1610.0,1549.7 L1612.0,1551.5 L1614.0,1553.2 L1616.0,1555.1 L1618.0,1557.0 L1620.0,1559.0 L1622.0,1561.0 L1624.0,1563.1 L1626.0,1565.2 L1628.0,1567.4 L1630.0,1569.6 L1632.0,1571.9 L1634.0,1574.2 L1636.0,1576.5 L1638.0,1578.9 L1640.0,1581.4 L1642.0,1583.8 L1644.0,1586.3 L1646.0,1588.9 L1648.0,1591.4 L1650.0,1594.0 L1652.0,1596.7 L1654.0,1599.3 L1656.0,1602.0 L1658.0,1604.7 L1660.0,1607.4 L1662.0,1610.1 L1664.0,1612.8 L1666.0,1615.6 L1668.0,1618.3 L1670.0,1621.1 L1672.0,1623.9 L1674.0,1626.7 L1676.0,1629.5 L1678.0,1632.3 L1680.0,1635.1 L1682.0,1637.9 L1684.0,1640.7 L1686.0,1643.5 L1688.0,1646.3 L1690.0,1649.1 L1692.0,1651.9 L1694.0,1654.6 L1696.0,1657.4 L1698.0,1660.1 L1700.0,1662.9 L1702.0,1665.6 L1704.0,1668.3 L1706.0,1671.0 L1708.0,1673.7 L1710.0,1676.4 L1712.0,1679.0 L1714.0,1681.7 L1716.0,1684.3 L1718.0,1686.9 L1720.0,1689.4 L1722.0,1692.0 L1724.0,1694.5 L1726.0,1697.0 L1728.0,1699.5 L1730.0,1701.9 L1732.0,1704.4 L1734.0,1706.8 L1736.0,1709.1 L1738.0,1711.5 L1740.0,1713.8 L1742.0,1716.1 L1744.0,1718.4 L1746.0,1720.6 L1748.0,1722.8 L1750.0,1725.0 L1752.0,1727.1 L1754.0,1729.3 L1756.0,1731.3 L1758.0,1733.4 L1760.0,1735.4 L1762.0,1737.4 L1764.0,1739.4 L1766.0,1741.3 L1768.0,1743.3 L1770.0,1745.1 L1772.0,1747.0 L1774.0,1748.8 L1776.0,1750.6 L1778.0,1752.4 L1780.0,1754.1 L1782.0,1755.8 L1784.0,1757.5 L1786.0,1759.1 L1788.0,1760.7 L1790.0,1762.3 L1792.0,1763.8 L1794.0,1765.4 L1796.0,1766.9 L1798.0,1768.3 L1800.0,1769.8 L1802.0,1771.2 L1804.0,1772.6 L1806.0,1773.9 L1808.0,1775.2 L1810.0,1776.5 L1812.0,1777.8 L1814.0,1779.1 L1816.0,1780.3 L1818.0,1781.5 L1820.0,1782.7 L1822.0,1783.8 L1824.0,1784.9 L1826.0,1786.0 L1828.0,1787.1 L1830.0,1788.1 L1832.0,1789.2 L1834.0,1790.2 L1836.0,1791.2 L1838.0,1792.1 L1840.0,1793.0 L1842.0,1794.0 L1844.0,1794.9 L1846.0,1795.7 L1848.0,1796.6 L1850.0,1797.4 L1852.0,1798.2 L1854.0,1799.0 L1856.0,1799.8 L1858.0,1800.5 L1860.0,1801.3 L1862.0,1802.0 L1864.0,1802.7 L1866.0,1803.4 L1868.0,1804.0 L1870.0,1804.7 L1872.0,1805.3 L1874.0,1805.9 L1876.0,1806.5 L1878.0,1807.1 L1880.0,1807.6 L1882.0,1808.2 L1884.0,1808.7 L1886.0,1809.2 L1888.0,1809.8 L1890.0,1810.2 L1892.0,1810.7 L1894.0,1811.2 L1896.0,1811.6 L1898.0,1812.1 L1900.0,1812.5 L1902.0,1812.9 L1904.0,1813.3 L1906.0,1813.7 L1908.0,1814.1 L1910.0,1814.5 L1912.0,1814.8 L1914.0,1815.2 L1916.0,1815.5 L1918.0,1815.9 L1920.0,1816.2 L1922.0,1816.5 L1924.0,1816.8 L1926.0,1817.1 L1928.0,1817.4 L1930.0,1817.6 L1932.0,1817.9 L1934.0,1818.2 L1936.0,1818.4 L1938.0,1818.6 L1940.0,1818.9 L1942.0,1819.1 L1944.0,1819.3 L1946.0,1819.5 L1948.0,1819.8 L1950.0,1820.0 L1952.0,1820.1 L1954.0,1820.3 L1956.0,1820.5 L1958.0,1820.7 L1960.0,1820.9 L1962.0,1821.0 L1964.0,1821.2 L1966.0,1821.3 L1968.0,1821.5 L1970.0,1821.6 L1972.0,1821.8 L1974.0,1821.9 L1976.0,1822.0 L1978.0,1822.2 L1980.0,1822.3 L1982.0,1822.4 L1984.0,1822.5 L1986.0,1822.6 L1988.0,1822.7 L1990.0,1822.8 L1992.0,1822.9 L1994.0,1823.0 L1996.0,1823.1 L1998.0,1823.2 L2000.0,1823.3 L2002.0,1823.4 L2004.0,1823.4 L2006.0,1823.5 L2008.0,1823.6" stroke="#000" stroke-width="6.5" fill="none" stroke-linejoin="round"/>
</g>
<line x1="627" y1="274" x2="609" y2="1893" stroke="#000" stroke-width="10" stroke-dasharray="40 19 15 18 15 19"/><line x1="1295" y1="203" x2="1217" y2="1845" stroke="#000" stroke-width="10" stroke-dasharray="40 19 15 18 15 19"/><line x1="1549" y1="106" x2="1590" y2="1851" stroke="#000" stroke-width="10" stroke-dasharray="40 19 15 18 15 19"/>
<rect x="150" y="54" width="1859" height="1892" fill="none" stroke="#000" stroke-width="10"/>
<rect x="145.0" y="1946" width="10" height="48" fill="#000"/><rect x="187.2" y="1946" width="10" height="24" fill="#000"/><rect x="229.5" y="1946" width="10" height="24" fill="#000"/><rect x="271.8" y="1946" width="10" height="24" fill="#000"/><rect x="314.0" y="1946" width="10" height="24" fill="#000"/><rect x="356.2" y="1946" width="10" height="24" fill="#000"/><rect x="398.5" y="1946" width="10" height="24" fill="#000"/><rect x="440.8" y="1946" width="10" height="24" fill="#000"/><rect x="483.0" y="1946" width="10" height="24" fill="#000"/><rect x="525.2" y="1946" width="10" height="24" fill="#000"/><rect x="567.5" y="1946" width="10" height="48" fill="#000"/><rect x="609.8" y="1946" width="10" height="24" fill="#000"/><rect x="652.0" y="1946" width="10" height="24" fill="#000"/><rect x="694.2" y="1946" width="10" height="24" fill="#000"/><rect x="736.5" y="1946" width="10" height="24" fill="#000"/><rect x="778.8" y="1946" width="10" height="24" fill="#000"/><rect x="821.0" y="1946" width="10" height="24" fill="#000"/><rect x="863.2" y="1946" width="10" height="24" fill="#000"/><rect x="905.5" y="1946" width="10" height="24" fill="#000"/><rect x="947.8" y="1946" width="10" height="24" fill="#000"/><rect x="990.0" y="1946" width="10" height="48" fill="#000"/><rect x="1032.2" y="1946" width="10" height="24" fill="#000"/><rect x="1074.5" y="1946" width="10" height="24" fill="#000"/><rect x="1116.8" y="1946" width="10" height="24" fill="#000"/><rect x="1159.0" y="1946" width="10" height="24" fill="#000"/><rect x="1201.2" y="1946" width="10" height="24" fill="#000"/><rect x="1243.5" y="1946" width="10" height="24" fill="#000"/><rect x="1285.8" y="1946" width="10" height="24" fill="#000"/><rect x="1328.0" y="1946" width="10" height="24" fill="#000"/><rect x="1370.2" y="1946" width="10" height="24" fill="#000"/><rect x="1412.5" y="1946" width="10" height="48" fill="#000"/><rect x="1454.8" y="1946" width="10" height="24" fill="#000"/><rect x="1497.0" y="1946" width="10" height="24" fill="#000"/><rect x="1539.2" y="1946" width="10" height="24" fill="#000"/><rect x="1581.5" y="1946" width="10" height="24" fill="#000"/><rect x="1623.8" y="1946" width="10" height="24" fill="#000"/><rect x="1666.0" y="1946" width="10" height="24" fill="#000"/><rect x="1708.2" y="1946" width="10" height="24" fill="#000"/><rect x="1750.5" y="1946" width="10" height="24" fill="#000"/><rect x="1792.8" y="1946" width="10" height="24" fill="#000"/><rect x="1835.0" y="1946" width="10" height="48" fill="#000"/><rect x="1877.2" y="1946" width="10" height="24" fill="#000"/><rect x="1919.5" y="1946" width="10" height="24" fill="#000"/><rect x="1961.8" y="1946" width="10" height="24" fill="#000"/><rect x="2004.0" y="1946" width="10" height="24" fill="#000"/>
<text x="151.7" y="2100" text-anchor="middle" class="b" font-size="95">950</text><text x="574.2" y="2100" text-anchor="middle" class="b" font-size="95">945</text><text x="996.7" y="2100" text-anchor="middle" class="b" font-size="95">940</text><text x="1419.2" y="2100" text-anchor="middle" class="b" font-size="95">935</text><text x="1841.7" y="2100" text-anchor="middle" class="b" font-size="95">930</text>
<text x="757.9" y="2216" class="b" font-size="92" textLength="792.7" lengthAdjust="spacingAndGlyphs">Binding energy (eV)</text>
<text transform="translate(87.5,1279) rotate(-90)" class="b" font-size="92" textLength="551.3" lengthAdjust="spacingAndGlyphs">Intensity (a.u)</text>
<text x="421.9" y="224.5" class="b" font-size="84" textLength="477.5" lengthAdjust="spacingAndGlyphs">Satalite of Cu</text>
<text x="897.9" y="190.6" class="b" font-size="57">2</text>
<text x="923.8" y="193" class="r" font-size="65">+</text>
<text x="1254" y="211.5" class="b" font-size="83" textLength="100.5" lengthAdjust="spacingAndGlyphs">Cu</text>
<text x="1356.7" y="178.4" class="b" font-size="57">2</text>
<text x="1383.8" y="181.1" class="r" font-size="65">+</text>
<text x="205" y="300" class="b" font-size="97">a</text>
<text x="203" y="707" class="b" font-size="97">b</text>
<text x="218" y="1162" class="b" font-size="97">c</text>
<text x="220" y="1715" class="b" font-size="97">d</text>
<g class="r" font-size="87" stroke="#000" stroke-width="1.4">
<text transform="translate(1576.6,124) scale(0.93,1)">9</text><text transform="translate(1618.7,124) scale(0.93,1)">3</text><text transform="translate(1660.5,124) scale(0.93,1)">3</text><text x="1700" y="124">.</text><text transform="translate(1743.9,124) scale(0.93,1)">6</text>
</g>
<g class="r" font-size="86" stroke="#000" stroke-width="1.4">
<text transform="translate(1627.6,213) scale(0.785,1)">C</text><text x="1670.1" y="213">u</text><text transform="translate(1710.1,213) scale(1.09,1)">0</text>
</g>
<defs><clipPath id="c"><rect x="150" y="54" width="1859" height="1892"/></clipPath></defs>
</svg>
</body></html>
